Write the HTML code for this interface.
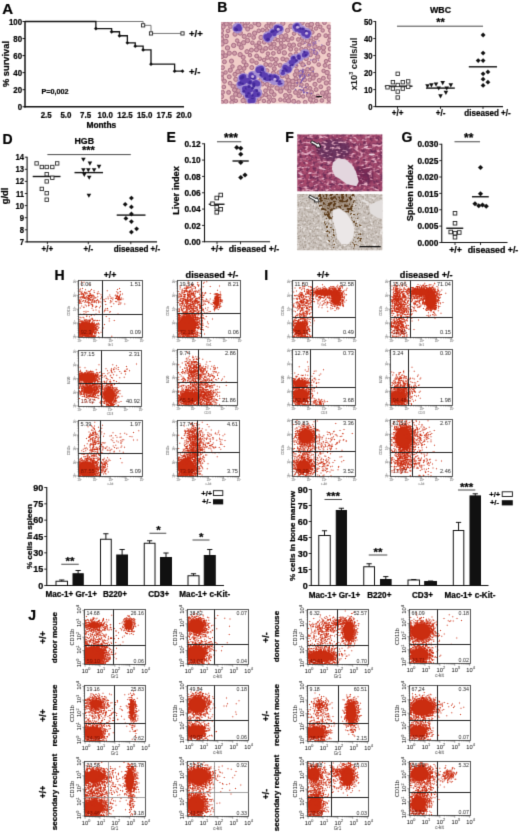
<!DOCTYPE html>
<html><head><meta charset="utf-8"><title>Figure</title>
<style>
html,body{margin:0;padding:0;background:#fff;}
body{width:520px;height:833px;overflow:hidden;}
svg{display:block;font-family:"Liberation Sans",sans-serif;}
</style></head><body>
<svg width="520" height="833" viewBox="0 0 520 833">
<g filter="url(#soft)"><rect width="520" height="833" fill="#fff"/>
<defs>
<clipPath id="cB"><rect x="221.2" y="22" width="109.4" height="81.6"/></clipPath>
<clipPath id="cF1"><rect x="297.3" y="134.6" width="85" height="56.6"/></clipPath>
<clipPath id="cF2"><rect x="297.3" y="194" width="85" height="56.2"/></clipPath>
<filter id="soft" filterUnits="userSpaceOnUse" x="0" y="0" width="520" height="833" color-interpolation-filters="sRGB"><feConvolveMatrix order="3" kernelMatrix="0 1 0 1 5 1 0 1 0" divisor="9" edgeMode="duplicate" preserveAlpha="true"/></filter>
<filter id="bl3" x="0" y="0" width="100%" height="100%" color-interpolation-filters="sRGB"><feConvolveMatrix order="3" kernelMatrix="1 2 1 2 4 2 1 2 1" divisor="16" edgeMode="duplicate" preserveAlpha="false"/></filter>
<filter id="bl6" x="-5%" y="-5%" width="110%" height="110%"><feGaussianBlur stdDeviation="0.7"/></filter>
<filter id="bl12" x="-20%" y="-20%" width="140%" height="140%"><feGaussianBlur stdDeviation="1.6"/></filter>
<filter color-interpolation-filters="sRGB" id="nDark" x="0" y="0" width="100%" height="100%">
 <feTurbulence type="fractalNoise" baseFrequency="0.3" numOctaves="2" seed="4"/>
 <feColorMatrix type="matrix" values="0 0 0 0 0.40  0 0 0 0 0.16  0 0 0 0 0.33  2.7 0 0 0 -1.15"/>
</filter>
<filter color-interpolation-filters="sRGB" id="nLight" x="0" y="0" width="100%" height="100%">
 <feTurbulence type="fractalNoise" baseFrequency="0.22 0.36" numOctaves="2" seed="11"/>
 <feColorMatrix type="matrix" values="0 0 0 0 0.90  0 0 0 0 0.68  0 0 0 0 0.76  0 4.2 0 0 -2.2"/>
</filter>
<filter color-interpolation-filters="sRGB" id="nGrey" x="0" y="0" width="100%" height="100%">
 <feTurbulence type="fractalNoise" baseFrequency="0.45" numOctaves="2" seed="7"/>
 <feColorMatrix type="matrix" values="0 0 0 0 0.60  0 0 0 0 0.55  0 0 0 0 0.50  2.2 0 0 0 -1.0"/>
</filter>
<filter color-interpolation-filters="sRGB" id="nWhite" x="0" y="0" width="100%" height="100%">
 <feTurbulence type="fractalNoise" baseFrequency="0.3" numOctaves="2" seed="21"/>
 <feColorMatrix type="matrix" values="0 0 0 0 0.93  0 0 0 0 0.91  0 0 0 0 0.9  0 3.6 0 0 -1.9"/>
</filter>
<filter color-interpolation-filters="sRGB" id="nBrown2" x="0" y="0" width="100%" height="100%">
 <feTurbulence type="fractalNoise" baseFrequency="0.45" numOctaves="2" seed="9"/>
 <feColorMatrix type="matrix" values="0 0 0 0 0.40  0 0 0 0 0.28  0 0 0 0 0.14  9 0 0 0 -5.1"/>
 <feComposite operator="in" in2="SourceGraphic"/>
</filter>
<filter color-interpolation-filters="sRGB" id="nSpk" x="0" y="0" width="100%" height="100%">
 <feTurbulence type="fractalNoise" baseFrequency="0.6" numOctaves="2" seed="31"/>
 <feColorMatrix type="matrix" values="0 0 0 0 0.50  0 0 0 0 0.45  0 0 0 0 0.40  0 0 4 0 -2.7"/>
</filter>
<filter color-interpolation-filters="sRGB" id="nBrown" x="0" y="0" width="100%" height="100%">
 <feTurbulence type="fractalNoise" baseFrequency="0.36" numOctaves="2" seed="5"/>
 <feColorMatrix type="matrix" values="0 0 0 0 0.36  0 0 0 0 0.23  0 0 0 0 0.10  9 0 0 0 -4.4"/>
 <feComposite operator="in" in2="SourceGraphic"/>
</filter>
</defs>
<text x="2.3" y="13.6" font-size="15" text-anchor="start" font-weight="bold" stroke="#000" stroke-width=".22" fill="#000">A</text>
<path d="M25 21L25 107.45" stroke="#111" stroke-width="1.5" fill="none"/>
<path d="M24.3 106.75L184 106.75" stroke="#111" stroke-width="1.5" fill="none"/>
<path d="M22.5 106.75L25 106.75" stroke="#111" stroke-width="1" fill="none"/>
<text font-size="9.2" text-anchor="end" font-weight="bold" stroke="#000" stroke-width=".22" transform="translate(22.1 109.95) scale(.86 1)" fill="#000">0</text>
<path d="M22.5 89.7L25 89.7" stroke="#111" stroke-width="1" fill="none"/>
<text font-size="9.2" text-anchor="end" font-weight="bold" stroke="#000" stroke-width=".22" transform="translate(22.1 92.9) scale(.86 1)" fill="#000">20</text>
<path d="M22.5 72.65L25 72.65" stroke="#111" stroke-width="1" fill="none"/>
<text font-size="9.2" text-anchor="end" font-weight="bold" stroke="#000" stroke-width=".22" transform="translate(22.1 75.85) scale(.86 1)" fill="#000">40</text>
<path d="M22.5 55.6L25 55.6" stroke="#111" stroke-width="1" fill="none"/>
<text font-size="9.2" text-anchor="end" font-weight="bold" stroke="#000" stroke-width=".22" transform="translate(22.1 58.8) scale(.86 1)" fill="#000">60</text>
<path d="M22.5 38.55L25 38.55" stroke="#111" stroke-width="1" fill="none"/>
<text font-size="9.2" text-anchor="end" font-weight="bold" stroke="#000" stroke-width=".22" transform="translate(22.1 41.75) scale(.86 1)" fill="#000">80</text>
<path d="M22.5 21.5L25 21.5" stroke="#111" stroke-width="1" fill="none"/>
<text font-size="9.2" text-anchor="end" font-weight="bold" stroke="#000" stroke-width=".22" transform="translate(22.1 24.7) scale(.86 1)" fill="#000">100</text>
<text font-size="8.8" text-anchor="middle" font-weight="bold" stroke="#000" stroke-width=".22" transform="translate(46.19 118) scale(.9 1)" fill="#000">2.5</text>
<text font-size="8.8" text-anchor="middle" font-weight="bold" stroke="#000" stroke-width=".22" transform="translate(65.88 118) scale(.9 1)" fill="#000">5.0</text>
<text font-size="8.8" text-anchor="middle" font-weight="bold" stroke="#000" stroke-width=".22" transform="translate(85.56 118) scale(.9 1)" fill="#000">7.5</text>
<text font-size="8.8" text-anchor="middle" font-weight="bold" stroke="#000" stroke-width=".22" transform="translate(105.25 118) scale(.9 1)" fill="#000">10.0</text>
<text font-size="8.8" text-anchor="middle" font-weight="bold" stroke="#000" stroke-width=".22" transform="translate(124.94 118) scale(.9 1)" fill="#000">12.5</text>
<text font-size="8.8" text-anchor="middle" font-weight="bold" stroke="#000" stroke-width=".22" transform="translate(144.62 118) scale(.9 1)" fill="#000">15.0</text>
<text font-size="8.8" text-anchor="middle" font-weight="bold" stroke="#000" stroke-width=".22" transform="translate(164.31 118) scale(.9 1)" fill="#000">17.5</text>
<text font-size="8.8" text-anchor="middle" font-weight="bold" stroke="#000" stroke-width=".22" transform="translate(184 118) scale(.9 1)" fill="#000">20.0</text>
<text x="9.3" y="64" font-size="9.3" text-anchor="middle" font-weight="bold" stroke="#000" stroke-width=".22" transform="rotate(-90 9.3 64)" fill="#000">% survival</text>
<text x="101.3" y="128.3" font-size="8.4" text-anchor="middle" font-weight="bold" stroke="#000" stroke-width=".22" fill="#000">Months</text>
<text x="41.5" y="94.3" font-size="7.2" text-anchor="start" font-weight="bold" stroke="#000" stroke-width=".22" fill="#000">P=0,002</text>
<path d="M25 21.5L143.12 21.5L143.12 25.34L151 25.34L151 33.44L182.5 33.44" stroke="#666" stroke-width=".9" fill="none"/>
<rect x="141.53" y="23.74" width="3.2" height="3.2" fill="#fff" stroke="#222" stroke-width=".9"/>
<rect x="149.4" y="31.84" width="3.2" height="3.2" fill="#fff" stroke="#222" stroke-width=".9"/>
<rect x="180.9" y="31.84" width="3.2" height="3.2" fill="#fff" stroke="#222" stroke-width=".9"/>
<path d="M25 21.5L95.88 21.5L95.88 28.58L111.62 28.58L111.62 31.73L119.5 31.73L119.5 35.74L127.38 35.74L127.38 42.81L135.25 42.81L135.25 46.22L143.12 46.22L143.12 49.89L151 49.89L151 64.12L174.62 64.12L174.62 71.2L182.5 71.2" stroke="#111" stroke-width="1.3" fill="none"/>
<path d="M95.88 26.68l1.9 1.9l-1.9 1.9l-1.9 -1.9z" fill="#111"/>
<path d="M111.62 29.83l1.9 1.9l-1.9 1.9l-1.9 -1.9z" fill="#111"/>
<path d="M119.5 33.84l1.9 1.9l-1.9 1.9l-1.9 -1.9z" fill="#111"/>
<path d="M127.38 40.91l1.9 1.9l-1.9 1.9l-1.9 -1.9z" fill="#111"/>
<path d="M135.25 44.32l1.9 1.9l-1.9 1.9l-1.9 -1.9z" fill="#111"/>
<path d="M143.12 47.99l1.9 1.9l-1.9 1.9l-1.9 -1.9z" fill="#111"/>
<path d="M151 62.23l1.9 1.9l-1.9 1.9l-1.9 -1.9z" fill="#111"/>
<path d="M174.62 69.3l1.9 1.9l-1.9 1.9l-1.9 -1.9z" fill="#111"/>
<path d="M182.5 69.3l1.9 1.9l-1.9 1.9l-1.9 -1.9z" fill="#111"/>
<text x="189" y="36.5" font-size="9.5" text-anchor="start" font-weight="bold" stroke="#000" stroke-width=".22" fill="#000">+/+</text>
<text x="189" y="74.5" font-size="9.5" text-anchor="start" font-weight="bold" stroke="#000" stroke-width=".22" fill="#000">+/-</text>
<text x="217.3" y="12.3" font-size="14" text-anchor="start" font-weight="bold" stroke="#000" stroke-width=".22" fill="#000">B</text>
<g clip-path="url(#cB)"><g>
<rect x="219.2" y="20" width="113.4" height="85.6" fill="#f0ccc8"/>
<circle cx="294.11" cy="33.64" r="1.79" fill="#cf9ca8" stroke="#a66c84" stroke-width="1"/>
<circle cx="222.39" cy="52.58" r="1.99" fill="#cf9ca8" stroke="#a66c84" stroke-width="1"/>
<circle cx="296.75" cy="71.08" r="2.2" fill="#cf9ca8" stroke="#a66c84" stroke-width="1"/>
<circle cx="282.27" cy="75.96" r="1.92" fill="#cf9ca8" stroke="#a66c84" stroke-width="1"/>
<circle cx="320.31" cy="26.8" r="1.75" fill="#cf9ca8" stroke="#a66c84" stroke-width="1"/>
<circle cx="310.78" cy="28.09" r="2.03" fill="#cf9ca8" stroke="#a66c84" stroke-width="1"/>
<circle cx="296.35" cy="49.5" r="1.76" fill="#cf9ca8" stroke="#a66c84" stroke-width="1"/>
<circle cx="265.46" cy="90.74" r="1.9" fill="#cf9ca8" stroke="#a66c84" stroke-width="1"/>
<circle cx="223.24" cy="26.96" r="2.01" fill="#cf9ca8" stroke="#a66c84" stroke-width="1"/>
<circle cx="329.19" cy="99.25" r="2.1" fill="#cf9ca8" stroke="#a66c84" stroke-width="1"/>
<circle cx="226.82" cy="35.97" r="1.84" fill="#cf9ca8" stroke="#a66c84" stroke-width="1"/>
<circle cx="310.44" cy="54.68" r="2" fill="#cf9ca8" stroke="#a66c84" stroke-width="1"/>
<circle cx="267.02" cy="70.63" r="1.98" fill="#cf9ca8" stroke="#a66c84" stroke-width="1"/>
<circle cx="273.36" cy="53.38" r="1.93" fill="#cf9ca8" stroke="#a66c84" stroke-width="1"/>
<circle cx="224.54" cy="81.27" r="1.99" fill="#cf9ca8" stroke="#a66c84" stroke-width="1"/>
<circle cx="246.91" cy="51.65" r="2.03" fill="#cf9ca8" stroke="#a66c84" stroke-width="1"/>
<circle cx="277.14" cy="88.1" r="2.25" fill="#cf9ca8" stroke="#a66c84" stroke-width="1"/>
<circle cx="277.98" cy="40.13" r="1.81" fill="#cf9ca8" stroke="#a66c84" stroke-width="1"/>
<circle cx="267.94" cy="53.68" r="1.83" fill="#cf9ca8" stroke="#a66c84" stroke-width="1"/>
<circle cx="281.37" cy="36.53" r="2.13" fill="#cf9ca8" stroke="#a66c84" stroke-width="1"/>
<circle cx="251.45" cy="50.08" r="2" fill="#cf9ca8" stroke="#a66c84" stroke-width="1"/>
<circle cx="290.88" cy="26.25" r="2.2" fill="#cf9ca8" stroke="#a66c84" stroke-width="1"/>
<circle cx="252.04" cy="60.86" r="2.22" fill="#cf9ca8" stroke="#a66c84" stroke-width="1"/>
<circle cx="326.09" cy="61.25" r="1.83" fill="#cf9ca8" stroke="#a66c84" stroke-width="1"/>
<circle cx="325.77" cy="35.67" r="1.9" fill="#cf9ca8" stroke="#a66c84" stroke-width="1"/>
<circle cx="261.04" cy="37.44" r="2.19" fill="#cf9ca8" stroke="#a66c84" stroke-width="1"/>
<circle cx="303.09" cy="96.42" r="1.8" fill="#cf9ca8" stroke="#a66c84" stroke-width="1"/>
<circle cx="221.93" cy="43.89" r="2.25" fill="#cf9ca8" stroke="#a66c84" stroke-width="1"/>
<circle cx="247.63" cy="22.7" r="1.95" fill="#cf9ca8" stroke="#a66c84" stroke-width="1"/>
<circle cx="225.58" cy="72.52" r="1.79" fill="#cf9ca8" stroke="#a66c84" stroke-width="1"/>
<circle cx="328.83" cy="103.48" r="1.97" fill="#cf9ca8" stroke="#a66c84" stroke-width="1"/>
<circle cx="312.22" cy="74.18" r="2.15" fill="#cf9ca8" stroke="#a66c84" stroke-width="1"/>
<circle cx="246.31" cy="65.02" r="1.94" fill="#cf9ca8" stroke="#a66c84" stroke-width="1"/>
<circle cx="273.43" cy="73.16" r="2.08" fill="#cf9ca8" stroke="#a66c84" stroke-width="1"/>
<circle cx="319.04" cy="35.23" r="1.79" fill="#cf9ca8" stroke="#a66c84" stroke-width="1"/>
<circle cx="298.29" cy="39.47" r="1.89" fill="#cf9ca8" stroke="#a66c84" stroke-width="1"/>
<circle cx="252.38" cy="42.8" r="1.84" fill="#cf9ca8" stroke="#a66c84" stroke-width="1"/>
<circle cx="295.95" cy="78.64" r="1.92" fill="#cf9ca8" stroke="#a66c84" stroke-width="1"/>
<circle cx="235.61" cy="94.33" r="2.1" fill="#cf9ca8" stroke="#a66c84" stroke-width="1"/>
<circle cx="268.82" cy="101.93" r="1.81" fill="#cf9ca8" stroke="#a66c84" stroke-width="1"/>
<circle cx="321.84" cy="100.5" r="1.84" fill="#cf9ca8" stroke="#a66c84" stroke-width="1"/>
<circle cx="285.57" cy="95.52" r="2.1" fill="#cf9ca8" stroke="#a66c84" stroke-width="1"/>
<circle cx="307.54" cy="69.34" r="1.87" fill="#cf9ca8" stroke="#a66c84" stroke-width="1"/>
<circle cx="282.83" cy="23.4" r="2.13" fill="#cf9ca8" stroke="#a66c84" stroke-width="1"/>
<circle cx="298.89" cy="95.75" r="1.9" fill="#cf9ca8" stroke="#a66c84" stroke-width="1"/>
<circle cx="308.47" cy="95.23" r="2.13" fill="#cf9ca8" stroke="#a66c84" stroke-width="1"/>
<circle cx="262.71" cy="30.02" r="1.83" fill="#cf9ca8" stroke="#a66c84" stroke-width="1"/>
<circle cx="259.84" cy="47.47" r="2.2" fill="#cf9ca8" stroke="#a66c84" stroke-width="1"/>
<circle cx="323.38" cy="78.23" r="1.96" fill="#cf9ca8" stroke="#a66c84" stroke-width="1"/>
<circle cx="264.32" cy="42.05" r="2.06" fill="#cf9ca8" stroke="#a66c84" stroke-width="1"/>
<circle cx="265.71" cy="48.41" r="2.02" fill="#cf9ca8" stroke="#a66c84" stroke-width="1"/>
<circle cx="304.3" cy="75.81" r="1.81" fill="#cf9ca8" stroke="#a66c84" stroke-width="1"/>
<circle cx="323.46" cy="51.83" r="1.93" fill="#cf9ca8" stroke="#a66c84" stroke-width="1"/>
<circle cx="224.45" cy="61.81" r="1.98" fill="#cf9ca8" stroke="#a66c84" stroke-width="1"/>
<circle cx="324.45" cy="22.63" r="1.93" fill="#cf9ca8" stroke="#a66c84" stroke-width="1"/>
<circle cx="243.23" cy="57.29" r="2.03" fill="#cf9ca8" stroke="#a66c84" stroke-width="1"/>
<circle cx="245.31" cy="96.98" r="2.22" fill="#cf9ca8" stroke="#a66c84" stroke-width="1"/>
<circle cx="313.41" cy="42.39" r="1.9" fill="#cf9ca8" stroke="#a66c84" stroke-width="1"/>
<circle cx="271.48" cy="91.75" r="2.17" fill="#cf9ca8" stroke="#a66c84" stroke-width="1"/>
<circle cx="293.76" cy="101.35" r="2.1" fill="#cf9ca8" stroke="#a66c84" stroke-width="1"/>
<circle cx="256.46" cy="62.79" r="1.81" fill="#cf9ca8" stroke="#a66c84" stroke-width="1"/>
<circle cx="309.11" cy="45.31" r="2.04" fill="#cf9ca8" stroke="#a66c84" stroke-width="1"/>
<circle cx="323.61" cy="70.86" r="1.77" fill="#cf9ca8" stroke="#a66c84" stroke-width="1"/>
<circle cx="319.36" cy="48.19" r="1.77" fill="#cf9ca8" stroke="#a66c84" stroke-width="1"/>
<circle cx="234.97" cy="74.3" r="2.04" fill="#cf9ca8" stroke="#a66c84" stroke-width="1"/>
<circle cx="249.99" cy="55.2" r="1.77" fill="#cf9ca8" stroke="#a66c84" stroke-width="1"/>
<circle cx="243.64" cy="42.78" r="2.19" fill="#cf9ca8" stroke="#a66c84" stroke-width="1"/>
<circle cx="254.62" cy="33.2" r="2.21" fill="#cf9ca8" stroke="#a66c84" stroke-width="1"/>
<circle cx="317.45" cy="24.01" r="1.81" fill="#cf9ca8" stroke="#a66c84" stroke-width="1"/>
<circle cx="254.94" cy="23.06" r="1.97" fill="#cf9ca8" stroke="#a66c84" stroke-width="1"/>
<circle cx="253.65" cy="37.51" r="1.9" fill="#cf9ca8" stroke="#a66c84" stroke-width="1"/>
<circle cx="241.34" cy="47.46" r="2.06" fill="#cf9ca8" stroke="#a66c84" stroke-width="1"/>
<circle cx="287.59" cy="30.35" r="2.19" fill="#cf9ca8" stroke="#a66c84" stroke-width="1"/>
<circle cx="296.14" cy="65.76" r="1.82" fill="#cf9ca8" stroke="#a66c84" stroke-width="1"/>
<circle cx="270.26" cy="65.05" r="2.09" fill="#cf9ca8" stroke="#a66c84" stroke-width="1"/>
<circle cx="292.47" cy="87.34" r="1.95" fill="#cf9ca8" stroke="#a66c84" stroke-width="1"/>
<circle cx="299.42" cy="44.73" r="1.86" fill="#cf9ca8" stroke="#a66c84" stroke-width="1"/>
<circle cx="228.03" cy="30.82" r="1.88" fill="#cf9ca8" stroke="#a66c84" stroke-width="1"/>
<circle cx="230.42" cy="26.6" r="1.91" fill="#cf9ca8" stroke="#a66c84" stroke-width="1"/>
<circle cx="288.57" cy="100.8" r="2.21" fill="#cf9ca8" stroke="#a66c84" stroke-width="1"/>
<circle cx="326.28" cy="82.93" r="2.13" fill="#cf9ca8" stroke="#a66c84" stroke-width="1"/>
<circle cx="280.61" cy="47.78" r="2.24" fill="#cf9ca8" stroke="#a66c84" stroke-width="1"/>
<circle cx="247.64" cy="29.11" r="2" fill="#cf9ca8" stroke="#a66c84" stroke-width="1"/>
<circle cx="286.85" cy="76.6" r="2.07" fill="#cf9ca8" stroke="#a66c84" stroke-width="1"/>
<circle cx="242.51" cy="72.95" r="2" fill="#cf9ca8" stroke="#a66c84" stroke-width="1"/>
<circle cx="280.38" cy="99.71" r="1.8" fill="#cf9ca8" stroke="#a66c84" stroke-width="1"/>
<circle cx="302.7" cy="42.57" r="1.9" fill="#cf9ca8" stroke="#a66c84" stroke-width="1"/>
<circle cx="266.98" cy="30.35" r="1.81" fill="#cf9ca8" stroke="#a66c84" stroke-width="1"/>
<circle cx="284.34" cy="52.88" r="2.21" fill="#cf9ca8" stroke="#a66c84" stroke-width="1"/>
<circle cx="330.33" cy="48.96" r="2.13" fill="#cf9ca8" stroke="#a66c84" stroke-width="1"/>
<circle cx="276.17" cy="59.53" r="2.09" fill="#cf9ca8" stroke="#a66c84" stroke-width="1"/>
<circle cx="240.13" cy="54.62" r="2.15" fill="#cf9ca8" stroke="#a66c84" stroke-width="1"/>
<circle cx="229.26" cy="76.8" r="1.98" fill="#cf9ca8" stroke="#a66c84" stroke-width="1"/>
<circle cx="329.46" cy="76.98" r="2.24" fill="#cf9ca8" stroke="#a66c84" stroke-width="1"/>
<circle cx="273.59" cy="100.26" r="2.19" fill="#cf9ca8" stroke="#a66c84" stroke-width="1"/>
<circle cx="264.06" cy="59.97" r="1.81" fill="#cf9ca8" stroke="#a66c84" stroke-width="1"/>
<circle cx="260.52" cy="80.35" r="1.91" fill="#cf9ca8" stroke="#a66c84" stroke-width="1"/>
<circle cx="288.61" cy="80.29" r="2.04" fill="#cf9ca8" stroke="#a66c84" stroke-width="1"/>
<circle cx="263.9" cy="100.92" r="1.83" fill="#cf9ca8" stroke="#a66c84" stroke-width="1"/>
<circle cx="266.47" cy="26.23" r="1.8" fill="#cf9ca8" stroke="#a66c84" stroke-width="1"/>
<circle cx="234.53" cy="89.88" r="2.04" fill="#cf9ca8" stroke="#a66c84" stroke-width="1"/>
<circle cx="237.18" cy="40.61" r="1.78" fill="#cf9ca8" stroke="#a66c84" stroke-width="1"/>
<circle cx="279.01" cy="51.95" r="1.8" fill="#cf9ca8" stroke="#a66c84" stroke-width="1"/>
<circle cx="280.71" cy="91.12" r="2.18" fill="#cf9ca8" stroke="#a66c84" stroke-width="1"/>
<circle cx="261.96" cy="95.47" r="1.89" fill="#cf9ca8" stroke="#a66c84" stroke-width="1"/>
<circle cx="223.86" cy="86.96" r="1.87" fill="#cf9ca8" stroke="#a66c84" stroke-width="1"/>
<circle cx="278.94" cy="72.79" r="2.07" fill="#cf9ca8" stroke="#a66c84" stroke-width="1"/>
<circle cx="329.55" cy="39.94" r="1.9" fill="#cf9ca8" stroke="#a66c84" stroke-width="1"/>
<circle cx="302.89" cy="64.78" r="2.13" fill="#cf9ca8" stroke="#a66c84" stroke-width="1"/>
<circle cx="316.29" cy="75.05" r="1.88" fill="#cf9ca8" stroke="#a66c84" stroke-width="1"/>
<circle cx="225.85" cy="101.61" r="2.03" fill="#cf9ca8" stroke="#a66c84" stroke-width="1"/>
<circle cx="235.87" cy="100.84" r="1.76" fill="#cf9ca8" stroke="#a66c84" stroke-width="1"/>
<circle cx="311.63" cy="92.19" r="1.91" fill="#cf9ca8" stroke="#a66c84" stroke-width="1"/>
<circle cx="293.49" cy="45.05" r="2.11" fill="#cf9ca8" stroke="#a66c84" stroke-width="1"/>
<circle cx="280.14" cy="65.23" r="2.01" fill="#cf9ca8" stroke="#a66c84" stroke-width="1"/>
<circle cx="227.5" cy="47.95" r="2.19" fill="#cf9ca8" stroke="#a66c84" stroke-width="1"/>
<circle cx="231.48" cy="61.09" r="2.06" fill="#cf9ca8" stroke="#a66c84" stroke-width="1"/>
<circle cx="272.39" cy="85.34" r="1.82" fill="#cf9ca8" stroke="#a66c84" stroke-width="1"/>
<circle cx="298.47" cy="102.36" r="1.78" fill="#cf9ca8" stroke="#a66c84" stroke-width="1"/>
<circle cx="285.79" cy="35.76" r="2.17" fill="#cf9ca8" stroke="#a66c84" stroke-width="1"/>
<circle cx="257.09" cy="102.61" r="1.82" fill="#cf9ca8" stroke="#a66c84" stroke-width="1"/>
<circle cx="243.12" cy="100.57" r="2.19" fill="#cf9ca8" stroke="#a66c84" stroke-width="1"/>
<circle cx="274.23" cy="94.6" r="1.92" fill="#cf9ca8" stroke="#a66c84" stroke-width="1"/>
<circle cx="239.03" cy="44.18" r="1.96" fill="#cf9ca8" stroke="#a66c84" stroke-width="1"/>
<circle cx="312.17" cy="32.28" r="1.98" fill="#cf9ca8" stroke="#a66c84" stroke-width="1"/>
<circle cx="269.22" cy="97.19" r="2.22" fill="#cf9ca8" stroke="#a66c84" stroke-width="1"/>
<circle cx="249.99" cy="80.85" r="1.88" fill="#cf9ca8" stroke="#a66c84" stroke-width="1"/>
<circle cx="328.94" cy="55.15" r="1.77" fill="#cf9ca8" stroke="#a66c84" stroke-width="1"/>
<circle cx="325.08" cy="96.58" r="1.86" fill="#cf9ca8" stroke="#a66c84" stroke-width="1"/>
<circle cx="330.45" cy="30.64" r="2.01" fill="#cf9ca8" stroke="#a66c84" stroke-width="1"/>
<circle cx="273.38" cy="22.33" r="1.99" fill="#cf9ca8" stroke="#a66c84" stroke-width="1"/>
<circle cx="230.51" cy="22.59" r="1.77" fill="#cf9ca8" stroke="#a66c84" stroke-width="1"/>
<circle cx="295.53" cy="92.43" r="2.02" fill="#cf9ca8" stroke="#a66c84" stroke-width="1"/>
<circle cx="240.23" cy="33.05" r="2.19" fill="#cf9ca8" stroke="#a66c84" stroke-width="1"/>
<circle cx="258.8" cy="30.81" r="1.86" fill="#cf9ca8" stroke="#a66c84" stroke-width="1"/>
<circle cx="328.74" cy="88.41" r="1.8" fill="#cf9ca8" stroke="#a66c84" stroke-width="1"/>
<circle cx="236.9" cy="86.61" r="2.19" fill="#cf9ca8" stroke="#a66c84" stroke-width="1"/>
<circle cx="230.06" cy="83.23" r="1.87" fill="#cf9ca8" stroke="#a66c84" stroke-width="1"/>
<circle cx="301.52" cy="84.65" r="1.79" fill="#cf9ca8" stroke="#a66c84" stroke-width="1"/>
<circle cx="328.93" cy="26.9" r="1.97" fill="#cf9ca8" stroke="#a66c84" stroke-width="1"/>
<circle cx="305.76" cy="48.92" r="1.85" fill="#cf9ca8" stroke="#a66c84" stroke-width="1"/>
<circle cx="239.85" cy="67.67" r="2.18" fill="#cf9ca8" stroke="#a66c84" stroke-width="1"/>
<circle cx="322.69" cy="30.44" r="1.77" fill="#cf9ca8" stroke="#a66c84" stroke-width="1"/>
<circle cx="282.79" cy="58.91" r="1.98" fill="#cf9ca8" stroke="#a66c84" stroke-width="1"/>
<circle cx="221.81" cy="74.16" r="2.18" fill="#cf9ca8" stroke="#a66c84" stroke-width="1"/>
<circle cx="251.82" cy="67.52" r="2.03" fill="#cf9ca8" stroke="#a66c84" stroke-width="1"/>
<circle cx="243.92" cy="61.87" r="2.13" fill="#cf9ca8" stroke="#a66c84" stroke-width="1"/>
<circle cx="314.97" cy="84.32" r="2.09" fill="#cf9ca8" stroke="#a66c84" stroke-width="1"/>
<circle cx="234.56" cy="53.28" r="2.05" fill="#cf9ca8" stroke="#a66c84" stroke-width="1"/>
<circle cx="289.32" cy="91.19" r="1.76" fill="#cf9ca8" stroke="#a66c84" stroke-width="1"/>
<circle cx="282.82" cy="87.31" r="1.97" fill="#cf9ca8" stroke="#a66c84" stroke-width="1"/>
<circle cx="270.95" cy="47.65" r="2.25" fill="#cf9ca8" stroke="#a66c84" stroke-width="1"/>
<circle cx="320.8" cy="86.76" r="1.92" fill="#cf9ca8" stroke="#a66c84" stroke-width="1"/>
<circle cx="267.06" cy="84.28" r="1.98" fill="#cf9ca8" stroke="#a66c84" stroke-width="1"/>
<circle cx="284.66" cy="100.27" r="1.78" fill="#cf9ca8" stroke="#a66c84" stroke-width="1"/>
<circle cx="295.14" cy="74.73" r="1.98" fill="#cf9ca8" stroke="#a66c84" stroke-width="1"/>
<circle cx="256.6" cy="55.98" r="1.94" fill="#cf9ca8" stroke="#a66c84" stroke-width="1"/>
<circle cx="319.23" cy="80.43" r="2.04" fill="#cf9ca8" stroke="#a66c84" stroke-width="1"/>
<circle cx="235.06" cy="34.1" r="2.17" fill="#cf9ca8" stroke="#a66c84" stroke-width="1"/>
<circle cx="311.21" cy="38.16" r="1.93" fill="#cf9ca8" stroke="#a66c84" stroke-width="1"/>
<circle cx="302.35" cy="38.11" r="1.97" fill="#cf9ca8" stroke="#a66c84" stroke-width="1"/>
<circle cx="286.72" cy="87.93" r="2.2" fill="#cf9ca8" stroke="#a66c84" stroke-width="1"/>
<circle cx="299.83" cy="55.8" r="2.03" fill="#cf9ca8" stroke="#a66c84" stroke-width="1"/>
<circle cx="327.13" cy="72.57" r="2.22" fill="#cf9ca8" stroke="#a66c84" stroke-width="1"/>
<circle cx="283.92" cy="39.89" r="1.78" fill="#cf9ca8" stroke="#a66c84" stroke-width="1"/>
<circle cx="317.76" cy="56.82" r="2.13" fill="#cf9ca8" stroke="#a66c84" stroke-width="1"/>
<circle cx="288.13" cy="39.95" r="1.96" fill="#cf9ca8" stroke="#a66c84" stroke-width="1"/>
<circle cx="247.55" cy="40.52" r="2.19" fill="#cf9ca8" stroke="#a66c84" stroke-width="1"/>
<circle cx="322.65" cy="93.07" r="2.23" fill="#cf9ca8" stroke="#a66c84" stroke-width="1"/>
<circle cx="258.59" cy="24.57" r="2.25" fill="#cf9ca8" stroke="#a66c84" stroke-width="1"/>
<circle cx="232.31" cy="97.89" r="2.19" fill="#cf9ca8" stroke="#a66c84" stroke-width="1"/>
<circle cx="296" cy="84.6" r="1.93" fill="#cf9ca8" stroke="#a66c84" stroke-width="1"/>
<circle cx="221.68" cy="56.72" r="2.02" fill="#cf9ca8" stroke="#a66c84" stroke-width="1"/>
<circle cx="329.3" cy="95.28" r="2.23" fill="#cf9ca8" stroke="#a66c84" stroke-width="1"/>
<circle cx="222.49" cy="67.63" r="2.01" fill="#cf9ca8" stroke="#a66c84" stroke-width="1"/>
<circle cx="286.77" cy="59.91" r="2.09" fill="#cf9ca8" stroke="#a66c84" stroke-width="1"/>
<circle cx="312.37" cy="103.38" r="1.84" fill="#cf9ca8" stroke="#a66c84" stroke-width="1"/>
<circle cx="259.1" cy="42.77" r="1.86" fill="#cf9ca8" stroke="#a66c84" stroke-width="1"/>
<circle cx="315.99" cy="28.49" r="1.81" fill="#cf9ca8" stroke="#a66c84" stroke-width="1"/>
<circle cx="314.49" cy="60.88" r="2.13" fill="#cf9ca8" stroke="#a66c84" stroke-width="1"/>
<circle cx="229.24" cy="53.17" r="2.15" fill="#cf9ca8" stroke="#a66c84" stroke-width="1"/>
<circle cx="307.4" cy="25.04" r="1.91" fill="#cf9ca8" stroke="#a66c84" stroke-width="1"/>
<circle cx="275.46" cy="63.94" r="1.94" fill="#cf9ca8" stroke="#a66c84" stroke-width="1"/>
<circle cx="328.04" cy="43.63" r="1.83" fill="#cf9ca8" stroke="#a66c84" stroke-width="1"/>
<circle cx="309.67" cy="79.71" r="1.78" fill="#cf9ca8" stroke="#a66c84" stroke-width="1"/>
<circle cx="301.54" cy="49.28" r="1.91" fill="#cf9ca8" stroke="#a66c84" stroke-width="1"/>
<circle cx="310.39" cy="50.55" r="1.83" fill="#cf9ca8" stroke="#a66c84" stroke-width="1"/>
<circle cx="269.91" cy="43.2" r="2.08" fill="#cf9ca8" stroke="#a66c84" stroke-width="1"/>
<circle cx="221.32" cy="34.94" r="2.24" fill="#cf9ca8" stroke="#a66c84" stroke-width="1"/>
<circle cx="330.17" cy="66.59" r="2.22" fill="#cf9ca8" stroke="#a66c84" stroke-width="1"/>
<circle cx="326.73" cy="92.33" r="1.91" fill="#cf9ca8" stroke="#a66c84" stroke-width="1"/>
<circle cx="271.68" cy="58.98" r="2.13" fill="#cf9ca8" stroke="#a66c84" stroke-width="1"/>
<circle cx="249.34" cy="35.14" r="1.93" fill="#cf9ca8" stroke="#a66c84" stroke-width="1"/>
<circle cx="226.34" cy="23.86" r="2.1" fill="#cf9ca8" stroke="#a66c84" stroke-width="1"/>
<circle cx="274.15" cy="34.02" r="2.15" fill="#cf9ca8" stroke="#a66c84" stroke-width="1"/>
<circle cx="249.37" cy="85.85" r="1.78" fill="#cf9ca8" stroke="#a66c84" stroke-width="1"/>
<circle cx="233.66" cy="45.44" r="2.17" fill="#cf9ca8" stroke="#a66c84" stroke-width="1"/>
<circle cx="290.05" cy="96.33" r="2.06" fill="#cf9ca8" stroke="#a66c84" stroke-width="1"/>
<circle cx="300.27" cy="33.42" r="2.17" fill="#cf9ca8" stroke="#a66c84" stroke-width="1"/>
<circle cx="244.08" cy="68.43" r="1.92" fill="#cf9ca8" stroke="#a66c84" stroke-width="1"/>
<circle cx="310.02" cy="88.37" r="1.89" fill="#cf9ca8" stroke="#a66c84" stroke-width="1"/>
<circle cx="305.23" cy="102.28" r="1.94" fill="#cf9ca8" stroke="#a66c84" stroke-width="1"/>
<circle cx="290.64" cy="49.1" r="2.03" fill="#cf9ca8" stroke="#a66c84" stroke-width="1"/>
<circle cx="228.61" cy="92.4" r="1.95" fill="#cf9ca8" stroke="#a66c84" stroke-width="1"/>
<circle cx="274.15" cy="43.98" r="1.99" fill="#cf9ca8" stroke="#a66c84" stroke-width="1"/>
<circle cx="316.11" cy="89.58" r="1.97" fill="#cf9ca8" stroke="#a66c84" stroke-width="1"/>
<circle cx="290.5" cy="55.01" r="1.91" fill="#cf9ca8" stroke="#a66c84" stroke-width="1"/>
<circle cx="308.74" cy="62.95" r="1.76" fill="#cf9ca8" stroke="#a66c84" stroke-width="1"/>
<circle cx="317.77" cy="95.93" r="1.79" fill="#cf9ca8" stroke="#a66c84" stroke-width="1"/>
<circle cx="235.78" cy="79.33" r="2.1" fill="#cf9ca8" stroke="#a66c84" stroke-width="1"/>
<circle cx="256.17" cy="45.59" r="1.75" fill="#cf9ca8" stroke="#a66c84" stroke-width="1"/>
<circle cx="316.12" cy="100.87" r="1.76" fill="#cf9ca8" stroke="#a66c84" stroke-width="1"/>
<circle cx="267.42" cy="57.64" r="1.82" fill="#cf9ca8" stroke="#a66c84" stroke-width="1"/>
<circle cx="245.19" cy="26.03" r="1.95" fill="#cf9ca8" stroke="#a66c84" stroke-width="1"/>
<circle cx="300.38" cy="61.65" r="1.98" fill="#cf9ca8" stroke="#a66c84" stroke-width="1"/>
<circle cx="221.62" cy="78.13" r="2.15" fill="#cf9ca8" stroke="#a66c84" stroke-width="1"/>
<circle cx="300.03" cy="74.8" r="2.05" fill="#cf9ca8" stroke="#a66c84" stroke-width="1"/>
<circle cx="239.41" cy="95.31" r="2.24" fill="#cf9ca8" stroke="#a66c84" stroke-width="1"/>
<circle cx="307.54" cy="40.61" r="2.25" fill="#cf9ca8" stroke="#a66c84" stroke-width="1"/>
<circle cx="299.42" cy="81.14" r="2.11" fill="#cf9ca8" stroke="#a66c84" stroke-width="1"/>
<circle cx="305.35" cy="89.31" r="2.06" fill="#cf9ca8" stroke="#a66c84" stroke-width="1"/>
<circle cx="316.1" cy="37.95" r="1.98" fill="#cf9ca8" stroke="#a66c84" stroke-width="1"/>
<circle cx="241.76" cy="85.57" r="1.82" fill="#cf9ca8" stroke="#a66c84" stroke-width="1"/>
<circle cx="330.43" cy="82.42" r="1.94" fill="#cf9ca8" stroke="#a66c84" stroke-width="1"/>
<circle cx="232.89" cy="86.18" r="1.94" fill="#cf9ca8" stroke="#a66c84" stroke-width="1"/>
<circle cx="314.95" cy="46.73" r="2.21" fill="#cf9ca8" stroke="#a66c84" stroke-width="1"/>
<circle cx="256.41" cy="49.83" r="2.06" fill="#cf9ca8" stroke="#a66c84" stroke-width="1"/>
<circle cx="311.93" cy="68.97" r="2.15" fill="#cf9ca8" stroke="#a66c84" stroke-width="1"/>
<circle cx="262.55" cy="84.08" r="1.91" fill="#cf9ca8" stroke="#a66c84" stroke-width="1"/>
<circle cx="292.11" cy="38.46" r="1.82" fill="#cf9ca8" stroke="#a66c84" stroke-width="1"/>
<circle cx="251.07" cy="26.75" r="2.08" fill="#cf9ca8" stroke="#a66c84" stroke-width="1"/>
<circle cx="274.33" cy="38.63" r="2.16" fill="#cf9ca8" stroke="#a66c84" stroke-width="1"/>
<circle cx="271.28" cy="26.55" r="1.99" fill="#cf9ca8" stroke="#a66c84" stroke-width="1"/>
<circle cx="325.08" cy="65.41" r="1.98" fill="#cf9ca8" stroke="#a66c84" stroke-width="1"/>
<circle cx="310.39" cy="99.52" r="2.04" fill="#cf9ca8" stroke="#a66c84" stroke-width="1"/>
<circle cx="299.92" cy="91.34" r="1.97" fill="#cf9ca8" stroke="#a66c84" stroke-width="1"/>
<circle cx="290.4" cy="62.24" r="1.8" fill="#cf9ca8" stroke="#a66c84" stroke-width="1"/>
<circle cx="221.34" cy="30.98" r="2.21" fill="#cf9ca8" stroke="#a66c84" stroke-width="1"/>
<circle cx="244.22" cy="36.4" r="2.12" fill="#cf9ca8" stroke="#a66c84" stroke-width="1"/>
<circle cx="271.01" cy="31.64" r="2.02" fill="#cf9ca8" stroke="#a66c84" stroke-width="1"/>
<circle cx="303.71" cy="71.65" r="2.13" fill="#cf9ca8" stroke="#a66c84" stroke-width="1"/>
<circle cx="315.06" cy="52.5" r="2.03" fill="#cf9ca8" stroke="#a66c84" stroke-width="1"/>
<circle cx="247.33" cy="102.69" r="2.04" fill="#cf9ca8" stroke="#a66c84" stroke-width="1"/>
<circle cx="268.86" cy="22.74" r="1.83" fill="#cf9ca8" stroke="#a66c84" stroke-width="1"/>
<circle cx="302.13" cy="22.66" r="2.09" fill="#cf9ca8" stroke="#a66c84" stroke-width="1"/>
<circle cx="281.03" cy="43.16" r="1.76" fill="#cf9ca8" stroke="#a66c84" stroke-width="1"/>
<circle cx="308.23" cy="74.4" r="2.13" fill="#cf9ca8" stroke="#a66c84" stroke-width="1"/>
<circle cx="306.2" cy="58.45" r="2.21" fill="#cf9ca8" stroke="#a66c84" stroke-width="1"/>
<circle cx="225.83" cy="41.49" r="2.24" fill="#cf9ca8" stroke="#a66c84" stroke-width="1"/>
<circle cx="292.79" cy="81.41" r="2.2" fill="#cf9ca8" stroke="#a66c84" stroke-width="1"/>
<circle cx="274.26" cy="68.72" r="2.03" fill="#cf9ca8" stroke="#a66c84" stroke-width="1"/>
<circle cx="318.72" cy="64.64" r="1.82" fill="#cf9ca8" stroke="#a66c84" stroke-width="1"/>
<circle cx="304.58" cy="79.86" r="1.98" fill="#cf9ca8" stroke="#a66c84" stroke-width="1"/>
<circle cx="221.44" cy="96.58" r="2.24" fill="#cf9ca8" stroke="#a66c84" stroke-width="1"/>
<circle cx="242.11" cy="23.55" r="1.91" fill="#cf9ca8" stroke="#a66c84" stroke-width="1"/>
<circle cx="222.6" cy="92.31" r="1.92" fill="#cf9ca8" stroke="#a66c84" stroke-width="1"/>
<circle cx="259.84" cy="58.72" r="1.8" fill="#cf9ca8" stroke="#a66c84" stroke-width="1"/>
<circle cx="323.43" cy="47.72" r="2.25" fill="#cf9ca8" stroke="#a66c84" stroke-width="1"/>
<circle cx="230.28" cy="70.23" r="2.1" fill="#cf9ca8" stroke="#a66c84" stroke-width="1"/>
<circle cx="262.21" cy="50.94" r="2.02" fill="#cf9ca8" stroke="#a66c84" stroke-width="1"/>
<circle cx="221.74" cy="22.66" r="2.12" fill="#cf9ca8" stroke="#a66c84" stroke-width="1"/>
<circle cx="296.11" cy="53.77" r="1.84" fill="#cf9ca8" stroke="#a66c84" stroke-width="1"/>
<circle cx="221.71" cy="102.16" r="1.94" fill="#cf9ca8" stroke="#a66c84" stroke-width="1"/>
<circle cx="269.13" cy="88.28" r="1.84" fill="#cf9ca8" stroke="#a66c84" stroke-width="1"/>
<circle cx="285.45" cy="83.24" r="2.16" fill="#cf9ca8" stroke="#a66c84" stroke-width="1"/>
<circle cx="221.69" cy="38.85" r="2.11" fill="#cf9ca8" stroke="#a66c84" stroke-width="1"/>
<circle cx="259.09" cy="98.5" r="2.09" fill="#cf9ca8" stroke="#a66c84" stroke-width="1"/>
<circle cx="265.86" cy="64.52" r="2.01" fill="#cf9ca8" stroke="#a66c84" stroke-width="1"/>
<circle cx="232.44" cy="66.44" r="1.8" fill="#cf9ca8" stroke="#a66c84" stroke-width="1"/>
<circle cx="330.26" cy="59.74" r="2" fill="#cf9ca8" stroke="#a66c84" stroke-width="1"/>
<circle cx="265.88" cy="94.7" r="1.96" fill="#cf9ca8" stroke="#a66c84" stroke-width="1"/>
<circle cx="237.91" cy="71.65" r="2.19" fill="#cf9ca8" stroke="#a66c84" stroke-width="1"/>
<circle cx="289.4" cy="44.87" r="1.9" fill="#cf9ca8" stroke="#a66c84" stroke-width="1"/>
<circle cx="313.53" cy="96.96" r="1.92" fill="#cf9ca8" stroke="#a66c84" stroke-width="1"/>
<circle cx="225.54" cy="55.68" r="2" fill="#cf9ca8" stroke="#a66c84" stroke-width="1"/>
<circle cx="311.46" cy="24.25" r="2.17" fill="#cf9ca8" stroke="#a66c84" stroke-width="1"/>
<circle cx="231.93" cy="102.41" r="2.08" fill="#cf9ca8" stroke="#a66c84" stroke-width="1"/>
<circle cx="306.79" cy="85.06" r="1.76" fill="#cf9ca8" stroke="#a66c84" stroke-width="1"/>
<circle cx="289.47" cy="84.17" r="1.9" fill="#cf9ca8" stroke="#a66c84" stroke-width="1"/>
<circle cx="276.16" cy="48.31" r="1.81" fill="#cf9ca8" stroke="#a66c84" stroke-width="1"/>
<circle cx="330.14" cy="36.04" r="2.25" fill="#cf9ca8" stroke="#a66c84" stroke-width="1"/>
<circle cx="238.54" cy="90.62" r="2.05" fill="#cf9ca8" stroke="#a66c84" stroke-width="1"/>
<circle cx="313.26" cy="78.09" r="2.05" fill="#cf9ca8" stroke="#a66c84" stroke-width="1"/>
<circle cx="284.4" cy="46.51" r="2" fill="#cf9ca8" stroke="#a66c84" stroke-width="1"/>
<circle cx="236.95" cy="22.56" r="1.85" fill="#cf9ca8" stroke="#a66c84" stroke-width="1"/>
<circle cx="304.38" cy="75.29" r=".8" fill="#7a58b0"/>
<circle cx="307.54" cy="92.73" r=".8" fill="#7a58b0"/>
<circle cx="302.46" cy="71.31" r=".8" fill="#7a58b0"/>
<circle cx="302.56" cy="90.44" r=".8" fill="#7a58b0"/>
<circle cx="299.41" cy="71.2" r=".8" fill="#7a58b0"/>
<circle cx="298.62" cy="62.29" r=".8" fill="#7a58b0"/>
<circle cx="302.98" cy="78.22" r=".8" fill="#7a58b0"/>
<circle cx="295.56" cy="89.47" r=".8" fill="#7a58b0"/>
<circle cx="308.7" cy="74.88" r=".8" fill="#7a58b0"/>
<circle cx="299.69" cy="86.2" r=".8" fill="#7a58b0"/>
<circle cx="309.84" cy="68.71" r=".8" fill="#7a58b0"/>
<circle cx="303.05" cy="71.06" r=".8" fill="#7a58b0"/>
<circle cx="302.72" cy="79.04" r=".8" fill="#7a58b0"/>
<circle cx="305.85" cy="87.28" r=".8" fill="#7a58b0"/>
<circle cx="303.66" cy="92.67" r=".8" fill="#7a58b0"/>
<circle cx="303.06" cy="71.79" r=".8" fill="#7a58b0"/>
<circle cx="300.51" cy="89.83" r=".8" fill="#7a58b0"/>
<circle cx="303.56" cy="92.1" r=".8" fill="#7a58b0"/>
<circle cx="298.67" cy="56.73" r=".8" fill="#7a58b0"/>
<circle cx="302.02" cy="87.28" r=".8" fill="#7a58b0"/>
<circle cx="302.95" cy="69.3" r=".8" fill="#7a58b0"/>
<circle cx="301.61" cy="81.09" r=".8" fill="#7a58b0"/>
<circle cx="299.85" cy="75.4" r=".8" fill="#7a58b0"/>
<circle cx="302.69" cy="72.64" r=".8" fill="#7a58b0"/>
<circle cx="305.32" cy="65.48" r=".8" fill="#7a58b0"/>
<circle cx="296.81" cy="65.57" r=".8" fill="#7a58b0"/>
<circle cx="306.59" cy="92.75" r=".8" fill="#7a58b0"/>
<circle cx="304.06" cy="92.4" r=".8" fill="#7a58b0"/>
<circle cx="299.78" cy="77.77" r=".8" fill="#7a58b0"/>
<circle cx="300.8" cy="82.44" r=".8" fill="#7a58b0"/>
<circle cx="302.13" cy="79.85" r=".8" fill="#7a58b0"/>
<circle cx="300.9" cy="70.4" r=".8" fill="#7a58b0"/>
<circle cx="303.34" cy="89.82" r=".8" fill="#7a58b0"/>
<circle cx="313.15" cy="71.49" r=".8" fill="#7a58b0"/>
<circle cx="301.75" cy="80.48" r=".8" fill="#7a58b0"/>
<circle cx="304.89" cy="76.55" r=".8" fill="#7a58b0"/>
<circle cx="311.28" cy="93.57" r=".8" fill="#7a58b0"/>
<circle cx="303.17" cy="78.77" r=".8" fill="#7a58b0"/>
<circle cx="302.27" cy="74.5" r=".8" fill="#7a58b0"/>
<circle cx="300.37" cy="76.58" r=".8" fill="#7a58b0"/>
<circle cx="294.8" cy="103.97" r=".8" fill="#7a58b0"/>
<circle cx="297.11" cy="82.9" r=".8" fill="#7a58b0"/>
<circle cx="310.84" cy="60.04" r=".8" fill="#7a58b0"/>
<circle cx="304.51" cy="77.83" r=".8" fill="#7a58b0"/>
<circle cx="300.92" cy="75.1" r=".8" fill="#7a58b0"/>
<circle cx="314.1" cy="49.25" r=".7" fill="#8a62b4"/>
<circle cx="313.15" cy="45.07" r=".7" fill="#8a62b4"/>
<circle cx="311.83" cy="49.46" r=".7" fill="#8a62b4"/>
<circle cx="306.34" cy="52.7" r=".7" fill="#8a62b4"/>
<circle cx="319.69" cy="50.85" r=".7" fill="#8a62b4"/>
<circle cx="309.09" cy="55.59" r=".7" fill="#8a62b4"/>
<circle cx="318.47" cy="60.14" r=".7" fill="#8a62b4"/>
<circle cx="313.34" cy="52.9" r=".7" fill="#8a62b4"/>
<circle cx="315.72" cy="41.7" r=".7" fill="#8a62b4"/>
<circle cx="313.2" cy="42.51" r=".7" fill="#8a62b4"/>
<circle cx="314.12" cy="43.19" r=".7" fill="#8a62b4"/>
<circle cx="316.44" cy="54.4" r=".7" fill="#8a62b4"/>
<circle cx="310.09" cy="45.01" r=".7" fill="#8a62b4"/>
<circle cx="314.75" cy="49.96" r=".7" fill="#8a62b4"/>
<circle cx="314.59" cy="52.92" r=".7" fill="#8a62b4"/>
<circle cx="305.04" cy="43.29" r=".7" fill="#8a62b4"/>
<circle cx="318.96" cy="40.86" r=".7" fill="#8a62b4"/>
<circle cx="317.83" cy="53.3" r=".7" fill="#8a62b4"/>
<circle cx="315.96" cy="43.2" r=".7" fill="#8a62b4"/>
<circle cx="313.2" cy="59.35" r=".7" fill="#8a62b4"/>
<circle cx="317.37" cy="52.13" r=".7" fill="#8a62b4"/>
<circle cx="321.86" cy="45.01" r=".7" fill="#8a62b4"/>
<circle cx="313.47" cy="50.51" r=".7" fill="#8a62b4"/>
<circle cx="313.85" cy="50.71" r=".7" fill="#8a62b4"/>
<circle cx="308.9" cy="45.01" r=".7" fill="#8a62b4"/>
<circle cx="237.6" cy="28" r="5.4" fill="#a58fd2"/>
<circle cx="278.2" cy="29.2" r="5.8" fill="#a58fd2"/>
<circle cx="268.2" cy="37" r="5.8" fill="#a58fd2"/>
<circle cx="297.2" cy="27.4" r="5.4" fill="#a58fd2"/>
<circle cx="306.1" cy="33.6" r="5.8" fill="#a58fd2"/>
<circle cx="305" cy="53.7" r="4.8" fill="#a58fd2"/>
<circle cx="295" cy="59.3" r="5.3" fill="#a58fd2"/>
<circle cx="287.1" cy="68.2" r="5.8" fill="#a58fd2"/>
<circle cx="260.4" cy="70.4" r="5.8" fill="#a58fd2"/>
<circle cx="243.7" cy="79.3" r="6.3" fill="#a58fd2"/>
<circle cx="252.6" cy="76" r="5.3" fill="#a58fd2"/>
<circle cx="266" cy="77.1" r="5.3" fill="#a58fd2"/>
<circle cx="274.9" cy="79.3" r="5.8" fill="#a58fd2"/>
<circle cx="255.9" cy="84.9" r="5.8" fill="#a58fd2"/>
<circle cx="245.9" cy="90.5" r="5.8" fill="#a58fd2"/>
<circle cx="257" cy="92.7" r="5.3" fill="#a58fd2"/>
<circle cx="251.5" cy="99.4" r="5.3" fill="#a58fd2"/>
<circle cx="280.5" cy="82.7" r="4" fill="#a58fd2"/>
<circle cx="273" cy="33" r="4.8" fill="#a58fd2"/>
<circle cx="301.5" cy="30" r="4.8" fill="#a58fd2"/>
<circle cx="300" cy="57" r="4.4" fill="#a58fd2"/>
<circle cx="291" cy="64" r="4.6" fill="#a58fd2"/>
<circle cx="248" cy="82" r="5.3" fill="#a58fd2"/>
<circle cx="262" cy="74" r="4.8" fill="#a58fd2"/>
<circle cx="270.5" cy="78" r="4.8" fill="#a58fd2"/>
<circle cx="250.5" cy="88" r="5.3" fill="#a58fd2"/>
<circle cx="248.5" cy="95" r="4.8" fill="#a58fd2"/>
<circle cx="254" cy="96" r="4.3" fill="#a58fd2"/>
<circle cx="283" cy="72" r="4" fill="#a58fd2"/>
<circle cx="241" cy="84.5" r="4.8" fill="#a58fd2"/>
<circle cx="235.92" cy="28.74" r="2.58" fill="#5b3db0"/>
<circle cx="238.68" cy="26.51" r="2.58" fill="#5b3db0"/>
<circle cx="239.32" cy="28.66" r="2.58" fill="#5b3db0"/>
<circle cx="235.88" cy="29.16" r="1.38" fill="#43299a"/>
<circle cx="236.75" cy="29.89" r="1.38" fill="#43299a"/>
<circle cx="276.83" cy="27.74" r="2.8" fill="#5b3db0"/>
<circle cx="276.45" cy="30.17" r="2.8" fill="#5b3db0"/>
<circle cx="280.06" cy="28.46" r="2.8" fill="#5b3db0"/>
<circle cx="278.36" cy="26.96" r="1.5" fill="#43299a"/>
<circle cx="276.16" cy="30.16" r="1.5" fill="#43299a"/>
<circle cx="267.41" cy="38.84" r="2.8" fill="#5b3db0"/>
<circle cx="269.19" cy="35.26" r="2.8" fill="#5b3db0"/>
<circle cx="266.2" cy="36.87" r="2.8" fill="#5b3db0"/>
<circle cx="267.79" cy="39.21" r="1.5" fill="#43299a"/>
<circle cx="267.91" cy="39.23" r="1.5" fill="#43299a"/>
<circle cx="295.47" cy="26.78" r="2.58" fill="#5b3db0"/>
<circle cx="296.95" cy="29.22" r="2.58" fill="#5b3db0"/>
<circle cx="296.98" cy="25.57" r="2.58" fill="#5b3db0"/>
<circle cx="296.61" cy="25.42" r="1.38" fill="#43299a"/>
<circle cx="298.5" cy="29.01" r="1.38" fill="#43299a"/>
<circle cx="308.04" cy="33.13" r="2.8" fill="#5b3db0"/>
<circle cx="307.19" cy="35.28" r="2.8" fill="#5b3db0"/>
<circle cx="304.1" cy="33.59" r="2.8" fill="#5b3db0"/>
<circle cx="306.02" cy="31.35" r="1.5" fill="#43299a"/>
<circle cx="304.85" cy="31.73" r="1.5" fill="#43299a"/>
<circle cx="306.58" cy="53.47" r="2.24" fill="#5b3db0"/>
<circle cx="304.07" cy="55" r="2.24" fill="#5b3db0"/>
<circle cx="304.31" cy="55.14" r="2.24" fill="#5b3db0"/>
<circle cx="304.35" cy="52.02" r="1.2" fill="#43299a"/>
<circle cx="305.91" cy="55.26" r="1.2" fill="#43299a"/>
<circle cx="293.36" cy="58.55" r="2.52" fill="#5b3db0"/>
<circle cx="294" cy="60.8" r="2.52" fill="#5b3db0"/>
<circle cx="294.1" cy="60.86" r="2.52" fill="#5b3db0"/>
<circle cx="296.55" cy="60.6" r="1.35" fill="#43299a"/>
<circle cx="293.84" cy="57.64" r="1.35" fill="#43299a"/>
<circle cx="288.11" cy="69.93" r="2.8" fill="#5b3db0"/>
<circle cx="285.23" cy="67.49" r="2.8" fill="#5b3db0"/>
<circle cx="288.85" cy="69.17" r="2.8" fill="#5b3db0"/>
<circle cx="284.9" cy="68.68" r="1.5" fill="#43299a"/>
<circle cx="286.19" cy="70.26" r="1.5" fill="#43299a"/>
<circle cx="261.12" cy="68.53" r="2.8" fill="#5b3db0"/>
<circle cx="258.4" cy="70.26" r="2.8" fill="#5b3db0"/>
<circle cx="258.68" cy="69.37" r="2.8" fill="#5b3db0"/>
<circle cx="262.57" cy="69.82" r="1.5" fill="#43299a"/>
<circle cx="262.29" cy="69.18" r="1.5" fill="#43299a"/>
<circle cx="243.34" cy="81.47" r="3.08" fill="#5b3db0"/>
<circle cx="243.35" cy="77.13" r="3.08" fill="#5b3db0"/>
<circle cx="242.02" cy="77.88" r="3.08" fill="#5b3db0"/>
<circle cx="242.8" cy="76.99" r="1.65" fill="#43299a"/>
<circle cx="241.61" cy="77.97" r="1.65" fill="#43299a"/>
<circle cx="251.32" cy="74.74" r="2.52" fill="#5b3db0"/>
<circle cx="253.74" cy="77.39" r="2.52" fill="#5b3db0"/>
<circle cx="250.84" cy="76.38" r="2.52" fill="#5b3db0"/>
<circle cx="251.84" cy="77.87" r="1.35" fill="#43299a"/>
<circle cx="253.47" cy="77.83" r="1.35" fill="#43299a"/>
<circle cx="267.43" cy="78.19" r="2.52" fill="#5b3db0"/>
<circle cx="267.03" cy="78.58" r="2.52" fill="#5b3db0"/>
<circle cx="265.69" cy="75.33" r="2.52" fill="#5b3db0"/>
<circle cx="264.82" cy="78.75" r="1.35" fill="#43299a"/>
<circle cx="264.68" cy="78.64" r="1.35" fill="#43299a"/>
<circle cx="276.59" cy="78.23" r="2.8" fill="#5b3db0"/>
<circle cx="274.5" cy="77.34" r="2.8" fill="#5b3db0"/>
<circle cx="274.31" cy="77.39" r="2.8" fill="#5b3db0"/>
<circle cx="276.79" cy="80.52" r="1.5" fill="#43299a"/>
<circle cx="274.98" cy="77.05" r="1.5" fill="#43299a"/>
<circle cx="254.52" cy="83.45" r="2.8" fill="#5b3db0"/>
<circle cx="257.48" cy="83.68" r="2.8" fill="#5b3db0"/>
<circle cx="256.15" cy="82.92" r="2.8" fill="#5b3db0"/>
<circle cx="253.89" cy="85.91" r="1.5" fill="#43299a"/>
<circle cx="253.94" cy="83.8" r="1.5" fill="#43299a"/>
<circle cx="245.72" cy="88.51" r="2.8" fill="#5b3db0"/>
<circle cx="247.26" cy="91.97" r="2.8" fill="#5b3db0"/>
<circle cx="244.79" cy="88.84" r="2.8" fill="#5b3db0"/>
<circle cx="243.81" cy="91.34" r="1.5" fill="#43299a"/>
<circle cx="246.55" cy="88.35" r="1.5" fill="#43299a"/>
<circle cx="257.51" cy="94.43" r="2.52" fill="#5b3db0"/>
<circle cx="258.16" cy="94.08" r="2.52" fill="#5b3db0"/>
<circle cx="255.58" cy="91.6" r="2.52" fill="#5b3db0"/>
<circle cx="256.79" cy="90.69" r="1.35" fill="#43299a"/>
<circle cx="257.96" cy="94.48" r="1.35" fill="#43299a"/>
<circle cx="253.07" cy="98.51" r="2.52" fill="#5b3db0"/>
<circle cx="250.21" cy="100.66" r="2.52" fill="#5b3db0"/>
<circle cx="253.01" cy="100.39" r="2.52" fill="#5b3db0"/>
<circle cx="251.7" cy="97.38" r="1.35" fill="#43299a"/>
<circle cx="252.78" cy="97.83" r="1.35" fill="#43299a"/>
<circle cx="279.24" cy="82.92" r="1.79" fill="#5b3db0"/>
<circle cx="279.53" cy="83.54" r="1.79" fill="#5b3db0"/>
<circle cx="279.67" cy="81.72" r="1.79" fill="#5b3db0"/>
<circle cx="279.52" cy="81.65" r=".96" fill="#43299a"/>
<circle cx="281.6" cy="83.62" r=".96" fill="#43299a"/>
<circle cx="274.19" cy="34.07" r="2.24" fill="#5b3db0"/>
<circle cx="274.58" cy="32.72" r="2.24" fill="#5b3db0"/>
<circle cx="272.62" cy="31.45" r="2.24" fill="#5b3db0"/>
<circle cx="273.33" cy="31.23" r="1.2" fill="#43299a"/>
<circle cx="271.5" cy="32.01" r="1.2" fill="#43299a"/>
<circle cx="300.07" cy="30.71" r="2.24" fill="#5b3db0"/>
<circle cx="303.1" cy="29.95" r="2.24" fill="#5b3db0"/>
<circle cx="302.39" cy="31.33" r="2.24" fill="#5b3db0"/>
<circle cx="300.5" cy="28.5" r="1.2" fill="#43299a"/>
<circle cx="302.75" cy="28.7" r="1.2" fill="#43299a"/>
<circle cx="299.02" cy="58.05" r="2.02" fill="#5b3db0"/>
<circle cx="298.72" cy="56.35" r="2.02" fill="#5b3db0"/>
<circle cx="298.56" cy="57.1" r="2.02" fill="#5b3db0"/>
<circle cx="298.72" cy="56" r="1.08" fill="#43299a"/>
<circle cx="298.92" cy="58.21" r="1.08" fill="#43299a"/>
<circle cx="292.48" cy="63.65" r="2.13" fill="#5b3db0"/>
<circle cx="290.76" cy="62.5" r="2.13" fill="#5b3db0"/>
<circle cx="291.07" cy="62.48" r="2.13" fill="#5b3db0"/>
<circle cx="290.46" cy="65.62" r="1.14" fill="#43299a"/>
<circle cx="292.3" cy="65.11" r="1.14" fill="#43299a"/>
<circle cx="249.79" cy="82.14" r="2.52" fill="#5b3db0"/>
<circle cx="248.29" cy="80.22" r="2.52" fill="#5b3db0"/>
<circle cx="246.92" cy="80.56" r="2.52" fill="#5b3db0"/>
<circle cx="249.95" cy="82.55" r="1.35" fill="#43299a"/>
<circle cx="250.02" cy="82.04" r="1.35" fill="#43299a"/>
<circle cx="263.38" cy="73.19" r="2.24" fill="#5b3db0"/>
<circle cx="262.59" cy="75.49" r="2.24" fill="#5b3db0"/>
<circle cx="263.13" cy="75.13" r="2.24" fill="#5b3db0"/>
<circle cx="260.81" cy="72.65" r="1.2" fill="#43299a"/>
<circle cx="260.55" cy="75.06" r="1.2" fill="#43299a"/>
<circle cx="271.12" cy="76.53" r="2.24" fill="#5b3db0"/>
<circle cx="269.92" cy="76.51" r="2.24" fill="#5b3db0"/>
<circle cx="272.09" cy="78.19" r="2.24" fill="#5b3db0"/>
<circle cx="269.96" cy="76.28" r="1.2" fill="#43299a"/>
<circle cx="269.93" cy="79.71" r="1.2" fill="#43299a"/>
<circle cx="249.67" cy="89.6" r="2.52" fill="#5b3db0"/>
<circle cx="248.71" cy="87.79" r="2.52" fill="#5b3db0"/>
<circle cx="250.6" cy="89.8" r="2.52" fill="#5b3db0"/>
<circle cx="248.97" cy="86.67" r="1.35" fill="#43299a"/>
<circle cx="252.52" cy="88.14" r="1.35" fill="#43299a"/>
<circle cx="248.79" cy="93.43" r="2.24" fill="#5b3db0"/>
<circle cx="247.15" cy="95.86" r="2.24" fill="#5b3db0"/>
<circle cx="249.35" cy="96.36" r="2.24" fill="#5b3db0"/>
<circle cx="248.59" cy="93.2" r="1.2" fill="#43299a"/>
<circle cx="246.88" cy="95.79" r="1.2" fill="#43299a"/>
<circle cx="254.13" cy="94.61" r="1.96" fill="#5b3db0"/>
<circle cx="255.18" cy="95.25" r="1.96" fill="#5b3db0"/>
<circle cx="252.61" cy="96.13" r="1.96" fill="#5b3db0"/>
<circle cx="252.45" cy="95.73" r="1.05" fill="#43299a"/>
<circle cx="252.59" cy="95.31" r="1.05" fill="#43299a"/>
<circle cx="283.12" cy="73.27" r="1.79" fill="#5b3db0"/>
<circle cx="283.91" cy="71.1" r="1.79" fill="#5b3db0"/>
<circle cx="282.41" cy="73.14" r="1.79" fill="#5b3db0"/>
<circle cx="282.71" cy="70.59" r=".96" fill="#43299a"/>
<circle cx="282.57" cy="70.62" r=".96" fill="#43299a"/>
<circle cx="241.79" cy="83.11" r="2.24" fill="#5b3db0"/>
<circle cx="241.66" cy="83.04" r="2.24" fill="#5b3db0"/>
<circle cx="239.55" cy="83.82" r="2.24" fill="#5b3db0"/>
<circle cx="240.37" cy="82.81" r="1.2" fill="#43299a"/>
<circle cx="242.6" cy="83.67" r="1.2" fill="#43299a"/>
<circle cx="278.2" cy="29.2" r="1.5" fill="#c9b2e0"/>
<circle cx="297.5" cy="27.2" r="1.5" fill="#c9b2e0"/>
<circle cx="306.5" cy="33.2" r="1.5" fill="#c9b2e0"/>
<circle cx="274.9" cy="79.3" r="1.5" fill="#c9b2e0"/>
<circle cx="252.6" cy="76.5" r="1.5" fill="#c9b2e0"/>
</g>
<path d="M316.2 96.6L321.8 96.6" stroke="#111" stroke-width="1.1" fill="none"/>
</g>
<text x="351.6" y="12" font-size="14.6" text-anchor="start" font-weight="bold" stroke="#000" stroke-width=".22" fill="#000">C</text>
<text x="440.5" y="13.2" font-size="8.8" text-anchor="middle" font-weight="bold" stroke="#000" stroke-width=".22" fill="#000">WBC</text>
<path d="M375.6 21.1L375.6 107" stroke="#111" stroke-width="1.1" fill="none"/>
<path d="M375.2 106.6L503 106.6" stroke="#111" stroke-width="1.1" fill="none"/>
<path d="M373.3 106.6L375.6 106.6" stroke="#111" stroke-width=".9" fill="none"/>
<text font-size="8.6" text-anchor="end" font-weight="bold" stroke="#000" stroke-width=".22" transform="translate(372.6 109.6) scale(.9 1)" fill="#000">0</text>
<path d="M373.3 89.58L375.6 89.58" stroke="#111" stroke-width=".9" fill="none"/>
<text font-size="8.6" text-anchor="end" font-weight="bold" stroke="#000" stroke-width=".22" transform="translate(372.6 92.58) scale(.9 1)" fill="#000">10</text>
<path d="M373.3 72.56L375.6 72.56" stroke="#111" stroke-width=".9" fill="none"/>
<text font-size="8.6" text-anchor="end" font-weight="bold" stroke="#000" stroke-width=".22" transform="translate(372.6 75.56) scale(.9 1)" fill="#000">20</text>
<path d="M373.3 55.54L375.6 55.54" stroke="#111" stroke-width=".9" fill="none"/>
<text font-size="8.6" text-anchor="end" font-weight="bold" stroke="#000" stroke-width=".22" transform="translate(372.6 58.54) scale(.9 1)" fill="#000">30</text>
<path d="M373.3 38.52L375.6 38.52" stroke="#111" stroke-width=".9" fill="none"/>
<text font-size="8.6" text-anchor="end" font-weight="bold" stroke="#000" stroke-width=".22" transform="translate(372.6 41.52) scale(.9 1)" fill="#000">40</text>
<path d="M373.3 21.5L375.6 21.5" stroke="#111" stroke-width=".9" fill="none"/>
<text font-size="8.6" text-anchor="end" font-weight="bold" stroke="#000" stroke-width=".22" transform="translate(372.6 24.5) scale(.9 1)" fill="#000">50</text>
<path d="M397.5 106.6L397.5 108.9" stroke="#111" stroke-width=".9" fill="none"/>
<path d="M440.5 106.6L440.5 108.9" stroke="#111" stroke-width=".9" fill="none"/>
<path d="M483 106.6L483 108.9" stroke="#111" stroke-width=".9" fill="none"/>
<text font-size="8.8" text-anchor="middle" font-weight="bold" stroke="#000" stroke-width=".22" transform="translate(397.5 116.2) scale(.92 1)" fill="#000">+/+</text>
<text font-size="8.8" text-anchor="middle" font-weight="bold" stroke="#000" stroke-width=".22" transform="translate(440.5 116.2) scale(.92 1)" fill="#000">+/-</text>
<text font-size="8.8" text-anchor="middle" font-weight="bold" stroke="#000" stroke-width=".22" transform="translate(487.5 116.2) scale(.92 1)" fill="#000">diseased +/-</text>
<text x="356.6" y="64" font-size="9.3" font-weight="bold" text-anchor="middle" transform="rotate(-90 356.6 64)" fill="#111">x10<tspan font-size="5.5" dy="-3.4">3</tspan><tspan dy="3.4"> cells/ul</tspan></text>
<path d="M397 26.2L483 26.2" stroke="#333" stroke-width=".9" fill="none"/>
<text x="440.5" y="26" font-size="11" text-anchor="middle" font-weight="bold" stroke="#000" stroke-width=".22" fill="#000">**</text>
<path d="M384.8 86.2L412.5 86.2" stroke="#111" stroke-width="1.4" fill="none"/>
<path d="M426 88.1L454.8 88.1" stroke="#111" stroke-width="1.4" fill="none"/>
<path d="M468.8 66.8L497 66.8" stroke="#111" stroke-width="1.4" fill="none"/>
<rect x="396" y="72.1" width="3.4" height="3.4" fill="#fff" stroke="#222" stroke-width=".85"/>
<rect x="391.2" y="80.5" width="3.4" height="3.4" fill="#fff" stroke="#222" stroke-width=".85"/>
<rect x="401.1" y="80.5" width="3.4" height="3.4" fill="#fff" stroke="#222" stroke-width=".85"/>
<rect x="406.5" y="79.7" width="3.4" height="3.4" fill="#fff" stroke="#222" stroke-width=".85"/>
<rect x="385.8" y="85.6" width="3.4" height="3.4" fill="#fff" stroke="#222" stroke-width=".85"/>
<rect x="391.2" y="86.9" width="3.4" height="3.4" fill="#fff" stroke="#222" stroke-width=".85"/>
<rect x="406.5" y="85" width="3.4" height="3.4" fill="#fff" stroke="#222" stroke-width=".85"/>
<rect x="401.1" y="86.9" width="3.4" height="3.4" fill="#fff" stroke="#222" stroke-width=".85"/>
<rect x="396" y="83.3" width="3.4" height="3.4" fill="#fff" stroke="#222" stroke-width=".85"/>
<rect x="396" y="89.9" width="3.4" height="3.4" fill="#fff" stroke="#222" stroke-width=".85"/>
<rect x="396" y="95.8" width="3.4" height="3.4" fill="#fff" stroke="#222" stroke-width=".85"/>
<path d="M429.1 83.36h4.6l-2.3 4.14z" fill="#111"/>
<path d="M440.4 81.06h4.6l-2.3 4.14z" fill="#111"/>
<path d="M448.5 83.36h4.6l-2.3 4.14z" fill="#111"/>
<path d="M436.4 86.46h4.6l-2.3 4.14z" fill="#111"/>
<path d="M444.4 86.46h4.6l-2.3 4.14z" fill="#111"/>
<path d="M438.2 94.36h4.6l-2.3 4.14z" fill="#111"/>
<path d="M443.6 90.86h4.6l-2.3 4.14z" fill="#111"/>
<path d="M433.7 82.46h4.6l-2.3 4.14z" fill="#111"/>
<path d="M425.2 84.16h4.6l-2.3 4.14z" fill="#111"/>
<path d="M483.1 32.6l2.4 2.4l-2.4 2.4l-2.4 -2.4z" fill="#111"/>
<path d="M483.1 50.7l2.4 2.4l-2.4 2.4l-2.4 -2.4z" fill="#111"/>
<path d="M478.2 58.2l2.4 2.4l-2.4 2.4l-2.4 -2.4z" fill="#111"/>
<path d="M483.1 58.2l2.4 2.4l-2.4 2.4l-2.4 -2.4z" fill="#111"/>
<path d="M487.9 69.5l2.4 2.4l-2.4 2.4l-2.4 -2.4z" fill="#111"/>
<path d="M483.1 71.4l2.4 2.4l-2.4 2.4l-2.4 -2.4z" fill="#111"/>
<path d="M487.9 79.8l2.4 2.4l-2.4 2.4l-2.4 -2.4z" fill="#111"/>
<path d="M483.1 76.8l2.4 2.4l-2.4 2.4l-2.4 -2.4z" fill="#111"/>
<path d="M483.1 83l2.4 2.4l-2.4 2.4l-2.4 -2.4z" fill="#111"/>
<text x="2.5" y="144" font-size="14" text-anchor="start" font-weight="bold" stroke="#000" stroke-width=".22" fill="#000">D</text>
<text x="84.3" y="143.8" font-size="8.8" text-anchor="middle" font-weight="bold" stroke="#000" stroke-width=".22" fill="#000">HGB</text>
<path d="M27.1 156.8L27.1 242.3" stroke="#111" stroke-width="1.1" fill="none"/>
<path d="M26.7 241.9L157 241.9" stroke="#111" stroke-width="1.1" fill="none"/>
<path d="M24.8 241.9L27.1 241.9" stroke="#111" stroke-width=".9" fill="none"/>
<text font-size="8.6" text-anchor="end" font-weight="bold" stroke="#000" stroke-width=".22" transform="translate(24.1 244.9) scale(.9 1)" fill="#000">7</text>
<path d="M24.8 229.8L27.1 229.8" stroke="#111" stroke-width=".9" fill="none"/>
<text font-size="8.6" text-anchor="end" font-weight="bold" stroke="#000" stroke-width=".22" transform="translate(24.1 232.8) scale(.9 1)" fill="#000">8</text>
<path d="M24.8 217.7L27.1 217.7" stroke="#111" stroke-width=".9" fill="none"/>
<text font-size="8.6" text-anchor="end" font-weight="bold" stroke="#000" stroke-width=".22" transform="translate(24.1 220.7) scale(.9 1)" fill="#000">9</text>
<path d="M24.8 205.6L27.1 205.6" stroke="#111" stroke-width=".9" fill="none"/>
<text font-size="8.6" text-anchor="end" font-weight="bold" stroke="#000" stroke-width=".22" transform="translate(24.1 208.6) scale(.9 1)" fill="#000">10</text>
<path d="M24.8 193.5L27.1 193.5" stroke="#111" stroke-width=".9" fill="none"/>
<text font-size="8.6" text-anchor="end" font-weight="bold" stroke="#000" stroke-width=".22" transform="translate(24.1 196.5) scale(.9 1)" fill="#000">11</text>
<path d="M24.8 181.4L27.1 181.4" stroke="#111" stroke-width=".9" fill="none"/>
<text font-size="8.6" text-anchor="end" font-weight="bold" stroke="#000" stroke-width=".22" transform="translate(24.1 184.4) scale(.9 1)" fill="#000">12</text>
<path d="M24.8 169.3L27.1 169.3" stroke="#111" stroke-width=".9" fill="none"/>
<text font-size="8.6" text-anchor="end" font-weight="bold" stroke="#000" stroke-width=".22" transform="translate(24.1 172.3) scale(.9 1)" fill="#000">13</text>
<path d="M24.8 157.2L27.1 157.2" stroke="#111" stroke-width=".9" fill="none"/>
<text font-size="8.6" text-anchor="end" font-weight="bold" stroke="#000" stroke-width=".22" transform="translate(24.1 160.2) scale(.9 1)" fill="#000">14</text>
<path d="M47.4 241.9L47.4 244.2" stroke="#111" stroke-width=".9" fill="none"/>
<path d="M88.3 241.9L88.3 244.2" stroke="#111" stroke-width=".9" fill="none"/>
<path d="M130.8 241.9L130.8 244.2" stroke="#111" stroke-width=".9" fill="none"/>
<text font-size="8.8" text-anchor="middle" font-weight="bold" stroke="#000" stroke-width=".22" transform="translate(47.4 252.2) scale(.92 1)" fill="#000">+/+</text>
<text font-size="8.8" text-anchor="middle" font-weight="bold" stroke="#000" stroke-width=".22" transform="translate(88.3 252.2) scale(.92 1)" fill="#000">+/-</text>
<text font-size="8.8" text-anchor="middle" font-weight="bold" stroke="#000" stroke-width=".22" transform="translate(137 252.2) scale(.92 1)" fill="#000">diseased +/-</text>
<text x="8.3" y="196" font-size="9.3" text-anchor="middle" font-weight="bold" stroke="#000" stroke-width=".22" transform="rotate(-90 8.3 196)" fill="#000">g/dl</text>
<path d="M47.4 154.6L130.8 154.6" stroke="#333" stroke-width=".9" fill="none"/>
<text x="88.3" y="154.4" font-size="11" text-anchor="middle" font-weight="bold" stroke="#000" stroke-width=".22" fill="#000">***</text>
<path d="M32.7 176.5L60.5 176.5" stroke="#111" stroke-width="1.4" fill="none"/>
<path d="M74.5 172.6L103 172.6" stroke="#111" stroke-width="1.4" fill="none"/>
<path d="M116.7 215.1L145.5 215.1" stroke="#111" stroke-width="1.4" fill="none"/>
<rect x="34.9" y="161.7" width="3.4" height="3.4" fill="#fff" stroke="#222" stroke-width=".85"/>
<rect x="55.5" y="161.7" width="3.4" height="3.4" fill="#fff" stroke="#222" stroke-width=".85"/>
<rect x="40.1" y="165.3" width="3.4" height="3.4" fill="#fff" stroke="#222" stroke-width=".85"/>
<rect x="45" y="165.3" width="3.4" height="3.4" fill="#fff" stroke="#222" stroke-width=".85"/>
<rect x="50.6" y="165.3" width="3.4" height="3.4" fill="#fff" stroke="#222" stroke-width=".85"/>
<rect x="45" y="172.5" width="3.4" height="3.4" fill="#fff" stroke="#222" stroke-width=".85"/>
<rect x="50.6" y="176.1" width="3.4" height="3.4" fill="#fff" stroke="#222" stroke-width=".85"/>
<rect x="45" y="179.7" width="3.4" height="3.4" fill="#fff" stroke="#222" stroke-width=".85"/>
<rect x="40.1" y="187.2" width="3.4" height="3.4" fill="#fff" stroke="#222" stroke-width=".85"/>
<rect x="45" y="191.5" width="3.4" height="3.4" fill="#fff" stroke="#222" stroke-width=".85"/>
<rect x="45" y="198" width="3.4" height="3.4" fill="#fff" stroke="#222" stroke-width=".85"/>
<path d="M81.1 157.66h4.6l-2.3 4.14z" fill="#111"/>
<path d="M87.6 161.56h4.6l-2.3 4.14z" fill="#111"/>
<path d="M96.7 164.86h4.6l-2.3 4.14z" fill="#111"/>
<path d="M81.1 168.16h4.6l-2.3 4.14z" fill="#111"/>
<path d="M86 168.16h4.6l-2.3 4.14z" fill="#111"/>
<path d="M91.8 168.16h4.6l-2.3 4.14z" fill="#111"/>
<path d="M82 172.76h4.6l-2.3 4.14z" fill="#111"/>
<path d="M86.9 175.66h4.6l-2.3 4.14z" fill="#111"/>
<path d="M86.6 193.66h4.6l-2.3 4.14z" fill="#111"/>
<path d="M131.4 195.7l2.4 2.4l-2.4 2.4l-2.4 -2.4z" fill="#111"/>
<path d="M125.2 201.9l2.4 2.4l-2.4 2.4l-2.4 -2.4z" fill="#111"/>
<path d="M131.4 204.5l2.4 2.4l-2.4 2.4l-2.4 -2.4z" fill="#111"/>
<path d="M131.4 211.6l2.4 2.4l-2.4 2.4l-2.4 -2.4z" fill="#111"/>
<path d="M125.9 216l2.4 2.4l-2.4 2.4l-2.4 -2.4z" fill="#111"/>
<path d="M131.4 219.2l2.4 2.4l-2.4 2.4l-2.4 -2.4z" fill="#111"/>
<path d="M136.6 226.4l2.4 2.4l-2.4 2.4l-2.4 -2.4z" fill="#111"/>
<path d="M131.4 229.7l2.4 2.4l-2.4 2.4l-2.4 -2.4z" fill="#111"/>
<text x="166.5" y="142" font-size="14" text-anchor="start" font-weight="bold" stroke="#000" stroke-width=".22" fill="#000">E</text>
<path d="M204.5 143.35L204.5 242.15" stroke="#111" stroke-width="1.1" fill="none"/>
<path d="M204.1 241.75L270 241.75" stroke="#111" stroke-width="1.1" fill="none"/>
<path d="M202 241.75L204.5 241.75" stroke="#111" stroke-width=".9" fill="none"/>
<text font-size="9" text-anchor="end" font-weight="bold" stroke="#000" stroke-width=".22" transform="translate(200.7 244.95) scale(.93 1)" fill="#000">0.00</text>
<path d="M202 225.42L204.5 225.42" stroke="#111" stroke-width=".9" fill="none"/>
<text font-size="9" text-anchor="end" font-weight="bold" stroke="#000" stroke-width=".22" transform="translate(200.7 228.62) scale(.93 1)" fill="#000">0.02</text>
<path d="M202 209.08L204.5 209.08" stroke="#111" stroke-width=".9" fill="none"/>
<text font-size="9" text-anchor="end" font-weight="bold" stroke="#000" stroke-width=".22" transform="translate(200.7 212.28) scale(.93 1)" fill="#000">0.04</text>
<path d="M202 192.75L204.5 192.75" stroke="#111" stroke-width=".9" fill="none"/>
<text font-size="9" text-anchor="end" font-weight="bold" stroke="#000" stroke-width=".22" transform="translate(200.7 195.95) scale(.93 1)" fill="#000">0.06</text>
<path d="M202 176.42L204.5 176.42" stroke="#111" stroke-width=".9" fill="none"/>
<text font-size="9" text-anchor="end" font-weight="bold" stroke="#000" stroke-width=".22" transform="translate(200.7 179.62) scale(.93 1)" fill="#000">0.08</text>
<path d="M202 160.08L204.5 160.08" stroke="#111" stroke-width=".9" fill="none"/>
<text font-size="9" text-anchor="end" font-weight="bold" stroke="#000" stroke-width=".22" transform="translate(200.7 163.28) scale(.93 1)" fill="#000">0.10</text>
<path d="M202 143.75L204.5 143.75" stroke="#111" stroke-width=".9" fill="none"/>
<text font-size="9" text-anchor="end" font-weight="bold" stroke="#000" stroke-width=".22" transform="translate(200.7 146.95) scale(.93 1)" fill="#000">0.12</text>
<path d="M217 241.75L217 244.25" stroke="#111" stroke-width=".9" fill="none"/>
<path d="M240.5 241.75L240.5 244.25" stroke="#111" stroke-width=".9" fill="none"/>
<text x="217" y="252.3" font-size="8.8" text-anchor="middle" font-weight="bold" stroke="#000" stroke-width=".22" fill="#000">+/+</text>
<text x="254" y="252.3" font-size="8.8" text-anchor="middle" font-weight="bold" stroke="#000" stroke-width=".22" fill="#000">diseased +/-</text>
<text x="178.6" y="190.5" font-size="9.2" text-anchor="middle" font-weight="bold" stroke="#000" stroke-width=".22" transform="rotate(-90 178.6 190.5)" fill="#000">Liver index</text>
<path d="M217 141.75L241.25 141.75" stroke="#333" stroke-width=".9" fill="none"/>
<text x="231" y="142.3" font-size="12" text-anchor="middle" font-weight="bold" stroke="#000" stroke-width=".22" fill="#000">***</text>
<path d="M208.75 204.25L224.5 204.25" stroke="#111" stroke-width="1.4" fill="none"/>
<path d="M232.5 161L248.75 161" stroke="#111" stroke-width="1.4" fill="none"/>
<rect x="218.95" y="193.2" width="3.6" height="3.6" fill="#fff" stroke="#222" stroke-width=".9"/>
<rect x="214.95" y="196.2" width="3.6" height="3.6" fill="#fff" stroke="#222" stroke-width=".9"/>
<rect x="210.7" y="201.95" width="3.6" height="3.6" fill="#fff" stroke="#222" stroke-width=".9"/>
<rect x="214.95" y="205.5" width="3.6" height="3.6" fill="#fff" stroke="#222" stroke-width=".9"/>
<rect x="218.95" y="207.45" width="3.6" height="3.6" fill="#fff" stroke="#222" stroke-width=".9"/>
<rect x="214.95" y="210.5" width="3.6" height="3.6" fill="#fff" stroke="#222" stroke-width=".9"/>
<path d="M236.75 144.9l2.6 2.6l-2.6 2.6l-2.6 -2.6z" fill="#111"/>
<path d="M240.75 145.7l2.6 2.6l-2.6 2.6l-2.6 -2.6z" fill="#111"/>
<path d="M240.75 151.65l2.6 2.6l-2.6 2.6l-2.6 -2.6z" fill="#111"/>
<path d="M240.75 159.9l2.6 2.6l-2.6 2.6l-2.6 -2.6z" fill="#111"/>
<path d="M245 172.4l2.6 2.6l-2.6 2.6l-2.6 -2.6z" fill="#111"/>
<path d="M240.75 174.9l2.6 2.6l-2.6 2.6l-2.6 -2.6z" fill="#111"/>
<text x="285.2" y="142" font-size="14" text-anchor="start" font-weight="bold" stroke="#000" stroke-width=".22" fill="#000">F</text>
<g clip-path="url(#cF1)"><g>
<rect x="295" y="132" width="90" height="62" fill="#a4496d"/>
<ellipse cx="334" cy="150" rx="17" ry="11" fill="#6a3560" filter="url(#bl12)"/>
<ellipse cx="362" cy="176" rx="12" ry="10" fill="#7c2c55" filter="url(#bl12)"/>
<ellipse cx="306" cy="172" rx="9" ry="12" fill="#a8466a" filter="url(#bl12)"/>
<rect x="297" y="134" width="86" height="58" filter="url(#nDark)"/>
<rect x="297" y="134" width="86" height="58" filter="url(#nLight)"/>
<path d="M333.8 163L338.2 159.4L345.3 160.3L350.6 164.7L355 171.8L357.7 181.5L355.9 185.1L347.1 183.3L340 178L335.6 175.3L332.9 169.2Z" fill="#e3d6de" stroke="#e3d6de" stroke-width="2" stroke-linejoin="round"/>
<ellipse cx="371.8" cy="154.6" rx="3.2" ry="1" fill="#ecd5e0"/>
<ellipse cx="366" cy="147" rx="2.5" ry=".8" fill="#e6c0d2" transform="rotate(-20 366 147)"/>
<ellipse cx="300" cy="173.6" rx="2.2" ry=".8" fill="#e6c0d2" transform="rotate(30 300 173.6)"/>
<ellipse cx="323" cy="169" rx="3" ry=".8" fill="#e0b0c6" transform="rotate(15 323 169)"/>
<ellipse cx="309" cy="153" rx="3" ry=".8" fill="#dda6c0" transform="rotate(-35 309 153)"/>
</g>
<path d="M310.64 142.6L316.58 145.94L315.86 147.21L320.8 147L318.41 142.67L317.7 143.94L311.76 140.6Z" fill="#fff" stroke="#0a0a0a" stroke-width=".9" stroke-linejoin="miter"/>
</g>
<g clip-path="url(#cF2)"><g>
<rect x="295" y="192" width="90" height="60" fill="#cbc3bd"/>
<rect x="297" y="193" width="86" height="58" filter="url(#nGrey)"/>
<rect x="297" y="193" width="86" height="58" filter="url(#nWhite)"/>
<rect x="297" y="193" width="86" height="58" filter="url(#nSpk)"/>
<g filter="url(#bl12)" opacity=".45"><path d="M319 194L351 194L353 204L347 212L339 207L333 210L330 216L324 212L321 204Z" fill="#6e5030"/></g>
<path d="M316 193L354 193L356 205L350 214L346 212L339 207.5L333 210.5L331 220L325 216L319 206Z" fill="#000" filter="url(#nBrown)"/>
<path d="M350 206L358 212L362 226L362 244L354 249L349 244L354 236L355 226L350 216Z" fill="#000" filter="url(#nBrown2)"/>
<path d="M322 212L333 214L334 230L338 246L330 250L326 232Z" fill="#000" filter="url(#nBrown2)"/>
<path d="M333.8 211.2L339.1 209.5L345.3 213.9L350.6 221L353.3 228L352.4 236.9L348 243.1L341.8 243.1L338.2 237.8L336.5 228.9L333.8 220.1Z" fill="#ebe7e7" stroke="#ebe7e7" stroke-width="2" stroke-linejoin="round"/>
<path d="M370 206L377 202.4L384 200L384 218.5L377 216.5L371.5 213Z" fill="#e2dedd" stroke="#e2dedd" stroke-width="2" stroke-linejoin="round"/>
<ellipse cx="365" cy="201.5" rx="4" ry="1.2" fill="#e4e0de" transform="rotate(25 365 201.5)"/>
</g>
<path d="M308.65 197.21L315.16 200.79L314.47 202.06L319.4 201.8L316.97 197.5L316.27 198.77L309.75 195.19Z" fill="#fff" stroke="#0a0a0a" stroke-width=".9" stroke-linejoin="miter"/>
<path d="M359.5 246.6L380.7 246.6" stroke="#111" stroke-width="1.3" fill="none"/>
</g>
<text x="401.5" y="142.2" font-size="14" text-anchor="start" font-weight="bold" stroke="#000" stroke-width=".22" fill="#000">G</text>
<path d="M441.75 143.85L441.75 242.9" stroke="#111" stroke-width="1.1" fill="none"/>
<path d="M441.35 242.5L507.5 242.5" stroke="#111" stroke-width="1.1" fill="none"/>
<path d="M439.25 242.5L441.75 242.5" stroke="#111" stroke-width=".9" fill="none"/>
<text font-size="9" text-anchor="end" font-weight="bold" stroke="#000" stroke-width=".22" transform="translate(438.35 245.7) scale(.93 1)" fill="#000">0.000</text>
<path d="M439.25 226.12L441.75 226.12" stroke="#111" stroke-width=".9" fill="none"/>
<text font-size="9" text-anchor="end" font-weight="bold" stroke="#000" stroke-width=".22" transform="translate(438.35 229.32) scale(.93 1)" fill="#000">0.005</text>
<path d="M439.25 209.75L441.75 209.75" stroke="#111" stroke-width=".9" fill="none"/>
<text font-size="9" text-anchor="end" font-weight="bold" stroke="#000" stroke-width=".22" transform="translate(438.35 212.95) scale(.93 1)" fill="#000">0.010</text>
<path d="M439.25 193.38L441.75 193.38" stroke="#111" stroke-width=".9" fill="none"/>
<text font-size="9" text-anchor="end" font-weight="bold" stroke="#000" stroke-width=".22" transform="translate(438.35 196.57) scale(.93 1)" fill="#000">0.015</text>
<path d="M439.25 177L441.75 177" stroke="#111" stroke-width=".9" fill="none"/>
<text font-size="9" text-anchor="end" font-weight="bold" stroke="#000" stroke-width=".22" transform="translate(438.35 180.2) scale(.93 1)" fill="#000">0.020</text>
<path d="M439.25 160.62L441.75 160.62" stroke="#111" stroke-width=".9" fill="none"/>
<text font-size="9" text-anchor="end" font-weight="bold" stroke="#000" stroke-width=".22" transform="translate(438.35 163.82) scale(.93 1)" fill="#000">0.025</text>
<path d="M439.25 144.25L441.75 144.25" stroke="#111" stroke-width=".9" fill="none"/>
<text font-size="9" text-anchor="end" font-weight="bold" stroke="#000" stroke-width=".22" transform="translate(438.35 147.45) scale(.93 1)" fill="#000">0.030</text>
<path d="M455 242.5L455 245" stroke="#111" stroke-width=".9" fill="none"/>
<path d="M480.5 242.5L480.5 245" stroke="#111" stroke-width=".9" fill="none"/>
<text x="455.5" y="252.8" font-size="8.8" text-anchor="middle" font-weight="bold" stroke="#000" stroke-width=".22" fill="#000">+/+</text>
<text x="493" y="252.8" font-size="8.8" text-anchor="middle" font-weight="bold" stroke="#000" stroke-width=".22" fill="#000">diseased +/-</text>
<text x="412.6" y="193" font-size="9.2" text-anchor="middle" font-weight="bold" stroke="#000" stroke-width=".22" transform="rotate(-90 412.6 193)" fill="#000">Spleen index</text>
<path d="M454.5 141.75L480 141.75" stroke="#333" stroke-width=".9" fill="none"/>
<text x="468.75" y="142.3" font-size="12" text-anchor="middle" font-weight="bold" stroke="#000" stroke-width=".22" fill="#000">**</text>
<path d="M446.25 228.25L463.25 228.25" stroke="#111" stroke-width="1.4" fill="none"/>
<path d="M472 196.75L488.75 196.75" stroke="#111" stroke-width="1.4" fill="none"/>
<rect x="453.2" y="211.45" width="3.6" height="3.6" fill="#fff" stroke="#222" stroke-width=".9"/>
<rect x="453.2" y="221.45" width="3.6" height="3.6" fill="#fff" stroke="#222" stroke-width=".9"/>
<rect x="448.95" y="230.2" width="3.6" height="3.6" fill="#fff" stroke="#222" stroke-width=".9"/>
<rect x="457.45" y="230.7" width="3.6" height="3.6" fill="#fff" stroke="#222" stroke-width=".9"/>
<rect x="453.2" y="231.4" width="3.6" height="3.6" fill="#fff" stroke="#222" stroke-width=".9"/>
<rect x="453.2" y="235.4" width="3.6" height="3.6" fill="#fff" stroke="#222" stroke-width=".9"/>
<path d="M480.5 164.9l2.6 2.6l-2.6 2.6l-2.6 -2.6z" fill="#111"/>
<path d="M480.5 191.15l2.6 2.6l-2.6 2.6l-2.6 -2.6z" fill="#111"/>
<path d="M475 201.15l2.6 2.6l-2.6 2.6l-2.6 -2.6z" fill="#111"/>
<path d="M478.75 203.15l2.6 2.6l-2.6 2.6l-2.6 -2.6z" fill="#111"/>
<path d="M482.5 202.4l2.6 2.6l-2.6 2.6l-2.6 -2.6z" fill="#111"/>
<path d="M486.25 203.65l2.6 2.6l-2.6 2.6l-2.6 -2.6z" fill="#111"/>
<path d="M46.75 487.1L46.75 585.9" stroke="#111" stroke-width="1.1" fill="none"/>
<path d="M46.35 585.5L224 585.5" stroke="#111" stroke-width="1.1" fill="none"/>
<path d="M44.25 585.5L46.75 585.5" stroke="#111" stroke-width=".9" fill="none"/>
<text x="43.15" y="588.7" font-size="9" text-anchor="end" font-weight="bold" stroke="#000" stroke-width=".22" fill="#000">0</text>
<path d="M44.25 569.17L46.75 569.17" stroke="#111" stroke-width=".9" fill="none"/>
<text x="43.15" y="572.37" font-size="9" text-anchor="end" font-weight="bold" stroke="#000" stroke-width=".22" fill="#000">15</text>
<path d="M44.25 552.83L46.75 552.83" stroke="#111" stroke-width=".9" fill="none"/>
<text x="43.15" y="556.03" font-size="9" text-anchor="end" font-weight="bold" stroke="#000" stroke-width=".22" fill="#000">30</text>
<path d="M44.25 536.5L46.75 536.5" stroke="#111" stroke-width=".9" fill="none"/>
<text x="43.15" y="539.7" font-size="9" text-anchor="end" font-weight="bold" stroke="#000" stroke-width=".22" fill="#000">45</text>
<path d="M44.25 520.17L46.75 520.17" stroke="#111" stroke-width=".9" fill="none"/>
<text x="43.15" y="523.37" font-size="9" text-anchor="end" font-weight="bold" stroke="#000" stroke-width=".22" fill="#000">60</text>
<path d="M44.25 503.83L46.75 503.83" stroke="#111" stroke-width=".9" fill="none"/>
<text x="43.15" y="507.03" font-size="9" text-anchor="end" font-weight="bold" stroke="#000" stroke-width=".22" fill="#000">75</text>
<path d="M44.25 487.5L46.75 487.5" stroke="#111" stroke-width=".9" fill="none"/>
<text x="43.15" y="490.7" font-size="9" text-anchor="end" font-weight="bold" stroke="#000" stroke-width=".22" fill="#000">90</text>
<text x="31.6" y="536.5" font-size="8.1" text-anchor="middle" font-weight="bold" stroke="#000" stroke-width=".22" transform="rotate(-90 31.6 536.5)" fill="#000">% cells in spleen</text>
<rect x="56" y="581.25" width="11.5" height="4.25" fill="#fff" stroke="#111" stroke-width="1"/>
<path d="M61.75 581.25L61.75 580" stroke="#111" stroke-width="1" fill="none"/>
<path d="M59.15 580L64.35 580" stroke="#111" stroke-width="1" fill="none"/>
<rect x="73" y="573.75" width="10.25" height="11.75" fill="#111" stroke="#111" stroke-width="1"/>
<path d="M78.12 573.75L78.12 570.5" stroke="#111" stroke-width="1" fill="none"/>
<path d="M75.53 570.5L80.72 570.5" stroke="#111" stroke-width="1" fill="none"/>
<rect x="100.5" y="539.25" width="10.75" height="46.25" fill="#fff" stroke="#111" stroke-width="1"/>
<path d="M105.88 539.25L105.88 533.75" stroke="#111" stroke-width="1" fill="none"/>
<path d="M103.28 533.75L108.47 533.75" stroke="#111" stroke-width="1" fill="none"/>
<rect x="116.75" y="555" width="10.75" height="30.5" fill="#111" stroke="#111" stroke-width="1"/>
<path d="M122.12 555L122.12 549.5" stroke="#111" stroke-width="1" fill="none"/>
<path d="M119.53 549.5L124.72 549.5" stroke="#111" stroke-width="1" fill="none"/>
<rect x="144.25" y="543.25" width="10.75" height="42.25" fill="#fff" stroke="#111" stroke-width="1"/>
<path d="M149.62 543.25L149.62 540.75" stroke="#111" stroke-width="1" fill="none"/>
<path d="M147.03 540.75L152.22 540.75" stroke="#111" stroke-width="1" fill="none"/>
<rect x="160.5" y="557.5" width="11" height="28" fill="#111" stroke="#111" stroke-width="1"/>
<path d="M166 557.5L166 553" stroke="#111" stroke-width="1" fill="none"/>
<path d="M163.4 553L168.6 553" stroke="#111" stroke-width="1" fill="none"/>
<rect x="188" y="575.75" width="11" height="9.75" fill="#fff" stroke="#111" stroke-width="1"/>
<path d="M193.5 575.75L193.5 573.75" stroke="#111" stroke-width="1" fill="none"/>
<path d="M190.9 573.75L196.1 573.75" stroke="#111" stroke-width="1" fill="none"/>
<rect x="204.25" y="555.5" width="11" height="30" fill="#111" stroke="#111" stroke-width="1"/>
<path d="M209.75 555.5L209.75 549.5" stroke="#111" stroke-width="1" fill="none"/>
<path d="M207.15 549.5L212.35 549.5" stroke="#111" stroke-width="1" fill="none"/>
<path d="M61.25 564.25L78.75 564.25" stroke="#333" stroke-width=".9" fill="none"/>
<text x="70" y="564.9" font-size="11.5" text-anchor="middle" font-weight="bold" stroke="#000" stroke-width=".22" fill="#000">**</text>
<path d="M149.5 533.25L166.25 533.25" stroke="#333" stroke-width=".9" fill="none"/>
<text x="158.5" y="534.2" font-size="11.5" text-anchor="middle" font-weight="bold" stroke="#000" stroke-width=".22" fill="#000">*</text>
<path d="M192.5 540L209.5 540" stroke="#333" stroke-width=".9" fill="none"/>
<text x="201.2" y="540.9" font-size="11.5" text-anchor="middle" font-weight="bold" stroke="#000" stroke-width=".22" fill="#000">*</text>
<text x="71.25" y="597" font-size="8.15" text-anchor="middle" font-weight="bold" stroke="#000" stroke-width=".22" fill="#000">Mac-1+ Gr-1+</text>
<text x="115" y="597" font-size="8.15" text-anchor="middle" font-weight="bold" stroke="#000" stroke-width=".22" fill="#000">B220+</text>
<text x="158.75" y="597" font-size="8.15" text-anchor="middle" font-weight="bold" stroke="#000" stroke-width=".22" fill="#000">CD3+</text>
<text x="204.75" y="597" font-size="8.15" text-anchor="middle" font-weight="bold" stroke="#000" stroke-width=".22" fill="#000">Mac-1+ c-Kit-</text>
<text x="212.3" y="495.6" font-size="7.6" text-anchor="end" font-weight="bold" stroke="#000" stroke-width=".22" fill="#000">+/+</text>
<text x="211" y="504.3" font-size="7.6" text-anchor="end" font-weight="bold" stroke="#000" stroke-width=".22" fill="#000">+/-</text>
<rect x="213.4" y="490.7" width="9.4" height="4.8" fill="#fff" stroke="#111" stroke-width=".9"/>
<rect x="213" y="499.2" width="10.2" height="5.2" fill="#111"/>
<path d="M311.25 489.1L311.25 585.9" stroke="#111" stroke-width="1.1" fill="none"/>
<path d="M310.85 585.5L488.5 585.5" stroke="#111" stroke-width="1.1" fill="none"/>
<path d="M308.75 585.5L311.25 585.5" stroke="#111" stroke-width=".9" fill="none"/>
<text x="307.85" y="588.7" font-size="9" text-anchor="end" font-weight="bold" stroke="#000" stroke-width=".22" fill="#000">0</text>
<path d="M308.75 569.5L311.25 569.5" stroke="#111" stroke-width=".9" fill="none"/>
<text x="307.85" y="572.7" font-size="9" text-anchor="end" font-weight="bold" stroke="#000" stroke-width=".22" fill="#000">15</text>
<path d="M308.75 553.5L311.25 553.5" stroke="#111" stroke-width=".9" fill="none"/>
<text x="307.85" y="556.7" font-size="9" text-anchor="end" font-weight="bold" stroke="#000" stroke-width=".22" fill="#000">30</text>
<path d="M308.75 537.5L311.25 537.5" stroke="#111" stroke-width=".9" fill="none"/>
<text x="307.85" y="540.7" font-size="9" text-anchor="end" font-weight="bold" stroke="#000" stroke-width=".22" fill="#000">45</text>
<path d="M308.75 521.5L311.25 521.5" stroke="#111" stroke-width=".9" fill="none"/>
<text x="307.85" y="524.7" font-size="9" text-anchor="end" font-weight="bold" stroke="#000" stroke-width=".22" fill="#000">60</text>
<path d="M308.75 505.5L311.25 505.5" stroke="#111" stroke-width=".9" fill="none"/>
<text x="307.85" y="508.7" font-size="9" text-anchor="end" font-weight="bold" stroke="#000" stroke-width=".22" fill="#000">75</text>
<path d="M308.75 489.5L311.25 489.5" stroke="#111" stroke-width=".9" fill="none"/>
<text x="307.85" y="492.7" font-size="9" text-anchor="end" font-weight="bold" stroke="#000" stroke-width=".22" fill="#000">90</text>
<text x="294.8" y="536" font-size="8.1" text-anchor="middle" font-weight="bold" stroke="#000" stroke-width=".22" transform="rotate(-90 294.8 536)" fill="#000">% cells in bone marrow</text>
<rect x="318.75" y="535.5" width="11.5" height="50" fill="#fff" stroke="#111" stroke-width="1"/>
<path d="M324.5 535.5L324.5 530.75" stroke="#111" stroke-width="1" fill="none"/>
<path d="M321.9 530.75L327.1 530.75" stroke="#111" stroke-width="1" fill="none"/>
<rect x="336.25" y="510.5" width="10.25" height="75" fill="#111" stroke="#111" stroke-width="1"/>
<path d="M341.38 510.5L341.38 508.25" stroke="#111" stroke-width="1" fill="none"/>
<path d="M338.77 508.25L343.98 508.25" stroke="#111" stroke-width="1" fill="none"/>
<rect x="363.75" y="566.75" width="10.75" height="18.75" fill="#fff" stroke="#111" stroke-width="1"/>
<path d="M369.12 566.75L369.12 563.75" stroke="#111" stroke-width="1" fill="none"/>
<path d="M366.52 563.75L371.73 563.75" stroke="#111" stroke-width="1" fill="none"/>
<rect x="380.5" y="579.5" width="10.6" height="6" fill="#111" stroke="#111" stroke-width="1"/>
<path d="M385.8 579.5L385.8 576.6" stroke="#111" stroke-width="1" fill="none"/>
<path d="M383.2 576.6L388.4 576.6" stroke="#111" stroke-width="1" fill="none"/>
<rect x="408" y="580" width="11.5" height="5.5" fill="#fff" stroke="#111" stroke-width="1"/>
<path d="M413.75 580L413.75 579.5" stroke="#111" stroke-width="1" fill="none"/>
<path d="M411.15 579.5L416.35 579.5" stroke="#111" stroke-width="1" fill="none"/>
<rect x="424.7" y="581.5" width="11.8" height="4" fill="#111" stroke="#111" stroke-width="1"/>
<path d="M430.6 581.5L430.6 581" stroke="#111" stroke-width="1" fill="none"/>
<path d="M428 581L433.2 581" stroke="#111" stroke-width="1" fill="none"/>
<rect x="453.3" y="530.5" width="10.5" height="55" fill="#fff" stroke="#111" stroke-width="1"/>
<path d="M458.55 530.5L458.55 522.4" stroke="#111" stroke-width="1" fill="none"/>
<path d="M455.95 522.4L461.15 522.4" stroke="#111" stroke-width="1" fill="none"/>
<rect x="470" y="495.9" width="10.5" height="89.6" fill="#111" stroke="#111" stroke-width="1"/>
<path d="M475.25 495.9L475.25 493.8" stroke="#111" stroke-width="1" fill="none"/>
<path d="M472.65 493.8L477.85 493.8" stroke="#111" stroke-width="1" fill="none"/>
<path d="M324.5 499.5L342 499.5" stroke="#333" stroke-width=".9" fill="none"/>
<text x="333.25" y="500" font-size="11.5" text-anchor="middle" font-weight="bold" stroke="#000" stroke-width=".22" fill="#000">***</text>
<path d="M368.75 555L387.3 555" stroke="#333" stroke-width=".9" fill="none"/>
<text x="378" y="555.6" font-size="11.5" text-anchor="middle" font-weight="bold" stroke="#000" stroke-width=".22" fill="#000">**</text>
<path d="M458 490L475.3 490" stroke="#333" stroke-width=".9" fill="none"/>
<text x="466.6" y="490.6" font-size="11.5" text-anchor="middle" font-weight="bold" stroke="#000" stroke-width=".22" fill="#000">***</text>
<text x="334.4" y="597.7" font-size="8.15" text-anchor="middle" font-weight="bold" stroke="#000" stroke-width=".22" fill="#000">Mac-1+ Gr-1+</text>
<text x="379.3" y="597.7" font-size="8.15" text-anchor="middle" font-weight="bold" stroke="#000" stroke-width=".22" fill="#000">B220+</text>
<text x="422.5" y="597.7" font-size="8.15" text-anchor="middle" font-weight="bold" stroke="#000" stroke-width=".22" fill="#000">CD3+</text>
<text x="470" y="597.7" font-size="8.15" text-anchor="middle" font-weight="bold" stroke="#000" stroke-width=".22" fill="#000">Mac-1+ c-Kit-</text>
<text x="500.3" y="496.6" font-size="7.6" text-anchor="end" font-weight="bold" stroke="#000" stroke-width=".22" fill="#000">+/+</text>
<text x="499" y="505.2" font-size="7.6" text-anchor="end" font-weight="bold" stroke="#000" stroke-width=".22" fill="#000">+/-</text>
<rect x="502.2" y="491.8" width="10.2" height="4.7" fill="#fff" stroke="#111" stroke-width=".9"/>
<rect x="501.8" y="500.2" width="11" height="5.2" fill="#111"/>
<text x="54.5" y="280.2" font-size="14" text-anchor="start" font-weight="bold" stroke="#000" stroke-width=".22" fill="#000">H</text>
<text x="264.2" y="279.6" font-size="14" text-anchor="start" font-weight="bold" stroke="#000" stroke-width=".22" fill="#000">I</text>
<text x="110" y="277.6" font-size="8.8" text-anchor="middle" font-weight="bold" stroke="#000" stroke-width=".22" fill="#000">+/+</text>
<text x="212" y="277.8" font-size="9.2" text-anchor="middle" font-weight="bold" stroke="#000" stroke-width=".22" fill="#000">diseased +/-</text>
<text x="323" y="277.6" font-size="8.8" text-anchor="middle" font-weight="bold" stroke="#000" stroke-width=".22" fill="#000">+/+</text>
<text x="426.2" y="277.8" font-size="9.2" text-anchor="middle" font-weight="bold" stroke="#000" stroke-width=".22" fill="#000">diseased +/-</text>
<clipPath id="k1"><rect x="78.5" y="280.5" width="64" height="57"/></clipPath>
<g clip-path="url(#k1)"><g>
<ellipse cx="86.6" cy="329.2" rx="8.35" ry="7.19" fill="#cb2d10"/>
<path transform="translate(78.5 280.5) scale(.25)" d="M59 220h4M12 170h4M2 204h4M39 223h4M71 199h4M16 219h4M21 155h4M4 210h4M61 172h4M3 193h4M16 147h4M67 191h4M2 186h4M40 163h4M58 176h4M71 207h4M56 171h4M43 164h4M31 223h4M66 197h4M28 222h4M68 190h4M63 184h4M74 197h4M69 202h4M52 222h4M14 223h4M57 160h4M9 225h4M54 225h4M73 184h4M69 210h4M41 163h4M26 225h4M64 219h4M34 224h4M68 218h4M5 225h4M78 171h4M16 223h4M2 195h4M42 145h4M15 223h4M65 176h4M50 218h4M80 212h4M3 186h4M20 169h4M70 173h4M2 192h4M37 159h4M21 220h4M22 168h4M4 176h4M19 170h4M49 219h4M88 207h4M27 223h4M55 218h4M80 174h4M5 216h4M76 171h4M2 174h4M18 167h4M52 151h4M54 171h4M66 188h4M4 213h4M60 173h4M3 203h4M30 143h4M3 214h4M28 158h4M4 164h4M52 170h4M22 160h4M3 193h4M62 186h4M44 225h4M66 210h4M2 193h4M14 172h4M42 161h4M63 189h4M35 164h4M60 224h4M60 180h4M53 216h4M11 217h4M34 223h4M2 174h4M63 201h4M53 153h4M37 224h4M5 174h4M67 204h4M57 175h4M58 226h4M56 163h4M11 173h4M17 164h4M4 161h4M16 171h4M31 167h4M67 178h4M64 212h4M21 160h4M63 212h4M8 214h4M43 164h4M14 221h4M25 162h4M63 175h4M72 174h4M69 189h4M73 177h4M68 193h4M23 167h4M4 224h4M2 180h4M5 210h4M51 226h4M51 172h4M23 224h4M61 167h4M42 168h4M61 138h4M32 165h4M4 215h4M58 176h4M53 156h4M66 194h4M4 218h4M11 162h4M67 179h4M30 168h4M3 207h4M64 190h4M6 211h4M4 222h4M43 162h4M62 218h4M81 160h4M40 224h4M93 198h4M7 162h4M35 161h4M55 176h4M18 219h4M10 170h4M2 188h4M3 180h4M8 149h4M32 225h4M61 208h4M4 219h4M11 224h4M4 185h4M57 225h4M54 166h4M11 225h4M14 168h4M76 183h4M3 181h4M3 214h4M77 191h4M12 169h4M51 220h4M4 147h4M13 162h4M19 149h4M75 200h4M4 217h4M47 219h4M37 167h4M67 180h4M63 223h4M28 156h4M69 196h4M76 191h4M35 225h4M80 177h4M45 155h4M27 168h4M52 170h4M9 175h4M64 209h4M64 205h4M7 175h4M52 154h4M59 180h4M43 223h4M65 159h4M72 177h4M74 160h4M59 225h4M69 193h4M3 218h4M2 177h4M56 172h4M68 195h4M2 195h4M42 225h4M5 193h4M7 171h4M55 225h4M3 198h4M71 161h4M14 223h4M10 217h4M32 158h4M11 164h4M64 189h4M41 226h4M67 197h4M65 211h4M21 165h4M69 185h4M4 201h4M2 205h4M3 204h4M60 183h4M10 219h4M66 196h4M2 178h4M54 214h4M47 224h4M66 193h4M3 183h4M4 195h4M32 142h4M64 224h4M28 161h4M43 225h4M11 172h4M44 160h4M56 221h4M68 185h4M2 172h4M34 223h4M45 160h4M63 182h4M4 180h4M51 225h4M5 184h4M3 223h4M55 171h4M33 225h4M78 208h4M3 222h4M3 209h4M15 163h4M4 180h4M18 221h4M3 172h4M11 166h4M2 211h4M3 180h4M5 205h4M34 223h4M33 224h4M4 183h4M64 179h4M2 184h4M27 163h4M61 210h4M5 207h4M97 190h4M51 224h4M3 166h4M3 207h4M62 179h4M47 222h4M2 184h4M58 176h4M65 224h4M38 225h4M2 205h4M3 204h4M55 156h4M41 158h4M41 161h4M7 211h4M5 219h4M4 176h4M8 213h4M5 189h4M12 174h4M80 188h4M41 169h4M26 83h4M39 98h4M63 87h4M23 69h4M27 82h4M55 61h4M63 83h4M33 59h4M38 72h4M34 67h4M43 61h4M50 36h4M38 63h4M26 79h4M20 7h4M4 69h4M52 89h4M11 102h4M15 84h4M19 69h4M54 79h4M74 77h4M3 81h4M81 86h4M37 71h4M3 89h4M61 48h4M6 34h4M42 45h4M63 80h4M24 49h4M15 63h4M47 60h4M18 56h4M39 77h4M51 86h4M30 74h4M78 89h4M63 70h4M2 79h4M5 66h4M16 52h4M7 70h4M33 51h4M68 85h4M53 58h4M46 79h4M46 67h4M30 66h4M38 91h4M10 55h4M12 65h4M70 80h4M30 102h4M17 80h4M59 73h4M65 69h4M16 70h4M55 103h4M3 81h4M49 96h4M12 43h4M23 54h4M22 47h4M3 77h4M50 78h4M90 66h4M45 59h4M60 41h4M15 69h4M107 119h4M87 73h4M5 85h4M23 70h4M68 69h4M40 44h4M63 83h4M56 74h4M75 65h4M24 69h4M22 47h4M10 49h4M61 63h4M12 56h4M3 56h4M39 80h4M42 77h4M15 67h4M39 61h4M67 108h4M56 84h4M24 48h4M35 85h4M19 66h4M49 60h4M41 71h4M20 62h4M9 77h4M42 61h4M37 68h4M4 43h4M3 91h4M5 110h4M41 58h4M59 66h4M51 59h4M40 89h4M10 18h4M24 72h4M14 32h4M36 72h4M19 107h4M10 6h4M73 51h4M27 54h4M79 81h4M71 104h4M3 38h4M28 52h4M24 72h4M38 101h4M47 91h4M14 51h4M58 59h4M10 66h4M37 43h4M50 69h4M51 86h4M8 53h4M42 89h4M19 64h4M42 64h4M39 61h4M26 37h4M88 57h4M74 78h4M74 54h4M3 83h4M45 53h4M42 72h4M24 68h4M43 17h4M37 78h4M45 53h4M70 89h4M45 68h4M18 61h4M46 75h4M57 78h4M25 98h4M4 45h4M53 99h4M50 62h4M9 49h4M6 135h4M47 57h4M35 75h4M39 61h4M37 86h4M35 87h4M53 96h4M80 52h4M20 60h4M51 65h4M54 77h4M46 41h4M29 87h4M16 54h4M44 51h4M45 77h4M40 99h4M29 47h4M100 76h4M150 72h4M160 77h4M160 86h4M162 62h4M155 77h4M159 68h4M162 32h4M161 69h4M153 71h4M158 95h4M160 76h4M166 58h4M154 50h4M176 74h4M163 70h4M146 72h4M159 67h4M159 70h4M168 90h4M165 76h4M158 70h4M157 78h4M145 61h4M150 65h4M157 76h4M151 70h4M162 63h4M160 69h4M156 76h4M147 84h4M157 50h4M165 44h4M167 76h4M163 78h4M154 75h4M162 70h4M154 36h4M159 66h4M154 64h4M150 66h4M159 73h4M156 69h4M165 45h4M170 70h4M159 65h4M152 60h4M164 90h4M147 58h4M174 54h4M151 45h4M164 73h4M20 133h4M17 177h4M3 90h4M107 113h4M125 124h4M28 163h4M121 162h4M8 86h4M109 144h4M57 119h4M77 45h4M19 80h4M114 112h4M55 99h4M9 92h4M82 109h4M102 176h4M55 66h4M28 129h4M102 119h4M68 134h4M121 153h4M54 103h4M68 103h4M28 165h4M78 85h4M87 86h4M29 65h4M20 107h4M80 122h4M81 127h4M50 170h4M23 87h4M156 134h4M79 225h4M24 186h4M68 118h4M28 123h4M101 125h4M49 140h4M123 127h4M52 111h4M86 103h4M129 104h4M115 119h4M101 82h4M60 88h4M36 124h4M20 200h4M141 160h4M70 104h4M3 156h4M20 124h4M131 223h4M61 160h4M113 41h4M108 73h4M107 96h4M154 59h4M127 82h4M116 66h4M136 70h4M168 77h4M126 81h4M131 70h4M139 93h4M131 85h4M93 70h4M128 72h4M151 85h4M125 65h4M117 73h4M165 55h4M148 71h4M164 95h4M106 84h4M93 91h4M123 58h4M125 89h4M183 94h4M135 77h4" stroke="#cb2d10" stroke-width="4" fill="none"/>
</g></g>
<rect x="78.5" y="280.5" width="64" height="57" fill="none" stroke="#3a3a3a" stroke-width=".85"/>
<path d="M102.5 280.5L102.5 337.5" stroke="#222" stroke-width="1" fill="none"/>
<path d="M78.5 314.5L142.5 314.5" stroke="#222" stroke-width="1" fill="none"/>
<text x="80.5" y="286.1" font-size="5.6" text-anchor="start" fill="#262626">6.06</text>
<text x="140.9" y="286.1" font-size="5.6" text-anchor="end" fill="#262626">1.51</text>
<text x="80.7" y="334.4" font-size="5.6" text-anchor="start" fill="#7a1205">92.3</text>
<text x="140.9" y="334.4" font-size="5.6" text-anchor="end" fill="#262626">0.09</text>
<path d="M79.1 337.5v2.2M78.5 336.9h-2.2M83.8 337.5v1M78.5 332.72h-1M86.56 337.5v1M78.5 330.28h-1M88.51 337.5v1M78.5 328.55h-1M90.02 337.5v1M78.5 327.2h-1M91.26 337.5v1M78.5 326.1h-1M92.3 337.5v1M78.5 325.17h-1M93.21 337.5v1M78.5 324.37h-1M94.01 337.5v1M78.5 323.66h-1M94.72 337.5v2.2M78.5 323.02h-2.2M99.43 337.5v1M78.5 318.85h-1M102.18 337.5v1M78.5 316.4h-1M104.13 337.5v1M78.5 314.67h-1M105.65 337.5v1M78.5 313.33h-1M106.88 337.5v1M78.5 312.23h-1M107.93 337.5v1M78.5 311.3h-1M108.84 337.5v1M78.5 310.49h-1M109.64 337.5v1M78.5 309.78h-1M110.35 337.5v2.2M78.5 309.15h-2.2M115.05 337.5v1M78.5 304.97h-1M117.81 337.5v1M78.5 302.53h-1M119.76 337.5v1M78.5 300.8h-1M121.27 337.5v1M78.5 299.45h-1M122.51 337.5v1M78.5 298.35h-1M123.55 337.5v1M78.5 297.42h-1M124.46 337.5v1M78.5 296.62h-1M125.26 337.5v1M78.5 295.91h-1M125.97 337.5v2.2M78.5 295.27h-2.2M130.68 337.5v1M78.5 291.1h-1M133.43 337.5v1M78.5 288.65h-1M135.38 337.5v1M78.5 286.92h-1M136.9 337.5v1M78.5 285.58h-1M138.13 337.5v1M78.5 284.48h-1M139.18 337.5v1M78.5 283.55h-1M140.09 337.5v1M78.5 282.74h-1M140.89 337.5v1M78.5 282.03h-1M141.6 337.5v2.2M78.5 281.4h-2.2" stroke="#333" stroke-width=".45" fill="none"/>
<text x="79.5" y="342.3" font-size="3" text-anchor="middle" fill="#555">10<tspan font-size="2" dy="-1">0</tspan></text>
<text x="76.1" y="336.5" font-size="3" text-anchor="middle" fill="#555" transform="rotate(-90 76.1 336.5)">10<tspan font-size="2" dy="-1">0</tspan></text>
<text x="95.12" y="342.3" font-size="3" text-anchor="middle" fill="#555">10<tspan font-size="2" dy="-1">1</tspan></text>
<text x="76.1" y="322.62" font-size="3" text-anchor="middle" fill="#555" transform="rotate(-90 76.1 322.62)">10<tspan font-size="2" dy="-1">1</tspan></text>
<text x="110.75" y="342.3" font-size="3" text-anchor="middle" fill="#555">10<tspan font-size="2" dy="-1">2</tspan></text>
<text x="76.1" y="308.75" font-size="3" text-anchor="middle" fill="#555" transform="rotate(-90 76.1 308.75)">10<tspan font-size="2" dy="-1">2</tspan></text>
<text x="126.38" y="342.3" font-size="3" text-anchor="middle" fill="#555">10<tspan font-size="2" dy="-1">3</tspan></text>
<text x="76.1" y="294.88" font-size="3" text-anchor="middle" fill="#555" transform="rotate(-90 76.1 294.88)">10<tspan font-size="2" dy="-1">3</tspan></text>
<text x="142" y="342.3" font-size="3" text-anchor="middle" fill="#555">10<tspan font-size="2" dy="-1">4</tspan></text>
<text x="76.1" y="281" font-size="3" text-anchor="middle" fill="#555" transform="rotate(-90 76.1 281)">10<tspan font-size="2" dy="-1">4</tspan></text>
<text x="110.5" y="346.1" font-size="3.2" text-anchor="middle" fill="#555">Gr1</text>
<text x="70.1" y="311" font-size="3.2" text-anchor="middle" transform="rotate(-90 70.1 311)" fill="#444">CD11b</text>
<clipPath id="k2"><rect x="78.5" y="350.5" width="63" height="56"/></clipPath>
<g clip-path="url(#k2)"><g>
<ellipse cx="87.5" cy="377.5" rx="7.93" ry="4.48" fill="#cb2d10"/>
<ellipse cx="88.8" cy="390" rx="5.17" ry="4.05" fill="#cb2d10"/>
<ellipse cx="109.5" cy="395.5" rx="5.51" ry="7.58" fill="#cb2d10"/>
<path transform="translate(78.5 350.5) scale(.25)" d="M87 100h4M54 91h4M13 98h4M24 69h4M3 126h4M66 94h4M31 81h4M39 86h4M5 135h4M55 125h4M71 90h4M67 99h4M21 125h4M60 131h4M31 135h4M16 137h4M5 106h4M64 101h4M72 118h4M29 82h4M49 127h4M65 114h4M2 105h4M47 133h4M5 117h4M51 124h4M83 123h4M71 111h4M49 125h4M9 95h4M40 88h4M66 96h4M58 93h4M61 118h4M100 92h4M8 93h4M25 124h4M47 134h4M70 103h4M69 110h4M53 93h4M2 129h4M3 113h4M73 120h4M4 84h4M67 111h4M42 89h4M2 114h4M74 102h4M74 98h4M7 116h4M87 86h4M20 92h4M71 102h4M74 107h4M2 94h4M8 119h4M67 101h4M19 126h4M16 91h4M6 79h4M3 112h4M59 96h4M69 101h4M4 91h4M68 121h4M50 129h4M55 121h4M52 139h4M4 110h4M36 87h4M9 118h4M46 84h4M72 119h4M26 125h4M45 91h4M3 123h4M62 118h4M59 90h4M24 133h4M4 86h4M12 125h4M40 130h4M72 89h4M3 108h4M70 102h4M36 83h4M69 100h4M13 95h4M61 135h4M5 129h4M63 94h4M39 131h4M16 134h4M38 125h4M62 127h4M2 117h4M39 91h4M101 105h4M66 101h4M23 129h4M56 123h4M85 126h4M71 97h4M3 105h4M5 91h4M64 97h4M49 92h4M48 87h4M28 128h4M26 90h4M17 94h4M34 89h4M42 85h4M60 119h4M94 99h4M51 91h4M28 134h4M6 118h4M5 113h4M60 121h4M29 135h4M47 128h4M23 88h4M2 93h4M41 125h4M11 87h4M47 131h4M35 128h4M2 119h4M53 122h4M4 94h4M5 109h4M84 102h4M46 126h4M66 115h4M56 121h4M2 103h4M67 102h4M68 114h4M3 105h4M26 89h4M7 104h4M5 85h4M64 117h4M24 125h4M62 100h4M66 121h4M4 131h4M52 83h4M4 67h4M7 104h4M76 103h4M37 130h4M2 124h4M3 132h4M46 91h4M70 111h4M67 106h4M43 128h4M75 101h4M23 130h4M6 100h4M37 127h4M8 126h4M5 112h4M35 90h4M11 98h4M8 94h4M55 122h4M10 118h4M46 82h4M21 92h4M8 96h4M54 129h4M82 88h4M58 96h4M23 130h4M4 100h4M38 132h4M38 130h4M47 126h4M73 97h4M7 94h4M69 119h4M3 122h4M80 110h4M51 84h4M81 112h4M40 125h4M10 91h4M10 89h4M63 131h4M66 121h4M89 103h4M70 103h4M14 93h4M59 92h4M59 123h4M68 106h4M64 115h4M56 84h4M11 127h4M3 98h4M78 123h4M2 99h4M13 89h4M11 132h4M58 136h4M3 118h4M2 101h4M53 91h4M50 124h4M11 95h4M3 100h4M71 132h4M73 98h4M7 117h4M75 108h4M56 90h4M77 97h4M6 111h4M50 90h4M81 103h4M2 107h4M72 118h4M33 90h4M43 129h4M12 148h4M30 86h4M76 91h4M3 98h4M71 152h4M61 163h4M64 155h4M21 127h4M17 175h4M63 178h4M32 182h4M59 185h4M5 174h4M69 153h4M62 160h4M72 154h4M43 139h4M85 144h4M19 143h4M51 184h4M63 134h4M70 161h4M83 142h4M66 174h4M26 136h4M77 134h4M36 137h4M48 183h4M69 152h4M25 126h4M61 170h4M53 138h4M50 115h4M10 162h4M25 148h4M71 153h4M64 158h4M11 153h4M44 182h4M57 172h4M22 146h4M19 175h4M60 175h4M22 161h4M89 158h4M31 187h4M75 147h4M52 189h4M63 172h4M16 145h4M76 149h4M82 138h4M35 138h4M47 128h4M5 118h4M11 163h4M6 141h4M81 152h4M44 124h4M4 173h4M82 115h4M37 181h4M56 146h4M56 144h4M10 160h4M24 186h4M19 163h4M36 133h4M30 124h4M49 142h4M14 131h4M71 167h4M19 155h4M41 123h4M77 156h4M71 136h4M58 180h4M66 137h4M36 184h4M23 170h4M37 133h4M62 176h4M63 125h4M40 187h4M52 176h4M16 167h4M63 122h4M47 177h4M16 155h4M93 147h4M63 162h4M10 154h4M2 152h4M61 169h4M55 179h4M58 175h4M22 184h4M18 143h4M26 146h4M70 155h4M41 181h4M74 151h4M78 168h4M48 180h4M45 139h4M14 142h4M22 148h4M30 177h4M49 144h4M35 133h4M4 164h4M62 135h4M38 120h4M22 168h4M8 136h4M34 186h4M57 148h4M59 151h4M66 174h4M26 196h4M14 159h4M17 150h4M18 147h4M22 165h4M12 176h4M21 168h4M76 142h4M66 160h4M11 153h4M80 163h4M72 153h4M45 141h4M42 183h4M37 192h4M57 185h4M8 146h4M26 124h4M59 168h4M32 206h4M73 152h4M21 166h4M63 166h4M58 174h4M50 142h4M30 128h4M61 149h4M45 194h4M24 127h4M62 156h4M68 146h4M64 199h4M20 184h4M15 158h4M22 182h4M33 177h4M11 161h4M44 143h4M64 151h4M64 161h4M62 142h4M20 138h4M47 132h4M30 139h4M75 123h4M21 149h4M3 150h4M25 132h4M31 179h4M44 180h4M68 160h4M34 121h4M2 161h4M69 160h4M29 172h4M12 141h4M15 146h4M30 137h4M3 165h4M79 162h4M30 142h4M69 173h4M48 174h4M11 171h4M54 136h4M22 152h4M34 143h4M42 138h4M2 149h4M68 162h4M22 168h4M67 158h4M60 154h4M57 175h4M29 137h4M63 162h4M20 159h4M44 130h4M62 168h4M29 130h4M10 118h4M40 141h4M56 138h4M17 145h4M42 131h4M4 166h4M10 171h4M64 147h4M69 188h4M63 163h4M9 176h4M51 173h4M50 184h4M37 130h4M22 155h4M75 165h4M42 179h4M32 141h4M20 154h4M33 138h4M81 164h4M43 174h4M12 161h4M19 174h4M57 116h4M25 141h4M55 174h4M19 165h4M30 180h4M27 195h4M50 142h4M59 150h4M27 147h4M67 166h4M17 159h4M64 189h4M9 144h4M43 185h4M29 130h4M62 196h4M65 167h4M10 150h4M28 146h4M43 138h4M59 176h4M25 175h4M38 183h4M63 161h4M5 178h4M60 172h4M49 142h4M47 134h4M54 141h4M54 181h4M67 149h4M39 179h4M66 133h4M16 138h4M65 159h4M53 139h4M35 114h4M44 130h4M24 142h4M45 128h4M29 187h4M57 175h4M61 146h4M3 138h4M17 150h4M23 172h4M31 125h4M23 179h4M62 164h4M21 145h4M6 167h4M9 166h4M3 144h4M7 168h4M30 187h4M14 152h4M67 158h4M36 141h4M61 186h4M18 170h4M69 167h4M74 157h4M13 153h4M27 125h4M68 154h4M64 143h4M65 145h4M37 134h4M76 150h4M63 155h4M15 164h4M32 140h4M63 154h4M68 159h4M61 148h4M70 151h4M90 123h4M58 176h4M65 188h4M73 130h4M44 141h4M143 162h4M143 156h4M116 146h4M129 214h4M105 165h4M139 149h4M135 219h4M132 139h4M111 155h4M133 213h4M132 206h4M113 147h4M104 172h4M120 136h4M90 188h4M107 198h4M109 205h4M93 205h4M126 148h4M103 210h4M164 173h4M141 201h4M129 138h4M157 165h4M136 217h4M124 147h4M133 150h4M86 211h4M152 172h4M110 150h4M94 137h4M104 210h4M109 201h4M145 186h4M114 155h4M104 198h4M121 209h4M146 191h4M150 179h4M135 214h4M131 216h4M160 160h4M102 205h4M160 207h4M150 124h4M96 174h4M99 172h4M137 217h4M96 154h4M151 178h4M89 219h4M120 151h4M116 219h4M113 152h4M120 220h4M143 167h4M111 142h4M148 176h4M102 212h4M144 198h4M139 209h4M102 173h4M144 173h4M96 190h4M148 159h4M108 151h4M125 219h4M119 221h4M108 149h4M90 173h4M126 212h4M96 170h4M113 205h4M101 161h4M138 219h4M137 221h4M144 148h4M103 169h4M125 151h4M111 211h4M102 190h4M113 213h4M99 205h4M92 189h4M126 146h4M156 219h4M118 145h4M152 189h4M172 183h4M105 166h4M126 221h4M145 191h4M135 156h4M97 167h4M132 148h4M145 162h4M114 154h4M128 215h4M148 213h4M142 216h4M149 200h4M136 214h4M127 212h4M150 154h4M142 136h4M134 214h4M101 185h4M144 209h4M92 156h4M135 138h4M124 147h4M100 170h4M144 195h4M144 204h4M101 148h4M131 213h4M155 185h4M96 170h4M114 146h4M156 171h4M99 195h4M125 219h4M146 180h4M108 201h4M101 178h4M134 148h4M101 198h4M146 205h4M110 207h4M94 184h4M95 165h4M148 183h4M145 196h4M144 169h4M92 188h4M123 146h4M145 177h4M128 137h4M133 154h4M144 151h4M131 136h4M98 210h4M91 203h4M158 221h4M117 144h4M116 217h4M152 206h4M149 162h4M104 155h4M102 203h4M103 153h4M140 158h4M119 145h4M149 180h4M121 151h4M147 156h4M85 178h4M118 208h4M133 214h4M96 183h4M97 178h4M98 171h4M104 167h4M119 221h4M116 219h4M93 185h4M106 202h4M149 202h4M108 127h4M99 176h4M104 155h4M104 173h4M95 221h4M117 216h4M101 179h4M144 164h4M153 167h4M130 208h4M145 184h4M144 161h4M142 206h4M145 202h4M121 220h4M104 166h4M100 180h4M122 221h4M137 209h4M111 217h4M124 124h4M125 129h4M127 209h4M144 172h4M97 177h4M102 133h4M116 141h4M105 165h4M123 219h4M156 163h4M86 203h4M131 150h4M101 173h4M100 163h4M118 153h4M126 218h4M120 145h4M97 172h4M94 178h4M139 120h4M118 147h4M146 190h4M128 142h4M118 217h4M109 153h4M123 212h4M130 213h4M148 173h4M153 166h4M136 151h4M132 220h4M119 137h4M130 141h4M122 212h4M144 200h4M94 184h4M123 209h4M99 187h4M164 161h4M100 192h4M130 220h4M130 135h4M142 202h4M141 199h4M112 121h4M100 157h4M109 204h4M106 162h4M100 183h4M127 218h4M151 192h4M104 168h4M134 216h4M153 188h4M158 165h4M101 190h4M144 200h4M117 215h4M102 167h4M138 153h4M137 209h4M137 218h4M109 216h4M125 219h4M110 221h4M103 180h4M118 220h4M154 157h4M129 135h4M121 150h4M152 156h4M117 221h4M85 153h4M122 149h4M109 147h4M92 181h4M120 148h4M126 217h4M102 191h4M134 145h4M123 125h4M158 183h4M124 138h4M160 186h4M148 198h4M168 204h4M138 203h4M101 173h4M145 191h4M150 168h4M108 157h4M125 221h4M144 162h4M152 149h4M120 211h4M115 149h4M114 216h4M90 163h4M134 218h4M127 99h4M202 81h4M143 69h4M190 64h4M129 78h4M129 79h4M130 108h4M193 74h4M135 57h4M101 123h4M115 93h4M125 102h4M150 61h4M187 84h4M133 89h4M230 54h4M109 106h4M191 75h4M130 83h4M169 91h4M140 76h4M93 93h4M163 109h4M181 107h4M74 123h4M112 112h4M109 112h4M138 77h4M184 80h4M151 99h4M125 118h4M160 130h4M127 140h4M138 97h4M149 73h4M182 84h4M138 74h4M80 57h4M140 121h4M163 84h4M143 85h4M114 81h4M130 73h4M131 87h4M157 68h4M108 73h4M76 116h4M129 82h4M186 94h4M157 76h4M127 125h4M111 140h4M103 163h4M55 152h4M51 126h4M40 166h4M120 185h4M59 167h4M102 129h4M124 147h4M72 89h4M71 142h4M44 141h4M5 136h4M64 107h4M105 151h4M54 154h4M80 147h4M120 89h4M71 155h4M62 154h4M107 141h4M91 185h4M38 147h4M91 210h4M116 116h4M105 100h4M79 191h4M58 159h4M66 123h4M74 179h4M43 168h4M78 110h4M69 172h4M84 208h4M94 148h4M51 171h4M105 172h4M63 137h4M63 184h4M88 146h4M64 103h4M69 77h4M74 165h4M105 145h4M60 123h4M69 148h4M85 154h4M81 143h4M64 159h4M46 124h4M89 113h4M76 135h4M4 170h4M26 168h4M50 144h4M83 146h4M44 119h4M79 143h4M56 137h4M69 144h4M42 155h4M71 169h4M71 119h4M50 167h4M47 128h4M46 100h4M89 148h4M37 154h4M90 163h4M87 171h4M68 158h4M60 112h4M76 164h4M54 184h4M107 175h4M95 144h4M79 181h4M84 137h4M102 159h4M62 157h4M77 142h4M62 134h4M95 165h4M53 163h4M53 130h4M67 164h4M29 124h4M86 135h4M62 131h4M68 143h4M77 126h4M73 101h4M111 183h4M94 145h4M42 111h4M114 159h4M62 175h4M87 171h4M92 138h4M61 157h4M61 162h4M56 169h4M35 144h4M70 147h4M101 124h4M64 130h4M94 153h4M100 141h4M50 152h4M109 154h4M119 171h4M61 145h4M76 158h4M86 167h4M53 166h4M138 168h4M2 192h4M48 108h4M37 174h4M70 187h4M100 190h4M95 141h4M72 187h4M56 178h4M21 182h4M33 117h4M37 145h4M93 107h4M74 125h4M43 121h4M78 161h4M58 138h4M73 146h4M71 143h4M91 152h4M66 160h4M28 123h4M60 140h4M134 110h4M13 184h4M72 149h4M90 153h4M92 148h4M110 126h4M111 136h4M76 191h4M99 154h4M46 184h4M60 156h4M87 161h4M46 167h4M149 151h4M56 139h4M2 98h4M94 158h4M19 125h4M61 147h4M50 97h4M65 136h4M40 133h4M59 134h4M45 142h4M73 137h4M58 98h4M55 159h4M73 171h4M49 130h4M88 174h4M76 167h4M45 177h4M54 156h4M92 153h4M41 130h4M77 170h4M68 140h4M48 132h4M66 180h4M96 170h4M62 161h4M20 175h4M92 126h4M89 115h4M54 152h4M67 173h4M103 170h4M32 151h4M135 160h4M55 125h4M60 186h4M91 203h4M86 176h4M53 211h4M77 181h4M128 175h4M114 135h4" stroke="#cb2d10" stroke-width="4" fill="none"/>
</g></g>
<rect x="78.5" y="350.5" width="63" height="56" fill="none" stroke="#3a3a3a" stroke-width=".85"/>
<path d="M101.5 350.5L101.5 406.5" stroke="#222" stroke-width="1" fill="none"/>
<path d="M78.5 383.5L141.5 383.5" stroke="#222" stroke-width="1" fill="none"/>
<text x="80.5" y="356.1" font-size="5.6" text-anchor="start" fill="#262626">37.15</text>
<text x="139.9" y="356.1" font-size="5.6" text-anchor="end" fill="#262626">2.31</text>
<text x="80.7" y="403.4" font-size="5.6" text-anchor="start" fill="#7a1205">19.62</text>
<text x="139.9" y="403.4" font-size="5.6" text-anchor="end" fill="#262626">40.92</text>
<path d="M79.1 406.5v2.2M78.5 405.9h-2.2M83.73 406.5v1M78.5 401.8h-1M86.44 406.5v1M78.5 399.4h-1M88.36 406.5v1M78.5 397.7h-1M89.85 406.5v1M78.5 396.38h-1M91.06 406.5v1M78.5 395.3h-1M92.09 406.5v1M78.5 394.39h-1M92.99 406.5v1M78.5 393.6h-1M93.77 406.5v1M78.5 392.9h-1M94.47 406.5v2.2M78.5 392.27h-2.2M99.1 406.5v1M78.5 388.17h-1M101.81 406.5v1M78.5 385.77h-1M103.73 406.5v1M78.5 384.07h-1M105.22 406.5v1M78.5 382.75h-1M106.44 406.5v1M78.5 381.67h-1M107.47 406.5v1M78.5 380.76h-1M108.36 406.5v1M78.5 379.97h-1M109.15 406.5v1M78.5 379.27h-1M109.85 406.5v2.2M78.5 378.65h-2.2M114.48 406.5v1M78.5 374.55h-1M117.19 406.5v1M78.5 372.15h-1M119.11 406.5v1M78.5 370.45h-1M120.6 406.5v1M78.5 369.13h-1M121.81 406.5v1M78.5 368.05h-1M122.84 406.5v1M78.5 367.14h-1M123.74 406.5v1M78.5 366.35h-1M124.52 406.5v1M78.5 365.65h-1M125.22 406.5v2.2M78.5 365.02h-2.2M129.85 406.5v1M78.5 360.92h-1M132.56 406.5v1M78.5 358.52h-1M134.48 406.5v1M78.5 356.82h-1M135.97 406.5v1M78.5 355.5h-1M137.19 406.5v1M78.5 354.42h-1M138.22 406.5v1M78.5 353.51h-1M139.11 406.5v1M78.5 352.72h-1M139.9 406.5v1M78.5 352.02h-1M140.6 406.5v2.2M78.5 351.4h-2.2" stroke="#333" stroke-width=".45" fill="none"/>
<text x="79.5" y="411.3" font-size="3" text-anchor="middle" fill="#555">10<tspan font-size="2" dy="-1">0</tspan></text>
<text x="76.1" y="405.5" font-size="3" text-anchor="middle" fill="#555" transform="rotate(-90 76.1 405.5)">10<tspan font-size="2" dy="-1">0</tspan></text>
<text x="94.88" y="411.3" font-size="3" text-anchor="middle" fill="#555">10<tspan font-size="2" dy="-1">1</tspan></text>
<text x="76.1" y="391.88" font-size="3" text-anchor="middle" fill="#555" transform="rotate(-90 76.1 391.88)">10<tspan font-size="2" dy="-1">1</tspan></text>
<text x="110.25" y="411.3" font-size="3" text-anchor="middle" fill="#555">10<tspan font-size="2" dy="-1">2</tspan></text>
<text x="76.1" y="378.25" font-size="3" text-anchor="middle" fill="#555" transform="rotate(-90 76.1 378.25)">10<tspan font-size="2" dy="-1">2</tspan></text>
<text x="125.62" y="411.3" font-size="3" text-anchor="middle" fill="#555">10<tspan font-size="2" dy="-1">3</tspan></text>
<text x="76.1" y="364.62" font-size="3" text-anchor="middle" fill="#555" transform="rotate(-90 76.1 364.62)">10<tspan font-size="2" dy="-1">3</tspan></text>
<text x="141" y="411.3" font-size="3" text-anchor="middle" fill="#555">10<tspan font-size="2" dy="-1">4</tspan></text>
<text x="76.1" y="351" font-size="3" text-anchor="middle" fill="#555" transform="rotate(-90 76.1 351)">10<tspan font-size="2" dy="-1">4</tspan></text>
<text x="110" y="415.1" font-size="3.2" text-anchor="middle" fill="#555">CD3</text>
<text x="70.1" y="380.5" font-size="3.2" text-anchor="middle" transform="rotate(-90 70.1 380.5)" fill="#444">B220</text>
<clipPath id="k3"><rect x="78.5" y="420.5" width="64" height="56"/></clipPath>
<g clip-path="url(#k3)"><g>
<ellipse cx="87" cy="468.8" rx="9.13" ry="7.54" fill="#cb2d10"/>
<path transform="translate(78.5 420.5) scale(.25)" d="M75 196h4M5 166h4M4 189h4M68 205h4M77 200h4M4 198h4M23 154h4M3 213h4M4 174h4M73 178h4M56 219h4M74 150h4M67 210h4M24 219h4M67 201h4M12 218h4M76 203h4M3 205h4M25 165h4M9 152h4M2 181h4M48 161h4M86 194h4M81 157h4M33 159h4M75 176h4M70 196h4M4 215h4M47 154h4M48 162h4M2 198h4M76 188h4M5 210h4M4 220h4M62 216h4M10 161h4M75 198h4M64 217h4M15 163h4M34 151h4M2 180h4M7 173h4M3 209h4M5 163h4M33 153h4M54 164h4M26 158h4M5 210h4M75 184h4M22 159h4M3 207h4M70 168h4M76 218h4M8 215h4M35 147h4M13 216h4M70 221h4M17 218h4M65 205h4M3 185h4M63 213h4M32 160h4M34 222h4M49 158h4M4 157h4M21 220h4M6 176h4M71 194h4M15 219h4M63 220h4M4 169h4M52 154h4M54 219h4M44 221h4M90 201h4M10 150h4M50 155h4M23 221h4M13 156h4M50 219h4M30 159h4M39 220h4M4 199h4M66 168h4M2 220h4M4 208h4M70 209h4M11 170h4M66 215h4M2 175h4M66 181h4M79 156h4M3 166h4M78 168h4M3 196h4M83 193h4M21 221h4M63 209h4M32 164h4M94 186h4M36 222h4M72 189h4M35 220h4M12 158h4M58 216h4M72 170h4M70 179h4M3 202h4M4 212h4M28 221h4M51 221h4M4 216h4M84 180h4M4 188h4M7 169h4M69 203h4M54 160h4M87 207h4M52 218h4M3 219h4M14 218h4M4 170h4M91 209h4M2 213h4M78 196h4M52 140h4M85 188h4M61 167h4M3 193h4M79 156h4M4 209h4M74 206h4M3 182h4M57 172h4M31 160h4M59 159h4M66 219h4M49 220h4M36 138h4M66 173h4M2 175h4M11 217h4M70 174h4M57 155h4M69 220h4M58 166h4M70 204h4M41 218h4M49 219h4M15 218h4M3 187h4M3 184h4M65 210h4M69 170h4M53 168h4M19 167h4M73 176h4M14 221h4M72 190h4M29 155h4M17 220h4M3 219h4M43 220h4M74 183h4M33 153h4M69 190h4M2 196h4M15 168h4M74 217h4M68 194h4M66 165h4M82 218h4M88 206h4M22 221h4M13 169h4M68 200h4M12 171h4M63 212h4M13 171h4M64 173h4M20 145h4M58 217h4M3 169h4M63 162h4M43 220h4M87 198h4M73 212h4M22 219h4M35 160h4M80 186h4M78 207h4M77 199h4M56 164h4M77 158h4M63 212h4M4 202h4M74 212h4M42 221h4M24 165h4M7 172h4M57 215h4M47 159h4M58 220h4M15 219h4M79 212h4M2 195h4M36 221h4M60 168h4M80 208h4M61 158h4M50 221h4M60 172h4M18 161h4M13 161h4M31 152h4M4 192h4M65 166h4M55 219h4M71 191h4M19 219h4M79 188h4M46 221h4M42 221h4M12 169h4M70 180h4M3 198h4M57 169h4M18 220h4M85 216h4M3 183h4M13 218h4M52 220h4M21 221h4M7 220h4M63 213h4M65 169h4M76 220h4M31 155h4M41 219h4M48 157h4M51 163h4M82 209h4M27 221h4M59 167h4M9 160h4M45 162h4M2 163h4M32 156h4M84 216h4M39 219h4M3 194h4M25 221h4M4 221h4M89 195h4M4 157h4M20 145h4M76 195h4M18 219h4M55 218h4M66 217h4M53 221h4M65 172h4M69 215h4M54 159h4M81 221h4M72 195h4M77 193h4M55 171h4M49 220h4M81 220h4M14 221h4M3 211h4M25 221h4M70 187h4M36 220h4M75 198h4M69 185h4M23 220h4M77 170h4M34 220h4M85 188h4M68 166h4M61 166h4M8 222h4M47 221h4M4 204h4M32 221h4M70 211h4M5 178h4M18 221h4M76 193h4M22 221h4M16 219h4M45 219h4M85 174h4M60 216h4M70 193h4M63 175h4M74 182h4M74 191h4M25 164h4M2 170h4M12 166h4M81 194h4M4 210h4M101 206h4M97 188h4M96 199h4M95 198h4M107 171h4M103 176h4M113 165h4M100 186h4M111 197h4M109 171h4M92 185h4M108 197h4M106 186h4M91 171h4M97 177h4M102 206h4M114 175h4M92 198h4M104 175h4M101 174h4M101 186h4M99 166h4M104 187h4M99 194h4M101 178h4M93 178h4M93 206h4M93 192h4M98 175h4M108 214h4M101 171h4M91 186h4M100 191h4M87 179h4M117 206h4M83 217h4M102 176h4M105 211h4M114 183h4M94 178h4M104 164h4M104 177h4M109 159h4M100 185h4M105 202h4M87 198h4M94 171h4M106 198h4M97 159h4M106 180h4M82 186h4M103 189h4M106 204h4M96 203h4M107 166h4M112 191h4M104 168h4M110 169h4M90 170h4M98 184h4M98 214h4M97 198h4M109 173h4M103 173h4M56 68h4M64 81h4M44 61h4M79 83h4M72 82h4M77 72h4M82 112h4M44 102h4M49 75h4M67 52h4M41 65h4M83 67h4M76 76h4M88 54h4M56 77h4M58 107h4M74 113h4M59 104h4M58 52h4M41 64h4M59 97h4M36 25h4M59 82h4M42 67h4M30 72h4M66 95h4M52 71h4M46 75h4M44 97h4M98 63h4M64 90h4M67 65h4M66 73h4M77 61h4M55 72h4M94 19h4M49 20h4M50 60h4M66 86h4M69 86h4M65 70h4M83 40h4M66 48h4M44 77h4M64 48h4M43 66h4M68 50h4M76 68h4M68 58h4M56 59h4M59 101h4M74 84h4M49 56h4M62 22h4M57 107h4M62 36h4M46 51h4M60 32h4M58 102h4M57 42h4M71 56h4M44 58h4M54 59h4M58 58h4M46 63h4M52 24h4M71 66h4M75 54h4M57 68h4M68 55h4M59 88h4M62 87h4M57 96h4M46 99h4M91 46h4M46 93h4M59 30h4M54 77h4M62 34h4M49 96h4M84 85h4M91 31h4M78 92h4M63 55h4M54 58h4M62 74h4M56 113h4M40 46h4M69 66h4M78 27h4M54 51h4M68 91h4M54 81h4M52 38h4M61 83h4M39 68h4M51 39h4M80 44h4M39 82h4M55 49h4M68 88h4M56 29h4M55 96h4M78 82h4M38 81h4M64 62h4M70 65h4M101 53h4M63 87h4M80 109h4M63 7h4M66 47h4M63 46h4M54 90h4M57 48h4M44 57h4M66 42h4M45 82h4M41 148h4M147 99h4M172 83h4M147 60h4M22 101h4M129 77h4M141 123h4M140 126h4M168 91h4M104 89h4M182 107h4M177 127h4M23 111h4M57 124h4M121 110h4M151 82h4M233 78h4M49 126h4M183 51h4M124 121h4M62 95h4M131 115h4M100 110h4M130 61h4M168 107h4M97 106h4M43 157h4M43 149h4M172 169h4M75 93h4M167 81h4M173 77h4M142 108h4M113 118h4M117 133h4M171 102h4M191 55h4M140 88h4M91 98h4M168 66h4M86 73h4M137 102h4M136 49h4M108 109h4M212 65h4M92 90h4M61 86h4M204 64h4M218 48h4M152 67h4M95 105h4M124 62h4M106 112h4M150 111h4M164 67h4M135 81h4M125 118h4M114 149h4M94 130h4M85 92h4M165 53h4M136 70h4M80 137h4M239 41h4M59 117h4M218 78h4M71 107h4M156 110h4M100 91h4M124 130h4M112 105h4M168 89h4M96 88h4M157 86h4M163 122h4M166 152h4M116 119h4M179 77h4M17 133h4M44 107h4M109 159h4M58 159h4M73 171h4M46 118h4M58 142h4M27 113h4M71 152h4M58 93h4M104 202h4M50 94h4M31 205h4M27 152h4M103 132h4M64 151h4M61 152h4M80 115h4M36 142h4M33 139h4M54 109h4M89 97h4M85 103h4M70 164h4M70 116h4M43 129h4M68 115h4M30 178h4M60 140h4M35 152h4M76 156h4M64 80h4M95 114h4M78 150h4M53 140h4M62 116h4M65 96h4M56 164h4M43 144h4M83 140h4M60 160h4M67 93h4M54 141h4M60 116h4M90 166h4M73 126h4M11 121h4M36 135h4M61 144h4M92 105h4M72 175h4M72 182h4M32 169h4M48 135h4M27 121h4M64 140h4M53 183h4M83 134h4M82 103h4M54 168h4M73 111h4M20 136h4M74 163h4M28 133h4M51 117h4M32 143h4M91 168h4M87 129h4M39 152h4M36 146h4M50 206h4M47 153h4M57 136h4M40 167h4M66 116h4M117 162h4M83 140h4M47 155h4M53 165h4M89 186h4M20 134h4M52 179h4M73 127h4M77 132h4M47 72h4M5 153h4M38 157h4M87 120h4M71 143h4M37 132h4M99 156h4M34 192h4M48 151h4M19 163h4M83 117h4M58 173h4M56 165h4M63 138h4M95 118h4M59 177h4M101 151h4M29 109h4M35 151h4M66 115h4M68 145h4M75 127h4M86 152h4M75 160h4M61 118h4M10 169h4M90 96h4M120 155h4M46 132h4M70 137h4M64 137h4M82 153h4M34 114h4M63 126h4M55 113h4M90 127h4M53 124h4M75 126h4M64 167h4M62 114h4M26 145h4M58 152h4M27 163h4M51 120h4M33 93h4M54 121h4M124 160h4M53 116h4M56 101h4M43 119h4M47 114h4M42 155h4M54 82h4M56 149h4M57 186h4M56 141h4M72 113h4M94 157h4M12 135h4M80 93h4M75 119h4M68 107h4M48 122h4M51 130h4M67 124h4M17 115h4M80 89h4M50 143h4M78 136h4M74 116h4M31 151h4M19 124h4" stroke="#cb2d10" stroke-width="4" fill="none"/>
</g></g>
<rect x="78.5" y="420.5" width="64" height="56" fill="none" stroke="#3a3a3a" stroke-width=".85"/>
<path d="M100.5 420.5L100.5 476.5" stroke="#222" stroke-width="1" fill="none"/>
<path d="M78.5 453.5L142.5 453.5" stroke="#222" stroke-width="1" fill="none"/>
<text x="80.5" y="426.1" font-size="5.6" text-anchor="start" fill="#262626">5.39</text>
<text x="140.9" y="426.1" font-size="5.6" text-anchor="end" fill="#262626">1.97</text>
<text x="80.7" y="473.4" font-size="5.6" text-anchor="start" fill="#7a1205">87.55</text>
<text x="140.9" y="473.4" font-size="5.6" text-anchor="end" fill="#262626">5.09</text>
<path d="M79.1 476.5v2.2M78.5 475.9h-2.2M83.8 476.5v1M78.5 471.8h-1M86.56 476.5v1M78.5 469.4h-1M88.51 476.5v1M78.5 467.7h-1M90.02 476.5v1M78.5 466.38h-1M91.26 476.5v1M78.5 465.3h-1M92.3 476.5v1M78.5 464.39h-1M93.21 476.5v1M78.5 463.6h-1M94.01 476.5v1M78.5 462.9h-1M94.72 476.5v2.2M78.5 462.27h-2.2M99.43 476.5v1M78.5 458.17h-1M102.18 476.5v1M78.5 455.77h-1M104.13 476.5v1M78.5 454.07h-1M105.65 476.5v1M78.5 452.75h-1M106.88 476.5v1M78.5 451.67h-1M107.93 476.5v1M78.5 450.76h-1M108.84 476.5v1M78.5 449.97h-1M109.64 476.5v1M78.5 449.27h-1M110.35 476.5v2.2M78.5 448.65h-2.2M115.05 476.5v1M78.5 444.55h-1M117.81 476.5v1M78.5 442.15h-1M119.76 476.5v1M78.5 440.45h-1M121.27 476.5v1M78.5 439.13h-1M122.51 476.5v1M78.5 438.05h-1M123.55 476.5v1M78.5 437.14h-1M124.46 476.5v1M78.5 436.35h-1M125.26 476.5v1M78.5 435.65h-1M125.97 476.5v2.2M78.5 435.02h-2.2M130.68 476.5v1M78.5 430.92h-1M133.43 476.5v1M78.5 428.52h-1M135.38 476.5v1M78.5 426.82h-1M136.9 476.5v1M78.5 425.5h-1M138.13 476.5v1M78.5 424.42h-1M139.18 476.5v1M78.5 423.51h-1M140.09 476.5v1M78.5 422.72h-1M140.89 476.5v1M78.5 422.02h-1M141.6 476.5v2.2M78.5 421.4h-2.2" stroke="#333" stroke-width=".45" fill="none"/>
<text x="79.5" y="481.3" font-size="3" text-anchor="middle" fill="#555">10<tspan font-size="2" dy="-1">0</tspan></text>
<text x="76.1" y="475.5" font-size="3" text-anchor="middle" fill="#555" transform="rotate(-90 76.1 475.5)">10<tspan font-size="2" dy="-1">0</tspan></text>
<text x="95.12" y="481.3" font-size="3" text-anchor="middle" fill="#555">10<tspan font-size="2" dy="-1">1</tspan></text>
<text x="76.1" y="461.88" font-size="3" text-anchor="middle" fill="#555" transform="rotate(-90 76.1 461.88)">10<tspan font-size="2" dy="-1">1</tspan></text>
<text x="110.75" y="481.3" font-size="3" text-anchor="middle" fill="#555">10<tspan font-size="2" dy="-1">2</tspan></text>
<text x="76.1" y="448.25" font-size="3" text-anchor="middle" fill="#555" transform="rotate(-90 76.1 448.25)">10<tspan font-size="2" dy="-1">2</tspan></text>
<text x="126.38" y="481.3" font-size="3" text-anchor="middle" fill="#555">10<tspan font-size="2" dy="-1">3</tspan></text>
<text x="76.1" y="434.62" font-size="3" text-anchor="middle" fill="#555" transform="rotate(-90 76.1 434.62)">10<tspan font-size="2" dy="-1">3</tspan></text>
<text x="142" y="481.3" font-size="3" text-anchor="middle" fill="#555">10<tspan font-size="2" dy="-1">4</tspan></text>
<text x="76.1" y="421" font-size="3" text-anchor="middle" fill="#555" transform="rotate(-90 76.1 421)">10<tspan font-size="2" dy="-1">4</tspan></text>
<text x="110.5" y="485.1" font-size="3.2" text-anchor="middle" fill="#555">c-kit</text>
<text x="70.1" y="450.5" font-size="3.2" text-anchor="middle" transform="rotate(-90 70.1 450.5)" fill="#444">CD11b</text>
<clipPath id="k4"><rect x="177.5" y="280.5" width="63" height="57"/></clipPath>
<g clip-path="url(#k4)"><g>
<ellipse cx="187.2" cy="325.5" rx="9.22" ry="9.96" fill="#cb2d10" transform="rotate(25 187.2 325.5)"/>
<ellipse cx="217" cy="300.8" rx="2.64" ry="5.62" fill="#cb2d10"/>
<path transform="translate(177.5 280.5) scale(.25)" d="M82 175h4M26 223h4M70 147h4M27 142h4M83 155h4M68 223h4M84 164h4M3 200h4M66 204h4M97 165h4M61 119h4M79 188h4M24 137h4M17 223h4M78 218h4M3 124h4M73 172h4M65 147h4M28 223h4M34 136h4M30 135h4M11 160h4M99 175h4M77 223h4M73 188h4M62 127h4M70 149h4M79 168h4M78 202h4M4 180h4M70 218h4M76 172h4M77 116h4M28 145h4M78 162h4M48 222h4M6 196h4M47 224h4M38 224h4M38 217h4M83 184h4M70 146h4M5 135h4M71 121h4M39 138h4M23 137h4M3 223h4M15 134h4M14 101h4M3 190h4M79 222h4M89 178h4M63 150h4M2 139h4M88 225h4M75 169h4M51 145h4M87 186h4M43 140h4M45 224h4M3 190h4M78 208h4M89 212h4M78 156h4M3 170h4M36 222h4M49 124h4M79 155h4M20 129h4M16 225h4M4 207h4M87 166h4M35 142h4M60 212h4M71 135h4M81 193h4M4 204h4M77 190h4M43 136h4M93 163h4M15 216h4M74 180h4M17 153h4M97 188h4M42 110h4M74 218h4M45 143h4M58 135h4M50 120h4M70 154h4M72 205h4M5 143h4M21 145h4M94 189h4M2 201h4M70 211h4M81 182h4M2 167h4M45 116h4M4 152h4M91 147h4M93 174h4M56 217h4M75 225h4M2 199h4M41 140h4M6 195h4M2 214h4M61 217h4M106 214h4M3 180h4M7 200h4M3 181h4M4 174h4M37 127h4M63 223h4M81 193h4M52 129h4M45 137h4M2 171h4M19 215h4M16 153h4M78 191h4M81 128h4M78 178h4M59 140h4M78 171h4M89 211h4M71 210h4M74 148h4M4 179h4M26 224h4M34 225h4M49 125h4M62 222h4M7 203h4M68 217h4M28 131h4M72 158h4M69 155h4M5 182h4M7 142h4M4 223h4M44 223h4M100 180h4M12 219h4M9 226h4M98 196h4M42 222h4M30 220h4M4 215h4M60 139h4M52 213h4M62 130h4M4 172h4M2 180h4M66 202h4M73 216h4M34 225h4M63 144h4M59 145h4M2 200h4M38 133h4M66 203h4M15 214h4M90 196h4M4 188h4M2 141h4M78 146h4M53 142h4M61 223h4M8 225h4M42 224h4M31 131h4M36 142h4M7 156h4M5 114h4M4 191h4M65 147h4M50 214h4M2 188h4M27 136h4M35 127h4M45 123h4M77 148h4M51 141h4M63 211h4M10 140h4M40 218h4M73 186h4M71 193h4M69 142h4M4 198h4M3 145h4M7 147h4M9 161h4M8 221h4M5 199h4M76 166h4M49 144h4M42 224h4M10 213h4M10 147h4M96 154h4M18 148h4M9 210h4M97 132h4M2 170h4M70 143h4M78 189h4M31 220h4M81 151h4M56 225h4M19 218h4M51 144h4M55 136h4M27 138h4M36 137h4M52 224h4M2 204h4M22 144h4M36 226h4M76 179h4M26 224h4M4 182h4M70 139h4M49 215h4M67 120h4M5 200h4M3 166h4M57 129h4M90 129h4M41 136h4M7 164h4M97 181h4M74 172h4M36 135h4M74 188h4M2 182h4M39 132h4M10 107h4M71 141h4M2 136h4M23 223h4M40 117h4M81 166h4M24 222h4M62 147h4M37 224h4M78 180h4M31 128h4M62 150h4M59 145h4M67 137h4M2 168h4M53 223h4M4 172h4M95 155h4M32 124h4M4 181h4M14 143h4M85 169h4M89 150h4M64 138h4M37 224h4M75 157h4M4 137h4M16 153h4M4 222h4M58 112h4M66 213h4M6 152h4M37 222h4M59 149h4M54 213h4M20 217h4M72 152h4M35 224h4M69 142h4M3 151h4M66 135h4M78 174h4M61 218h4M83 209h4M71 199h4M17 152h4M82 185h4M55 214h4M4 182h4M32 111h4M66 120h4M102 198h4M61 212h4M4 194h4M84 177h4M2 223h4M46 137h4M72 155h4M12 218h4M62 217h4M69 155h4M3 191h4M6 143h4M36 219h4M17 143h4M32 132h4M4 216h4M66 212h4M50 142h4M6 166h4M68 158h4M4 213h4M55 223h4M79 156h4M44 220h4M10 205h4M81 136h4M13 152h4M94 185h4M68 224h4M93 205h4M78 177h4M4 207h4M26 144h4M88 153h4M87 161h4M57 215h4M4 170h4M8 153h4M2 188h4M2 188h4M3 156h4M59 224h4M4 213h4M4 154h4M3 194h4M5 173h4M118 166h4M75 163h4M61 125h4M85 159h4M65 134h4M65 211h4M21 223h4M19 217h4M7 140h4M73 173h4M4 153h4M4 157h4M82 189h4M48 139h4M99 171h4M46 139h4M9 151h4M78 211h4M50 141h4M21 126h4M20 149h4M47 116h4M17 134h4M74 225h4M3 197h4M87 189h4M42 143h4M5 139h4M37 131h4M49 135h4M43 218h4M15 149h4M30 137h4M2 158h4M64 151h4M34 132h4M36 138h4M16 216h4M76 168h4M83 148h4M2 190h4M38 220h4M32 139h4M87 188h4M23 130h4M18 146h4M60 140h4M23 214h4M18 223h4M36 223h4M3 187h4M2 166h4M20 224h4M95 171h4M36 130h4M75 155h4M81 192h4M73 135h4M3 157h4M62 212h4M79 215h4M91 146h4M26 225h4M21 224h4M3 191h4M6 157h4M34 138h4M59 210h4M12 148h4M113 184h4M59 214h4M22 143h4M48 225h4M67 206h4M89 193h4M46 132h4M72 149h4M6 169h4M66 137h4M87 173h4M52 221h4M23 220h4M2 158h4M32 225h4M4 173h4M81 168h4M3 218h4M21 131h4M61 216h4M3 169h4M4 169h4M46 134h4M67 200h4M69 200h4M4 160h4M66 224h4M74 147h4M67 209h4M4 171h4M35 224h4M6 147h4M61 142h4M10 158h4M75 215h4M2 175h4M81 182h4M37 218h4M55 215h4M14 214h4M3 184h4M47 218h4M3 197h4M6 210h4M69 223h4M73 210h4M4 183h4M73 206h4M90 175h4M70 149h4M75 161h4M3 170h4M66 223h4M27 133h4M2 172h4M6 144h4M70 223h4M11 225h4M2 200h4M84 220h4M75 171h4M3 181h4M33 138h4M82 124h4M4 161h4M27 127h4M70 50h4M68 82h4M39 27h4M72 84h4M56 54h4M83 39h4M41 3h4M30 76h4M56 42h4M88 94h4M95 115h4M66 67h4M24 140h4M4 59h4M58 110h4M41 113h4M38 93h4M23 89h4M18 81h4M48 63h4M36 45h4M50 83h4M54 125h4M70 33h4M80 47h4M4 64h4M99 76h4M18 95h4M28 29h4M25 68h4M75 83h4M14 84h4M14 92h4M52 46h4M47 97h4M10 80h4M51 63h4M43 25h4M105 7h4M101 150h4M25 77h4M30 86h4M45 48h4M51 75h4M82 19h4M40 68h4M39 82h4M48 54h4M33 121h4M30 81h4M79 8h4M16 93h4M66 86h4M79 90h4M77 45h4M43 65h4M34 44h4M15 103h4M56 131h4M63 111h4M24 47h4M36 77h4M20 72h4M47 75h4M18 94h4M17 122h4M6 53h4M29 45h4M44 44h4M50 97h4M39 56h4M75 107h4M25 74h4M82 23h4M65 95h4M54 15h4M64 87h4M38 70h4M61 55h4M33 90h4M27 111h4M54 34h4M53 153h4M49 110h4M68 42h4M6 94h4M50 59h4M50 99h4M64 65h4M13 109h4M40 62h4M89 98h4M51 82h4M50 81h4M45 56h4M77 47h4M56 47h4M51 65h4M38 67h4M88 64h4M3 44h4M20 40h4M39 87h4M27 56h4M58 86h4M62 117h4M62 47h4M67 88h4M84 74h4M34 143h4M20 143h4M35 87h4M20 101h4M40 76h4M58 88h4M23 134h4M25 32h4M33 75h4M14 64h4M52 58h4M49 27h4M26 101h4M42 14h4M93 44h4M26 64h4M43 103h4M44 46h4M80 83h4M47 50h4M47 45h4M61 103h4M44 50h4M29 125h4M23 56h4M68 44h4M97 110h4M44 46h4M42 100h4M87 50h4M66 125h4M56 52h4M38 88h4M39 54h4M62 52h4M22 74h4M15 114h4M107 51h4M75 133h4M38 60h4M46 100h4M84 70h4M52 97h4M68 106h4M8 83h4M36 101h4M49 38h4M13 60h4M63 97h4M10 73h4M22 80h4M42 80h4M20 62h4M81 42h4M54 55h4M47 66h4M39 71h4M46 78h4M36 106h4M69 77h4M47 46h4M57 76h4M66 59h4M44 93h4M22 106h4M59 72h4M34 42h4M45 29h4M8 83h4M46 58h4M62 15h4M36 44h4M35 40h4M54 96h4M48 77h4M68 81h4M17 83h4M66 101h4M63 58h4M51 103h4M74 72h4M89 34h4M17 117h4M88 68h4M49 109h4M38 78h4M93 37h4M71 91h4M75 122h4M60 103h4M36 24h4M92 60h4M4 114h4M59 87h4M23 126h4M71 113h4M79 138h4M100 68h4M16 89h4M27 64h4M36 83h4M16 71h4M53 82h4M81 20h4M58 34h4M39 94h4M78 87h4M25 55h4M54 19h4M41 57h4M19 121h4M16 53h4M16 39h4M84 18h4M59 96h4M38 50h4M61 155h4M36 88h4M71 74h4M77 72h4M13 49h4M26 48h4M74 79h4M4 80h4M43 84h4M111 50h4M56 73h4M35 83h4M41 82h4M52 75h4M4 54h4M83 68h4M20 50h4M87 42h4M41 30h4M25 76h4M33 103h4M76 70h4M67 24h4M34 34h4M38 82h4M58 84h4M37 88h4M92 90h4M26 62h4M61 116h4M39 30h4M84 119h4M56 51h4M60 22h4M45 113h4M31 33h4M47 105h4M27 41h4M54 112h4M28 101h4M38 30h4M32 21h4M5 115h4M68 79h4M12 55h4M68 54h4M36 84h4M43 58h4M31 91h4M43 93h4M69 63h4M34 135h4M57 54h4M62 106h4M30 39h4M46 41h4M34 99h4M52 105h4M16 76h4M64 31h4M55 118h4M34 27h4M10 57h4M75 90h4M67 91h4M45 56h4M50 42h4M49 44h4M76 115h4M102 11h4M40 73h4M79 73h4M52 25h4M27 42h4M70 43h4M5 133h4M46 43h4M74 42h4M26 58h4M17 35h4M33 106h4M99 49h4M59 84h4M25 43h4M57 53h4M21 82h4M18 88h4M13 118h4M34 32h4M28 83h4M33 38h4M39 74h4M52 110h4M11 65h4M67 63h4M48 68h4M93 51h4M61 60h4M64 45h4M19 49h4M12 63h4M16 44h4M70 28h4M35 90h4M37 69h4M31 79h4M74 80h4M78 119h4M23 72h4M40 54h4M78 15h4M36 80h4M44 84h4M94 13h4M23 93h4M41 108h4M43 61h4M16 72h4M58 20h4M19 85h4M7 66h4M44 64h4M49 74h4M30 134h4M107 91h4M69 82h4M17 157h4M51 53h4M38 103h4M78 129h4M37 79h4M8 76h4M48 98h4M29 79h4M42 102h4M39 42h4M67 134h4M31 91h4M64 54h4M3 69h4M52 74h4M22 113h4M5 120h4M8 22h4M79 86h4M57 59h4M102 115h4M63 58h4M61 69h4M71 71h4M92 37h4M9 27h4M76 109h4M50 67h4M20 93h4M81 84h4M8 34h4M27 42h4M169 84h4M161 116h4M169 98h4M147 112h4M168 105h4M147 110h4M166 108h4M164 100h4M146 121h4M162 56h4M158 39h4M156 55h4M163 101h4M149 88h4M172 58h4M155 111h4M169 75h4M166 97h4M169 73h4M170 78h4M166 109h4M148 98h4M153 55h4M165 56h4M170 91h4M149 52h4M170 54h4M142 90h4M142 89h4M159 107h4M155 104h4M168 91h4M166 68h4M161 59h4M144 104h4M171 77h4M169 67h4M173 85h4M140 88h4M171 75h4M150 108h4M147 89h4M147 73h4M153 105h4M168 104h4M171 67h4M147 83h4M155 102h4M172 84h4M144 88h4M143 86h4M168 56h4M157 103h4M166 62h4M149 105h4M170 62h4M169 77h4M145 92h4M141 79h4M156 59h4M159 108h4M145 55h4M157 110h4M175 81h4M137 96h4M157 60h4M147 116h4M149 102h4M161 59h4M175 78h4M156 108h4M146 87h4M177 79h4M151 56h4M148 63h4M151 113h4M146 111h4M155 103h4M172 103h4M169 82h4M177 86h4M148 93h4M149 109h4M159 52h4M142 90h4M166 22h4M145 110h4M154 105h4M169 46h4M146 93h4M170 81h4M156 55h4M153 105h4M143 92h4M156 57h4M151 63h4M149 98h4M33 121h4M73 84h4M41 64h4M20 140h4M43 60h4M67 140h4M29 70h4M67 132h4M77 109h4M60 95h4M84 87h4M78 148h4M53 110h4M2 88h4M98 115h4M57 96h4M52 70h4M48 143h4M116 129h4M63 124h4M69 142h4M39 107h4M57 145h4M132 93h4M97 150h4M30 56h4M55 81h4M70 83h4M124 89h4M53 95h4M55 79h4M22 65h4M47 82h4M87 83h4M68 111h4M48 139h4M59 128h4M48 143h4M71 134h4M76 175h4M94 72h4M60 152h4M121 173h4M37 135h4M61 117h4M28 126h4M102 97h4M53 89h4M52 27h4M56 117h4M64 119h4M52 109h4M117 118h4M48 125h4M90 131h4M86 110h4M9 94h4M86 98h4M88 112h4M54 104h4M61 83h4M38 113h4M29 62h4M62 111h4M64 99h4M59 129h4M82 88h4M48 144h4M73 173h4M35 96h4M81 168h4M97 147h4M80 95h4M77 169h4M59 52h4M66 147h4M91 108h4M58 188h4M79 152h4M57 39h4M98 54h4M43 169h4M90 104h4M62 92h4M62 159h4M25 102h4M84 134h4M87 103h4M62 134h4M86 72h4M101 82h4M86 98h4M62 102h4M93 160h4M31 104h4M87 56h4M34 108h4M14 117h4M85 125h4M100 140h4M80 88h4M40 129h4M71 91h4M72 88h4M15 112h4M94 124h4M100 90h4M91 112h4M9 94h4M87 105h4M75 130h4M78 115h4M40 140h4M58 94h4M96 60h4M30 83h4M65 161h4M49 92h4M71 104h4M99 100h4M83 138h4M48 112h4M113 144h4M97 160h4M6 125h4M147 94h4M65 83h4M84 96h4M138 154h4M87 172h4M111 82h4M85 95h4M34 116h4M56 101h4M28 77h4M99 120h4M55 162h4M102 150h4M50 122h4M26 48h4M78 91h4M37 118h4M91 121h4M91 77h4M68 111h4M17 121h4M107 154h4M96 99h4M55 138h4M51 86h4M8 100h4M91 138h4M32 106h4M45 126h4M68 181h4M37 54h4M72 77h4M101 25h4M72 112h4M64 79h4M53 158h4M46 162h4M34 78h4M23 113h4M50 120h4M129 74h4M36 125h4M62 50h4M129 52h4M26 97h4M75 108h4M71 124h4M129 124h4M36 126h4M57 137h4M35 89h4M57 73h4M57 128h4M120 187h4M86 152h4M144 116h4M57 140h4M97 66h4M96 69h4M54 51h4M49 105h4M58 90h4M93 91h4M81 127h4M59 114h4M37 119h4M57 121h4M68 65h4M4 124h4M67 103h4M43 150h4M36 141h4M74 178h4M77 102h4M51 121h4M60 22h4M39 93h4M71 82h4M120 109h4M48 144h4M78 79h4M102 117h4M78 117h4M88 109h4M28 170h4M87 86h4M80 99h4M107 129h4M24 131h4M50 132h4M2 148h4M71 82h4M35 111h4M109 96h4M109 83h4M124 125h4M96 49h4M155 52h4M146 97h4M118 83h4M124 82h4M113 74h4M70 76h4M103 123h4M91 59h4M115 83h4M129 24h4M94 107h4M105 82h4M146 70h4M102 60h4M97 67h4M105 58h4M69 94h4M123 89h4M115 5h4M91 100h4M142 103h4M157 80h4M100 82h4M110 111h4M110 49h4M98 135h4M72 106h4M122 87h4M115 76h4" stroke="#cb2d10" stroke-width="4" fill="none"/>
</g></g>
<rect x="177.5" y="280.5" width="63" height="57" fill="none" stroke="#3a3a3a" stroke-width=".85"/>
<path d="M201.5 280.5L201.5 337.5" stroke="#222" stroke-width="1" fill="none"/>
<path d="M177.5 313.5L240.5 313.5" stroke="#222" stroke-width="1" fill="none"/>
<text x="179.5" y="286.1" font-size="5.6" text-anchor="start" fill="#262626">19.54</text>
<text x="238.9" y="286.1" font-size="5.6" text-anchor="end" fill="#262626">8.21</text>
<text x="179.7" y="334.4" font-size="5.6" text-anchor="start" fill="#7a1205">72.19</text>
<text x="238.9" y="334.4" font-size="5.6" text-anchor="end" fill="#262626">0.06</text>
<path d="M178.1 337.5v2.2M177.5 336.9h-2.2M182.73 337.5v1M177.5 332.72h-1M185.44 337.5v1M177.5 330.28h-1M187.36 337.5v1M177.5 328.55h-1M188.85 337.5v1M177.5 327.2h-1M190.06 337.5v1M177.5 326.1h-1M191.09 337.5v1M177.5 325.17h-1M191.99 337.5v1M177.5 324.37h-1M192.77 337.5v1M177.5 323.66h-1M193.47 337.5v2.2M177.5 323.02h-2.2M198.1 337.5v1M177.5 318.85h-1M200.81 337.5v1M177.5 316.4h-1M202.73 337.5v1M177.5 314.67h-1M204.22 337.5v1M177.5 313.33h-1M205.44 337.5v1M177.5 312.23h-1M206.47 337.5v1M177.5 311.3h-1M207.36 337.5v1M177.5 310.49h-1M208.15 337.5v1M177.5 309.78h-1M208.85 337.5v2.2M177.5 309.15h-2.2M213.48 337.5v1M177.5 304.97h-1M216.19 337.5v1M177.5 302.53h-1M218.11 337.5v1M177.5 300.8h-1M219.6 337.5v1M177.5 299.45h-1M220.81 337.5v1M177.5 298.35h-1M221.84 337.5v1M177.5 297.42h-1M222.74 337.5v1M177.5 296.62h-1M223.52 337.5v1M177.5 295.91h-1M224.22 337.5v2.2M177.5 295.27h-2.2M228.85 337.5v1M177.5 291.1h-1M231.56 337.5v1M177.5 288.65h-1M233.48 337.5v1M177.5 286.92h-1M234.97 337.5v1M177.5 285.58h-1M236.19 337.5v1M177.5 284.48h-1M237.22 337.5v1M177.5 283.55h-1M238.11 337.5v1M177.5 282.74h-1M238.9 337.5v1M177.5 282.03h-1M239.6 337.5v2.2M177.5 281.4h-2.2" stroke="#333" stroke-width=".45" fill="none"/>
<text x="178.5" y="342.3" font-size="3" text-anchor="middle" fill="#555">10<tspan font-size="2" dy="-1">0</tspan></text>
<text x="175.1" y="336.5" font-size="3" text-anchor="middle" fill="#555" transform="rotate(-90 175.1 336.5)">10<tspan font-size="2" dy="-1">0</tspan></text>
<text x="193.88" y="342.3" font-size="3" text-anchor="middle" fill="#555">10<tspan font-size="2" dy="-1">1</tspan></text>
<text x="175.1" y="322.62" font-size="3" text-anchor="middle" fill="#555" transform="rotate(-90 175.1 322.62)">10<tspan font-size="2" dy="-1">1</tspan></text>
<text x="209.25" y="342.3" font-size="3" text-anchor="middle" fill="#555">10<tspan font-size="2" dy="-1">2</tspan></text>
<text x="175.1" y="308.75" font-size="3" text-anchor="middle" fill="#555" transform="rotate(-90 175.1 308.75)">10<tspan font-size="2" dy="-1">2</tspan></text>
<text x="224.62" y="342.3" font-size="3" text-anchor="middle" fill="#555">10<tspan font-size="2" dy="-1">3</tspan></text>
<text x="175.1" y="294.88" font-size="3" text-anchor="middle" fill="#555" transform="rotate(-90 175.1 294.88)">10<tspan font-size="2" dy="-1">3</tspan></text>
<text x="240" y="342.3" font-size="3" text-anchor="middle" fill="#555">10<tspan font-size="2" dy="-1">4</tspan></text>
<text x="175.1" y="281" font-size="3" text-anchor="middle" fill="#555" transform="rotate(-90 175.1 281)">10<tspan font-size="2" dy="-1">4</tspan></text>
<text x="209" y="346.1" font-size="3.2" text-anchor="middle" fill="#555">Gr1</text>
<text x="169.1" y="311" font-size="3.2" text-anchor="middle" transform="rotate(-90 169.1 311)" fill="#444">CD11b</text>
<clipPath id="k5"><rect x="177.5" y="349.5" width="60" height="56"/></clipPath>
<g clip-path="url(#k5)"><g>
<ellipse cx="189.5" cy="397.5" rx="9.25" ry="5.95" fill="#cb2d10"/>
<path transform="translate(177.5 349.5) scale(.25)" d="M40 56h4M80 30h4M62 31h4M89 87h4M95 71h4M74 76h4M49 85h4M38 74h4M80 83h4M56 132h4M66 69h4M69 70h4M57 74h4M109 83h4M69 97h4M109 77h4M52 138h4M34 74h4M80 134h4M45 27h4M80 70h4M57 92h4M70 89h4M56 111h4M98 83h4M55 99h4M76 58h4M55 106h4M63 75h4M70 81h4M65 38h4M103 87h4M46 104h4M72 82h4M88 133h4M77 118h4M112 59h4M54 100h4M28 76h4M93 106h4M78 39h4M116 94h4M82 93h4M28 49h4M39 125h4M47 77h4M60 95h4M76 88h4M38 11h4M69 88h4M92 80h4M52 91h4M31 58h4M43 89h4M111 99h4M90 87h4M71 72h4M59 27h4M39 53h4M83 97h4M90 117h4M59 106h4M108 82h4M89 78h4M30 85h4M47 84h4M55 89h4M19 129h4M95 74h4M45 82h4M80 92h4M74 37h4M41 112h4M70 48h4M46 49h4M43 109h4M60 108h4M69 48h4M51 135h4M48 58h4M92 84h4M65 116h4M26 92h4M42 50h4M47 109h4M62 40h4M41 117h4M88 57h4M119 74h4M39 79h4M86 119h4M88 72h4M53 48h4M64 68h4M71 53h4M54 62h4M38 55h4M43 55h4M78 84h4M36 94h4M72 116h4M61 77h4M50 85h4M76 86h4M60 95h4M67 88h4M44 87h4M43 62h4M69 131h4M87 82h4M61 105h4M96 110h4M61 86h4M58 75h4M46 76h4M17 54h4M75 61h4M77 52h4M57 91h4M42 65h4M120 66h4M50 69h4M66 81h4M87 100h4M56 74h4M34 47h4M49 99h4M68 101h4M86 78h4M112 70h4M51 72h4M90 79h4M49 92h4M90 79h4M60 107h4M87 104h4M48 89h4M73 40h4M92 84h4M58 134h4M68 65h4M64 95h4M83 81h4M46 66h4M47 58h4M65 71h4M66 63h4M46 78h4M57 109h4M45 87h4M64 52h4M81 86h4M19 96h4M86 64h4M103 86h4M40 95h4M57 51h4M18 88h4M49 97h4M74 70h4M53 123h4M103 99h4M57 59h4M57 120h4M75 75h4M38 86h4M46 82h4M82 107h4M68 74h4M70 124h4M74 50h4M100 88h4M142 71h4M63 75h4M74 69h4M33 38h4M62 70h4M52 131h4M83 107h4M54 89h4M61 77h4M82 96h4M72 85h4M33 65h4M74 74h4M48 90h4M45 67h4M85 74h4M97 94h4M83 108h4M18 80h4M37 71h4M63 111h4M64 120h4M54 81h4M67 104h4M64 68h4M58 50h4M93 99h4M75 88h4M52 73h4M83 64h4M48 118h4M99 89h4M77 86h4M97 72h4M67 93h4M97 76h4M70 71h4M51 67h4M67 102h4M50 68h4M56 90h4M81 53h4M73 59h4M81 60h4M42 66h4M64 59h4M70 85h4M67 88h4M84 65h4M65 81h4M20 91h4M48 66h4M55 84h4M72 93h4M50 98h4M74 73h4M65 100h4M75 98h4M68 108h4M114 92h4M30 121h4M53 51h4M14 92h4M89 105h4M57 115h4M64 69h4M67 87h4M66 91h4M18 118h4M53 97h4M48 86h4M61 46h4M74 96h4M41 34h4M51 63h4M68 82h4M100 97h4M60 86h4M3 61h4M45 80h4M72 87h4M86 66h4M72 79h4M65 89h4M59 87h4M64 105h4M63 89h4M122 96h4M76 106h4M43 98h4M81 92h4M86 100h4M91 67h4M75 70h4M92 85h4M37 84h4M43 104h4M58 33h4M57 105h4M72 68h4M79 95h4M97 102h4M73 64h4M71 89h4M65 92h4M40 95h4M65 90h4M63 75h4M71 100h4M58 89h4M49 91h4M66 53h4M90 62h4M67 52h4M28 97h4M35 35h4M61 47h4M61 123h4M57 90h4M77 88h4M63 116h4M63 90h4M68 53h4M72 83h4M79 98h4M99 39h4M53 71h4M47 91h4M64 85h4M30 61h4M64 72h4M52 79h4M59 58h4M101 67h4M79 95h4M86 69h4M44 92h4M71 29h4M9 70h4M57 76h4M74 60h4M122 102h4M93 88h4M21 87h4M53 92h4M63 97h4M46 74h4M65 65h4M55 96h4M107 77h4M83 57h4M55 89h4M78 59h4M78 85h4M93 103h4M77 73h4M71 63h4M47 41h4M37 54h4M63 84h4M36 80h4M74 103h4M63 87h4M57 103h4M32 87h4M15 120h4M85 35h4M54 50h4M27 73h4M46 105h4M54 57h4M63 91h4M83 93h4M33 63h4M61 63h4M81 74h4M63 73h4M66 48h4M110 69h4M49 42h4M63 51h4M72 108h4M78 72h4M92 77h4M64 83h4M55 91h4M39 42h4M90 65h4M57 89h4M55 55h4M61 61h4M77 72h4M59 99h4M32 48h4M80 110h4M74 161h4M41 215h4M15 183h4M16 178h4M32 166h4M82 155h4M27 220h4M31 161h4M50 164h4M67 164h4M34 154h4M84 186h4M9 199h4M110 182h4M88 205h4M22 214h4M33 164h4M21 220h4M18 216h4M93 193h4M36 219h4M12 210h4M15 201h4M79 178h4M93 196h4M2 210h4M75 158h4M50 156h4M75 216h4M92 171h4M80 154h4M53 219h4M77 208h4M13 195h4M7 184h4M12 191h4M11 200h4M7 187h4M108 176h4M79 221h4M7 201h4M2 182h4M91 221h4M41 221h4M66 171h4M20 207h4M41 169h4M85 202h4M11 198h4M81 175h4M82 202h4M43 221h4M20 175h4M8 193h4M15 199h4M3 184h4M59 160h4M22 174h4M78 206h4M68 173h4M115 206h4M20 208h4M92 182h4M106 175h4M20 208h4M3 205h4M4 197h4M60 217h4M13 200h4M16 179h4M5 194h4M23 168h4M71 172h4M4 207h4M39 169h4M60 164h4M99 187h4M52 220h4M19 208h4M87 194h4M10 178h4M33 218h4M23 208h4M45 221h4M61 164h4M12 169h4M16 174h4M70 173h4M102 196h4M35 218h4M102 182h4M5 200h4M30 160h4M30 166h4M89 164h4M27 171h4M79 174h4M29 166h4M78 205h4M81 200h4M80 181h4M35 221h4M30 172h4M83 207h4M76 169h4M33 216h4M81 204h4M80 180h4M28 221h4M91 212h4M29 215h4M2 202h4M44 220h4M11 199h4M3 205h4M24 209h4M7 201h4M50 155h4M28 215h4M4 190h4M10 170h4M32 214h4M90 215h4M16 214h4M107 178h4M8 213h4M47 165h4M47 216h4M14 201h4M96 199h4M13 192h4M4 191h4M115 219h4M92 177h4M78 165h4M42 165h4M22 207h4M71 168h4M13 167h4M30 173h4M40 219h4M64 221h4M13 177h4M74 175h4M14 184h4M17 178h4M97 215h4M2 214h4M24 213h4M27 168h4M57 150h4M9 191h4M28 215h4M23 209h4M18 175h4M85 180h4M38 166h4M52 215h4M40 164h4M33 151h4M88 207h4M61 159h4M17 175h4M94 184h4M5 209h4M29 171h4M76 172h4M9 193h4M70 221h4M33 221h4M30 219h4M6 203h4M3 183h4M90 190h4M44 161h4M5 200h4M94 220h4M32 220h4M85 192h4M9 188h4M75 178h4M37 218h4M101 202h4M84 182h4M66 173h4M93 170h4M2 194h4M91 219h4M3 196h4M93 177h4M87 181h4M16 161h4M82 185h4M49 153h4M101 199h4M45 164h4M110 180h4M40 221h4M93 166h4M55 216h4M36 214h4M64 154h4M23 176h4M58 166h4M87 196h4M22 159h4M15 180h4M35 220h4M16 173h4M13 219h4M17 181h4M84 189h4M95 152h4M50 170h4M95 222h4M5 187h4M14 185h4M77 212h4M66 166h4M78 213h4M56 217h4M83 192h4M57 170h4M3 169h4M26 173h4M23 212h4M22 215h4M4 184h4M65 221h4M30 214h4M3 152h4M72 220h4M93 172h4M41 155h4M3 165h4M56 170h4M88 214h4M76 178h4M73 171h4M52 165h4M7 220h4M62 218h4M2 208h4M15 217h4M88 188h4M87 160h4M79 174h4M24 208h4M99 166h4M33 168h4M14 185h4M34 215h4M136 192h4M75 214h4M67 171h4M79 173h4M3 216h4M4 204h4M57 214h4M80 181h4M19 164h4M77 178h4M68 171h4M17 205h4M49 221h4M75 214h4M60 145h4M59 218h4M2 171h4M9 202h4M108 190h4M24 143h4M56 166h4M13 201h4M88 184h4M80 208h4M53 221h4M56 165h4M94 185h4M74 211h4M96 166h4M81 202h4M4 182h4M68 220h4M13 148h4M33 171h4M21 211h4M15 213h4M10 213h4M110 152h4M86 170h4M106 170h4M32 166h4M35 165h4M3 221h4M2 205h4M25 215h4M12 199h4M89 184h4M48 164h4M78 217h4M47 161h4M91 219h4M77 220h4M70 174h4M65 138h4M53 169h4M85 197h4M85 191h4M23 175h4M4 195h4M57 165h4M66 221h4M68 162h4M65 214h4M23 167h4M87 185h4M11 182h4M73 174h4M112 184h4M76 218h4M102 168h4M119 198h4M101 204h4M36 160h4M16 157h4M12 195h4M88 188h4M3 190h4M62 216h4M19 205h4M42 217h4M11 204h4M26 212h4M53 161h4M75 166h4M51 215h4M63 162h4M144 197h4M81 196h4M132 163h4M108 174h4M110 163h4M123 220h4M101 189h4M126 171h4M113 152h4M87 189h4M100 195h4M129 147h4M120 193h4M106 194h4M97 199h4M117 220h4M127 186h4M94 212h4M118 170h4M123 211h4M65 169h4M91 159h4M126 173h4M75 191h4M111 171h4M127 221h4M113 208h4M103 164h4M140 181h4M72 196h4M133 213h4M133 191h4M121 200h4M148 198h4M82 212h4M117 188h4M109 207h4M114 197h4M114 211h4M90 200h4M125 191h4M145 221h4M98 188h4M153 162h4M106 188h4M92 215h4M99 185h4M109 196h4M83 214h4M97 207h4M131 221h4M97 202h4M117 175h4M141 206h4M114 185h4M90 220h4M106 198h4M108 219h4M141 176h4M136 188h4M132 200h4M110 197h4M155 214h4M124 185h4M166 221h4M124 207h4M117 206h4M137 196h4M116 184h4M104 193h4M125 148h4M133 174h4M136 218h4M147 207h4M101 221h4M113 168h4M116 216h4M104 197h4M90 185h4M109 174h4M104 183h4M100 190h4M118 179h4M113 200h4M107 217h4M116 202h4M129 181h4M119 212h4M133 163h4M136 177h4M102 213h4M144 203h4M139 153h4M129 166h4M121 176h4M103 187h4M138 182h4M104 182h4M131 168h4M84 162h4M108 207h4M102 186h4M107 170h4M118 202h4M129 215h4M147 173h4M130 170h4M121 174h4M84 221h4M96 173h4M140 201h4M128 150h4M76 214h4M159 203h4M99 158h4M89 201h4M122 179h4M129 219h4M118 218h4M97 191h4M124 178h4M119 171h4M121 200h4M134 196h4M127 194h4M130 186h4M112 178h4M117 192h4M152 220h4M115 198h4M103 178h4M124 212h4M110 174h4M102 187h4M109 190h4M157 170h4M94 181h4M87 213h4M86 177h4M95 199h4M113 179h4M106 205h4M126 221h4M114 185h4M136 181h4M114 182h4M85 169h4M113 201h4M88 216h4M115 184h4M94 221h4M151 214h4M124 172h4M103 159h4M122 180h4M109 145h4M121 168h4M69 218h4M123 169h4M148 166h4M104 192h4M106 185h4M101 215h4M85 192h4M136 146h4M106 209h4M117 135h4M78 190h4M123 176h4M79 159h4M125 193h4M133 173h4M83 210h4M104 196h4M94 220h4M100 173h4M185 197h4M130 200h4M127 145h4M107 173h4M114 161h4M83 175h4M90 184h4M113 221h4M139 208h4M155 204h4M123 214h4M113 216h4M105 183h4M61 177h4M123 204h4M118 201h4M167 196h4M121 191h4M128 168h4M126 221h4M95 168h4M110 178h4M132 216h4M107 219h4M114 187h4M106 135h4M93 208h4M94 221h4M135 206h4M89 201h4M95 188h4M115 186h4M149 173h4M114 215h4M151 201h4M142 187h4M138 189h4M142 163h4M135 182h4M109 192h4M123 189h4M90 178h4M124 209h4M114 195h4M98 204h4M108 160h4M155 178h4M114 221h4M102 158h4M127 206h4M101 180h4M133 181h4M113 184h4M159 159h4M133 188h4M144 141h4M121 197h4M83 139h4M154 200h4M102 172h4M130 211h4M101 192h4M142 172h4M129 217h4M75 164h4M158 187h4M135 199h4M135 220h4M149 211h4M93 172h4M154 178h4M112 163h4M91 185h4M128 194h4M107 172h4M77 204h4M89 214h4M128 155h4M118 220h4M88 198h4M126 199h4M116 219h4M94 211h4M91 201h4M113 211h4M156 181h4M122 199h4M130 175h4M97 170h4M79 164h4M138 221h4M130 200h4M78 189h4M67 165h4M122 211h4M90 180h4M107 169h4M144 213h4M117 184h4M116 190h4M103 165h4M112 201h4M113 221h4M78 184h4M128 217h4M113 198h4M119 201h4M118 197h4M134 189h4M116 170h4M99 191h4M128 187h4M150 183h4M121 185h4M145 189h4M91 179h4M66 209h4M166 186h4M131 212h4M111 179h4M142 170h4M127 204h4M97 153h4M131 192h4M129 168h4M105 204h4M119 195h4M105 196h4M120 210h4M124 203h4M89 205h4M64 179h4M137 150h4M138 167h4M128 179h4M100 180h4M129 185h4M130 192h4M97 221h4M102 186h4M157 147h4M120 139h4M130 78h4M90 108h4M151 91h4M94 81h4M102 79h4M123 130h4M115 50h4M62 102h4M154 90h4M135 103h4M148 72h4M70 90h4M113 111h4M178 118h4M74 129h4M47 127h4M107 79h4M95 91h4M128 100h4M145 88h4M167 171h4M126 146h4M109 121h4M128 48h4M148 79h4M98 93h4M139 106h4M105 101h4M94 137h4M76 111h4M105 110h4M91 85h4M134 124h4M84 65h4M96 113h4M79 79h4M23 114h4M83 132h4M127 109h4M117 123h4M117 118h4M148 88h4M68 108h4M96 162h4M107 76h4M111 106h4M162 116h4M145 112h4M78 103h4M87 170h4M163 93h4M31 90h4M103 86h4M122 118h4M136 123h4M92 94h4M136 119h4M44 121h4M158 73h4M106 159h4M102 143h4M87 102h4M85 100h4M117 86h4M114 88h4M145 108h4M145 79h4M109 140h4M86 142h4M105 123h4M119 106h4M129 125h4M89 137h4M91 107h4M135 67h4M118 122h4M140 128h4M76 72h4M115 163h4M140 87h4M125 118h4M108 96h4M73 74h4M128 108h4M112 136h4M145 65h4M106 109h4M89 101h4M91 170h4M102 134h4M74 48h4M151 120h4M101 93h4M134 121h4M83 143h4M158 98h4M8 147h4M143 94h4M71 112h4M147 131h4M101 75h4M48 75h4M74 76h4M150 75h4M30 125h4M123 102h4M130 106h4M144 78h4M81 125h4M69 160h4M87 154h4M108 184h4M5 135h4M52 151h4M89 139h4M2 142h4M68 180h4M136 173h4M73 116h4M78 133h4M101 122h4M22 175h4M63 148h4M71 140h4M50 140h4M41 159h4M57 114h4M58 160h4M76 137h4M21 127h4M68 142h4M121 163h4M86 113h4M132 143h4M75 157h4M67 150h4M32 134h4M93 176h4M17 153h4M91 105h4M67 136h4M24 130h4M86 167h4M44 144h4M101 156h4M18 167h4M147 142h4M158 104h4M22 144h4M133 153h4M92 127h4M61 139h4M111 136h4M48 150h4M138 104h4M35 161h4M61 182h4M21 115h4M118 149h4M82 145h4M48 130h4M98 159h4M100 142h4M2 153h4M125 150h4M67 141h4M108 112h4M51 136h4M98 138h4M122 146h4M114 130h4M3 111h4M44 154h4M193 130h4M126 180h4M76 130h4M75 154h4M82 138h4M109 110h4M92 145h4M80 137h4M130 175h4M113 176h4M117 144h4M3 169h4M3 94h4M59 122h4M151 160h4M75 133h4M63 129h4M53 151h4M111 159h4M61 110h4M123 104h4M73 128h4M84 108h4M79 149h4M94 138h4M137 105h4M34 160h4M88 150h4M105 119h4M73 161h4M131 165h4M72 154h4M89 128h4M98 173h4M43 167h4M28 154h4M69 174h4M99 142h4M37 159h4M41 153h4M13 106h4M98 167h4M76 146h4M61 125h4M13 145h4M73 155h4M2 92h4M17 143h4M40 112h4M40 117h4M67 129h4M112 124h4M21 146h4M58 160h4M96 138h4M42 171h4M57 146h4M65 186h4M102 167h4M86 152h4M114 143h4M60 148h4M98 170h4M155 122h4M38 163h4M87 190h4M95 161h4M96 182h4M101 127h4M33 192h4M126 169h4M40 193h4M71 194h4M93 130h4M89 178h4M118 160h4M54 179h4M120 168h4M69 177h4M70 132h4M47 179h4M44 100h4M111 150h4M28 186h4M40 146h4M96 168h4M70 150h4M20 110h4M40 160h4M142 106h4M135 136h4M89 166h4M38 182h4M90 104h4M89 160h4M108 145h4M41 132h4M73 144h4M103 98h4M62 125h4M65 131h4M82 104h4M22 124h4M51 108h4M126 123h4M124 126h4M96 154h4M88 141h4M115 118h4M124 184h4M68 130h4M42 176h4M39 124h4M94 130h4M135 98h4M98 126h4M75 174h4M29 167h4M101 156h4M90 153h4M56 173h4M83 124h4M108 128h4M107 140h4M64 159h4M87 115h4M116 137h4M76 132h4M87 142h4M116 212h4M160 172h4M88 146h4M15 166h4M120 140h4M107 132h4M74 137h4M60 133h4M69 127h4M115 150h4M79 174h4M114 147h4M81 168h4M26 121h4M34 149h4M62 177h4M72 129h4M115 172h4M67 185h4M58 142h4M26 192h4M102 116h4M193 144h4M91 99h4M3 146h4M174 123h4M114 92h4M50 114h4M120 171h4M143 172h4M100 101h4M72 127h4M39 130h4M110 124h4M23 166h4M84 113h4M36 171h4M58 141h4M71 159h4M56 145h4M78 115h4M112 174h4M76 140h4M70 119h4M142 115h4M24 118h4M98 182h4M55 109h4M48 151h4M57 156h4M44 116h4M26 117h4M62 177h4M90 114h4M88 163h4M62 165h4M59 125h4M98 201h4M3 121h4M85 152h4M81 143h4M119 160h4M65 150h4M47 172h4M93 166h4M75 174h4M112 126h4M76 103h4M91 147h4M92 121h4M9 170h4M73 173h4M92 111h4M101 154h4M108 121h4M10 177h4M2 138h4M46 131h4M129 147h4M41 144h4M58 168h4M8 100h4M61 90h4M71 151h4M115 183h4M125 170h4M140 144h4M49 147h4M87 133h4M117 147h4M185 109h4M63 145h4M34 151h4M53 127h4M12 172h4M82 129h4M63 144h4M68 146h4M49 129h4M115 134h4M106 180h4M37 165h4M68 122h4M62 145h4M69 155h4M31 146h4M83 168h4M166 150h4M96 131h4M135 144h4M42 145h4M53 104h4M84 121h4M92 134h4M102 82h4M96 150h4M49 114h4M79 150h4" stroke="#cb2d10" stroke-width="4" fill="none"/>
</g></g>
<rect x="177.5" y="349.5" width="60" height="56" fill="none" stroke="#3a3a3a" stroke-width=".85"/>
<path d="M198.5 349.5L198.5 405.5" stroke="#222" stroke-width="1" fill="none"/>
<path d="M177.5 382.5L237.5 382.5" stroke="#222" stroke-width="1" fill="none"/>
<text x="179.5" y="355.1" font-size="5.6" text-anchor="start" fill="#262626">9.74</text>
<text x="235.9" y="355.1" font-size="5.6" text-anchor="end" fill="#262626">2.86</text>
<text x="179.7" y="402.4" font-size="5.6" text-anchor="start" fill="#7a1205">65.54</text>
<text x="235.9" y="402.4" font-size="5.6" text-anchor="end" fill="#262626">21.86</text>
<path d="M178.1 405.5v2.2M177.5 404.9h-2.2M182.5 405.5v1M177.5 400.8h-1M185.08 405.5v1M177.5 398.4h-1M186.91 405.5v1M177.5 396.7h-1M188.32 405.5v1M177.5 395.38h-1M189.48 405.5v1M177.5 394.3h-1M190.46 405.5v1M177.5 393.39h-1M191.31 405.5v1M177.5 392.6h-1M192.06 405.5v1M177.5 391.9h-1M192.72 405.5v2.2M177.5 391.27h-2.2M197.13 405.5v1M177.5 387.17h-1M199.7 405.5v1M177.5 384.77h-1M201.53 405.5v1M177.5 383.07h-1M202.95 405.5v1M177.5 381.75h-1M204.11 405.5v1M177.5 380.67h-1M205.08 405.5v1M177.5 379.76h-1M205.93 405.5v1M177.5 378.97h-1M206.68 405.5v1M177.5 378.27h-1M207.35 405.5v2.2M177.5 377.65h-2.2M211.75 405.5v1M177.5 373.55h-1M214.33 405.5v1M177.5 371.15h-1M216.16 405.5v1M177.5 369.45h-1M217.57 405.5v1M177.5 368.13h-1M218.73 405.5v1M177.5 367.05h-1M219.71 405.5v1M177.5 366.14h-1M220.56 405.5v1M177.5 365.35h-1M221.31 405.5v1M177.5 364.65h-1M221.97 405.5v2.2M177.5 364.02h-2.2M226.38 405.5v1M177.5 359.92h-1M228.95 405.5v1M177.5 357.52h-1M230.78 405.5v1M177.5 355.82h-1M232.2 405.5v1M177.5 354.5h-1M233.36 405.5v1M177.5 353.42h-1M234.33 405.5v1M177.5 352.51h-1M235.18 405.5v1M177.5 351.72h-1M235.93 405.5v1M177.5 351.02h-1M236.6 405.5v2.2M177.5 350.4h-2.2" stroke="#333" stroke-width=".45" fill="none"/>
<text x="178.5" y="410.3" font-size="3" text-anchor="middle" fill="#555">10<tspan font-size="2" dy="-1">0</tspan></text>
<text x="175.1" y="404.5" font-size="3" text-anchor="middle" fill="#555" transform="rotate(-90 175.1 404.5)">10<tspan font-size="2" dy="-1">0</tspan></text>
<text x="193.12" y="410.3" font-size="3" text-anchor="middle" fill="#555">10<tspan font-size="2" dy="-1">1</tspan></text>
<text x="175.1" y="390.88" font-size="3" text-anchor="middle" fill="#555" transform="rotate(-90 175.1 390.88)">10<tspan font-size="2" dy="-1">1</tspan></text>
<text x="207.75" y="410.3" font-size="3" text-anchor="middle" fill="#555">10<tspan font-size="2" dy="-1">2</tspan></text>
<text x="175.1" y="377.25" font-size="3" text-anchor="middle" fill="#555" transform="rotate(-90 175.1 377.25)">10<tspan font-size="2" dy="-1">2</tspan></text>
<text x="222.38" y="410.3" font-size="3" text-anchor="middle" fill="#555">10<tspan font-size="2" dy="-1">3</tspan></text>
<text x="175.1" y="363.62" font-size="3" text-anchor="middle" fill="#555" transform="rotate(-90 175.1 363.62)">10<tspan font-size="2" dy="-1">3</tspan></text>
<text x="237" y="410.3" font-size="3" text-anchor="middle" fill="#555">10<tspan font-size="2" dy="-1">4</tspan></text>
<text x="175.1" y="350" font-size="3" text-anchor="middle" fill="#555" transform="rotate(-90 175.1 350)">10<tspan font-size="2" dy="-1">4</tspan></text>
<text x="207.5" y="414.1" font-size="3.2" text-anchor="middle" fill="#555">CD3</text>
<text x="169.1" y="379.5" font-size="3.2" text-anchor="middle" transform="rotate(-90 169.1 379.5)" fill="#444">B220</text>
<clipPath id="k6"><rect x="177.5" y="420.5" width="62" height="56"/></clipPath>
<g clip-path="url(#k6)"><g>
<ellipse cx="186.5" cy="467" rx="8.85" ry="8.48" fill="#cb2d10" transform="rotate(30 186.5 467)"/>
<path transform="translate(177.5 420.5) scale(.25)" d="M65 158h4M65 203h4M3 173h4M63 163h4M9 155h4M13 218h4M40 144h4M66 160h4M3 221h4M85 192h4M43 147h4M58 220h4M47 217h4M25 219h4M68 208h4M3 184h4M80 205h4M36 140h4M4 177h4M55 218h4M5 211h4M9 203h4M84 203h4M5 168h4M66 211h4M49 219h4M63 156h4M27 153h4M47 221h4M20 140h4M83 184h4M2 178h4M85 195h4M3 180h4M14 212h4M61 218h4M57 220h4M67 143h4M56 217h4M6 147h4M13 154h4M34 151h4M30 147h4M4 194h4M8 158h4M2 174h4M70 219h4M37 151h4M72 173h4M62 161h4M67 203h4M39 148h4M75 219h4M46 221h4M3 177h4M76 195h4M42 147h4M4 171h4M78 174h4M66 146h4M49 219h4M3 152h4M21 153h4M48 218h4M67 199h4M39 221h4M70 174h4M60 133h4M23 139h4M3 158h4M96 218h4M45 148h4M76 206h4M3 153h4M51 158h4M48 155h4M58 220h4M6 197h4M24 128h4M2 221h4M9 204h4M69 173h4M4 169h4M2 159h4M81 171h4M51 221h4M29 219h4M28 139h4M11 220h4M3 197h4M17 158h4M75 212h4M88 156h4M75 200h4M14 217h4M35 220h4M69 210h4M70 187h4M80 186h4M37 153h4M58 156h4M79 174h4M89 181h4M4 182h4M8 206h4M21 157h4M77 200h4M71 173h4M32 143h4M10 214h4M50 221h4M24 154h4M38 151h4M28 144h4M70 180h4M45 150h4M34 154h4M13 147h4M4 161h4M69 174h4M63 221h4M9 219h4M29 153h4M4 206h4M5 196h4M85 164h4M95 184h4M75 187h4M79 131h4M93 202h4M87 215h4M71 207h4M6 205h4M30 220h4M39 146h4M14 214h4M74 203h4M46 221h4M91 171h4M21 214h4M74 212h4M51 158h4M2 172h4M74 196h4M76 176h4M4 201h4M39 152h4M44 149h4M53 142h4M11 219h4M18 146h4M60 147h4M5 188h4M3 146h4M4 196h4M7 213h4M73 212h4M42 154h4M24 222h4M67 173h4M77 205h4M69 200h4M33 221h4M11 156h4M50 139h4M76 203h4M8 217h4M49 219h4M62 221h4M30 153h4M36 154h4M69 193h4M76 194h4M56 153h4M64 214h4M23 216h4M97 188h4M2 154h4M67 149h4M10 222h4M71 212h4M36 221h4M80 194h4M8 149h4M9 221h4M73 193h4M33 154h4M45 145h4M12 219h4M4 221h4M99 193h4M28 218h4M53 215h4M4 196h4M67 167h4M37 220h4M5 215h4M8 205h4M65 214h4M30 149h4M28 129h4M38 144h4M73 189h4M71 215h4M4 200h4M68 212h4M18 221h4M70 195h4M20 221h4M17 159h4M20 216h4M7 166h4M82 160h4M48 151h4M12 210h4M16 159h4M61 212h4M13 221h4M69 165h4M62 162h4M86 187h4M25 139h4M31 221h4M84 167h4M40 137h4M63 221h4M71 170h4M76 149h4M3 134h4M62 164h4M4 162h4M72 182h4M41 154h4M75 209h4M68 197h4M28 130h4M89 214h4M13 219h4M7 204h4M74 167h4M18 214h4M70 158h4M3 171h4M79 195h4M21 155h4M69 188h4M3 169h4M73 195h4M50 221h4M54 215h4M21 155h4M84 160h4M4 167h4M15 155h4M10 134h4M6 200h4M72 178h4M53 220h4M54 221h4M3 219h4M69 220h4M86 155h4M38 149h4M40 133h4M19 147h4M6 210h4M21 221h4M70 164h4M73 201h4M3 187h4M3 176h4M47 221h4M84 156h4M36 149h4M79 186h4M27 217h4M3 188h4M13 140h4M7 200h4M78 218h4M3 199h4M63 161h4M5 198h4M76 186h4M70 148h4M16 221h4M4 198h4M15 219h4M52 154h4M67 202h4M59 147h4M44 154h4M70 195h4M21 221h4M16 214h4M12 210h4M2 186h4M28 218h4M71 145h4M5 194h4M73 179h4M76 160h4M49 150h4M11 156h4M52 218h4M80 201h4M33 219h4M13 212h4M4 175h4M54 126h4M17 159h4M22 144h4M4 210h4M69 184h4M73 190h4M88 203h4M2 181h4M76 170h4M3 181h4M24 139h4M23 220h4M28 142h4M88 212h4M81 214h4M49 147h4M30 220h4M4 182h4M72 171h4M80 191h4M5 158h4M25 151h4M74 194h4M21 143h4M29 143h4M61 211h4M30 221h4M58 214h4M41 153h4M2 149h4M69 215h4M48 129h4M51 220h4M63 146h4M42 150h4M45 219h4M74 196h4M2 213h4M6 213h4M76 190h4M41 219h4M4 216h4M3 221h4M57 211h4M4 219h4M99 171h4M84 153h4M71 170h4M31 148h4M77 201h4M65 217h4M6 207h4M4 201h4M56 219h4M72 215h4M46 151h4M3 194h4M43 154h4M84 210h4M38 218h4M3 179h4M68 160h4M33 134h4M3 158h4M65 170h4M88 192h4M19 218h4M77 186h4M72 177h4M51 215h4M2 169h4M76 176h4M2 188h4M53 219h4M68 35h4M48 34h4M51 115h4M53 99h4M66 42h4M60 64h4M68 42h4M68 57h4M25 22h4M78 58h4M63 66h4M75 69h4M56 50h4M43 35h4M59 93h4M75 69h4M105 109h4M57 32h4M74 63h4M48 72h4M85 93h4M83 108h4M39 99h4M70 76h4M54 44h4M57 86h4M60 94h4M76 70h4M90 60h4M50 92h4M50 14h4M99 47h4M79 50h4M47 50h4M71 36h4M42 85h4M75 80h4M73 73h4M74 88h4M28 125h4M74 66h4M60 89h4M60 33h4M33 67h4M35 75h4M27 58h4M72 63h4M75 65h4M44 70h4M66 38h4M82 34h4M71 74h4M40 91h4M63 29h4M36 105h4M60 21h4M56 64h4M66 64h4M46 96h4M63 69h4M91 86h4M76 16h4M49 78h4M80 117h4M94 41h4M59 61h4M59 40h4M64 62h4M51 42h4M62 92h4M69 71h4M66 67h4M76 57h4M88 46h4M60 99h4M79 94h4M51 86h4M65 55h4M56 92h4M75 93h4M51 68h4M28 87h4M64 44h4M43 62h4M65 65h4M61 50h4M46 43h4M59 82h4M61 44h4M77 108h4M54 37h4M84 99h4M75 37h4M56 121h4M37 85h4M50 145h4M69 66h4M61 86h4M34 91h4M56 96h4M78 6h4M51 43h4M43 41h4M45 56h4M62 68h4M45 72h4M87 45h4M70 35h4M47 75h4M74 21h4M70 41h4M75 77h4M74 98h4M15 70h4M49 80h4M20 72h4M67 30h4M69 60h4M75 31h4M84 17h4M66 87h4M91 41h4M61 95h4M75 55h4M39 67h4M59 88h4M70 64h4M28 52h4M97 33h4M47 67h4M56 11h4M68 67h4M51 14h4M49 99h4M80 67h4M90 70h4M36 103h4M69 61h4M36 85h4M57 74h4M73 58h4M60 46h4M81 56h4M56 118h4M44 113h4M69 72h4M38 128h4M79 43h4M59 75h4M68 97h4M79 34h4M65 53h4M61 34h4M68 60h4M99 90h4M42 72h4M69 72h4M50 38h4M55 95h4M71 71h4M112 38h4M83 65h4M62 60h4M14 70h4M82 59h4M29 112h4M73 54h4M60 52h4M56 98h4M64 84h4M47 46h4M95 64h4M70 130h4M75 95h4M90 56h4M79 72h4M27 39h4M86 43h4M54 103h4M58 58h4M60 49h4M38 69h4M37 33h4M60 32h4M69 63h4M53 87h4M41 85h4M70 65h4M57 128h4M69 82h4M53 90h4M39 67h4M73 41h4M58 147h4M85 45h4M58 71h4M49 117h4M58 132h4M71 82h4M72 52h4M37 121h4M60 125h4M74 48h4M85 75h4M77 35h4M64 59h4M34 104h4M66 56h4M47 73h4M44 49h4M68 90h4M58 66h4M73 54h4M37 60h4M57 120h4M51 64h4M58 83h4M71 109h4M41 70h4M48 41h4M7 91h4M35 44h4M56 31h4M45 76h4M61 100h4M37 42h4M71 100h4M75 68h4M60 46h4M46 55h4M78 39h4M44 49h4M52 42h4M71 28h4M72 87h4M74 121h4M59 76h4M70 125h4M83 78h4M47 61h4M77 64h4M65 116h4M57 19h4M25 60h4M84 73h4M61 118h4M81 93h4M80 76h4M32 53h4M73 100h4M68 71h4M56 44h4M46 64h4M63 21h4M42 38h4M89 73h4M55 67h4M56 11h4M40 116h4M57 45h4M68 93h4M58 49h4M76 84h4M41 53h4M58 72h4M62 91h4M50 74h4M60 67h4M61 78h4M74 46h4M73 51h4M47 68h4M58 74h4M86 31h4M35 81h4M42 43h4M74 142h4M55 27h4M80 75h4M52 73h4M51 101h4M51 80h4M80 93h4M81 51h4M29 104h4M52 48h4M66 74h4M67 79h4M54 122h4M79 90h4M30 48h4M38 52h4M58 58h4M65 79h4M59 95h4M59 41h4M64 22h4M80 63h4M45 101h4M52 82h4M56 91h4M47 120h4M53 68h4M60 70h4M63 50h4M54 66h4M59 76h4M69 63h4M92 76h4M61 62h4M88 59h4M85 30h4M65 49h4M51 57h4M52 76h4M31 41h4M50 42h4M74 11h4M103 78h4M51 110h4M76 88h4M41 59h4M42 120h4M50 90h4M49 58h4M58 63h4M64 36h4M33 108h4M70 29h4M76 51h4M43 74h4M49 82h4M73 91h4M97 7h4M67 12h4M60 24h4M63 91h4M64 39h4M28 44h4M52 61h4M32 120h4M66 92h4M59 76h4M61 61h4M90 59h4M41 127h4M26 100h4M40 50h4M67 37h4M114 75h4M79 50h4M100 59h4M86 87h4M80 161h4M71 130h4M85 104h4M60 83h4M91 86h4M88 52h4M109 102h4M73 191h4M71 125h4M71 98h4M129 102h4M105 149h4M138 69h4M91 81h4M105 82h4M78 42h4M97 72h4M143 106h4M119 93h4M101 97h4M88 106h4M113 106h4M108 72h4M46 151h4M17 129h4M45 82h4M19 125h4M66 206h4M73 136h4M95 90h4M75 128h4M145 110h4M139 129h4M130 83h4M88 78h4M65 164h4M156 55h4M120 62h4M57 11h4M83 78h4M54 57h4M35 136h4M120 173h4M117 16h4M99 54h4M114 76h4M112 90h4M117 193h4M102 95h4M74 120h4M61 137h4M73 73h4M41 157h4M41 123h4M56 87h4M99 117h4M105 57h4M132 114h4M66 93h4M70 152h4M65 100h4M104 116h4M130 99h4M76 90h4M62 119h4M90 121h4M29 43h4M151 107h4M93 46h4M124 25h4M101 95h4M142 70h4M38 41h4M99 145h4M95 120h4M3 59h4M89 85h4M88 83h4M134 101h4M88 88h4M133 38h4M62 108h4M60 147h4M100 63h4M54 106h4M97 119h4M157 145h4M87 74h4M132 55h4M125 74h4M185 104h4M91 91h4M123 111h4M73 113h4M116 72h4M85 110h4M36 125h4M93 110h4M149 53h4M59 135h4M66 77h4M104 159h4M126 100h4M88 107h4M88 115h4M62 111h4M108 95h4M110 100h4M128 110h4M68 42h4M85 161h4M54 47h4M135 122h4M97 64h4M89 110h4M175 128h4M115 106h4M61 99h4M69 66h4M48 135h4M121 92h4M63 118h4M78 85h4M148 130h4M127 64h4M108 109h4M63 100h4M25 94h4M116 69h4M84 89h4M62 89h4M55 82h4M96 75h4M68 99h4M76 59h4M69 84h4M117 90h4M34 110h4M80 126h4M133 59h4M51 104h4M79 120h4M73 109h4M84 117h4M25 145h4M83 161h4M130 74h4M72 92h4M138 96h4M115 138h4M117 105h4M89 69h4M71 64h4M82 134h4M59 120h4M79 154h4M62 129h4M83 100h4M48 118h4M58 99h4M76 112h4M26 117h4M61 89h4M62 164h4M73 99h4M39 169h4M48 139h4M59 177h4M66 135h4M65 135h4M48 129h4M44 162h4M103 147h4M71 183h4M56 122h4M46 148h4M73 141h4M77 95h4M52 119h4M94 161h4M95 116h4M59 101h4M68 126h4M88 171h4M96 116h4M28 81h4M30 163h4M77 129h4M54 147h4M35 175h4M53 171h4M45 139h4M38 120h4M94 82h4M79 103h4M99 122h4M72 94h4M62 97h4M59 120h4M69 105h4M83 138h4M38 112h4M90 129h4M65 146h4M37 159h4M39 144h4M67 131h4M108 96h4M83 126h4M89 100h4M66 144h4M55 169h4M88 164h4M81 98h4M82 100h4M70 136h4M57 148h4M61 141h4M78 104h4M41 126h4M69 148h4M48 153h4M57 128h4M57 171h4M31 96h4M57 123h4M68 86h4M74 137h4M107 123h4M102 90h4M80 126h4M40 137h4M60 122h4M74 101h4M80 103h4M70 95h4M57 139h4M49 132h4M79 167h4M71 185h4M67 145h4M53 114h4M79 118h4M51 152h4M70 139h4M60 133h4M90 71h4M57 122h4M69 120h4M75 116h4M74 126h4M70 125h4M54 117h4M79 150h4M68 130h4M73 102h4M71 153h4M97 170h4M67 134h4M74 140h4M49 122h4M79 176h4M86 93h4M67 148h4M60 106h4M57 116h4M65 110h4M93 109h4M92 181h4M59 134h4M65 127h4M61 123h4M102 142h4M60 157h4M77 135h4M63 132h4M30 177h4M66 99h4M70 136h4M67 125h4M65 107h4M85 97h4M78 139h4M63 106h4M78 143h4M74 96h4M80 141h4M89 155h4M53 136h4M44 125h4M27 166h4M88 100h4M70 105h4M96 106h4M71 138h4M48 100h4M74 143h4M42 130h4M92 177h4M63 109h4M21 175h4M68 91h4M90 165h4M62 85h4M71 152h4M70 151h4M55 129h4M56 117h4M61 127h4M58 151h4M27 127h4M68 120h4M73 131h4M60 116h4M43 161h4M100 102h4M62 112h4M68 129h4M89 120h4M56 113h4M38 137h4M66 140h4M73 126h4M93 117h4M55 150h4M49 132h4M75 136h4M89 169h4M66 130h4M71 124h4M85 102h4M100 156h4M71 165h4M48 129h4M68 106h4M38 105h4M50 150h4M63 156h4M66 138h4M47 139h4M52 128h4M65 170h4M65 131h4M58 133h4M78 115h4M90 150h4M49 106h4M71 77h4M67 161h4M73 92h4M65 136h4M58 115h4M47 125h4M40 151h4M89 110h4M71 113h4M78 122h4M68 144h4M22 121h4M60 132h4M93 153h4M75 111h4M66 154h4M33 112h4M38 165h4M21 115h4M60 120h4M79 115h4M51 123h4M68 126h4M79 97h4M82 117h4M58 111h4M69 135h4M44 129h4M60 115h4M87 123h4M97 131h4M89 137h4M89 150h4M39 114h4M46 111h4M75 157h4M69 140h4M53 150h4M53 106h4M71 117h4M65 169h4M83 129h4M81 153h4M65 119h4M49 154h4M73 151h4M55 165h4M77 149h4M79 98h4M123 88h4M68 129h4M82 139h4M98 111h4M35 130h4M55 107h4M79 125h4M75 130h4M55 128h4M61 124h4M33 105h4M58 111h4M73 134h4M63 145h4M49 140h4M48 134h4M32 169h4M64 96h4M46 109h4M34 112h4M90 98h4M84 165h4M69 159h4M69 155h4M105 164h4M90 133h4M47 142h4M76 103h4M55 133h4M58 129h4M27 134h4M74 118h4M88 142h4M55 140h4M86 114h4M49 143h4M62 127h4M76 137h4M29 145h4M80 125h4M90 116h4M48 99h4M110 138h4M81 111h4M76 118h4M70 150h4M66 143h4M53 128h4M75 154h4M3 112h4M66 101h4M65 136h4M104 126h4M57 144h4M70 128h4M32 118h4M41 152h4M47 135h4M84 101h4M61 105h4M56 108h4M93 136h4M75 103h4M55 146h4M66 157h4M87 151h4M43 154h4M26 141h4M92 119h4M65 111h4M67 161h4M103 106h4M69 136h4M87 156h4M52 104h4M71 127h4M80 114h4M62 142h4M65 144h4M72 161h4M67 100h4M41 138h4M59 141h4M98 151h4M80 83h4M52 114h4M83 122h4M58 132h4M65 126h4M142 109h4M163 42h4M122 61h4M166 57h4M168 76h4M188 80h4M44 56h4M172 90h4M155 79h4M170 95h4M161 49h4M187 55h4M180 61h4M164 129h4M171 115h4M118 57h4M120 49h4M71 96h4M140 75h4M125 54h4M176 77h4M129 83h4M150 107h4M104 69h4M138 105h4M169 83h4M165 108h4M96 86h4M124 92h4M141 90h4M56 54h4M166 71h4M150 50h4M136 96h4M176 96h4" stroke="#cb2d10" stroke-width="4" fill="none"/>
</g></g>
<rect x="177.5" y="420.5" width="62" height="56" fill="none" stroke="#3a3a3a" stroke-width=".85"/>
<path d="M197.5 420.5L197.5 476.5" stroke="#222" stroke-width="1" fill="none"/>
<path d="M177.5 452.5L239.5 452.5" stroke="#222" stroke-width="1" fill="none"/>
<text x="179.5" y="426.1" font-size="5.6" text-anchor="start" fill="#262626">17.74</text>
<text x="237.9" y="426.1" font-size="5.6" text-anchor="end" fill="#262626">4.61</text>
<text x="179.7" y="473.4" font-size="5.6" text-anchor="start" fill="#7a1205">73.90</text>
<text x="237.9" y="473.4" font-size="5.6" text-anchor="end" fill="#262626">3.75</text>
<path d="M178.1 476.5v2.2M177.5 475.9h-2.2M182.65 476.5v1M177.5 471.8h-1M185.32 476.5v1M177.5 469.4h-1M187.21 476.5v1M177.5 467.7h-1M188.67 476.5v1M177.5 466.38h-1M189.87 476.5v1M177.5 465.3h-1M190.88 476.5v1M177.5 464.39h-1M191.76 476.5v1M177.5 463.6h-1M192.53 476.5v1M177.5 462.9h-1M193.22 476.5v2.2M177.5 462.27h-2.2M197.78 476.5v1M177.5 458.17h-1M200.44 476.5v1M177.5 455.77h-1M202.33 476.5v1M177.5 454.07h-1M203.8 476.5v1M177.5 452.75h-1M204.99 476.5v1M177.5 451.67h-1M206.01 476.5v1M177.5 450.76h-1M206.88 476.5v1M177.5 449.97h-1M207.66 476.5v1M177.5 449.27h-1M208.35 476.5v2.2M177.5 448.65h-2.2M212.9 476.5v1M177.5 444.55h-1M215.57 476.5v1M177.5 442.15h-1M217.46 476.5v1M177.5 440.45h-1M218.92 476.5v1M177.5 439.13h-1M220.12 476.5v1M177.5 438.05h-1M221.13 476.5v1M177.5 437.14h-1M222.01 476.5v1M177.5 436.35h-1M222.78 476.5v1M177.5 435.65h-1M223.47 476.5v2.2M177.5 435.02h-2.2M228.03 476.5v1M177.5 430.92h-1M230.69 476.5v1M177.5 428.52h-1M232.58 476.5v1M177.5 426.82h-1M234.05 476.5v1M177.5 425.5h-1M235.24 476.5v1M177.5 424.42h-1M236.26 476.5v1M177.5 423.51h-1M237.13 476.5v1M177.5 422.72h-1M237.91 476.5v1M177.5 422.02h-1M238.6 476.5v2.2M177.5 421.4h-2.2" stroke="#333" stroke-width=".45" fill="none"/>
<text x="178.5" y="481.3" font-size="3" text-anchor="middle" fill="#555">10<tspan font-size="2" dy="-1">0</tspan></text>
<text x="175.1" y="475.5" font-size="3" text-anchor="middle" fill="#555" transform="rotate(-90 175.1 475.5)">10<tspan font-size="2" dy="-1">0</tspan></text>
<text x="193.62" y="481.3" font-size="3" text-anchor="middle" fill="#555">10<tspan font-size="2" dy="-1">1</tspan></text>
<text x="175.1" y="461.88" font-size="3" text-anchor="middle" fill="#555" transform="rotate(-90 175.1 461.88)">10<tspan font-size="2" dy="-1">1</tspan></text>
<text x="208.75" y="481.3" font-size="3" text-anchor="middle" fill="#555">10<tspan font-size="2" dy="-1">2</tspan></text>
<text x="175.1" y="448.25" font-size="3" text-anchor="middle" fill="#555" transform="rotate(-90 175.1 448.25)">10<tspan font-size="2" dy="-1">2</tspan></text>
<text x="223.88" y="481.3" font-size="3" text-anchor="middle" fill="#555">10<tspan font-size="2" dy="-1">3</tspan></text>
<text x="175.1" y="434.62" font-size="3" text-anchor="middle" fill="#555" transform="rotate(-90 175.1 434.62)">10<tspan font-size="2" dy="-1">3</tspan></text>
<text x="239" y="481.3" font-size="3" text-anchor="middle" fill="#555">10<tspan font-size="2" dy="-1">4</tspan></text>
<text x="175.1" y="421" font-size="3" text-anchor="middle" fill="#555" transform="rotate(-90 175.1 421)">10<tspan font-size="2" dy="-1">4</tspan></text>
<text x="208.5" y="485.1" font-size="3.2" text-anchor="middle" fill="#555">c-kit</text>
<text x="169.1" y="450.5" font-size="3.2" text-anchor="middle" transform="rotate(-90 169.1 450.5)" fill="#444">CD11b</text>
<clipPath id="k7"><rect x="292.5" y="280.5" width="63" height="57"/></clipPath>
<g clip-path="url(#k7)"><g>
<ellipse cx="325" cy="292.5" rx="10.74" ry="3.14" fill="#cb2d10"/>
<ellipse cx="336.5" cy="297.5" rx="4.93" ry="7.2" fill="#cb2d10"/>
<ellipse cx="300.5" cy="328.5" rx="6.13" ry="6.77" fill="#cb2d10"/>
<path transform="translate(292.5 280.5) scale(.25)" d="M79 56h4M78 32h4M110 63h4M147 59h4M114 59h4M143 35h4M131 60h4M68 45h4M85 55h4M174 51h4M134 36h4M116 37h4M170 30h4M85 50h4M174 53h4M72 25h4M96 57h4M179 54h4M82 59h4M69 42h4M156 32h4M90 62h4M175 44h4M88 47h4M173 39h4M169 37h4M165 56h4M192 51h4M186 25h4M205 51h4M46 44h4M161 38h4M156 61h4M78 45h4M163 24h4M163 35h4M151 35h4M127 62h4M214 38h4M83 34h4M99 35h4M169 55h4M175 40h4M154 62h4M103 62h4M69 61h4M176 39h4M165 61h4M175 46h4M174 46h4M60 45h4M73 55h4M132 60h4M176 62h4M72 38h4M70 58h4M185 48h4M79 43h4M82 42h4M83 47h4M58 51h4M110 31h4M62 40h4M171 54h4M144 29h4M158 60h4M190 32h4M144 70h4M188 47h4M212 58h4M150 25h4M182 52h4M70 57h4M171 64h4M87 42h4M195 57h4M93 36h4M182 57h4M186 55h4M64 41h4M72 49h4M97 24h4M98 62h4M118 36h4M176 54h4M181 57h4M161 38h4M123 71h4M133 71h4M130 35h4M117 30h4M123 35h4M186 53h4M164 40h4M124 32h4M72 48h4M149 32h4M74 38h4M111 35h4M176 58h4M90 43h4M97 38h4M145 34h4M125 24h4M84 50h4M135 36h4M108 36h4M201 45h4M164 27h4M148 69h4M140 59h4M166 39h4M138 67h4M106 64h4M181 48h4M173 42h4M171 48h4M177 58h4M114 68h4M76 64h4M172 37h4M84 33h4M131 35h4M115 62h4M147 67h4M216 31h4M72 40h4M87 48h4M187 43h4M177 51h4M76 61h4M158 32h4M84 46h4M176 43h4M99 36h4M182 52h4M138 68h4M99 38h4M90 46h4M173 45h4M176 45h4M84 48h4M95 30h4M145 34h4M139 63h4M109 69h4M92 29h4M149 72h4M181 37h4M118 17h4M158 67h4M95 61h4M82 62h4M83 57h4M129 29h4M171 45h4M126 62h4M181 48h4M168 42h4M203 42h4M146 34h4M153 34h4M147 62h4M91 70h4M198 30h4M97 39h4M129 31h4M166 63h4M54 65h4M146 36h4M74 51h4M167 31h4M170 46h4M127 64h4M95 41h4M129 60h4M154 60h4M103 69h4M198 25h4M196 49h4M80 56h4M77 58h4M87 33h4M166 55h4M61 45h4M157 26h4M208 39h4M165 41h4M81 58h4M120 29h4M94 54h4M90 54h4M172 50h4M135 32h4M124 33h4M194 25h4M124 32h4M160 72h4M53 49h4M147 28h4M61 48h4M168 66h4M102 31h4M156 62h4M74 39h4M206 65h4M170 47h4M97 60h4M73 28h4M91 41h4M65 46h4M137 60h4M178 64h4M166 55h4M191 45h4M194 57h4M176 107h4M196 79h4M201 79h4M180 40h4M200 69h4M166 94h4M168 35h4M175 25h4M178 107h4M163 48h4M159 25h4M153 75h4M168 34h4M158 79h4M200 87h4M198 94h4M169 40h4M161 93h4M187 34h4M199 83h4M201 46h4M189 41h4M161 43h4M172 96h4M157 80h4M165 91h4M179 19h4M154 70h4M163 96h4M174 111h4M195 83h4M169 38h4M158 94h4M156 62h4M189 97h4M165 43h4M169 35h4M196 63h4M201 95h4M198 65h4M159 87h4M159 85h4M158 55h4M172 32h4M179 40h4M187 46h4M180 40h4M163 31h4M143 71h4M187 95h4M157 61h4M151 91h4M181 94h4M160 87h4M201 104h4M159 81h4M179 97h4M180 100h4M191 91h4M181 114h4M185 38h4M196 68h4M198 53h4M198 80h4M194 50h4M191 94h4M206 71h4M178 99h4M194 50h4M189 101h4M159 48h4M163 35h4M182 35h4M182 94h4M156 62h4M152 82h4M152 59h4M200 69h4M164 38h4M164 30h4M159 112h4M163 98h4M155 63h4M143 66h4M164 42h4M162 44h4M195 75h4M164 41h4M180 29h4M186 40h4M158 35h4M152 45h4M195 69h4M199 100h4M197 87h4M196 78h4M171 34h4M163 48h4M148 78h4M175 114h4M169 95h4M188 99h4M159 78h4M189 93h4M160 89h4M196 57h4M207 86h4M169 36h4M199 63h4M153 84h4M163 87h4M155 45h4M186 34h4M198 77h4M185 35h4M189 42h4M165 32h4M155 57h4M182 96h4M162 51h4M175 98h4M195 85h4M153 50h4M184 93h4M213 79h4M196 58h4M189 26h4M153 55h4M147 79h4M199 99h4M157 33h4M213 56h4M198 46h4M180 41h4M154 26h4M177 26h4M159 52h4M203 77h4M181 109h4M193 40h4M199 92h4M191 97h4M165 103h4M202 101h4M200 81h4M151 109h4M204 68h4M185 96h4M161 50h4M189 38h4M185 99h4M190 88h4M186 35h4M168 94h4M161 88h4M199 82h4M176 101h4M189 47h4M156 49h4M189 30h4M153 94h4M144 88h4M185 31h4M185 36h4M204 57h4M197 62h4M185 33h4M149 57h4M182 95h4M168 120h4M170 98h4M157 79h4M195 61h4M165 90h4M158 45h4M175 38h4M180 41h4M145 69h4M181 32h4M182 34h4M189 39h4M152 86h4M195 53h4M133 53h4M158 103h4M153 51h4M154 62h4M199 63h4M191 51h4M192 19h4M152 114h4M158 85h4M169 94h4M135 56h4M153 63h4M159 47h4M198 91h4M200 81h4M149 45h4M198 53h4M166 103h4M151 41h4M146 69h4M167 102h4M154 71h4M192 91h4M187 91h4M154 80h4M164 91h4M154 100h4M184 111h4M27 73h4M31 78h4M38 55h4M64 54h4M31 88h4M31 63h4M49 64h4M16 71h4M37 118h4M19 99h4M26 65h4M35 81h4M60 119h4M29 109h4M63 95h4M26 97h4M40 83h4M36 91h4M65 103h4M38 100h4M72 50h4M73 39h4M53 89h4M73 81h4M32 53h4M16 94h4M37 55h4M53 54h4M33 62h4M76 112h4M39 33h4M48 76h4M49 89h4M35 98h4M59 79h4M34 62h4M56 45h4M39 55h4M13 90h4M41 75h4M60 35h4M41 81h4M59 46h4M57 80h4M70 104h4M53 130h4M42 63h4M35 50h4M41 25h4M40 85h4M63 65h4M71 57h4M39 25h4M26 53h4M72 87h4M20 88h4M52 68h4M42 66h4M31 29h4M40 107h4M71 67h4M27 69h4M60 83h4M30 83h4M38 87h4M34 37h4M43 93h4M20 71h4M60 65h4M29 125h4M59 100h4M23 115h4M8 61h4M57 108h4M23 57h4M46 25h4M55 88h4M33 88h4M58 82h4M53 112h4M32 78h4M31 100h4M34 86h4M45 76h4M77 72h4M71 95h4M69 70h4M61 93h4M30 81h4M39 73h4M68 56h4M8 30h4M33 58h4M42 88h4M77 82h4M51 56h4M54 108h4M69 25h4M60 114h4M59 37h4M36 89h4M50 54h4M24 98h4M15 110h4M42 82h4M15 59h4M56 37h4M83 39h4M18 75h4M52 92h4M35 69h4M37 60h4M2 98h4M64 81h4M54 113h4M82 75h4M64 38h4M27 84h4M29 47h4M25 85h4M13 88h4M63 24h4M51 93h4M17 86h4M34 88h4M58 86h4M77 46h4M94 63h4M14 42h4M71 88h4M29 60h4M3 46h4M31 57h4M18 119h4M55 77h4M32 49h4M68 93h4M23 99h4M20 90h4M23 64h4M52 85h4M62 53h4M73 108h4M42 86h4M26 70h4M16 76h4M46 107h4M61 94h4M35 68h4M35 80h4M4 93h4M11 61h4M42 61h4M75 72h4M73 103h4M32 84h4M68 66h4M44 60h4M43 65h4M44 99h4M70 77h4M46 95h4M36 48h4M64 51h4M61 50h4M78 48h4M59 111h4M23 111h4M26 30h4M56 91h4M38 11h4M41 66h4M34 67h4M6 60h4M78 113h4M35 56h4M50 100h4M56 45h4M45 77h4M71 104h4M52 104h4M34 112h4M34 84h4M60 51h4M28 30h4M45 73h4M35 86h4M4 73h4M55 78h4M55 38h4M24 92h4M64 116h4M9 107h4M36 67h4M35 90h4M64 53h4M54 78h4M27 96h4M24 62h4M41 76h4M26 63h4M65 78h4M48 73h4M61 105h4M40 95h4M26 74h4M19 61h4M104 52h4M68 81h4M48 22h4M46 38h4M29 56h4M35 119h4M76 30h4M35 54h4M45 32h4M13 72h4M27 101h4M36 79h4M32 94h4M66 72h4M32 88h4M44 98h4M44 76h4M58 53h4M17 85h4M38 89h4M22 222h4M3 177h4M53 180h4M13 219h4M2 209h4M2 196h4M3 168h4M27 141h4M45 154h4M50 172h4M18 221h4M56 200h4M53 180h4M10 171h4M9 186h4M7 182h4M25 159h4M39 138h4M6 196h4M29 147h4M15 225h4M70 169h4M41 224h4M56 162h4M29 225h4M22 168h4M9 200h4M39 153h4M47 222h4M69 226h4M45 218h4M57 177h4M69 155h4M39 163h4M3 193h4M54 170h4M13 206h4M22 165h4M13 140h4M52 170h4M2 164h4M58 217h4M40 150h4M58 201h4M20 218h4M31 153h4M8 190h4M12 168h4M12 214h4M12 173h4M21 217h4M58 224h4M48 225h4M7 199h4M50 155h4M7 217h4M4 197h4M48 216h4M44 220h4M34 225h4M9 162h4M39 165h4M10 208h4M14 209h4M60 186h4M14 213h4M57 173h4M56 196h4M3 199h4M44 166h4M58 200h4M3 181h4M58 209h4M20 164h4M47 155h4M31 224h4M54 166h4M52 180h4M27 225h4M24 157h4M9 203h4M66 204h4M54 204h4M49 224h4M20 166h4M41 144h4M9 207h4M30 223h4M35 218h4M22 215h4M54 225h4M47 139h4M13 211h4M85 161h4M4 196h4M59 168h4M38 225h4M3 162h4M57 182h4M53 203h4M38 166h4M13 213h4M52 158h4M63 215h4M38 167h4M22 225h4M6 172h4M33 219h4M12 171h4M33 224h4M64 191h4M39 149h4M32 164h4M40 218h4M50 163h4M56 209h4M58 186h4M52 151h4M57 174h4M48 161h4M46 161h4M63 185h4M32 225h4M55 176h4M39 158h4M14 149h4M54 207h4M4 171h4M57 215h4M11 205h4M46 169h4M28 223h4M7 202h4M51 175h4M45 225h4M52 224h4M3 179h4M3 224h4M53 174h4M54 205h4M15 214h4M5 188h4M2 223h4M23 169h4M4 203h4M54 172h4M68 180h4M47 213h4M9 213h4M58 188h4M41 164h4M4 223h4M2 175h4M77 182h4M43 224h4M45 168h4M49 219h4M9 197h4M18 163h4M26 219h4M30 225h4M43 169h4M6 225h4M3 182h4M23 219h4M57 186h4M21 160h4M4 221h4M46 224h4M6 188h4M48 168h4M50 163h4M18 163h4M4 192h4M31 155h4M10 159h4M51 215h4M25 166h4M5 170h4M10 144h4M57 193h4M2 180h4M36 220h4M49 161h4M55 203h4M28 166h4M72 144h4M47 144h4M20 164h4M30 217h4M17 141h4M31 144h4M57 177h4M51 168h4M3 147h4M8 225h4M50 220h4M59 173h4M2 197h4M50 208h4M56 175h4M79 173h4M5 204h4M8 216h4M66 194h4M68 203h4M21 217h4M34 224h4M51 208h4M9 199h4M14 169h4M19 164h4M34 221h4M57 224h4M7 214h4M43 167h4M73 222h4M12 152h4M6 158h4M62 196h4M70 224h4M41 151h4M46 172h4M14 174h4M62 194h4M65 198h4M51 212h4M70 224h4M28 154h4M4 158h4M53 212h4M12 174h4M57 176h4M43 150h4M47 165h4M59 198h4M8 154h4M35 154h4M62 191h4M37 223h4M17 222h4M38 151h4M58 215h4M22 218h4M7 186h4M3 181h4M56 176h4M30 223h4M7 203h4M21 161h4M17 171h4M19 170h4M9 208h4M5 203h4M66 218h4M13 223h4M65 199h4M37 223h4M19 170h4M19 171h4M67 196h4M64 224h4M10 215h4M15 213h4M2 199h4M14 160h4M5 200h4M53 182h4M31 167h4M64 155h4M39 220h4M43 133h4M27 107h4M66 134h4M40 101h4M44 158h4M18 109h4M65 164h4M75 117h4M55 112h4M53 121h4M46 162h4M49 124h4M43 136h4M31 135h4M55 167h4M3 102h4M41 127h4M57 125h4M17 134h4M65 121h4M72 128h4M50 174h4M67 219h4M27 135h4M60 125h4M26 142h4M40 126h4M33 140h4M42 130h4M29 119h4M16 139h4M39 118h4M43 142h4M54 127h4M59 152h4M3 106h4M57 136h4M56 157h4M21 137h4M66 108h4M76 84h4M36 186h4M36 134h4M51 124h4M59 132h4M29 190h4M57 112h4M4 122h4M27 107h4M54 142h4M27 104h4M56 82h4M56 126h4M82 153h4M30 124h4M36 113h4M44 152h4M10 125h4M73 147h4M25 111h4M24 93h4M66 132h4M27 97h4M34 118h4M78 119h4M44 155h4M56 126h4M4 163h4M46 168h4M22 157h4M43 118h4M45 146h4M41 136h4M56 148h4M34 135h4M3 102h4M22 159h4M30 136h4M38 131h4M36 118h4M5 174h4M46 85h4M23 104h4M27 71h4M54 168h4M37 147h4M55 101h4M67 91h4M30 122h4M68 133h4M39 111h4M44 131h4M57 162h4M57 130h4M39 167h4M46 130h4M79 166h4M54 127h4M29 155h4M33 152h4M26 132h4M50 133h4M47 139h4M19 104h4M39 172h4M39 109h4M28 131h4M67 117h4M54 134h4M35 108h4M39 113h4M53 89h4M65 147h4M54 165h4M55 91h4M43 140h4M28 104h4M51 142h4M108 74h4M106 68h4M117 98h4M81 72h4M155 84h4M122 93h4M95 56h4M80 51h4M124 94h4M108 65h4M127 89h4M124 43h4M105 31h4M124 62h4M103 106h4M148 87h4M124 81h4M105 77h4M162 62h4M103 81h4M139 93h4M96 76h4M112 55h4M120 69h4M139 86h4M100 79h4M110 66h4M107 98h4M109 47h4M100 93h4M167 59h4M110 72h4M86 85h4M117 83h4M169 73h4M136 93h4M103 67h4M154 91h4M121 58h4M138 88h4M168 105h4M136 83h4M119 68h4M125 82h4M133 98h4M125 68h4M137 107h4M99 86h4M131 88h4M130 76h4M116 109h4M158 52h4M60 86h4M103 69h4M81 84h4M117 68h4M139 123h4M152 100h4M109 90h4M117 99h4M131 77h4M131 65h4" stroke="#cb2d10" stroke-width="4" fill="none"/>
</g></g>
<rect x="292.5" y="280.5" width="63" height="57" fill="none" stroke="#3a3a3a" stroke-width=".85"/>
<path d="M312.5 280.5L312.5 337.5" stroke="#222" stroke-width="1" fill="none"/>
<path d="M292.5 317.5L355.5 317.5" stroke="#222" stroke-width="1" fill="none"/>
<text x="294.5" y="286.1" font-size="5.6" text-anchor="start" fill="#262626">11.80</text>
<text x="353.9" y="286.1" font-size="5.6" text-anchor="end" fill="#262626">52.58</text>
<text x="294.7" y="334.4" font-size="5.6" text-anchor="start" fill="#7a1205">35.13</text>
<text x="353.9" y="334.4" font-size="5.6" text-anchor="end" fill="#262626">0.49</text>
<path d="M293.1 337.5v2.2M292.5 336.9h-2.2M297.73 337.5v1M292.5 332.72h-1M300.44 337.5v1M292.5 330.28h-1M302.36 337.5v1M292.5 328.55h-1M303.85 337.5v1M292.5 327.2h-1M305.06 337.5v1M292.5 326.1h-1M306.09 337.5v1M292.5 325.17h-1M306.99 337.5v1M292.5 324.37h-1M307.77 337.5v1M292.5 323.66h-1M308.48 337.5v2.2M292.5 323.02h-2.2M313.1 337.5v1M292.5 318.85h-1M315.81 337.5v1M292.5 316.4h-1M317.73 337.5v1M292.5 314.67h-1M319.22 337.5v1M292.5 313.33h-1M320.44 337.5v1M292.5 312.23h-1M321.47 337.5v1M292.5 311.3h-1M322.36 337.5v1M292.5 310.49h-1M323.15 337.5v1M292.5 309.78h-1M323.85 337.5v2.2M292.5 309.15h-2.2M328.48 337.5v1M292.5 304.97h-1M331.19 337.5v1M292.5 302.53h-1M333.11 337.5v1M292.5 300.8h-1M334.6 337.5v1M292.5 299.45h-1M335.81 337.5v1M292.5 298.35h-1M336.84 337.5v1M292.5 297.42h-1M337.74 337.5v1M292.5 296.62h-1M338.52 337.5v1M292.5 295.91h-1M339.23 337.5v2.2M292.5 295.27h-2.2M343.85 337.5v1M292.5 291.1h-1M346.56 337.5v1M292.5 288.65h-1M348.48 337.5v1M292.5 286.92h-1M349.97 337.5v1M292.5 285.58h-1M351.19 337.5v1M292.5 284.48h-1M352.22 337.5v1M292.5 283.55h-1M353.11 337.5v1M292.5 282.74h-1M353.9 337.5v1M292.5 282.03h-1M354.6 337.5v2.2M292.5 281.4h-2.2" stroke="#333" stroke-width=".45" fill="none"/>
<text x="293.5" y="342.3" font-size="3" text-anchor="middle" fill="#555">10<tspan font-size="2" dy="-1">0</tspan></text>
<text x="290.1" y="336.5" font-size="3" text-anchor="middle" fill="#555" transform="rotate(-90 290.1 336.5)">10<tspan font-size="2" dy="-1">0</tspan></text>
<text x="308.88" y="342.3" font-size="3" text-anchor="middle" fill="#555">10<tspan font-size="2" dy="-1">1</tspan></text>
<text x="290.1" y="322.62" font-size="3" text-anchor="middle" fill="#555" transform="rotate(-90 290.1 322.62)">10<tspan font-size="2" dy="-1">1</tspan></text>
<text x="324.25" y="342.3" font-size="3" text-anchor="middle" fill="#555">10<tspan font-size="2" dy="-1">2</tspan></text>
<text x="290.1" y="308.75" font-size="3" text-anchor="middle" fill="#555" transform="rotate(-90 290.1 308.75)">10<tspan font-size="2" dy="-1">2</tspan></text>
<text x="339.62" y="342.3" font-size="3" text-anchor="middle" fill="#555">10<tspan font-size="2" dy="-1">3</tspan></text>
<text x="290.1" y="294.88" font-size="3" text-anchor="middle" fill="#555" transform="rotate(-90 290.1 294.88)">10<tspan font-size="2" dy="-1">3</tspan></text>
<text x="355" y="342.3" font-size="3" text-anchor="middle" fill="#555">10<tspan font-size="2" dy="-1">4</tspan></text>
<text x="290.1" y="281" font-size="3" text-anchor="middle" fill="#555" transform="rotate(-90 290.1 281)">10<tspan font-size="2" dy="-1">4</tspan></text>
<text x="324" y="346.1" font-size="3.2" text-anchor="middle" fill="#555">Gr1</text>
<text x="284.1" y="311" font-size="3.2" text-anchor="middle" transform="rotate(-90 284.1 311)" fill="#444">CD11b</text>
<clipPath id="k8"><rect x="292.5" y="349.5" width="63" height="56"/></clipPath>
<g clip-path="url(#k8)"><g>
<ellipse cx="300" cy="383.6" rx="6.55" ry="3.96" fill="#cb2d10"/>
<ellipse cx="301.2" cy="395.6" rx="7.5" ry="6.79" fill="#cb2d10"/>
<path transform="translate(292.5 349.5) scale(.25)" d="M37 164h4M50 148h4M42 156h4M3 149h4M7 118h4M70 147h4M25 114h4M20 121h4M63 130h4M49 117h4M43 150h4M60 138h4M17 107h4M4 128h4M2 159h4M64 137h4M39 158h4M75 142h4M33 103h4M51 144h4M26 119h4M52 147h4M24 122h4M59 133h4M2 136h4M4 134h4M55 137h4M55 127h4M76 123h4M4 155h4M5 135h4M60 131h4M20 157h4M64 131h4M4 123h4M13 113h4M25 116h4M2 133h4M56 144h4M55 150h4M24 159h4M61 132h4M36 117h4M10 147h4M41 103h4M58 127h4M46 148h4M4 141h4M2 123h4M69 142h4M47 124h4M8 152h4M41 120h4M52 148h4M2 144h4M43 153h4M3 130h4M13 156h4M5 127h4M45 152h4M65 145h4M9 129h4M3 149h4M62 122h4M12 107h4M20 152h4M34 116h4M3 155h4M22 122h4M47 149h4M2 116h4M9 127h4M55 131h4M48 150h4M11 121h4M36 119h4M4 128h4M50 152h4M57 147h4M11 164h4M27 119h4M7 129h4M63 138h4M13 155h4M2 149h4M58 135h4M69 134h4M47 150h4M55 132h4M2 138h4M6 134h4M20 121h4M42 155h4M10 118h4M50 126h4M60 125h4M54 134h4M36 155h4M38 152h4M5 125h4M5 147h4M47 124h4M66 117h4M39 154h4M53 131h4M37 122h4M73 131h4M33 114h4M4 132h4M60 153h4M2 135h4M55 127h4M40 114h4M19 123h4M24 160h4M3 131h4M5 132h4M58 149h4M3 134h4M4 126h4M4 139h4M5 130h4M70 116h4M9 151h4M57 116h4M69 133h4M7 131h4M21 100h4M13 125h4M52 152h4M6 154h4M38 121h4M66 133h4M25 151h4M71 133h4M4 116h4M55 135h4M26 157h4M5 134h4M54 154h4M21 120h4M26 154h4M20 119h4M49 126h4M3 131h4M59 132h4M13 108h4M54 133h4M46 123h4M47 147h4M10 158h4M24 117h4M3 126h4M11 148h4M62 131h4M39 121h4M2 136h4M5 121h4M44 152h4M55 142h4M2 128h4M45 125h4M4 126h4M24 154h4M59 157h4M48 126h4M47 116h4M4 146h4M70 108h4M6 152h4M21 217h4M7 199h4M3 169h4M25 212h4M58 204h4M72 221h4M9 171h4M8 156h4M52 220h4M4 167h4M55 204h4M24 212h4M9 165h4M32 211h4M16 144h4M20 208h4M68 217h4M19 147h4M80 194h4M51 208h4M10 209h4M2 181h4M54 206h4M41 145h4M18 126h4M16 221h4M51 205h4M22 146h4M3 209h4M72 176h4M61 162h4M3 179h4M67 220h4M2 178h4M16 207h4M68 197h4M13 143h4M64 179h4M3 208h4M21 159h4M3 170h4M22 215h4M54 161h4M5 215h4M12 168h4M55 161h4M33 214h4M24 152h4M22 214h4M56 203h4M59 221h4M57 207h4M15 212h4M66 191h4M29 210h4M10 219h4M24 152h4M17 162h4M51 209h4M62 209h4M64 192h4M13 167h4M19 220h4M6 168h4M34 210h4M54 207h4M3 178h4M11 136h4M5 181h4M23 211h4M52 150h4M23 211h4M26 212h4M46 150h4M2 192h4M47 151h4M62 176h4M41 217h4M44 156h4M49 211h4M33 151h4M37 222h4M66 191h4M45 220h4M59 145h4M35 138h4M44 158h4M6 174h4M65 169h4M10 220h4M52 161h4M70 202h4M2 203h4M39 214h4M3 207h4M98 174h4M22 153h4M37 210h4M22 221h4M64 190h4M64 178h4M2 173h4M85 166h4M36 150h4M70 214h4M4 190h4M14 142h4M64 193h4M76 145h4M63 195h4M78 166h4M26 220h4M27 151h4M24 161h4M9 206h4M5 211h4M6 173h4M54 205h4M2 204h4M25 221h4M74 161h4M22 217h4M3 167h4M4 175h4M64 168h4M12 162h4M6 186h4M4 187h4M2 178h4M31 210h4M34 217h4M59 209h4M27 215h4M3 157h4M66 168h4M66 160h4M4 180h4M59 215h4M85 156h4M78 183h4M29 159h4M44 147h4M5 185h4M42 220h4M17 215h4M62 175h4M75 178h4M59 197h4M65 207h4M48 216h4M82 213h4M37 145h4M2 188h4M3 188h4M34 214h4M38 219h4M29 213h4M3 198h4M49 212h4M3 196h4M62 172h4M29 151h4M19 210h4M29 139h4M27 147h4M39 154h4M62 169h4M36 152h4M80 183h4M2 180h4M51 160h4M59 208h4M28 211h4M65 198h4M26 217h4M70 193h4M71 186h4M61 175h4M53 221h4M10 170h4M13 221h4M12 214h4M59 165h4M6 207h4M9 172h4M16 143h4M45 210h4M52 220h4M61 219h4M11 204h4M59 212h4M15 159h4M55 167h4M63 161h4M3 178h4M59 214h4M50 208h4M65 166h4M38 153h4M11 214h4M66 174h4M47 218h4M5 172h4M47 221h4M13 204h4M69 205h4M3 194h4M22 158h4M24 155h4M65 181h4M48 133h4M67 200h4M72 170h4M16 212h4M68 187h4M4 209h4M49 130h4M71 157h4M14 162h4M61 208h4M4 189h4M30 142h4M69 190h4M68 170h4M16 148h4M73 158h4M65 160h4M41 151h4M17 154h4M2 181h4M35 217h4M62 176h4M70 176h4M55 154h4M3 186h4M7 163h4M23 211h4M68 159h4M38 143h4M26 211h4M19 213h4M54 149h4M4 198h4M2 180h4M87 197h4M63 182h4M17 156h4M16 211h4M4 195h4M3 171h4M59 171h4M26 217h4M54 162h4M8 206h4M31 219h4M63 193h4M62 177h4M68 178h4M58 212h4M3 206h4M60 169h4M4 207h4M76 176h4M74 194h4M8 162h4M80 218h4M4 190h4M47 221h4M3 168h4M80 158h4M70 184h4M28 145h4M78 189h4M63 156h4M78 187h4M2 192h4M17 216h4M28 215h4M63 167h4M83 152h4M36 213h4M40 142h4M93 220h4M104 201h4M113 220h4M87 214h4M128 209h4M137 208h4M110 206h4M99 221h4M101 210h4M95 218h4M103 221h4M92 221h4M125 203h4M107 215h4M85 204h4M97 208h4M108 211h4M96 215h4M107 211h4M90 203h4M84 209h4M90 207h4M76 209h4M117 208h4M113 203h4M122 221h4M92 212h4M86 214h4M104 202h4M124 210h4M94 202h4M121 216h4M115 200h4M106 212h4M117 209h4M103 198h4M110 214h4M106 218h4M84 208h4M90 218h4M112 212h4M108 208h4M92 204h4M108 219h4M111 216h4M109 213h4M113 217h4M108 217h4M109 211h4M108 207h4M112 221h4M89 210h4M88 115h4M85 117h4M59 103h4M91 121h4M104 120h4M78 122h4M94 136h4M85 115h4M94 147h4M103 133h4M105 103h4M93 135h4M83 131h4M95 133h4M53 121h4M16 168h4M25 69h4M92 86h4M122 81h4M61 69h4M7 94h4M56 88h4M24 116h4M61 86h4M58 50h4M47 113h4M5 121h4M49 82h4M84 127h4M76 107h4M111 98h4M44 136h4M38 104h4M83 96h4M85 87h4M50 102h4M62 78h4" stroke="#cb2d10" stroke-width="4" fill="none"/>
</g></g>
<rect x="292.5" y="349.5" width="63" height="56" fill="none" stroke="#3a3a3a" stroke-width=".85"/>
<path d="M310.5 349.5L310.5 405.5" stroke="#222" stroke-width="1" fill="none"/>
<path d="M292.5 387.5L355.5 387.5" stroke="#222" stroke-width="1" fill="none"/>
<text x="294.5" y="355.1" font-size="5.6" text-anchor="start" fill="#262626">12.78</text>
<text x="353.9" y="355.1" font-size="5.6" text-anchor="end" fill="#262626">0.73</text>
<text x="294.7" y="402.4" font-size="5.6" text-anchor="start" fill="#7a1205">82.81</text>
<text x="353.9" y="402.4" font-size="5.6" text-anchor="end" fill="#262626">3.68</text>
<path d="M293.1 405.5v2.2M292.5 404.9h-2.2M297.73 405.5v1M292.5 400.8h-1M300.44 405.5v1M292.5 398.4h-1M302.36 405.5v1M292.5 396.7h-1M303.85 405.5v1M292.5 395.38h-1M305.06 405.5v1M292.5 394.3h-1M306.09 405.5v1M292.5 393.39h-1M306.99 405.5v1M292.5 392.6h-1M307.77 405.5v1M292.5 391.9h-1M308.48 405.5v2.2M292.5 391.27h-2.2M313.1 405.5v1M292.5 387.17h-1M315.81 405.5v1M292.5 384.77h-1M317.73 405.5v1M292.5 383.07h-1M319.22 405.5v1M292.5 381.75h-1M320.44 405.5v1M292.5 380.67h-1M321.47 405.5v1M292.5 379.76h-1M322.36 405.5v1M292.5 378.97h-1M323.15 405.5v1M292.5 378.27h-1M323.85 405.5v2.2M292.5 377.65h-2.2M328.48 405.5v1M292.5 373.55h-1M331.19 405.5v1M292.5 371.15h-1M333.11 405.5v1M292.5 369.45h-1M334.6 405.5v1M292.5 368.13h-1M335.81 405.5v1M292.5 367.05h-1M336.84 405.5v1M292.5 366.14h-1M337.74 405.5v1M292.5 365.35h-1M338.52 405.5v1M292.5 364.65h-1M339.23 405.5v2.2M292.5 364.02h-2.2M343.85 405.5v1M292.5 359.92h-1M346.56 405.5v1M292.5 357.52h-1M348.48 405.5v1M292.5 355.82h-1M349.97 405.5v1M292.5 354.5h-1M351.19 405.5v1M292.5 353.42h-1M352.22 405.5v1M292.5 352.51h-1M353.11 405.5v1M292.5 351.72h-1M353.9 405.5v1M292.5 351.02h-1M354.6 405.5v2.2M292.5 350.4h-2.2" stroke="#333" stroke-width=".45" fill="none"/>
<text x="293.5" y="410.3" font-size="3" text-anchor="middle" fill="#555">10<tspan font-size="2" dy="-1">0</tspan></text>
<text x="290.1" y="404.5" font-size="3" text-anchor="middle" fill="#555" transform="rotate(-90 290.1 404.5)">10<tspan font-size="2" dy="-1">0</tspan></text>
<text x="308.88" y="410.3" font-size="3" text-anchor="middle" fill="#555">10<tspan font-size="2" dy="-1">1</tspan></text>
<text x="290.1" y="390.88" font-size="3" text-anchor="middle" fill="#555" transform="rotate(-90 290.1 390.88)">10<tspan font-size="2" dy="-1">1</tspan></text>
<text x="324.25" y="410.3" font-size="3" text-anchor="middle" fill="#555">10<tspan font-size="2" dy="-1">2</tspan></text>
<text x="290.1" y="377.25" font-size="3" text-anchor="middle" fill="#555" transform="rotate(-90 290.1 377.25)">10<tspan font-size="2" dy="-1">2</tspan></text>
<text x="339.62" y="410.3" font-size="3" text-anchor="middle" fill="#555">10<tspan font-size="2" dy="-1">3</tspan></text>
<text x="290.1" y="363.62" font-size="3" text-anchor="middle" fill="#555" transform="rotate(-90 290.1 363.62)">10<tspan font-size="2" dy="-1">3</tspan></text>
<text x="355" y="410.3" font-size="3" text-anchor="middle" fill="#555">10<tspan font-size="2" dy="-1">4</tspan></text>
<text x="290.1" y="350" font-size="3" text-anchor="middle" fill="#555" transform="rotate(-90 290.1 350)">10<tspan font-size="2" dy="-1">4</tspan></text>
<text x="324" y="414.1" font-size="3.2" text-anchor="middle" fill="#555">CD3</text>
<text x="284.1" y="379.5" font-size="3.2" text-anchor="middle" transform="rotate(-90 284.1 379.5)" fill="#444">B220</text>
<clipPath id="k9"><rect x="292.5" y="419.5" width="63" height="57"/></clipPath>
<g clip-path="url(#k9)"><g>
<ellipse cx="306.2" cy="436.2" rx="7.24" ry="7.24" fill="#cb2d10"/>
<ellipse cx="303.8" cy="466.4" rx="6.94" ry="6.28" fill="#cb2d10"/>
<path transform="translate(292.5 419.5) scale(.25)" d="M80 97h4M29 58h4M10 65h4M26 48h4M30 89h4M40 38h4M48 102h4M68 106h4M18 47h4M10 68h4M16 35h4M47 131h4M41 20h4M57 94h4M32 99h4M7 100h4M78 82h4M82 88h4M89 72h4M61 118h4M106 84h4M77 109h4M82 64h4M15 33h4M25 76h4M47 34h4M7 72h4M9 56h4M116 78h4M45 97h4M27 69h4M80 76h4M26 96h4M59 103h4M51 39h4M32 51h4M89 72h4M37 97h4M104 69h4M9 38h4M92 64h4M59 101h4M105 46h4M32 90h4M36 87h4M11 85h4M54 106h4M44 101h4M89 61h4M92 40h4M87 36h4M33 98h4M67 96h4M29 76h4M58 26h4M16 74h4M38 100h4M99 70h4M84 9h4M75 90h4M66 92h4M85 69h4M75 45h4M83 49h4M26 76h4M68 99h4M14 55h4M97 6h4M84 55h4M27 73h4M99 42h4M81 45h4M10 58h4M26 59h4M91 80h4M21 48h4M66 23h4M71 102h4M54 94h4M40 103h4M67 92h4M87 73h4M92 71h4M26 56h4M82 81h4M43 21h4M16 65h4M36 89h4M13 63h4M107 78h4M46 101h4M23 60h4M87 92h4M68 40h4M34 38h4M18 97h4M104 59h4M47 119h4M71 105h4M26 62h4M75 93h4M26 72h4M22 72h4M40 36h4M60 35h4M72 90h4M85 60h4M95 69h4M21 63h4M31 91h4M84 114h4M14 73h4M41 94h4M97 40h4M54 102h4M27 44h4M20 78h4M64 103h4M85 83h4M85 77h4M57 30h4M60 97h4M87 61h4M29 84h4M87 64h4M20 56h4M92 38h4M87 80h4M78 48h4M48 37h4M27 98h4M29 55h4M63 27h4M82 28h4M73 42h4M85 77h4M68 100h4M4 89h4M65 108h4M33 94h4M84 75h4M75 40h4M40 23h4M27 81h4M52 37h4M26 82h4M41 91h4M53 104h4M14 92h4M31 38h4M97 86h4M29 98h4M38 39h4M68 96h4M52 39h4M85 57h4M28 108h4M25 70h4M99 45h4M93 65h4M55 29h4M77 83h4M14 45h4M19 43h4M93 70h4M57 38h4M63 33h4M76 38h4M47 106h4M39 44h4M28 48h4M23 77h4M52 26h4M82 70h4M83 48h4M78 89h4M40 44h4M66 102h4M8 68h4M89 32h4M124 111h4M69 100h4M104 73h4M84 87h4M64 107h4M55 33h4M62 17h4M43 92h4M85 107h4M46 38h4M82 54h4M3 76h4M33 41h4M23 55h4M36 41h4M47 39h4M79 46h4M108 69h4M29 54h4M43 28h4M95 75h4M79 21h4M87 48h4M46 94h4M107 93h4M91 90h4M26 96h4M18 115h4M28 63h4M94 45h4M19 81h4M24 80h4M39 30h4M90 60h4M4 83h4M90 84h4M23 45h4M32 82h4M32 51h4M33 25h4M88 87h4M27 66h4M80 55h4M75 85h4M46 92h4M61 112h4M27 76h4M37 27h4M31 41h4M16 4h4M24 29h4M43 33h4M3 20h4M40 92h4M26 41h4M30 81h4M85 38h4M72 32h4M63 38h4M43 28h4M44 97h4M59 98h4M71 27h4M105 63h4M46 40h4M17 86h4M28 88h4M89 80h4M77 49h4M78 101h4M13 72h4M69 42h4M117 105h4M36 89h4M25 85h4M84 85h4M89 57h4M24 88h4M50 98h4M101 42h4M90 62h4M58 32h4M22 62h4M20 98h4M57 36h4M86 79h4M27 79h4M24 58h4M68 91h4M38 97h4M78 48h4M47 23h4M50 101h4M19 52h4M60 38h4M71 32h4M82 106h4M66 129h4M29 107h4M58 94h4M76 84h4M39 38h4M81 37h4M80 83h4M47 26h4M82 72h4M61 35h4M18 47h4M39 91h4M84 55h4M69 39h4M10 66h4M13 61h4M26 63h4M47 101h4M82 54h4M87 52h4M39 92h4M46 118h4M63 26h4M40 38h4M78 83h4M31 32h4M90 55h4M50 38h4M39 92h4M64 34h4M85 46h4M52 38h4M10 48h4M73 104h4M62 35h4M26 49h4M82 44h4M41 103h4M28 47h4M72 93h4M66 108h4M37 90h4M56 98h4M60 108h4M83 61h4M33 88h4M42 14h4M79 91h4M26 55h4M22 56h4M18 63h4M29 101h4M28 52h4M24 66h4M25 76h4M49 36h4M24 66h4M81 93h4M92 74h4M16 15h4M9 193h4M41 216h4M63 205h4M28 222h4M7 168h4M34 215h4M70 216h4M8 174h4M28 209h4M9 163h4M79 177h4M73 176h4M11 198h4M71 186h4M66 205h4M73 168h4M56 212h4M78 199h4M28 207h4M49 159h4M28 210h4M75 200h4M35 153h4M4 193h4M4 173h4M73 182h4M11 191h4M77 183h4M64 206h4M51 151h4M25 168h4M70 174h4M57 156h4M79 215h4M22 203h4M25 169h4M8 182h4M50 162h4M73 181h4M44 163h4M16 173h4M29 218h4M44 160h4M16 204h4M82 183h4M79 188h4M63 215h4M38 211h4M23 160h4M65 225h4M61 212h4M16 179h4M75 205h4M71 195h4M7 185h4M52 212h4M73 164h4M88 173h4M37 152h4M100 179h4M2 169h4M57 159h4M4 169h4M75 164h4M64 217h4M31 218h4M45 212h4M74 195h4M47 163h4M42 160h4M88 197h4M76 200h4M23 175h4M61 208h4M83 213h4M77 161h4M14 185h4M67 169h4M20 207h4M44 221h4M59 155h4M72 154h4M37 220h4M15 179h4M59 140h4M35 147h4M66 162h4M55 210h4M10 173h4M4 187h4M68 167h4M73 170h4M25 219h4M8 220h4M35 161h4M71 219h4M2 132h4M35 156h4M18 191h4M74 211h4M75 179h4M93 179h4M19 200h4M88 178h4M75 185h4M19 195h4M42 143h4M69 209h4M21 175h4M17 193h4M70 196h4M14 179h4M14 198h4M64 170h4M15 202h4M78 197h4M16 177h4M17 195h4M72 198h4M21 225h4M51 159h4M26 222h4M68 206h4M72 183h4M42 221h4M53 218h4M85 170h4M72 216h4M79 176h4M14 164h4M90 181h4M23 164h4M46 161h4M18 197h4M25 172h4M70 166h4M88 196h4M4 197h4M68 163h4M60 208h4M22 216h4M3 185h4M17 183h4M71 190h4M30 215h4M71 191h4M76 189h4M18 181h4M69 163h4M2 180h4M19 200h4M28 212h4M20 169h4M3 164h4M16 167h4M45 153h4M70 168h4M85 186h4M31 167h4M70 200h4M55 156h4M6 197h4M81 182h4M37 219h4M65 206h4M97 172h4M31 213h4M31 220h4M21 210h4M86 188h4M31 146h4M56 223h4M93 203h4M27 205h4M88 170h4M84 150h4M21 203h4M23 171h4M45 150h4M9 197h4M62 206h4M44 163h4M69 207h4M25 209h4M57 210h4M22 208h4M47 164h4M15 209h4M85 174h4M61 212h4M17 171h4M50 224h4M17 198h4M60 165h4M26 168h4M39 156h4M37 147h4M46 160h4M73 189h4M36 216h4M2 197h4M66 165h4M5 162h4M35 213h4M38 151h4M4 171h4M80 189h4M72 199h4M86 191h4M8 198h4M57 217h4M42 216h4M68 170h4M14 178h4M59 213h4M23 128h4M64 206h4M63 164h4M18 168h4M82 213h4M15 171h4M10 215h4M57 166h4M8 190h4M15 203h4M44 155h4M19 163h4M66 172h4M30 164h4M64 217h4M56 211h4M60 147h4M29 169h4M61 162h4M65 168h4M79 197h4M81 187h4M28 157h4M40 163h4M41 215h4M7 219h4M56 219h4M40 219h4M18 170h4M48 162h4M35 210h4M59 159h4M60 160h4M80 199h4M14 162h4M67 208h4M96 199h4M39 150h4M4 208h4M64 209h4M11 173h4M53 223h4M86 205h4M31 211h4M4 225h4M55 222h4M48 222h4M107 188h4M41 217h4M72 209h4M61 222h4M7 177h4M26 168h4M79 205h4M7 168h4M77 180h4M27 141h4M24 201h4M56 216h4M43 212h4M58 150h4M38 212h4M17 213h4M44 160h4M15 189h4M67 171h4M22 206h4M78 174h4M44 161h4M67 163h4M35 145h4M72 225h4M20 204h4M19 186h4M71 192h4M36 160h4M60 213h4M74 166h4M59 141h4M23 221h4M66 168h4M12 180h4M79 220h4M51 161h4M29 168h4M51 211h4M83 168h4M158 107h4M143 104h4M156 129h4M147 155h4M82 166h4M196 123h4M151 105h4M154 109h4M150 61h4M120 117h4M201 83h4M147 106h4M78 117h4M150 121h4M133 91h4M114 95h4M112 135h4M71 161h4M141 97h4M185 91h4M154 117h4M87 129h4M139 109h4M79 106h4M120 127h4M116 99h4M114 107h4M144 52h4M213 86h4M143 104h4M127 146h4M213 86h4M108 138h4M109 132h4M102 110h4M147 115h4M153 110h4M133 75h4M137 50h4M73 185h4M171 100h4M131 108h4M137 183h4M79 57h4M111 138h4M166 80h4M177 93h4M156 72h4M107 150h4M95 113h4M120 134h4M156 99h4M121 93h4M237 56h4M188 83h4M131 92h4M188 44h4M104 87h4M130 103h4M71 110h4M95 89h4M103 117h4M138 119h4M123 65h4M169 61h4M185 87h4M137 91h4M177 93h4M173 117h4M165 47h4M53 114h4M203 80h4M162 69h4M150 118h4M106 78h4M123 109h4M195 67h4M121 88h4M157 57h4M100 98h4M82 141h4M150 137h4M104 111h4M143 76h4M132 83h4M102 143h4M145 52h4M149 57h4M155 106h4M154 81h4M112 71h4M162 49h4M153 83h4M204 40h4M112 106h4M128 99h4M189 68h4M138 132h4M199 56h4M200 57h4M108 99h4M177 66h4M174 62h4M175 95h4M151 77h4M146 101h4M89 160h4M96 132h4M175 97h4M171 16h4M118 71h4M108 120h4M149 89h4M113 111h4M123 121h4M139 60h4M159 78h4M66 86h4M22 126h4M37 87h4M25 143h4M34 148h4M30 114h4M30 127h4M66 153h4M41 107h4M45 98h4M56 94h4M23 158h4M88 119h4M58 120h4M21 148h4M32 121h4M39 140h4M47 151h4M62 95h4M4 138h4M40 128h4M27 92h4M40 150h4M33 157h4M8 137h4M81 128h4M39 172h4M74 161h4M42 130h4M52 133h4M99 157h4M52 132h4M52 128h4M53 92h4M67 125h4M60 108h4M50 126h4M56 84h4M69 146h4M26 127h4M88 132h4M70 125h4M63 150h4M24 92h4M50 139h4M65 131h4M21 127h4M76 139h4M85 111h4M41 123h4M15 170h4M65 134h4M68 107h4M23 98h4M44 139h4M7 149h4M45 138h4M100 95h4M23 131h4M79 101h4M58 186h4M79 115h4M64 115h4M70 121h4M64 132h4M73 119h4M54 134h4M26 145h4M48 146h4M30 131h4M36 148h4M61 158h4M26 121h4M18 110h4M25 124h4M68 166h4M45 154h4M63 116h4M42 153h4M35 121h4M56 169h4M18 115h4M44 121h4M57 143h4M41 141h4M60 139h4M45 160h4M31 131h4M66 153h4M86 118h4M48 142h4M17 150h4M5 90h4M46 155h4M7 155h4M45 135h4M62 112h4M34 152h4M49 113h4M60 131h4M58 134h4M21 114h4M61 150h4M27 152h4M64 170h4M38 135h4M38 109h4M70 107h4M38 142h4M76 123h4M32 128h4M56 138h4M36 114h4M57 148h4M25 130h4M33 107h4M71 133h4M59 123h4M32 152h4M21 145h4M60 159h4M58 125h4M47 137h4M17 158h4M75 143h4M71 80h4M36 94h4M63 142h4M31 109h4M3 146h4M42 184h4M7 185h4M11 147h4M69 93h4M40 112h4M13 90h4M57 127h4M30 109h4M21 119h4M46 102h4M53 138h4M64 142h4M62 157h4M29 117h4M25 116h4M12 138h4M42 134h4M40 122h4M15 153h4M71 120h4M59 126h4M31 134h4M2 118h4M33 104h4M41 116h4M48 109h4M6 116h4M4 130h4M34 100h4M46 126h4M15 126h4M124 201h4M100 182h4M96 207h4M121 169h4M119 173h4M132 186h4M134 173h4M153 202h4M124 189h4M69 161h4M63 179h4M108 175h4M131 164h4M131 147h4M107 134h4M138 197h4M97 152h4M133 197h4M88 154h4M140 184h4M123 205h4M122 161h4M96 195h4M180 201h4M100 164h4M116 171h4M148 210h4M129 177h4M195 169h4M167 164h4M122 176h4M72 118h4M134 210h4M97 208h4M109 171h4M115 173h4M124 222h4M132 162h4M88 207h4M83 158h4M126 177h4M120 225h4M113 159h4M135 158h4M139 185h4M72 161h4M111 175h4M183 188h4M135 167h4M152 225h4M142 152h4M144 171h4M86 211h4M99 222h4M99 200h4M138 169h4M120 180h4M203 164h4M115 155h4M157 187h4M112 214h4M103 176h4M115 169h4M126 179h4M122 185h4M135 199h4M106 225h4M116 190h4M86 184h4M145 175h4M93 160h4M107 175h4M111 162h4M114 171h4M160 172h4M118 188h4M125 186h4M100 194h4M117 203h4M140 182h4M160 203h4M142 162h4M182 191h4M131 194h4M188 150h4M104 196h4M120 197h4M150 189h4M195 149h4M119 205h4M139 208h4M130 204h4M122 160h4" stroke="#cb2d10" stroke-width="4" fill="none"/>
</g></g>
<rect x="292.5" y="419.5" width="63" height="57" fill="none" stroke="#3a3a3a" stroke-width=".85"/>
<path d="M315.5 419.5L315.5 476.5" stroke="#222" stroke-width="1" fill="none"/>
<path d="M292.5 451.5L355.5 451.5" stroke="#222" stroke-width="1" fill="none"/>
<text x="294.5" y="425.1" font-size="5.6" text-anchor="start" fill="#262626">59.83</text>
<text x="353.9" y="425.1" font-size="5.6" text-anchor="end" fill="#262626">3.36</text>
<text x="294.7" y="473.4" font-size="5.6" text-anchor="start" fill="#7a1205">33.29</text>
<text x="353.9" y="473.4" font-size="5.6" text-anchor="end" fill="#262626">3.52</text>
<path d="M293.1 476.5v2.2M292.5 475.9h-2.2M297.73 476.5v1M292.5 471.72h-1M300.44 476.5v1M292.5 469.28h-1M302.36 476.5v1M292.5 467.55h-1M303.85 476.5v1M292.5 466.2h-1M305.06 476.5v1M292.5 465.1h-1M306.09 476.5v1M292.5 464.17h-1M306.99 476.5v1M292.5 463.37h-1M307.77 476.5v1M292.5 462.66h-1M308.48 476.5v2.2M292.5 462.02h-2.2M313.1 476.5v1M292.5 457.85h-1M315.81 476.5v1M292.5 455.4h-1M317.73 476.5v1M292.5 453.67h-1M319.22 476.5v1M292.5 452.33h-1M320.44 476.5v1M292.5 451.23h-1M321.47 476.5v1M292.5 450.3h-1M322.36 476.5v1M292.5 449.49h-1M323.15 476.5v1M292.5 448.78h-1M323.85 476.5v2.2M292.5 448.15h-2.2M328.48 476.5v1M292.5 443.97h-1M331.19 476.5v1M292.5 441.53h-1M333.11 476.5v1M292.5 439.8h-1M334.6 476.5v1M292.5 438.45h-1M335.81 476.5v1M292.5 437.35h-1M336.84 476.5v1M292.5 436.42h-1M337.74 476.5v1M292.5 435.62h-1M338.52 476.5v1M292.5 434.91h-1M339.23 476.5v2.2M292.5 434.27h-2.2M343.85 476.5v1M292.5 430.1h-1M346.56 476.5v1M292.5 427.65h-1M348.48 476.5v1M292.5 425.92h-1M349.97 476.5v1M292.5 424.58h-1M351.19 476.5v1M292.5 423.48h-1M352.22 476.5v1M292.5 422.55h-1M353.11 476.5v1M292.5 421.74h-1M353.9 476.5v1M292.5 421.03h-1M354.6 476.5v2.2M292.5 420.4h-2.2" stroke="#333" stroke-width=".45" fill="none"/>
<text x="293.5" y="481.3" font-size="3" text-anchor="middle" fill="#555">10<tspan font-size="2" dy="-1">0</tspan></text>
<text x="290.1" y="475.5" font-size="3" text-anchor="middle" fill="#555" transform="rotate(-90 290.1 475.5)">10<tspan font-size="2" dy="-1">0</tspan></text>
<text x="308.88" y="481.3" font-size="3" text-anchor="middle" fill="#555">10<tspan font-size="2" dy="-1">1</tspan></text>
<text x="290.1" y="461.62" font-size="3" text-anchor="middle" fill="#555" transform="rotate(-90 290.1 461.62)">10<tspan font-size="2" dy="-1">1</tspan></text>
<text x="324.25" y="481.3" font-size="3" text-anchor="middle" fill="#555">10<tspan font-size="2" dy="-1">2</tspan></text>
<text x="290.1" y="447.75" font-size="3" text-anchor="middle" fill="#555" transform="rotate(-90 290.1 447.75)">10<tspan font-size="2" dy="-1">2</tspan></text>
<text x="339.62" y="481.3" font-size="3" text-anchor="middle" fill="#555">10<tspan font-size="2" dy="-1">3</tspan></text>
<text x="290.1" y="433.88" font-size="3" text-anchor="middle" fill="#555" transform="rotate(-90 290.1 433.88)">10<tspan font-size="2" dy="-1">3</tspan></text>
<text x="355" y="481.3" font-size="3" text-anchor="middle" fill="#555">10<tspan font-size="2" dy="-1">4</tspan></text>
<text x="290.1" y="420" font-size="3" text-anchor="middle" fill="#555" transform="rotate(-90 290.1 420)">10<tspan font-size="2" dy="-1">4</tspan></text>
<text x="324" y="485.1" font-size="3.2" text-anchor="middle" fill="#555">c-kit</text>
<text x="284.1" y="450" font-size="3.2" text-anchor="middle" transform="rotate(-90 284.1 450)" fill="#444">CD11b</text>
<clipPath id="k10"><rect x="390.5" y="280.5" width="62" height="57"/></clipPath>
<g clip-path="url(#k10)"><g>
<ellipse cx="421" cy="292" rx="9.91" ry="3.63" fill="#cb2d10"/>
<ellipse cx="431" cy="299.5" rx="5.83" ry="9.32" fill="#cb2d10"/>
<path transform="translate(390.5 280.5) scale(.25)" d="M142 28h4M122 72h4M147 35h4M106 32h4M154 59h4M196 43h4M82 63h4M75 36h4M70 46h4M148 62h4M116 60h4M91 31h4M167 47h4M151 35h4M52 56h4M113 24h4M85 28h4M90 35h4M98 35h4M148 21h4M71 54h4M110 25h4M182 53h4M130 20h4M69 33h4M181 46h4M76 50h4M85 53h4M96 57h4M77 33h4M150 35h4M124 31h4M113 62h4M97 60h4M105 31h4M142 20h4M167 45h4M172 54h4M120 32h4M139 22h4M131 63h4M178 43h4M143 35h4M71 43h4M128 20h4M71 38h4M91 54h4M77 33h4M157 62h4M112 32h4M108 16h4M146 63h4M160 66h4M137 60h4M53 34h4M140 59h4M132 25h4M149 65h4M63 44h4M157 56h4M87 28h4M87 65h4M94 36h4M145 59h4M168 55h4M176 48h4M89 66h4M63 24h4M109 65h4M94 37h4M132 17h4M101 34h4M161 49h4M78 47h4M154 57h4M140 28h4M86 39h4M77 45h4M96 35h4M105 65h4M140 59h4M160 48h4M64 53h4M144 30h4M100 59h4M81 44h4M57 36h4M81 50h4M86 58h4M136 24h4M187 45h4M84 52h4M154 26h4M122 28h4M87 55h4M147 70h4M80 60h4M87 37h4M203 38h4M76 42h4M145 35h4M150 57h4M69 52h4M103 58h4M132 25h4M165 51h4M66 51h4M162 59h4M66 51h4M67 36h4M181 59h4M123 26h4M219 51h4M92 34h4M122 23h4M84 42h4M148 61h4M167 74h4M105 63h4M164 48h4M84 54h4M162 50h4M48 43h4M74 49h4M130 30h4M156 52h4M148 75h4M83 37h4M166 50h4M174 39h4M64 47h4M62 39h4M44 48h4M120 31h4M166 45h4M123 61h4M106 27h4M78 48h4M124 27h4M135 32h4M119 29h4M72 43h4M139 61h4M72 32h4M133 31h4M169 34h4M96 64h4M150 37h4M114 62h4M153 37h4M152 30h4M102 24h4M158 53h4M107 28h4M155 37h4M76 42h4M116 80h4M170 46h4M157 37h4M164 38h4M94 73h4M159 53h4M140 27h4M94 32h4M123 64h4M106 34h4M118 61h4M151 37h4M145 30h4M169 57h4M84 41h4M153 38h4M184 47h4M58 45h4M86 33h4M90 29h4M44 50h4M158 31h4M144 60h4M77 45h4M128 59h4M73 36h4M116 63h4M76 47h4M95 37h4M135 63h4M84 44h4M100 70h4M78 46h4M107 67h4M161 41h4M83 45h4M144 32h4M143 33h4M81 29h4M117 19h4M112 63h4M70 36h4M84 43h4M66 40h4M92 56h4M72 41h4M73 61h4M148 32h4M158 38h4M103 71h4M90 57h4M162 68h4M147 68h4M145 33h4M160 51h4M160 52h4M133 32h4M164 54h4M151 57h4M123 24h4M80 39h4M161 58h4M97 33h4M155 28h4M160 48h4M160 39h4M71 30h4M122 60h4M91 63h4M153 30h4M165 48h4M97 34h4M158 56h4M92 37h4M129 30h4M103 33h4M127 31h4M97 33h4M104 26h4M49 56h4M158 43h4M122 25h4M83 29h4M106 24h4M153 55h4M105 66h4M90 63h4M159 52h4M148 68h4M173 51h4M163 52h4M114 28h4M99 29h4M89 55h4M176 48h4M165 28h4M159 45h4M132 31h4M135 27h4M165 40h4M195 104h4M176 104h4M158 139h4M169 126h4M138 58h4M173 39h4M169 114h4M160 117h4M167 137h4M188 75h4M184 24h4M160 38h4M139 71h4M179 44h4M189 76h4M139 44h4M150 110h4M144 140h4M183 83h4M177 109h4M194 50h4M135 46h4M161 33h4M179 102h4M190 66h4M148 114h4M142 120h4M180 111h4M190 93h4M166 26h4M137 21h4M140 86h4M158 119h4M152 116h4M152 117h4M119 102h4M164 41h4M156 40h4M186 65h4M134 53h4M192 70h4M173 37h4M137 67h4M175 109h4M192 72h4M187 52h4M176 31h4M169 43h4M193 80h4M182 100h4M144 103h4M138 80h4M174 11h4M137 90h4M127 89h4M148 44h4M181 114h4M135 94h4M143 114h4M189 102h4M174 131h4M127 86h4M144 46h4M164 38h4M156 112h4M139 74h4M131 73h4M172 44h4M157 34h4M146 107h4M208 88h4M190 105h4M192 57h4M142 40h4M153 39h4M171 110h4M190 40h4M158 111h4M138 82h4M140 37h4M149 106h4M142 99h4M160 30h4M174 39h4M146 39h4M188 81h4M202 56h4M183 102h4M143 111h4M160 125h4M190 110h4M139 88h4M137 40h4M130 71h4M138 64h4M131 56h4M137 63h4M140 71h4M200 131h4M151 46h4M187 58h4M155 38h4M142 111h4M186 38h4M142 97h4M128 79h4M185 82h4M130 65h4M147 104h4M168 116h4M131 86h4M180 98h4M172 126h4M159 117h4M192 57h4M185 55h4M159 112h4M189 79h4M139 90h4M169 111h4M185 78h4M155 147h4M153 17h4M139 90h4M170 37h4M161 111h4M150 129h4M182 108h4M189 79h4M173 141h4M133 76h4M188 37h4M144 31h4M176 106h4M184 46h4M161 41h4M177 36h4M147 119h4M184 65h4M140 86h4M170 35h4M195 70h4M132 67h4M168 27h4M160 39h4M174 117h4M183 62h4M149 115h4M149 109h4M175 43h4M185 86h4M127 92h4M130 75h4M148 48h4M140 59h4M184 81h4M178 116h4M164 34h4M141 97h4M143 111h4M147 41h4M144 56h4M165 114h4M181 93h4M160 113h4M138 66h4M149 111h4M137 73h4M167 112h4M174 114h4M176 151h4M138 83h4M183 57h4M175 13h4M141 44h4M142 92h4M182 108h4M188 45h4M153 109h4M138 95h4M197 89h4M167 27h4M141 37h4M172 31h4M169 34h4M197 67h4M152 45h4M136 62h4M172 112h4M141 64h4M198 93h4M176 46h4M147 106h4M182 60h4M130 73h4M188 87h4M162 33h4M161 114h4M189 75h4M151 145h4M173 107h4M175 41h4M142 41h4M134 95h4M149 37h4M188 30h4M178 100h4M177 105h4M180 139h4M179 113h4M153 30h4M177 135h4M157 33h4M179 48h4M175 111h4M138 61h4M183 58h4M127 19h4M168 40h4M134 72h4M160 38h4M165 35h4M144 52h4M133 87h4M174 113h4M166 41h4M175 113h4M181 51h4M188 52h4M189 121h4M178 112h4M160 28h4M134 91h4M159 114h4M139 65h4M177 117h4M176 41h4M166 42h4M185 84h4M168 136h4M142 44h4M154 43h4M146 40h4M154 111h4M156 18h4M186 67h4M137 36h4M160 17h4M170 128h4M171 112h4M141 95h4M174 46h4M147 45h4M150 32h4M195 60h4M128 91h4M182 91h4M177 106h4M141 114h4M151 139h4M157 119h4M190 68h4M190 69h4M153 108h4M170 110h4M158 41h4M178 47h4M162 120h4M156 118h4M132 61h4M197 56h4M159 31h4M157 33h4M141 42h4M130 83h4M153 31h4M169 19h4M191 86h4M178 113h4M164 26h4M135 102h4M183 60h4M179 106h4M145 112h4M127 66h4M127 61h4M165 115h4M142 51h4M66 42h4M43 108h4M43 36h4M14 95h4M22 118h4M56 60h4M34 74h4M21 75h4M11 59h4M96 50h4M16 74h4M82 58h4M25 80h4M44 127h4M66 101h4M37 58h4M57 88h4M39 74h4M54 61h4M21 41h4M40 73h4M60 94h4M19 87h4M39 97h4M53 69h4M43 90h4M22 90h4M33 45h4M36 52h4M34 158h4M70 127h4M49 58h4M33 65h4M3 85h4M15 99h4M33 81h4M22 62h4M30 99h4M38 52h4M5 98h4M37 67h4M44 103h4M26 74h4M47 20h4M23 27h4M60 70h4M26 83h4M35 92h4M57 78h4M16 164h4M56 96h4M39 38h4M34 62h4M52 45h4M28 80h4M33 124h4M61 137h4M24 86h4M43 46h4M39 130h4M27 31h4M36 37h4M45 96h4M93 70h4M11 132h4M45 81h4M57 64h4M15 77h4M35 47h4M12 75h4M79 29h4M49 60h4M21 23h4M31 62h4M29 86h4M46 95h4M82 135h4M29 72h4M9 121h4M40 94h4M45 69h4M27 49h4M44 150h4M48 59h4M20 100h4M48 14h4M56 70h4M67 71h4M14 84h4M22 45h4M30 98h4M68 92h4M30 127h4M23 45h4M43 74h4M54 67h4M44 75h4M27 103h4M29 41h4M37 106h4M39 82h4M42 101h4M48 59h4M8 113h4M81 84h4M24 34h4M44 69h4M10 29h4M26 98h4M56 64h4M12 44h4M44 109h4M36 26h4M41 97h4M19 35h4M5 84h4M8 88h4M39 100h4M32 70h4M25 62h4M37 111h4M61 94h4M16 72h4M9 77h4M31 121h4M36 108h4M4 22h4M37 90h4M33 47h4M26 64h4M26 32h4M52 52h4M44 76h4M19 55h4M51 67h4M31 110h4M69 67h4M17 111h4M25 37h4M52 96h4M83 59h4M48 97h4M49 119h4M23 41h4M38 101h4M59 75h4M2 113h4M33 96h4M34 66h4M57 77h4M3 76h4M23 72h4M60 65h4M38 74h4M29 66h4M61 78h4M16 91h4M54 82h4M45 125h4M12 107h4M47 64h4M71 110h4M12 38h4M48 45h4M25 77h4M49 55h4M33 64h4M52 63h4M35 74h4M40 76h4M31 172h4M35 49h4M22 91h4M21 66h4M32 59h4M23 98h4M41 35h4M48 70h4M27 56h4M84 52h4M40 45h4M37 115h4M31 83h4M47 102h4M19 71h4M70 81h4M10 82h4M68 84h4M30 72h4M45 23h4M45 53h4M33 41h4M41 93h4M49 125h4M3 102h4M5 102h4M69 79h4M63 48h4M72 134h4M56 78h4M48 65h4M41 78h4M35 106h4M43 75h4M21 70h4M17 94h4M35 95h4M14 76h4M61 118h4M52 103h4M44 86h4M48 95h4M7 91h4M25 35h4M68 33h4M74 97h4M36 89h4M36 58h4M24 52h4M38 105h4M40 66h4M50 85h4M50 91h4M50 65h4M38 119h4M61 114h4M52 31h4M63 112h4M49 69h4M38 14h4M52 43h4M53 60h4M59 112h4M5 80h4M19 51h4M36 34h4M22 108h4M28 98h4M49 55h4M35 92h4M56 59h4M36 64h4M48 83h4M60 119h4M57 87h4M83 85h4M50 38h4M82 66h4M17 80h4M11 60h4M31 72h4M18 64h4M36 82h4M29 97h4M13 102h4M39 95h4M65 107h4M69 100h4M35 117h4M18 96h4M25 115h4M42 119h4M47 112h4M47 44h4M40 125h4M13 106h4M60 18h4M59 35h4M45 81h4M43 104h4M40 77h4M42 73h4M60 143h4M35 41h4M83 72h4M28 52h4M35 88h4M30 86h4M61 70h4M41 104h4M30 82h4M64 104h4M45 101h4M25 83h4M24 116h4M72 71h4M32 34h4M43 76h4M51 53h4M8 91h4M88 73h4M23 66h4M56 6h4M35 109h4M53 29h4M30 47h4M5 90h4M27 100h4M37 62h4M55 65h4M34 66h4M92 92h4M37 108h4M57 68h4M49 96h4M21 78h4M70 123h4M39 140h4M54 88h4M44 113h4M34 61h4M20 124h4M61 45h4M20 8h4M34 93h4M31 117h4M43 48h4M19 102h4M13 67h4M16 76h4M25 62h4M14 116h4M47 56h4M44 111h4M28 97h4M55 99h4M23 94h4M34 56h4M20 115h4M53 95h4M59 90h4M3 65h4M38 111h4M32 106h4M16 147h4M38 85h4M31 80h4M37 62h4M65 56h4M18 50h4M31 65h4M27 92h4M30 70h4M15 61h4M32 77h4M22 75h4M14 93h4M4 82h4M28 53h4M25 71h4M31 47h4M19 68h4M29 111h4M25 48h4M13 26h4M28 78h4M21 81h4M23 99h4M18 37h4M24 51h4M32 77h4M24 23h4M40 76h4M32 107h4M14 90h4M17 80h4M22 37h4M10 33h4M26 103h4M18 75h4M20 81h4M26 59h4M26 78h4M17 44h4M29 88h4M20 89h4M28 78h4M20 32h4M25 113h4M9 65h4M18 52h4M19 52h4M22 55h4M41 91h4M22 77h4M30 54h4M17 68h4M26 54h4M18 81h4M26 43h4M24 110h4M26 59h4M10 73h4M23 81h4M27 32h4M32 42h4M24 66h4M15 72h4M14 106h4M8 65h4M9 55h4M22 90h4M22 90h4M20 47h4M23 55h4M6 122h4M21 78h4M16 55h4M15 61h4M5 84h4M11 75h4M12 78h4M22 84h4M9 49h4M14 74h4M10 77h4M28 72h4M16 65h4M24 23h4M19 29h4M23 76h4M27 72h4M17 61h4M19 21h4M16 102h4M33 103h4M15 52h4M26 51h4M20 22h4M29 106h4M23 42h4M23 63h4M15 112h4M31 88h4M33 65h4M17 76h4M30 66h4M18 62h4M17 39h4M6 78h4M31 94h4M17 16h4M30 76h4M15 91h4M4 81h4M7 69h4M18 40h4M24 47h4M18 70h4M22 98h4M16 73h4M13 58h4M7 82h4M26 77h4M21 43h4M19 64h4M21 60h4M25 115h4M4 37h4M14 52h4M11 37h4M42 46h4M24 61h4M25 43h4M24 63h4M28 66h4M33 20h4M9 68h4M17 31h4M22 111h4M38 72h4M24 64h4M28 76h4M27 85h4M21 32h4M13 63h4M23 35h4M10 49h4M13 62h4M27 85h4M14 108h4M15 84h4M13 199h4M44 178h4M48 208h4M24 200h4M11 183h4M42 178h4M38 170h4M63 178h4M62 181h4M31 194h4M18 179h4M34 174h4M61 222h4M26 203h4M59 182h4M28 189h4M41 185h4M37 183h4M25 165h4M41 209h4M24 175h4M43 173h4M38 186h4M23 148h4M50 226h4M44 203h4M2 175h4M13 159h4M44 192h4M3 166h4M33 201h4M10 213h4M38 188h4M48 185h4M52 112h4M30 214h4M2 185h4M30 194h4M4 185h4M40 204h4M23 189h4M46 196h4M8 182h4M45 185h4M64 181h4M16 213h4M78 184h4M2 177h4M30 169h4M13 187h4M46 175h4M22 183h4M64 223h4M3 166h4M45 198h4M47 167h4M51 189h4M45 205h4M25 187h4M28 209h4M57 166h4M39 166h4M37 134h4M43 190h4M30 164h4M48 184h4M36 170h4M38 195h4M12 182h4M50 179h4M39 199h4M54 223h4M39 217h4M33 164h4M53 195h4M2 183h4M44 129h4M16 167h4M20 199h4M38 186h4M13 223h4M2 195h4M35 198h4M8 201h4M38 215h4M52 195h4M46 212h4M44 169h4M51 206h4M32 163h4M23 214h4M26 142h4M33 194h4M53 163h4M32 222h4M25 188h4M22 199h4M16 168h4M54 214h4M41 174h4M44 173h4M50 215h4M47 190h4M18 194h4M4 171h4M39 197h4M30 186h4M51 187h4M6 207h4M39 203h4M45 199h4M24 203h4M38 161h4M62 209h4M44 214h4M61 192h4M3 185h4M34 196h4M23 223h4M26 201h4M15 164h4M64 217h4M26 199h4M22 184h4M40 164h4M3 172h4M27 167h4M17 188h4M26 179h4M37 172h4M23 213h4M32 173h4M9 181h4M3 182h4M46 183h4M46 225h4M33 151h4M39 151h4M9 202h4M32 185h4M15 185h4M30 180h4M55 210h4M54 198h4M2 180h4M23 193h4M30 196h4M34 180h4M21 171h4M28 179h4M41 162h4M31 171h4M32 207h4M28 193h4M34 214h4M5 140h4M22 188h4M40 204h4M43 177h4M19 207h4M2 178h4M20 188h4M12 158h4M25 181h4M22 189h4M31 187h4M31 208h4M51 213h4M92 196h4M40 174h4M18 183h4M23 192h4M37 221h4M49 204h4M44 156h4M39 177h4M34 161h4M40 209h4M17 191h4M5 182h4M16 184h4M26 165h4M30 180h4M32 197h4M31 155h4M52 187h4M61 188h4M36 167h4M58 171h4M30 197h4M7 181h4M25 197h4M25 186h4M27 193h4M40 164h4M38 167h4M8 183h4M26 169h4M47 183h4M43 206h4M28 223h4M10 184h4M24 174h4M30 165h4M19 223h4M2 207h4M9 169h4M22 226h4M3 181h4M38 184h4M4 185h4M24 189h4M34 160h4M30 174h4M43 185h4M4 210h4M20 187h4M14 194h4M15 170h4M42 190h4M53 165h4M28 191h4M13 174h4M20 190h4M43 166h4M11 169h4M71 195h4M13 188h4M14 170h4M65 191h4M5 219h4M15 163h4M51 181h4M23 174h4M26 184h4M76 194h4M59 160h4M53 218h4M41 199h4M54 195h4M5 188h4M32 177h4M22 208h4M16 189h4M3 169h4M28 194h4M48 175h4M27 156h4M47 131h4M9 223h4M20 174h4M11 174h4M34 180h4M23 168h4M29 211h4M33 180h4M50 186h4M37 150h4M14 171h4M22 209h4M22 151h4M21 172h4M26 167h4M55 188h4M23 166h4M24 195h4M14 167h4M30 179h4M83 151h4M32 166h4M43 185h4M43 179h4M67 119h4M51 105h4M50 113h4M49 152h4M32 113h4M30 115h4M33 158h4M48 167h4M52 96h4M14 121h4M98 120h4M21 154h4M17 120h4M39 130h4M39 152h4M46 119h4M51 126h4M28 136h4M49 157h4M54 119h4M32 97h4M52 116h4M60 116h4M16 118h4M50 123h4M26 124h4M17 146h4M42 116h4M41 151h4M25 134h4M68 123h4M24 125h4M34 93h4M82 117h4M63 156h4M62 116h4M12 101h4M61 125h4M13 123h4M67 133h4M8 162h4M23 160h4M25 114h4M47 155h4M53 162h4M32 111h4M45 132h4M84 162h4M23 126h4M2 112h4M52 146h4M12 157h4M62 128h4M42 127h4M54 103h4M39 160h4M41 151h4M52 128h4M83 124h4M39 143h4M49 133h4M27 118h4M64 144h4M57 137h4M24 113h4M21 114h4M53 111h4M28 82h4M95 106h4M26 51h4M73 115h4M68 126h4M67 144h4M54 124h4M23 126h4M24 127h4M49 115h4M56 122h4M92 119h4M26 126h4M4 123h4M71 109h4M37 96h4M40 129h4M62 123h4M33 153h4M81 138h4M49 108h4M40 102h4M35 117h4M11 112h4M6 106h4M6 119h4M60 97h4M39 144h4M3 121h4M54 156h4M45 121h4M66 83h4M27 110h4M55 106h4M30 95h4M30 117h4M37 111h4M25 140h4M70 146h4M75 142h4M16 164h4M42 143h4M59 110h4M49 82h4M66 136h4M37 171h4M5 124h4M29 141h4M49 133h4M48 165h4M44 183h4M66 151h4M13 153h4M9 133h4M11 172h4M64 160h4M32 156h4M59 185h4M22 153h4M17 174h4M54 136h4M25 159h4M70 180h4M39 101h4M18 124h4M48 176h4M45 164h4M65 162h4M44 138h4M33 137h4M33 153h4M54 128h4M77 143h4M35 128h4M57 121h4M16 144h4M41 140h4M29 124h4M50 147h4M6 225h4M3 131h4M6 124h4M85 133h4M4 129h4M40 148h4M52 97h4M25 138h4M18 95h4M57 135h4M47 180h4M54 84h4M91 122h4M42 167h4M22 113h4M36 149h4M30 150h4M42 86h4M52 115h4M81 122h4M42 146h4M17 163h4M56 119h4M3 155h4M43 145h4M27 182h4M72 136h4M25 129h4M45 135h4M34 121h4M110 158h4M132 60h4M113 87h4M91 89h4M114 84h4M111 105h4M108 58h4M126 39h4M96 83h4M101 72h4M129 78h4M135 11h4M114 103h4M91 109h4M99 82h4M140 62h4M134 67h4M140 87h4M120 72h4M106 107h4M93 67h4M115 66h4M81 68h4M92 72h4M124 73h4M130 112h4M111 79h4M66 88h4M138 117h4M148 117h4M89 53h4M139 44h4M93 113h4M98 92h4M128 96h4M91 94h4M157 90h4M122 72h4M126 47h4M116 79h4M127 88h4M142 95h4M125 81h4M176 90h4M78 66h4M124 68h4M101 123h4M120 79h4M94 97h4M110 86h4M132 91h4M101 66h4M117 43h4M160 101h4M128 79h4M68 114h4M148 45h4M94 68h4M141 88h4M103 98h4M116 80h4M116 62h4M114 69h4M119 63h4M106 83h4M79 56h4M101 85h4M84 104h4M94 91h4M120 98h4M101 86h4M116 93h4M161 35h4M160 65h4M133 66h4M115 74h4M82 55h4M116 105h4M100 50h4M107 97h4M134 87h4M102 84h4M99 65h4M151 106h4M117 50h4M124 55h4M92 48h4M123 35h4M129 82h4M145 107h4M75 72h4M107 72h4M109 70h4M105 85h4M101 61h4M83 78h4M120 71h4M122 64h4M162 75h4M127 91h4M77 78h4M161 74h4M86 78h4M104 101h4M111 64h4M149 93h4M69 61h4M124 75h4M78 75h4M145 65h4M95 91h4M143 77h4M114 52h4M112 108h4M124 44h4M95 50h4M97 87h4M138 94h4M85 78h4M120 76h4M89 108h4M126 75h4M114 91h4M167 85h4M128 89h4M147 54h4M143 88h4M104 69h4M105 78h4M97 71h4M99 96h4" stroke="#cb2d10" stroke-width="4" fill="none"/>
</g></g>
<rect x="390.5" y="280.5" width="62" height="57" fill="none" stroke="#3a3a3a" stroke-width=".85"/>
<path d="M410.5 280.5L410.5 337.5" stroke="#222" stroke-width="1" fill="none"/>
<path d="M390.5 317.5L452.5 317.5" stroke="#222" stroke-width="1" fill="none"/>
<text x="392.5" y="286.1" font-size="5.6" text-anchor="start" fill="#262626">15.96</text>
<text x="450.9" y="286.1" font-size="5.6" text-anchor="end" fill="#262626">71.04</text>
<text x="392.7" y="334.4" font-size="5.6" text-anchor="start" fill="#7a1205">12.85</text>
<text x="450.9" y="334.4" font-size="5.6" text-anchor="end" fill="#262626">0.15</text>
<path d="M391.1 337.5v2.2M390.5 336.9h-2.2M395.65 337.5v1M390.5 332.72h-1M398.32 337.5v1M390.5 330.28h-1M400.21 337.5v1M390.5 328.55h-1M401.67 337.5v1M390.5 327.2h-1M402.87 337.5v1M390.5 326.1h-1M403.88 337.5v1M390.5 325.17h-1M404.76 337.5v1M390.5 324.37h-1M405.53 337.5v1M390.5 323.66h-1M406.23 337.5v2.2M390.5 323.02h-2.2M410.78 337.5v1M390.5 318.85h-1M413.44 337.5v1M390.5 316.4h-1M415.33 337.5v1M390.5 314.67h-1M416.8 337.5v1M390.5 313.33h-1M417.99 337.5v1M390.5 312.23h-1M419.01 337.5v1M390.5 311.3h-1M419.88 337.5v1M390.5 310.49h-1M420.66 337.5v1M390.5 309.78h-1M421.35 337.5v2.2M390.5 309.15h-2.2M425.9 337.5v1M390.5 304.97h-1M428.57 337.5v1M390.5 302.53h-1M430.46 337.5v1M390.5 300.8h-1M431.92 337.5v1M390.5 299.45h-1M433.12 337.5v1M390.5 298.35h-1M434.13 337.5v1M390.5 297.42h-1M435.01 337.5v1M390.5 296.62h-1M435.78 337.5v1M390.5 295.91h-1M436.48 337.5v2.2M390.5 295.27h-2.2M441.03 337.5v1M390.5 291.1h-1M443.69 337.5v1M390.5 288.65h-1M445.58 337.5v1M390.5 286.92h-1M447.05 337.5v1M390.5 285.58h-1M448.24 337.5v1M390.5 284.48h-1M449.26 337.5v1M390.5 283.55h-1M450.13 337.5v1M390.5 282.74h-1M450.91 337.5v1M390.5 282.03h-1M451.6 337.5v2.2M390.5 281.4h-2.2" stroke="#333" stroke-width=".45" fill="none"/>
<text x="391.5" y="342.3" font-size="3" text-anchor="middle" fill="#555">10<tspan font-size="2" dy="-1">0</tspan></text>
<text x="388.1" y="336.5" font-size="3" text-anchor="middle" fill="#555" transform="rotate(-90 388.1 336.5)">10<tspan font-size="2" dy="-1">0</tspan></text>
<text x="406.62" y="342.3" font-size="3" text-anchor="middle" fill="#555">10<tspan font-size="2" dy="-1">1</tspan></text>
<text x="388.1" y="322.62" font-size="3" text-anchor="middle" fill="#555" transform="rotate(-90 388.1 322.62)">10<tspan font-size="2" dy="-1">1</tspan></text>
<text x="421.75" y="342.3" font-size="3" text-anchor="middle" fill="#555">10<tspan font-size="2" dy="-1">2</tspan></text>
<text x="388.1" y="308.75" font-size="3" text-anchor="middle" fill="#555" transform="rotate(-90 388.1 308.75)">10<tspan font-size="2" dy="-1">2</tspan></text>
<text x="436.88" y="342.3" font-size="3" text-anchor="middle" fill="#555">10<tspan font-size="2" dy="-1">3</tspan></text>
<text x="388.1" y="294.88" font-size="3" text-anchor="middle" fill="#555" transform="rotate(-90 388.1 294.88)">10<tspan font-size="2" dy="-1">3</tspan></text>
<text x="452" y="342.3" font-size="3" text-anchor="middle" fill="#555">10<tspan font-size="2" dy="-1">4</tspan></text>
<text x="388.1" y="281" font-size="3" text-anchor="middle" fill="#555" transform="rotate(-90 388.1 281)">10<tspan font-size="2" dy="-1">4</tspan></text>
<text x="421.5" y="346.1" font-size="3.2" text-anchor="middle" fill="#555">Gr1</text>
<text x="382.1" y="311" font-size="3.2" text-anchor="middle" transform="rotate(-90 382.1 311)" fill="#444">CD11b</text>
<clipPath id="k11"><rect x="390.5" y="349.5" width="62" height="56"/></clipPath>
<g clip-path="url(#k11)"><g>
<ellipse cx="398.6" cy="397.4" rx="8.15" ry="6.44" fill="#cb2d10"/>
<path transform="translate(390.5 349.5) scale(.25)" d="M8 171h4M64 207h4M85 187h4M3 203h4M71 191h4M64 203h4M3 210h4M70 183h4M66 186h4M44 216h4M68 186h4M18 221h4M4 211h4M82 220h4M2 177h4M58 221h4M45 216h4M72 181h4M24 221h4M5 217h4M77 196h4M17 152h4M3 194h4M4 184h4M30 167h4M45 157h4M14 211h4M66 173h4M4 206h4M4 153h4M2 203h4M36 216h4M54 219h4M3 204h4M5 204h4M53 165h4M20 153h4M17 220h4M19 218h4M50 154h4M7 174h4M4 209h4M62 181h4M3 167h4M4 178h4M26 162h4M12 172h4M42 218h4M66 175h4M69 197h4M66 203h4M26 161h4M14 156h4M3 187h4M57 163h4M43 219h4M85 199h4M2 193h4M77 182h4M50 160h4M58 208h4M30 162h4M14 221h4M75 191h4M64 209h4M2 205h4M7 206h4M14 159h4M3 191h4M43 221h4M79 189h4M64 194h4M3 199h4M61 174h4M21 161h4M69 188h4M30 219h4M39 163h4M4 211h4M21 166h4M38 219h4M13 172h4M37 147h4M8 169h4M78 206h4M59 176h4M90 207h4M62 182h4M3 205h4M83 191h4M65 214h4M68 175h4M58 204h4M31 161h4M3 152h4M5 184h4M66 210h4M28 167h4M12 212h4M74 173h4M72 178h4M48 216h4M2 183h4M61 204h4M4 219h4M27 167h4M55 168h4M54 163h4M4 188h4M53 213h4M11 169h4M3 183h4M30 219h4M67 182h4M42 167h4M30 220h4M2 153h4M49 164h4M28 217h4M3 175h4M53 217h4M3 197h4M70 185h4M10 209h4M69 190h4M43 216h4M9 220h4M18 169h4M36 162h4M7 206h4M68 188h4M4 190h4M37 157h4M19 146h4M4 189h4M48 220h4M28 218h4M60 212h4M22 221h4M2 178h4M80 189h4M17 168h4M10 174h4M34 165h4M53 165h4M3 178h4M63 200h4M59 176h4M5 176h4M73 206h4M72 205h4M71 176h4M45 220h4M52 221h4M58 208h4M16 219h4M16 156h4M14 167h4M81 216h4M32 221h4M49 218h4M13 168h4M50 171h4M49 216h4M38 164h4M2 184h4M64 207h4M49 212h4M50 167h4M5 193h4M35 221h4M98 203h4M35 166h4M15 212h4M2 211h4M6 211h4M63 191h4M4 214h4M60 220h4M36 166h4M69 208h4M17 216h4M26 216h4M5 180h4M72 183h4M5 179h4M3 183h4M8 219h4M52 163h4M2 215h4M5 180h4M26 167h4M12 153h4M25 218h4M3 200h4M54 219h4M15 215h4M53 166h4M50 166h4M5 172h4M53 210h4M5 214h4M63 199h4M25 217h4M44 162h4M7 173h4M44 220h4M3 206h4M24 219h4M49 169h4M45 222h4M4 187h4M45 163h4M39 145h4M72 215h4M6 206h4M32 222h4M12 167h4M44 221h4M6 205h4M11 157h4M2 220h4M63 171h4M49 171h4M2 171h4M27 143h4M2 210h4M36 220h4M68 180h4M54 173h4M32 221h4M34 220h4M54 170h4M4 181h4M9 218h4M4 168h4M54 209h4M68 217h4M21 167h4M51 172h4M7 209h4M61 217h4M12 217h4M8 220h4M95 184h4M2 210h4M14 171h4M6 208h4M45 167h4M63 162h4M42 103h4M29 121h4M29 117h4M56 136h4M30 160h4M38 145h4M50 127h4M16 131h4M4 133h4M66 149h4M65 172h4M20 118h4M11 93h4M56 117h4M48 123h4M50 88h4M36 109h4M34 121h4M50 134h4M63 115h4M41 116h4M32 127h4M37 133h4M52 112h4M12 124h4M71 86h4M19 111h4M53 109h4M29 157h4M37 144h4M20 133h4M26 141h4M33 124h4M41 115h4M16 117h4M28 131h4M52 135h4M30 146h4M42 159h4M36 122h4M2 155h4M3 90h4M24 109h4M30 151h4M25 111h4M16 122h4M38 115h4M49 132h4M34 162h4M6 142h4M26 133h4M35 113h4M72 118h4M31 139h4M51 86h4M34 116h4M38 115h4M22 102h4M61 108h4M79 129h4M38 92h4M67 123h4M14 139h4M78 117h4M66 140h4M10 136h4M24 139h4M30 126h4M26 155h4M46 127h4M51 93h4M30 119h4M49 135h4M60 114h4M49 115h4M19 136h4M43 112h4M52 104h4M57 127h4M19 146h4M57 110h4M31 101h4M40 111h4M37 108h4M28 114h4M32 133h4M24 147h4M20 119h4M7 102h4M23 145h4M25 153h4M39 140h4M35 93h4M38 130h4M46 102h4M34 98h4M21 102h4M77 114h4M18 129h4M42 160h4M50 134h4M41 117h4M31 94h4M23 116h4M117 195h4M93 87h4M117 167h4M92 157h4M65 130h4M113 171h4M55 108h4M116 118h4M60 190h4M87 115h4M109 102h4M89 159h4M113 142h4M90 162h4M90 153h4M75 140h4M87 160h4M52 135h4M110 185h4M106 107h4M60 125h4M63 129h4M119 114h4M90 147h4M107 128h4M93 118h4M73 146h4M84 71h4M66 137h4M82 155h4M99 134h4M82 150h4M96 171h4M74 169h4M102 187h4M33 185h4M82 166h4M55 159h4M32 132h4M56 141h4M76 166h4M62 174h4M33 171h4M62 179h4M26 166h4M74 166h4M3 145h4M63 167h4M31 177h4M110 144h4M101 148h4M85 132h4M77 160h4M20 146h4M25 145h4M59 156h4M2 154h4M86 176h4M55 157h4M94 163h4M39 142h4M15 147h4M50 158h4M88 168h4M94 154h4M32 165h4M48 160h4M52 147h4M25 149h4M32 176h4M33 161h4M61 152h4M61 167h4M9 161h4M41 167h4M40 149h4M32 156h4M61 152h4M52 170h4M32 178h4M31 136h4M41 157h4M51 147h4M55 172h4M73 157h4M18 182h4M73 157h4M77 177h4M54 145h4M56 145h4M43 176h4M49 142h4M52 156h4M27 158h4M98 170h4M60 166h4M93 133h4M70 153h4M62 155h4M37 125h4M54 165h4M29 132h4M42 124h4M28 162h4M64 166h4M58 156h4M59 170h4M69 162h4M55 165h4M21 155h4M14 148h4M2 152h4M52 164h4M35 180h4M75 150h4M61 169h4M32 153h4M67 121h4M19 163h4M65 145h4M71 190h4M55 158h4M52 144h4M63 161h4M68 178h4M51 161h4M58 183h4M16 158h4M35 160h4M70 159h4M68 161h4M33 149h4M17 161h4M41 170h4M73 146h4M24 167h4M29 161h4M65 153h4M93 147h4M60 152h4M47 166h4M47 148h4M38 154h4M68 154h4M80 170h4M33 173h4M3 159h4M49 159h4M31 158h4M20 149h4M40 159h4M23 158h4M11 129h4M45 173h4M86 171h4M54 184h4M55 148h4M73 148h4M23 166h4M76 153h4M31 159h4M65 144h4M41 166h4M60 184h4M72 121h4M81 147h4M61 137h4M66 134h4M69 181h4M44 168h4M54 157h4M28 157h4M58 139h4M96 141h4M45 154h4M44 152h4M97 155h4M44 166h4M36 136h4M83 156h4M77 174h4M94 168h4M55 133h4M71 145h4M82 151h4M27 159h4M47 160h4M72 179h4M55 178h4M56 136h4M30 157h4M48 167h4M28 141h4M70 153h4M97 144h4M35 192h4M6 133h4M53 145h4M45 175h4M44 158h4M69 145h4M12 162h4M50 167h4M35 153h4M46 163h4M71 162h4M4 152h4M29 165h4M52 174h4M62 156h4M17 167h4M52 140h4M15 132h4M65 152h4M35 156h4M51 153h4M68 173h4M45 180h4M47 146h4M54 138h4M43 143h4M40 161h4M4 164h4M59 160h4" stroke="#cb2d10" stroke-width="4" fill="none"/>
</g></g>
<rect x="390.5" y="349.5" width="62" height="56" fill="none" stroke="#3a3a3a" stroke-width=".85"/>
<path d="M408.5 349.5L408.5 405.5" stroke="#222" stroke-width="1" fill="none"/>
<path d="M390.5 387.5L452.5 387.5" stroke="#222" stroke-width="1" fill="none"/>
<text x="392.5" y="355.1" font-size="5.6" text-anchor="start" fill="#262626">3.24</text>
<text x="450.9" y="355.1" font-size="5.6" text-anchor="end" fill="#262626">0.30</text>
<text x="392.7" y="402.4" font-size="5.6" text-anchor="start" fill="#7a1205">94.48</text>
<text x="450.9" y="402.4" font-size="5.6" text-anchor="end" fill="#262626">1.98</text>
<path d="M391.1 405.5v2.2M390.5 404.9h-2.2M395.65 405.5v1M390.5 400.8h-1M398.32 405.5v1M390.5 398.4h-1M400.21 405.5v1M390.5 396.7h-1M401.67 405.5v1M390.5 395.38h-1M402.87 405.5v1M390.5 394.3h-1M403.88 405.5v1M390.5 393.39h-1M404.76 405.5v1M390.5 392.6h-1M405.53 405.5v1M390.5 391.9h-1M406.23 405.5v2.2M390.5 391.27h-2.2M410.78 405.5v1M390.5 387.17h-1M413.44 405.5v1M390.5 384.77h-1M415.33 405.5v1M390.5 383.07h-1M416.8 405.5v1M390.5 381.75h-1M417.99 405.5v1M390.5 380.67h-1M419.01 405.5v1M390.5 379.76h-1M419.88 405.5v1M390.5 378.97h-1M420.66 405.5v1M390.5 378.27h-1M421.35 405.5v2.2M390.5 377.65h-2.2M425.9 405.5v1M390.5 373.55h-1M428.57 405.5v1M390.5 371.15h-1M430.46 405.5v1M390.5 369.45h-1M431.92 405.5v1M390.5 368.13h-1M433.12 405.5v1M390.5 367.05h-1M434.13 405.5v1M390.5 366.14h-1M435.01 405.5v1M390.5 365.35h-1M435.78 405.5v1M390.5 364.65h-1M436.48 405.5v2.2M390.5 364.02h-2.2M441.03 405.5v1M390.5 359.92h-1M443.69 405.5v1M390.5 357.52h-1M445.58 405.5v1M390.5 355.82h-1M447.05 405.5v1M390.5 354.5h-1M448.24 405.5v1M390.5 353.42h-1M449.26 405.5v1M390.5 352.51h-1M450.13 405.5v1M390.5 351.72h-1M450.91 405.5v1M390.5 351.02h-1M451.6 405.5v2.2M390.5 350.4h-2.2" stroke="#333" stroke-width=".45" fill="none"/>
<text x="391.5" y="410.3" font-size="3" text-anchor="middle" fill="#555">10<tspan font-size="2" dy="-1">0</tspan></text>
<text x="388.1" y="404.5" font-size="3" text-anchor="middle" fill="#555" transform="rotate(-90 388.1 404.5)">10<tspan font-size="2" dy="-1">0</tspan></text>
<text x="406.62" y="410.3" font-size="3" text-anchor="middle" fill="#555">10<tspan font-size="2" dy="-1">1</tspan></text>
<text x="388.1" y="390.88" font-size="3" text-anchor="middle" fill="#555" transform="rotate(-90 388.1 390.88)">10<tspan font-size="2" dy="-1">1</tspan></text>
<text x="421.75" y="410.3" font-size="3" text-anchor="middle" fill="#555">10<tspan font-size="2" dy="-1">2</tspan></text>
<text x="388.1" y="377.25" font-size="3" text-anchor="middle" fill="#555" transform="rotate(-90 388.1 377.25)">10<tspan font-size="2" dy="-1">2</tspan></text>
<text x="436.88" y="410.3" font-size="3" text-anchor="middle" fill="#555">10<tspan font-size="2" dy="-1">3</tspan></text>
<text x="388.1" y="363.62" font-size="3" text-anchor="middle" fill="#555" transform="rotate(-90 388.1 363.62)">10<tspan font-size="2" dy="-1">3</tspan></text>
<text x="452" y="410.3" font-size="3" text-anchor="middle" fill="#555">10<tspan font-size="2" dy="-1">4</tspan></text>
<text x="388.1" y="350" font-size="3" text-anchor="middle" fill="#555" transform="rotate(-90 388.1 350)">10<tspan font-size="2" dy="-1">4</tspan></text>
<text x="421.5" y="414.1" font-size="3.2" text-anchor="middle" fill="#555">CD3</text>
<text x="382.1" y="379.5" font-size="3.2" text-anchor="middle" transform="rotate(-90 382.1 379.5)" fill="#444">B220</text>
<clipPath id="k12"><rect x="390.5" y="419.5" width="62" height="57"/></clipPath>
<g clip-path="url(#k12)"><g>
<ellipse cx="403.6" cy="437.6" rx="8.16" ry="10.87" fill="#cb2d10"/>
<path transform="translate(390.5 419.5) scale(.25)" d="M47 120h4M75 121h4M87 90h4M93 94h4M100 67h4M70 115h4M45 4h4M89 81h4M26 102h4M66 109h4M3 82h4M3 80h4M75 125h4M52 14h4M124 63h4M37 114h4M49 136h4M42 124h4M44 135h4M22 69h4M40 35h4M80 113h4M2 102h4M97 40h4M16 42h4M83 77h4M82 46h4M87 38h4M18 62h4M41 110h4M61 131h4M22 72h4M22 41h4M75 33h4M22 107h4M88 89h4M78 37h4M32 106h4M77 35h4M62 125h4M69 108h4M71 40h4M27 45h4M14 27h4M84 62h4M59 132h4M14 32h4M86 69h4M39 130h4M20 77h4M68 33h4M91 12h4M84 60h4M78 98h4M52 121h4M45 122h4M45 29h4M79 43h4M12 116h4M79 107h4M15 36h4M80 28h4M81 48h4M19 57h4M72 29h4M92 100h4M76 25h4M9 16h4M62 31h4M18 65h4M35 25h4M69 117h4M87 16h4M24 55h4M53 23h4M4 58h4M40 124h4M34 129h4M89 119h4M19 93h4M100 94h4M89 35h4M19 82h4M95 59h4M56 115h4M11 78h4M85 131h4M9 74h4M46 136h4M92 94h4M85 75h4M86 48h4M64 16h4M25 48h4M94 54h4M48 113h4M81 28h4M28 98h4M35 39h4M87 103h4M40 32h4M43 113h4M91 88h4M40 111h4M10 17h4M81 54h4M89 67h4M97 120h4M40 34h4M74 109h4M65 140h4M81 94h4M83 86h4M56 31h4M88 95h4M107 91h4M27 4h4M91 93h4M86 62h4M14 78h4M12 40h4M14 52h4M34 18h4M86 58h4M51 114h4M36 38h4M41 21h4M54 132h4M19 85h4M73 37h4M22 91h4M25 106h4M87 116h4M25 40h4M97 109h4M93 59h4M79 98h4M25 37h4M20 54h4M82 47h4M23 94h4M43 112h4M61 30h4M80 108h4M16 101h4M36 26h4M19 39h4M80 39h4M63 114h4M19 85h4M30 104h4M23 44h4M68 28h4M24 91h4M37 125h4M32 35h4M78 47h4M14 53h4M7 103h4M74 117h4M88 49h4M62 8h4M77 103h4M89 109h4M77 38h4M83 43h4M39 31h4M112 84h4M106 38h4M87 38h4M81 41h4M91 129h4M28 26h4M74 123h4M73 30h4M84 72h4M68 34h4M84 99h4M13 74h4M70 32h4M108 69h4M39 112h4M79 47h4M57 119h4M21 102h4M87 87h4M96 112h4M21 57h4M67 127h4M82 86h4M18 75h4M89 109h4M13 63h4M4 26h4M64 34h4M30 113h4M16 68h4M24 39h4M24 94h4M72 37h4M61 24h4M56 122h4M91 61h4M79 45h4M34 40h4M51 115h4M27 102h4M65 111h4M70 128h4M86 70h4M21 88h4M31 111h4M10 53h4M38 112h4M47 30h4M80 89h4M47 122h4M20 66h4M90 83h4M78 49h4M23 111h4M51 119h4M83 47h4M67 31h4M43 32h4M84 133h4M106 34h4M62 112h4M24 88h4M66 28h4M36 36h4M47 20h4M62 29h4M62 120h4M78 32h4M18 103h4M98 46h4M53 21h4M29 103h4M47 16h4M27 111h4M83 58h4M21 62h4M93 50h4M20 64h4M34 39h4M28 37h4M16 93h4M81 100h4M29 105h4M59 18h4M53 17h4M21 38h4M23 109h4M33 118h4M80 102h4M4 72h4M66 113h4M14 71h4M85 100h4M18 63h4M31 119h4M37 114h4M92 100h4M43 13h4M82 48h4M43 26h4M70 112h4M18 38h4M38 24h4M99 40h4M105 35h4M87 21h4M12 8h4M76 42h4M15 108h4M56 114h4M23 59h4M69 106h4M83 52h4M89 93h4M80 101h4M74 121h4M19 79h4M107 145h4M14 71h4M74 125h4M26 102h4M27 48h4M61 114h4M88 71h4M57 23h4M89 47h4M35 112h4M84 81h4M54 121h4M25 100h4M12 71h4M12 71h4M44 31h4M73 25h4M78 26h4M23 41h4M23 32h4M48 31h4M75 29h4M63 113h4M11 52h4M33 132h4M29 31h4M28 48h4M10 92h4M26 48h4M97 120h4M40 35h4M64 124h4M64 115h4M61 24h4M52 131h4M16 81h4M66 115h4M85 72h4M83 83h4M80 101h4M22 53h4M22 86h4M35 15h4M36 120h4M76 118h4M11 75h4M63 31h4M99 52h4M70 22h4M37 116h4M16 89h4M30 38h4M94 45h4M31 120h4M72 112h4M82 55h4M35 5h4M81 35h4M47 133h4M32 124h4M36 115h4M53 116h4M38 27h4M56 32h4M67 136h4M39 23h4M74 39h4M96 66h4M60 115h4M90 46h4M83 80h4M87 40h4M11 59h4M30 8h4M18 63h4M72 13h4M44 6h4M45 22h4M88 72h4M19 47h4M62 33h4M25 140h4M56 113h4M98 42h4M83 68h4M91 49h4M64 33h4M57 31h4M74 41h4M20 29h4M52 116h4M51 116h4M68 115h4M29 39h4M49 24h4M76 101h4M31 42h4M75 11h4M83 6h4M101 102h4M85 55h4M56 29h4M53 125h4M4 87h4M57 151h4M34 22h4M34 10h4M2 103h4M61 21h4M40 29h4M38 29h4M69 29h4M15 52h4M91 72h4M85 71h4M67 110h4M95 44h4M21 32h4M65 133h4M85 88h4M4 98h4M57 6h4M64 121h4M80 38h4M21 70h4M59 119h4M58 15h4M45 21h4M48 31h4M18 91h4M96 49h4M84 102h4M24 40h4M79 93h4M15 123h4M19 75h4M87 92h4M34 115h4M64 121h4M64 23h4M77 114h4M50 25h4M91 55h4M94 91h4M17 93h4M22 78h4M95 54h4M33 111h4M82 58h4M53 28h4M90 81h4M36 6h4M50 113h4M32 122h4M63 123h4M98 94h4M43 128h4M51 24h4M63 11h4M22 98h4M86 125h4M85 114h4M23 28h4M22 81h4M58 26h4M67 29h4M46 115h4M85 68h4M68 122h4M55 32h4M44 140h4M88 80h4M20 27h4M12 94h4M86 53h4M26 132h4M33 39h4M83 77h4M63 3h4M107 50h4M25 35h4M14 74h4M7 72h4M64 28h4M35 113h4M87 37h4M23 137h4M23 45h4M34 37h4M65 114h4M74 110h4M67 120h4M68 33h4M51 180h4M37 183h4M43 203h4M63 159h4M63 211h4M69 146h4M64 172h4M46 153h4M62 174h4M2 165h4M56 208h4M48 167h4M41 196h4M65 158h4M26 176h4M55 136h4M40 216h4M41 182h4M53 171h4M25 151h4M59 175h4M38 181h4M30 136h4M19 176h4M57 179h4M3 173h4M49 180h4M39 174h4M82 163h4M43 210h4M31 181h4M76 159h4M108 157h4M75 195h4M52 201h4M58 185h4M37 175h4M50 145h4M55 164h4M48 182h4M60 185h4M94 179h4M2 175h4M58 211h4M50 192h4M28 156h4M14 187h4M26 169h4M95 183h4M51 199h4M37 143h4M38 148h4M53 194h4M59 160h4M49 150h4M18 164h4M38 154h4M57 174h4M40 178h4M47 156h4M37 151h4M44 150h4M41 149h4M16 188h4M23 164h4M4 204h4M50 177h4M38 185h4M38 147h4M36 189h4M68 190h4M40 157h4M52 173h4M19 145h4M75 167h4M47 196h4M46 179h4M40 214h4M60 201h4M51 197h4M33 129h4M16 178h4M69 177h4M13 188h4M65 152h4M4 161h4M3 188h4M13 171h4M81 187h4M31 146h4M56 164h4M66 189h4M52 191h4M41 165h4M70 192h4M48 195h4M50 166h4M44 162h4M62 153h4M23 165h4M66 152h4M47 204h4M58 152h4M49 161h4M71 175h4M16 195h4M56 141h4M98 175h4M33 173h4M43 174h4M71 146h4M74 182h4M16 170h4M12 205h4M55 165h4M27 163h4M26 205h4M25 173h4M33 187h4M55 192h4M77 167h4M71 178h4M52 166h4M51 166h4M42 168h4M63 159h4M69 160h4M112 155h4M90 141h4M7 152h4M53 156h4M41 173h4M25 170h4M3 153h4M43 155h4M63 141h4M38 203h4M82 163h4M37 193h4M43 174h4M31 172h4M43 175h4M63 170h4M52 172h4M13 193h4M67 211h4M47 157h4M47 179h4M60 159h4M45 185h4M67 193h4M27 162h4M33 184h4M75 178h4M39 193h4M44 179h4M35 198h4M29 167h4M21 148h4M48 168h4M58 161h4M20 174h4M51 146h4M53 128h4M69 176h4M98 175h4M44 174h4M37 181h4M44 183h4M92 133h4M62 174h4M36 198h4M57 157h4M27 156h4M16 176h4M55 173h4M46 180h4M38 146h4M44 186h4M56 155h4M45 165h4M88 170h4M15 199h4M58 179h4M30 144h4M44 181h4M50 177h4M56 149h4M62 201h4M62 159h4M42 176h4M55 171h4M18 137h4M79 207h4M41 211h4M54 144h4M56 154h4M98 150h4M31 156h4M22 189h4M46 167h4M56 191h4M69 160h4M40 189h4M73 180h4M62 125h4M77 150h4M67 182h4M36 201h4M72 166h4M21 145h4M20 172h4M39 173h4M39 178h4M81 182h4M30 137h4M30 159h4M71 191h4M73 161h4M57 145h4M25 165h4M52 193h4M2 171h4M96 162h4M53 180h4M93 177h4M37 207h4M27 159h4M38 154h4M64 181h4M28 179h4M25 180h4M81 182h4M66 188h4M94 157h4M77 224h4M61 198h4M57 185h4M39 133h4M37 168h4M28 186h4M75 166h4M53 156h4M56 159h4M51 165h4M4 210h4M4 162h4M44 187h4M67 164h4M67 160h4M49 188h4M52 175h4M28 200h4M38 192h4M39 177h4M26 201h4M54 153h4M68 182h4M30 177h4M78 174h4M53 154h4M83 173h4M54 196h4M77 203h4M83 153h4M29 170h4M57 201h4M60 198h4M88 160h4M26 182h4M36 165h4M80 182h4M60 168h4M36 162h4M46 196h4M28 186h4M53 178h4M7 158h4M51 194h4M66 181h4M25 166h4M11 167h4M53 163h4M92 154h4M56 144h4M94 189h4M63 193h4M75 205h4M39 154h4M108 177h4M56 181h4M91 194h4M55 163h4M44 170h4M85 167h4M60 164h4M80 181h4M148 5h4M133 82h4M75 79h4M31 57h4M76 104h4M100 5h4M114 37h4M69 75h4M124 45h4M121 96h4M127 101h4M101 25h4M99 58h4M66 70h4M101 83h4M135 88h4M122 65h4M142 111h4M104 63h4M80 85h4M102 7h4M118 60h4M88 128h4M156 49h4M134 100h4M142 71h4M120 77h4M140 75h4M115 88h4M134 64h4M61 73h4M121 97h4M112 76h4M111 94h4M105 63h4M147 52h4M89 54h4M88 54h4M127 92h4M122 105h4M102 59h4M147 53h4M127 38h4M130 53h4M89 90h4M69 77h4M133 41h4M137 39h4M133 71h4M112 19h4M103 38h4M99 42h4M172 130h4M118 80h4M113 66h4M106 54h4M119 126h4M133 33h4M118 73h4M134 149h4M92 76h4M120 30h4M108 75h4M91 84h4M131 88h4M141 36h4M94 22h4M152 61h4M93 76h4M102 82h4M85 42h4M75 64h4M108 40h4M90 83h4M163 56h4M112 69h4M95 140h4M101 97h4M124 113h4M137 60h4M146 74h4M142 56h4M105 132h4M110 112h4M129 42h4M153 31h4M106 68h4M138 66h4M90 113h4M117 124h4M63 30h4M121 84h4M124 20h4M106 42h4M53 61h4M116 72h4M114 10h4M65 59h4M173 44h4M88 82h4M151 76h4M117 48h4M119 78h4M147 89h4M116 72h4M116 77h4M143 58h4M91 65h4M96 64h4M95 89h4M160 69h4M80 80h4M106 128h4M97 65h4M111 100h4M104 59h4M108 50h4M101 98h4M144 64h4M92 111h4M148 69h4M65 44h4M102 31h4M143 80h4M160 82h4M117 72h4M124 100h4M86 84h4M150 61h4M144 72h4M97 107h4M124 104h4M96 79h4M87 101h4M160 89h4M117 92h4M113 59h4M174 103h4M135 83h4M106 81h4M131 30h4M116 82h4M118 64h4M158 60h4M83 109h4M124 25h4M119 58h4M143 61h4M140 66h4M76 118h4M38 107h4M39 129h4M63 151h4M68 154h4M56 108h4M71 108h4M45 135h4M59 145h4M36 164h4M57 130h4M63 116h4M38 128h4M38 126h4M101 136h4M39 122h4M38 138h4M88 106h4M32 141h4M32 157h4M62 136h4M67 160h4M36 116h4M2 157h4M62 110h4M62 170h4M39 131h4M45 113h4M92 161h4M6 128h4M48 120h4M15 122h4M53 140h4M58 105h4M9 129h4M57 132h4M74 129h4M121 132h4M67 126h4M51 125h4M58 118h4M76 145h4M59 170h4M45 142h4M3 124h4M57 133h4M34 152h4M107 102h4M70 111h4M92 127h4M61 147h4M65 113h4M35 158h4M55 148h4M61 150h4M30 162h4M13 159h4M35 135h4M45 126h4M90 74h4M44 149h4M123 137h4M59 161h4M82 131h4M93 123h4M46 120h4M34 155h4M85 118h4M68 142h4M35 140h4M39 125h4M53 117h4M28 71h4M77 139h4M75 128h4M41 171h4M68 114h4M22 126h4M48 138h4M35 107h4M29 130h4M44 146h4M36 152h4M53 127h4M66 123h4M85 136h4M27 148h4M41 151h4M79 127h4M43 124h4M72 129h4M85 120h4M43 127h4M65 93h4M75 104h4M58 120h4M63 167h4M84 137h4M57 127h4M56 115h4M54 107h4M56 99h4M76 146h4M83 93h4M49 120h4M48 125h4M35 117h4M64 111h4M90 119h4M71 130h4M72 112h4M35 148h4M69 135h4M63 142h4M71 94h4M41 121h4M72 107h4M32 156h4M34 121h4M79 117h4M87 157h4M96 169h4M55 133h4M15 142h4M32 150h4M50 103h4M19 119h4M105 131h4M91 83h4M77 158h4M68 169h4M83 142h4M59 133h4M43 128h4M39 106h4M112 122h4M67 98h4M16 130h4M56 121h4M61 134h4M73 135h4M49 147h4M67 143h4M36 151h4M54 97h4M32 142h4M64 137h4M54 142h4M69 111h4M72 147h4M64 160h4M56 130h4M57 139h4M66 142h4M83 118h4M48 125h4M47 109h4M75 127h4M79 122h4M14 127h4M68 138h4M83 126h4M77 149h4M68 148h4M58 107h4M52 113h4M47 104h4M42 93h4M32 157h4M39 135h4M67 100h4M34 116h4M61 113h4M52 135h4M3 122h4M81 129h4M92 166h4M65 135h4M81 95h4M34 177h4M40 143h4M50 119h4M42 129h4M114 128h4M131 224h4M149 173h4M109 195h4M99 176h4M123 194h4M160 225h4M80 168h4M113 223h4M149 221h4M99 149h4M133 198h4M91 189h4M168 194h4M149 208h4M84 159h4M78 150h4M202 166h4M111 174h4M62 195h4M130 165h4M81 180h4M119 163h4M157 159h4M141 157h4M133 162h4M132 138h4M139 211h4M78 192h4M158 171h4M103 177h4M113 163h4M138 212h4M95 179h4M67 191h4M150 173h4M71 172h4M145 159h4M85 205h4M103 147h4M100 177h4M114 186h4M83 181h4M108 173h4M130 172h4M117 204h4M88 175h4M150 196h4M153 177h4M172 130h4M120 158h4M86 216h4M100 169h4M110 154h4M113 165h4M132 183h4M120 187h4M104 191h4M101 181h4M112 179h4M104 196h4M85 202h4M98 176h4M147 178h4M87 158h4M100 164h4M116 183h4M124 200h4M125 122h4M145 178h4M142 199h4M83 190h4M67 177h4M143 143h4M85 184h4M133 167h4M182 197h4M115 173h4M145 164h4M97 177h4M129 223h4M135 143h4M91 177h4M84 170h4M118 226h4M137 207h4M152 184h4M123 183h4M180 163h4M122 154h4M79 162h4M160 212h4M120 191h4M120 134h4M117 161h4M154 161h4M94 166h4M124 186h4M143 169h4M118 165h4M133 165h4M112 164h4M145 137h4M166 131h4M112 225h4M114 175h4M107 193h4M166 178h4M97 176h4" stroke="#cb2d10" stroke-width="4" fill="none"/>
</g></g>
<rect x="390.5" y="419.5" width="62" height="57" fill="none" stroke="#3a3a3a" stroke-width=".85"/>
<path d="M412.5 419.5L412.5 476.5" stroke="#222" stroke-width="1" fill="none"/>
<path d="M390.5 452.5L452.5 452.5" stroke="#222" stroke-width="1" fill="none"/>
<text x="392.5" y="425.1" font-size="5.6" text-anchor="start" fill="#262626">81.51</text>
<text x="450.9" y="425.1" font-size="5.6" text-anchor="end" fill="#262626">2.67</text>
<text x="392.7" y="473.4" font-size="5.6" text-anchor="start" fill="#7a1205">13.37</text>
<text x="450.9" y="473.4" font-size="5.6" text-anchor="end" fill="#262626">2.46</text>
<path d="M391.1 476.5v2.2M390.5 475.9h-2.2M395.65 476.5v1M390.5 471.72h-1M398.32 476.5v1M390.5 469.28h-1M400.21 476.5v1M390.5 467.55h-1M401.67 476.5v1M390.5 466.2h-1M402.87 476.5v1M390.5 465.1h-1M403.88 476.5v1M390.5 464.17h-1M404.76 476.5v1M390.5 463.37h-1M405.53 476.5v1M390.5 462.66h-1M406.23 476.5v2.2M390.5 462.02h-2.2M410.78 476.5v1M390.5 457.85h-1M413.44 476.5v1M390.5 455.4h-1M415.33 476.5v1M390.5 453.67h-1M416.8 476.5v1M390.5 452.33h-1M417.99 476.5v1M390.5 451.23h-1M419.01 476.5v1M390.5 450.3h-1M419.88 476.5v1M390.5 449.49h-1M420.66 476.5v1M390.5 448.78h-1M421.35 476.5v2.2M390.5 448.15h-2.2M425.9 476.5v1M390.5 443.97h-1M428.57 476.5v1M390.5 441.53h-1M430.46 476.5v1M390.5 439.8h-1M431.92 476.5v1M390.5 438.45h-1M433.12 476.5v1M390.5 437.35h-1M434.13 476.5v1M390.5 436.42h-1M435.01 476.5v1M390.5 435.62h-1M435.78 476.5v1M390.5 434.91h-1M436.48 476.5v2.2M390.5 434.27h-2.2M441.03 476.5v1M390.5 430.1h-1M443.69 476.5v1M390.5 427.65h-1M445.58 476.5v1M390.5 425.92h-1M447.05 476.5v1M390.5 424.58h-1M448.24 476.5v1M390.5 423.48h-1M449.26 476.5v1M390.5 422.55h-1M450.13 476.5v1M390.5 421.74h-1M450.91 476.5v1M390.5 421.03h-1M451.6 476.5v2.2M390.5 420.4h-2.2" stroke="#333" stroke-width=".45" fill="none"/>
<text x="391.5" y="481.3" font-size="3" text-anchor="middle" fill="#555">10<tspan font-size="2" dy="-1">0</tspan></text>
<text x="388.1" y="475.5" font-size="3" text-anchor="middle" fill="#555" transform="rotate(-90 388.1 475.5)">10<tspan font-size="2" dy="-1">0</tspan></text>
<text x="406.62" y="481.3" font-size="3" text-anchor="middle" fill="#555">10<tspan font-size="2" dy="-1">1</tspan></text>
<text x="388.1" y="461.62" font-size="3" text-anchor="middle" fill="#555" transform="rotate(-90 388.1 461.62)">10<tspan font-size="2" dy="-1">1</tspan></text>
<text x="421.75" y="481.3" font-size="3" text-anchor="middle" fill="#555">10<tspan font-size="2" dy="-1">2</tspan></text>
<text x="388.1" y="447.75" font-size="3" text-anchor="middle" fill="#555" transform="rotate(-90 388.1 447.75)">10<tspan font-size="2" dy="-1">2</tspan></text>
<text x="436.88" y="481.3" font-size="3" text-anchor="middle" fill="#555">10<tspan font-size="2" dy="-1">3</tspan></text>
<text x="388.1" y="433.88" font-size="3" text-anchor="middle" fill="#555" transform="rotate(-90 388.1 433.88)">10<tspan font-size="2" dy="-1">3</tspan></text>
<text x="452" y="481.3" font-size="3" text-anchor="middle" fill="#555">10<tspan font-size="2" dy="-1">4</tspan></text>
<text x="388.1" y="420" font-size="3" text-anchor="middle" fill="#555" transform="rotate(-90 388.1 420)">10<tspan font-size="2" dy="-1">4</tspan></text>
<text x="421.5" y="485.1" font-size="3.2" text-anchor="middle" fill="#555">c-kit</text>
<text x="382.1" y="450" font-size="3.2" text-anchor="middle" transform="rotate(-90 382.1 450)" fill="#444">CD11b</text>
<text x="28.3" y="619.8" font-size="14" text-anchor="start" font-weight="bold" stroke="#000" stroke-width=".22" fill="#000">J</text>
<text x="46.2" y="637.5" font-size="8.6" text-anchor="middle" font-weight="bold" stroke="#000" stroke-width=".22" transform="rotate(-90 46.2 637.5)" fill="#000">+/+</text>
<text x="57" y="637.5" font-size="8.1" text-anchor="middle" font-weight="bold" stroke="#000" stroke-width=".22" transform="rotate(-90 57 637.5)" fill="#000">donor mouse</text>
<text x="46.2" y="715.5" font-size="8.6" text-anchor="middle" font-weight="bold" stroke="#000" stroke-width=".22" transform="rotate(-90 46.2 715.5)" fill="#000">+/+</text>
<text x="57" y="715.5" font-size="8.1" text-anchor="middle" font-weight="bold" stroke="#000" stroke-width=".22" transform="rotate(-90 57 715.5)" fill="#000">recipient  mouse</text>
<text x="46.2" y="792" font-size="8.6" text-anchor="middle" font-weight="bold" stroke="#000" stroke-width=".22" transform="rotate(-90 46.2 792)" fill="#000">+/+</text>
<text x="57" y="792" font-size="8.1" text-anchor="middle" font-weight="bold" stroke="#000" stroke-width=".22" transform="rotate(-90 57 792)" fill="#000">secondary recipient</text>
<text x="268.6" y="637.5" font-size="8.6" text-anchor="middle" font-weight="bold" stroke="#000" stroke-width=".22" transform="rotate(-90 268.6 637.5)" fill="#000">+/-</text>
<text x="279.4" y="636.5" font-size="8.1" text-anchor="middle" font-weight="bold" stroke="#000" stroke-width=".22" transform="rotate(-90 279.4 636.5)" fill="#000">donor mouse</text>
<text x="268.6" y="716" font-size="8.6" text-anchor="middle" font-weight="bold" stroke="#000" stroke-width=".22" transform="rotate(-90 268.6 716)" fill="#000">+/-</text>
<text x="279.4" y="715" font-size="8.1" text-anchor="middle" font-weight="bold" stroke="#000" stroke-width=".22" transform="rotate(-90 279.4 715)" fill="#000">recipient mouse</text>
<text x="268.6" y="794" font-size="8.6" text-anchor="middle" font-weight="bold" stroke="#000" stroke-width=".22" transform="rotate(-90 268.6 794)" fill="#000">+/-</text>
<text x="279.4" y="793" font-size="8.1" text-anchor="middle" font-weight="bold" stroke="#000" stroke-width=".22" transform="rotate(-90 279.4 793)" fill="#000">secondary recipient</text>
<clipPath id="k13"><rect x="84.5" y="609.5" width="61" height="55"/></clipPath>
<g clip-path="url(#k13)"><g>
<ellipse cx="93.5" cy="655.2" rx="10.87" ry="9.32" fill="#cb2d10"/>
<ellipse cx="94.6" cy="625.2" rx="5.39" ry="3.15" fill="#cb2d10"/>
<ellipse cx="128.9" cy="624.6" rx="3.96" ry="5" fill="#cb2d10"/>
<path transform="translate(84.5 609.5) scale(.25)" d="M15 142h4M68 215h4M53 143h4M34 127h4M72 211h4M59 120h4M3 137h4M24 131h4M53 142h4M4 206h4M15 142h4M82 184h4M70 217h4M74 210h4M37 217h4M9 217h4M46 215h4M66 142h4M78 190h4M69 205h4M106 116h4M4 153h4M25 217h4M66 147h4M17 216h4M46 216h4M88 189h4M67 217h4M3 195h4M73 164h4M83 212h4M80 165h4M64 210h4M4 180h4M3 211h4M9 139h4M4 204h4M25 149h4M51 140h4M2 178h4M28 217h4M79 137h4M35 217h4M2 200h4M91 183h4M50 143h4M69 218h4M7 212h4M4 143h4M3 160h4M82 188h4M4 208h4M3 169h4M4 174h4M34 135h4M11 213h4M60 216h4M50 148h4M76 191h4M4 195h4M2 209h4M80 198h4M85 165h4M47 148h4M25 216h4M67 207h4M6 157h4M46 148h4M2 194h4M13 146h4M32 216h4M2 195h4M71 216h4M86 203h4M3 190h4M22 127h4M13 214h4M5 215h4M70 147h4M100 186h4M14 215h4M61 214h4M36 216h4M75 156h4M79 185h4M79 211h4M86 153h4M56 141h4M69 205h4M72 214h4M25 215h4M9 217h4M80 201h4M40 125h4M21 216h4M6 212h4M4 202h4M79 174h4M10 215h4M39 217h4M84 153h4M23 216h4M2 194h4M5 213h4M4 186h4M98 197h4M7 159h4M11 138h4M18 131h4M87 180h4M3 165h4M82 125h4M3 165h4M4 149h4M12 143h4M33 215h4M5 177h4M2 190h4M2 148h4M74 217h4M7 208h4M100 199h4M112 181h4M82 157h4M7 134h4M10 112h4M115 165h4M97 166h4M88 197h4M95 182h4M6 216h4M8 137h4M2 187h4M28 217h4M105 171h4M54 124h4M5 207h4M20 217h4M60 147h4M105 179h4M78 177h4M55 147h4M66 215h4M82 151h4M40 141h4M104 131h4M4 181h4M4 147h4M59 215h4M10 156h4M75 203h4M70 160h4M35 137h4M5 201h4M84 176h4M59 212h4M53 151h4M46 215h4M83 199h4M45 131h4M6 209h4M47 149h4M81 179h4M9 153h4M3 216h4M84 198h4M90 202h4M3 167h4M6 142h4M80 166h4M18 127h4M75 194h4M56 215h4M54 217h4M31 145h4M5 168h4M7 153h4M2 134h4M73 134h4M85 164h4M3 161h4M67 215h4M14 126h4M44 141h4M46 217h4M23 217h4M62 217h4M66 144h4M81 193h4M72 217h4M45 143h4M84 171h4M2 200h4M61 215h4M3 204h4M3 209h4M69 153h4M56 150h4M74 215h4M74 159h4M54 217h4M21 216h4M58 212h4M33 215h4M77 176h4M5 137h4M92 191h4M75 163h4M8 154h4M76 166h4M86 208h4M75 209h4M9 155h4M23 216h4M54 150h4M62 215h4M43 128h4M3 198h4M4 211h4M79 204h4M99 179h4M68 157h4M35 141h4M94 145h4M77 193h4M90 180h4M3 214h4M36 146h4M38 215h4M76 147h4M3 145h4M91 207h4M46 217h4M25 146h4M4 198h4M81 153h4M71 150h4M16 217h4M54 148h4M2 148h4M14 215h4M5 194h4M88 153h4M55 215h4M80 183h4M42 215h4M88 206h4M58 216h4M2 157h4M23 217h4M91 191h4M55 216h4M64 146h4M56 213h4M4 152h4M2 207h4M51 216h4M77 190h4M59 216h4M79 147h4M95 183h4M68 147h4M2 158h4M92 174h4M19 143h4M58 150h4M73 214h4M36 217h4M70 162h4M77 157h4M4 135h4M71 215h4M99 197h4M13 214h4M78 199h4M99 155h4M76 197h4M42 145h4M75 165h4M3 163h4M2 139h4M15 116h4M80 161h4M2 133h4M50 132h4M76 196h4M23 121h4M12 140h4M3 130h4M16 216h4M87 200h4M94 170h4M35 142h4M52 127h4M3 198h4M95 200h4M44 144h4M3 207h4M77 199h4M58 128h4M79 210h4M18 218h4M74 164h4M10 216h4M57 150h4M100 193h4M3 161h4M46 134h4M88 147h4M2 155h4M116 191h4M71 210h4M77 148h4M8 215h4M2 216h4M32 215h4M65 146h4M74 197h4M26 139h4M54 216h4M61 212h4M85 191h4M37 147h4M2 193h4M38 136h4M20 217h4M4 211h4M91 152h4M11 140h4M30 215h4M65 136h4M4 198h4M76 158h4M93 202h4M78 172h4M80 160h4M5 120h4M76 215h4M3 217h4M73 207h4M16 147h4M27 144h4M93 195h4M3 217h4M2 179h4M5 206h4M3 148h4M2 158h4M52 216h4M2 133h4M16 215h4M85 169h4M65 209h4M19 217h4M66 213h4M3 160h4M56 216h4M81 215h4M78 133h4M40 215h4M97 178h4M73 208h4M75 173h4M66 215h4M35 214h4M3 173h4M8 139h4M8 130h4M90 180h4M65 159h4M72 166h4M87 171h4M79 162h4M99 191h4M50 148h4M70 150h4M23 216h4M75 217h4M77 201h4M41 215h4M3 190h4M77 175h4M55 134h4M70 145h4M74 167h4M3 193h4M4 147h4M41 216h4M16 138h4M5 197h4M4 177h4M92 206h4M86 172h4M20 216h4M3 153h4M27 216h4M88 185h4M81 208h4M62 214h4M44 215h4M82 217h4M65 217h4M72 205h4M44 215h4M96 202h4M45 217h4M69 140h4M76 168h4M125 197h4M3 215h4M5 200h4M86 148h4M35 215h4M70 216h4M4 197h4M123 175h4M63 146h4M41 136h4M30 217h4M108 171h4M2 157h4M120 179h4M111 180h4M65 136h4M5 209h4M4 193h4M84 196h4M7 216h4M2 164h4M10 216h4M70 207h4M57 215h4M11 211h4M83 150h4M102 160h4M95 194h4M79 172h4M91 208h4M91 179h4M57 51h4M65 62h4M58 93h4M20 75h4M30 52h4M44 78h4M59 87h4M60 66h4M102 71h4M16 83h4M16 76h4M42 82h4M78 78h4M41 79h4M10 67h4M45 76h4M63 60h4M25 74h4M12 65h4M74 36h4M13 75h4M74 58h4M39 51h4M59 58h4M7 64h4M69 61h4M15 53h4M15 77h4M24 54h4M58 71h4M59 73h4M88 65h4M23 39h4M6 28h4M61 59h4M72 62h4M9 40h4M35 77h4M3 44h4M86 67h4M2 56h4M71 63h4M9 61h4M29 78h4M11 52h4M40 87h4M80 68h4M20 76h4M67 53h4M20 64h4M64 65h4M57 83h4M17 79h4M18 55h4M47 81h4M16 66h4M13 66h4M86 59h4M20 74h4M19 61h4M21 85h4M30 39h4M3 48h4M53 83h4M6 64h4M35 34h4M52 73h4M13 62h4M74 40h4M66 54h4M56 78h4M65 62h4M71 82h4M47 49h4M65 90h4M9 80h4M21 56h4M80 50h4M23 73h4M3 71h4M62 61h4M7 55h4M63 62h4M24 55h4M36 75h4M13 60h4M52 82h4M10 73h4M23 44h4M19 77h4M44 78h4M19 57h4M15 62h4M7 79h4M3 61h4M65 62h4M39 83h4M20 60h4M71 69h4M70 47h4M60 55h4M32 47h4M26 42h4M51 84h4M26 87h4M5 94h4M63 66h4M88 50h4M35 78h4M14 68h4M11 88h4M39 46h4M19 82h4M37 35h4M18 67h4M25 80h4M65 58h4M4 71h4M36 81h4M103 61h4M3 68h4M13 44h4M68 60h4M15 52h4M71 45h4M38 75h4M28 85h4M50 50h4M26 72h4M44 38h4M26 49h4M2 85h4M31 82h4M78 83h4M72 64h4M4 53h4M74 72h4M73 62h4M63 84h4M25 48h4M48 35h4M32 52h4M65 63h4M3 63h4M73 58h4M4 70h4M54 45h4M59 76h4M29 82h4M63 65h4M71 66h4M89 81h4M55 84h4M27 82h4M64 65h4M49 76h4M44 96h4M66 55h4M2 64h4M5 66h4M20 75h4M33 79h4M22 43h4M43 81h4M57 46h4M86 41h4M34 35h4M60 65h4M16 53h4M12 41h4M60 68h4M80 72h4M75 62h4M2 51h4M14 53h4M52 86h4M75 57h4M49 51h4M60 52h4M35 87h4M51 49h4M61 70h4M59 55h4M26 50h4M58 43h4M64 53h4M89 64h4M78 55h4M17 66h4M10 79h4M32 34h4M8 59h4M34 51h4M4 58h4M7 52h4M80 69h4M23 70h4M57 98h4M34 121h4M34 40h4M54 48h4M20 69h4M20 57h4M50 80h4M59 70h4M77 79h4M20 53h4M72 39h4M13 71h4M47 102h4M75 63h4M38 74h4M3 43h4M58 79h4M31 47h4M73 44h4M11 62h4M6 73h4M41 90h4M40 49h4M29 44h4M16 47h4M31 102h4M47 100h4M32 122h4M69 96h4M106 136h4M37 134h4M45 89h4M24 150h4M87 135h4M2 130h4M59 81h4M24 100h4M60 120h4M55 126h4M56 143h4M35 135h4M4 89h4M72 81h4M44 120h4M14 89h4M21 105h4M66 115h4M30 100h4M34 85h4M56 114h4M35 126h4M25 88h4M9 125h4M40 142h4M48 133h4M55 130h4M8 70h4M46 156h4M2 127h4M64 104h4M53 81h4M34 91h4M89 75h4M57 83h4M51 154h4M14 100h4M3 109h4M56 91h4M25 109h4M25 86h4M79 151h4M76 109h4M21 66h4M60 120h4M4 155h4M7 93h4M78 77h4M70 122h4M46 109h4M18 125h4M50 120h4M34 108h4M81 70h4M66 87h4M3 96h4M33 113h4M4 120h4M43 80h4M79 124h4M38 101h4M85 102h4M28 142h4M23 119h4M31 163h4M102 116h4M13 116h4M75 153h4M27 117h4M72 131h4M3 94h4M70 127h4M40 117h4M77 105h4M39 104h4M31 93h4M18 112h4M36 126h4M65 142h4M47 101h4M21 96h4M94 109h4M14 101h4M2 114h4M50 97h4M93 115h4M35 117h4M42 121h4M5 89h4M64 106h4M67 74h4M77 53h4M14 66h4M65 144h4M58 103h4M55 91h4M35 146h4M35 146h4M74 126h4M47 128h4M62 99h4M29 94h4M61 90h4M27 156h4M65 155h4M46 111h4M55 119h4M7 128h4M47 94h4M54 98h4M53 142h4M72 83h4M2 99h4M4 127h4M57 81h4M7 111h4M72 104h4M30 125h4M47 142h4M35 151h4M28 102h4M42 103h4M53 108h4M33 123h4M26 81h4M20 86h4M26 122h4M19 152h4M74 130h4M49 146h4M22 106h4M42 131h4M4 77h4M77 121h4M34 109h4M9 133h4M53 129h4M49 130h4M23 123h4M4 133h4M50 101h4M37 114h4M2 122h4M89 123h4M49 132h4M4 101h4M22 128h4M53 102h4M47 90h4M57 116h4M173 88h4M163 46h4M161 36h4M200 41h4M188 39h4M188 77h4M176 40h4M187 83h4M188 82h4M200 50h4M160 83h4M147 79h4M177 86h4M154 59h4M161 74h4M163 66h4M150 67h4M196 52h4M153 72h4M165 34h4M184 80h4M195 68h4M159 36h4M180 36h4M160 66h4M185 37h4M192 88h4M198 87h4M175 80h4M186 96h4M169 97h4M158 59h4M184 80h4M165 72h4M163 50h4M191 50h4M168 41h4M191 74h4M193 73h4M165 42h4M156 59h4M193 100h4M148 54h4M174 82h4M176 80h4M197 61h4M166 96h4M162 60h4M187 43h4M176 39h4M193 51h4M190 82h4M198 39h4M185 88h4M192 38h4M165 47h4M176 81h4M193 57h4M166 74h4M161 67h4M167 44h4M196 51h4M194 70h4M166 39h4M181 33h4M160 64h4M190 41h4M164 70h4M160 77h4M157 82h4M173 84h4M197 61h4M195 44h4M162 75h4M171 25h4M187 38h4M186 86h4M157 50h4M161 74h4M201 66h4M172 36h4M160 57h4M177 35h4M151 73h4M193 42h4M152 49h4M175 27h4M167 82h4M157 65h4M165 47h4M188 78h4M167 33h4M159 41h4M199 59h4M168 85h4M167 80h4M203 69h4M201 57h4M169 96h4M172 88h4M185 44h4M166 79h4M185 38h4M184 88h4M178 88h4M176 27h4M193 76h4M165 77h4M164 95h4M162 42h4M179 42h4M198 46h4M194 71h4M156 42h4M192 90h4M158 48h4M163 74h4M165 47h4M195 66h4M158 50h4M182 42h4M168 75h4M166 78h4M165 50h4M177 26h4M161 74h4M213 63h4M195 36h4M193 87h4M187 79h4M199 56h4M191 49h4M167 74h4M169 37h4M51 95h4M82 111h4M141 76h4M106 81h4M146 82h4M4 44h4M150 111h4M45 57h4M125 104h4M107 23h4M101 61h4M22 74h4M67 113h4M179 98h4M35 63h4M82 137h4M80 105h4M114 94h4M91 79h4M95 42h4M96 83h4M101 72h4M117 76h4M152 130h4M90 70h4M162 45h4M157 106h4M195 67h4M114 90h4M84 60h4M155 85h4M59 68h4M162 92h4M134 93h4M53 55h4M36 48h4M75 100h4M124 86h4M93 131h4M82 76h4M100 79h4M154 42h4M124 86h4M79 108h4M139 56h4M82 82h4M87 73h4M55 71h4M84 99h4M104 73h4M157 67h4M107 115h4M75 197h4M64 155h4M106 170h4M54 170h4M46 161h4M90 138h4M84 172h4M51 165h4M118 145h4M87 136h4M44 176h4M79 162h4M56 192h4M44 162h4M63 140h4M70 149h4M75 217h4M126 155h4M115 109h4M52 134h4M68 162h4M64 122h4M56 141h4M34 162h4M61 161h4M133 143h4M30 133h4M118 117h4M82 161h4M51 131h4M108 162h4M25 150h4M139 143h4M68 142h4M84 180h4M93 174h4M65 147h4M61 162h4M123 132h4M80 164h4M78 176h4M60 178h4M21 127h4M104 112h4M58 175h4M71 169h4M64 115h4M60 179h4M71 165h4M77 173h4M68 157h4M142 142h4M134 116h4M58 144h4M88 150h4M91 143h4M68 141h4M54 155h4M84 151h4M81 160h4M102 194h4M91 171h4M40 180h4M92 145h4M71 162h4M54 181h4M65 151h4M77 161h4M74 147h4M49 178h4M85 173h4M81 154h4M103 115h4M61 185h4M83 161h4M65 172h4M55 184h4M69 183h4M69 144h4M67 138h4M77 148h4M71 139h4M92 143h4M46 167h4M97 163h4M98 140h4M67 135h4M50 163h4M70 175h4M84 178h4M95 119h4M57 155h4M32 171h4M68 141h4M97 156h4M41 150h4M84 171h4M41 160h4M59 155h4M78 175h4M49 165h4M78 151h4M81 161h4M56 198h4" stroke="#cb2d10" stroke-width="4" fill="none"/>
</g></g>
<rect x="84.5" y="609.5" width="61" height="55" fill="none" stroke="#3a3a3a" stroke-width=".85"/>
<path d="M113.5 609.5L113.5 664.5" stroke="#222" stroke-width="1" fill="none"/>
<path d="M84.5 645.5L145.5 645.5" stroke="#222" stroke-width="1" fill="none"/>
<text x="86.5" y="615.1" font-size="5.3" text-anchor="start" fill="#262626">14.68</text>
<text x="143.9" y="615.1" font-size="5.3" text-anchor="end" fill="#262626">26.16</text>
<text x="86.7" y="662.7" font-size="5.3" text-anchor="start" fill="#7a1205">59.10</text>
<text x="143.9" y="662.7" font-size="5.3" text-anchor="end" fill="#262626">0.06</text>
<path d="M85.1 664.5v2.2M84.5 663.9h-2.2M89.58 664.5v1M84.5 659.87h-1M92.2 664.5v1M84.5 657.52h-1M94.06 664.5v1M84.5 655.85h-1M95.5 664.5v1M84.5 654.55h-1M96.67 664.5v1M84.5 653.49h-1M97.67 664.5v1M84.5 652.6h-1M98.53 664.5v1M84.5 651.82h-1M99.29 664.5v1M84.5 651.14h-1M99.97 664.5v2.2M84.5 650.52h-2.2M104.45 664.5v1M84.5 646.5h-1M107.07 664.5v1M84.5 644.14h-1M108.93 664.5v1M84.5 642.47h-1M110.37 664.5v1M84.5 641.18h-1M111.55 664.5v1M84.5 640.12h-1M112.55 664.5v1M84.5 639.22h-1M113.41 664.5v1M84.5 638.45h-1M114.17 664.5v1M84.5 637.76h-1M114.85 664.5v2.2M84.5 637.15h-2.2M119.33 664.5v1M84.5 633.12h-1M121.95 664.5v1M84.5 630.77h-1M123.81 664.5v1M84.5 629.1h-1M125.25 664.5v1M84.5 627.8h-1M126.42 664.5v1M84.5 626.74h-1M127.42 664.5v1M84.5 625.85h-1M128.28 664.5v1M84.5 625.07h-1M129.04 664.5v1M84.5 624.39h-1M129.72 664.5v2.2M84.5 623.77h-2.2M134.2 664.5v1M84.5 619.75h-1M136.82 664.5v1M84.5 617.39h-1M138.68 664.5v1M84.5 615.72h-1M140.12 664.5v1M84.5 614.43h-1M141.3 664.5v1M84.5 613.37h-1M142.3 664.5v1M84.5 612.47h-1M143.16 664.5v1M84.5 611.7h-1M143.92 664.5v1M84.5 611.01h-1M144.6 664.5v2.2M84.5 610.4h-2.2" stroke="#333" stroke-width=".45" fill="none"/>
<text x="86.1" y="672.5" font-size="5.7" text-anchor="middle" fill="#000">10<tspan font-size="3.8" dy="-2.3">0</tspan></text>
<text x="81.3" y="662.9" font-size="5.7" text-anchor="middle" fill="#000" transform="rotate(-90 81.3 662.9)">10<tspan font-size="3.8" dy="-2.3">0</tspan></text>
<text x="100.97" y="672.5" font-size="5.7" text-anchor="middle" fill="#000">10<tspan font-size="3.8" dy="-2.3">1</tspan></text>
<text x="81.3" y="649.52" font-size="5.7" text-anchor="middle" fill="#000" transform="rotate(-90 81.3 649.52)">10<tspan font-size="3.8" dy="-2.3">1</tspan></text>
<text x="115.85" y="672.5" font-size="5.7" text-anchor="middle" fill="#000">10<tspan font-size="3.8" dy="-2.3">2</tspan></text>
<text x="81.3" y="636.15" font-size="5.7" text-anchor="middle" fill="#000" transform="rotate(-90 81.3 636.15)">10<tspan font-size="3.8" dy="-2.3">2</tspan></text>
<text x="130.72" y="672.5" font-size="5.7" text-anchor="middle" fill="#000">10<tspan font-size="3.8" dy="-2.3">3</tspan></text>
<text x="81.3" y="622.77" font-size="5.7" text-anchor="middle" fill="#000" transform="rotate(-90 81.3 622.77)">10<tspan font-size="3.8" dy="-2.3">3</tspan></text>
<text x="145.6" y="672.5" font-size="5.7" text-anchor="middle" fill="#000">10<tspan font-size="3.8" dy="-2.3">4</tspan></text>
<text x="81.3" y="609.4" font-size="5.7" text-anchor="middle" fill="#000" transform="rotate(-90 81.3 609.4)">10<tspan font-size="3.8" dy="-2.3">4</tspan></text>
<text x="114.5" y="677.7" font-size="4.6" text-anchor="middle" fill="#333">Gr1</text>
<text x="73.7" y="637" font-size="5.6" text-anchor="middle" transform="rotate(-90 73.7 637)" fill="#111">CD11b</text>
<clipPath id="k14"><rect x="84.5" y="685.5" width="61" height="56"/></clipPath>
<g clip-path="url(#k14)"><g>
<ellipse cx="93.6" cy="732.6" rx="9.1" ry="6.44" fill="#cb2d10"/>
<ellipse cx="96.2" cy="703.8" rx="6.19" ry="4.25" fill="#cb2d10"/>
<ellipse cx="132" cy="708.8" rx="2.59" ry="8.53" fill="#cb2d10"/>
<path transform="translate(84.5 685.5) scale(.25)" d="M64 204h4M5 157h4M25 211h4M5 205h4M34 217h4M4 168h4M75 207h4M70 206h4M73 193h4M40 220h4M58 208h4M21 151h4M12 220h4M26 220h4M42 221h4M3 167h4M72 179h4M3 187h4M3 215h4M37 220h4M58 209h4M14 155h4M82 184h4M61 156h4M73 200h4M113 189h4M80 173h4M73 219h4M49 165h4M11 150h4M81 194h4M35 220h4M70 193h4M42 215h4M11 171h4M3 189h4M66 212h4M29 220h4M10 214h4M71 134h4M20 221h4M66 206h4M4 199h4M74 202h4M3 182h4M6 151h4M5 215h4M47 153h4M62 220h4M13 213h4M20 151h4M67 220h4M3 182h4M74 190h4M47 221h4M52 161h4M80 189h4M89 184h4M96 196h4M2 182h4M40 162h4M87 176h4M8 213h4M3 193h4M4 189h4M42 221h4M4 207h4M2 170h4M49 220h4M4 176h4M30 158h4M36 219h4M61 172h4M69 195h4M16 219h4M70 201h4M75 186h4M5 210h4M22 219h4M97 158h4M38 219h4M9 221h4M2 195h4M4 177h4M6 160h4M52 158h4M28 221h4M59 162h4M73 214h4M39 213h4M6 177h4M10 220h4M42 214h4M71 175h4M75 179h4M51 154h4M3 169h4M3 185h4M85 214h4M10 172h4M60 211h4M90 205h4M101 172h4M78 204h4M59 154h4M16 221h4M2 188h4M81 211h4M17 156h4M2 192h4M3 171h4M3 181h4M68 171h4M3 197h4M58 209h4M59 170h4M90 205h4M22 166h4M39 142h4M31 159h4M80 177h4M44 144h4M72 215h4M47 165h4M2 212h4M66 146h4M68 208h4M49 212h4M45 212h4M12 216h4M44 212h4M82 179h4M12 211h4M55 216h4M2 161h4M59 211h4M81 153h4M5 188h4M4 196h4M33 160h4M5 219h4M13 215h4M68 202h4M6 167h4M79 182h4M2 166h4M17 167h4M29 215h4M62 169h4M4 203h4M96 174h4M53 221h4M70 141h4M12 214h4M2 180h4M58 221h4M2 176h4M6 143h4M38 212h4M50 161h4M14 207h4M64 167h4M35 213h4M38 155h4M6 177h4M37 152h4M59 208h4M4 219h4M21 214h4M32 164h4M5 172h4M76 197h4M53 148h4M70 208h4M70 203h4M2 195h4M60 213h4M4 186h4M29 160h4M3 207h4M44 216h4M4 183h4M50 163h4M3 191h4M77 191h4M62 168h4M15 155h4M60 167h4M19 220h4M72 185h4M64 210h4M66 160h4M65 204h4M4 179h4M2 189h4M57 220h4M7 176h4M70 184h4M68 205h4M2 197h4M47 159h4M75 172h4M43 217h4M66 209h4M2 170h4M36 156h4M4 178h4M11 167h4M4 207h4M4 199h4M24 218h4M77 219h4M30 163h4M81 191h4M28 220h4M20 221h4M24 219h4M10 167h4M69 219h4M69 164h4M42 215h4M27 214h4M13 162h4M11 163h4M44 220h4M57 217h4M3 186h4M11 205h4M60 211h4M59 212h4M96 192h4M96 199h4M5 177h4M61 207h4M78 207h4M50 161h4M46 161h4M77 195h4M2 192h4M75 183h4M47 165h4M79 203h4M7 214h4M8 171h4M74 187h4M4 167h4M65 156h4M21 153h4M80 175h4M50 162h4M29 163h4M2 198h4M3 203h4M14 166h4M67 200h4M33 220h4M16 166h4M70 196h4M89 181h4M77 211h4M49 164h4M71 158h4M64 174h4M75 207h4M4 205h4M58 220h4M79 181h4M65 171h4M15 216h4M87 205h4M43 148h4M49 216h4M54 212h4M15 214h4M88 163h4M56 211h4M68 203h4M57 209h4M7 163h4M69 168h4M3 201h4M2 184h4M85 220h4M53 220h4M33 220h4M17 131h4M70 209h4M67 207h4M51 219h4M3 181h4M3 182h4M3 202h4M34 97h4M85 62h4M78 79h4M15 58h4M39 98h4M3 88h4M24 41h4M8 83h4M22 68h4M43 58h4M49 95h4M72 78h4M58 104h4M38 94h4M15 78h4M93 78h4M59 93h4M2 71h4M58 38h4M67 64h4M18 60h4M86 91h4M39 91h4M37 40h4M69 84h4M24 84h4M44 35h4M22 47h4M73 69h4M48 51h4M75 75h4M68 81h4M30 47h4M28 110h4M32 51h4M42 105h4M27 49h4M55 50h4M19 71h4M39 88h4M22 66h4M19 46h4M70 68h4M79 75h4M69 54h4M11 69h4M24 56h4M88 75h4M36 91h4M34 89h4M8 64h4M24 78h4M23 93h4M46 53h4M12 56h4M48 96h4M71 111h4M79 76h4M5 59h4M58 57h4M3 88h4M9 53h4M74 100h4M62 88h4M21 86h4M75 63h4M79 56h4M13 50h4M54 46h4M50 92h4M28 33h4M98 34h4M2 60h4M94 77h4M50 52h4M27 83h4M73 101h4M94 85h4M54 97h4M72 67h4M40 108h4M60 54h4M3 72h4M76 89h4M53 53h4M24 89h4M16 92h4M30 57h4M28 87h4M71 87h4M72 68h4M79 81h4M34 59h4M78 44h4M51 96h4M17 55h4M39 53h4M35 54h4M36 49h4M39 107h4M3 81h4M69 63h4M17 53h4M37 105h4M62 101h4M65 62h4M94 60h4M85 50h4M42 92h4M41 92h4M72 71h4M29 101h4M45 50h4M20 69h4M3 107h4M92 68h4M64 59h4M17 76h4M24 96h4M11 56h4M76 63h4M26 92h4M46 47h4M69 45h4M24 58h4M63 57h4M14 84h4M27 61h4M58 47h4M66 84h4M59 41h4M79 56h4M26 85h4M57 88h4M83 46h4M34 103h4M118 63h4M13 65h4M89 71h4M77 73h4M36 89h4M85 104h4M90 72h4M32 61h4M69 92h4M9 60h4M16 109h4M46 55h4M29 61h4M73 92h4M79 56h4M19 54h4M66 86h4M31 87h4M34 38h4M43 97h4M36 48h4M89 79h4M45 55h4M19 85h4M31 55h4M105 37h4M84 87h4M23 67h4M39 103h4M28 58h4M44 97h4M30 91h4M29 53h4M45 52h4M80 90h4M19 86h4M25 87h4M4 85h4M63 91h4M44 48h4M88 90h4M16 73h4M40 90h4M45 51h4M60 50h4M34 88h4M16 54h4M62 61h4M22 60h4M22 70h4M80 71h4M16 57h4M62 61h4M23 67h4M71 59h4M45 91h4M44 95h4M67 87h4M58 97h4M43 19h4M51 40h4M4 84h4M33 99h4M71 78h4M65 103h4M53 90h4M8 107h4M4 69h4M28 84h4M44 36h4M75 87h4M42 90h4M15 82h4M84 59h4M9 82h4M108 69h4M26 100h4M82 67h4M23 106h4M66 83h4M12 82h4M32 88h4M27 65h4M71 68h4M25 101h4M20 89h4M42 96h4M77 84h4M12 73h4M8 71h4M22 101h4M33 52h4M11 77h4M57 49h4M79 51h4M34 60h4M22 66h4M79 100h4M60 108h4M46 91h4M65 90h4M90 78h4M63 87h4M55 33h4M53 54h4M74 52h4M88 87h4M40 92h4M52 98h4M54 97h4M75 63h4M38 90h4M47 53h4M62 86h4M38 43h4M42 44h4M78 95h4M56 52h4M6 79h4M67 45h4M9 94h4M25 95h4M21 72h4M36 55h4M72 58h4M61 56h4M31 45h4M54 113h4M23 34h4M75 55h4M24 94h4M67 100h4M7 69h4M90 58h4M35 87h4M45 95h4M3 56h4M27 87h4M64 95h4M78 57h4M16 62h4M69 67h4M12 69h4M71 92h4M13 91h4M33 36h4M52 44h4M7 90h4M56 53h4M30 60h4M43 55h4M67 65h4M4 72h4M84 85h4M5 58h4M22 78h4M30 91h4M97 83h4M49 90h4M93 75h4M69 86h4M4 93h4M72 52h4M53 100h4M52 109h4M4 144h4M76 106h4M34 74h4M53 98h4M68 92h4M78 157h4M101 133h4M29 111h4M62 148h4M21 118h4M34 148h4M12 141h4M70 185h4M19 167h4M30 126h4M66 104h4M11 165h4M59 132h4M127 112h4M86 161h4M84 110h4M71 92h4M5 120h4M92 148h4M12 137h4M82 117h4M87 148h4M19 168h4M23 144h4M36 130h4M20 103h4M67 141h4M54 134h4M34 163h4M3 147h4M17 119h4M57 179h4M30 67h4M38 114h4M77 164h4M52 120h4M45 91h4M58 128h4M18 67h4M2 112h4M5 128h4M83 107h4M52 115h4M24 162h4M72 129h4M103 70h4M82 113h4M25 66h4M82 108h4M29 97h4M13 142h4M33 113h4M44 124h4M66 123h4M47 129h4M11 169h4M35 123h4M47 143h4M67 140h4M40 175h4M27 91h4M60 107h4M66 107h4M61 116h4M18 95h4M27 148h4M45 154h4M79 121h4M99 129h4M76 205h4M94 160h4M17 107h4M83 119h4M66 104h4M59 121h4M78 136h4M60 150h4M76 80h4M61 75h4M11 134h4M54 153h4M3 164h4M45 90h4M18 143h4M37 142h4M37 178h4M60 157h4M54 121h4M39 129h4M5 156h4M111 140h4M56 127h4M47 101h4M29 102h4M15 105h4M49 108h4M74 160h4M21 141h4M40 130h4M67 163h4M42 159h4M54 91h4M36 87h4M36 131h4M98 120h4M69 114h4M15 147h4M54 124h4M60 150h4M4 108h4M72 84h4M85 108h4M14 136h4M58 128h4M52 108h4M99 143h4M53 138h4M92 150h4M15 138h4M31 122h4M43 110h4M49 111h4M98 163h4M25 98h4M41 120h4M44 111h4M30 141h4M59 117h4M63 84h4M22 157h4M56 107h4M28 109h4M73 113h4M77 157h4M92 124h4M72 86h4M40 170h4M45 107h4M28 124h4M42 112h4M28 121h4M77 175h4M2 97h4M43 100h4M113 130h4M31 133h4M3 131h4M56 126h4M29 119h4M28 84h4M168 85h4M182 112h4M209 104h4M187 130h4M176 49h4M165 81h4M203 84h4M179 94h4M182 57h4M184 125h4M181 58h4M180 113h4M198 74h4M172 109h4M199 78h4M200 71h4M207 118h4M183 131h4M199 122h4M186 64h4M206 142h4M199 117h4M184 125h4M186 56h4M193 137h4M199 112h4M192 128h4M185 61h4M180 96h4M182 131h4M178 88h4M190 40h4M188 50h4M182 31h4M199 108h4M204 107h4M194 22h4M176 88h4M186 58h4M186 39h4M190 159h4M204 124h4M198 56h4M183 65h4M188 40h4M193 135h4M179 75h4M186 62h4M204 78h4M209 51h4M185 47h4M196 161h4M171 91h4M206 92h4M189 128h4M201 138h4M188 160h4M179 109h4M186 124h4M200 74h4M179 84h4M203 124h4M191 167h4M196 66h4M181 111h4M182 71h4M193 133h4M199 129h4M176 105h4M178 155h4M204 77h4M183 122h4M184 67h4M176 72h4M181 110h4M185 66h4M180 48h4M198 74h4M203 142h4M204 77h4M191 129h4M208 83h4M194 64h4M178 109h4M201 88h4M205 99h4M189 54h4M176 120h4M186 47h4M178 76h4M193 33h4M211 131h4M199 121h4M195 66h4M193 128h4M189 133h4M200 93h4M189 61h4M194 126h4M199 132h4M215 99h4M199 124h4M181 79h4M202 117h4M183 157h4M201 79h4M199 77h4M194 60h4M193 129h4M211 138h4M184 120h4M178 129h4M204 109h4M185 136h4M193 132h4M190 134h4M183 136h4M194 141h4M201 62h4M212 122h4M181 131h4M183 63h4M201 100h4M185 150h4M175 35h4M176 128h4M182 111h4M203 82h4M184 61h4M179 109h4M197 37h4M189 61h4M178 108h4M201 120h4M201 136h4M182 65h4M194 132h4M176 75h4M176 124h4M200 128h4M180 118h4M183 66h4M206 104h4M205 103h4M192 158h4M181 57h4M171 56h4M204 117h4M205 83h4M200 107h4M181 132h4M182 112h4M178 105h4M179 85h4M176 76h4M179 120h4M199 67h4M195 136h4M189 129h4M202 73h4M180 76h4M188 139h4M205 104h4M200 82h4M201 87h4M186 127h4M202 66h4M184 130h4M178 58h4M198 125h4M200 141h4M200 64h4M172 83h4M195 34h4M184 132h4M202 78h4M193 57h4M187 125h4M189 133h4M200 69h4M183 125h4M194 147h4M187 167h4M208 178h4M180 183h4M200 154h4M198 183h4M200 162h4M190 141h4M205 208h4M198 145h4M201 218h4M193 183h4M189 215h4M201 180h4M202 200h4M188 170h4M190 175h4M183 141h4M202 182h4M202 183h4M204 192h4M197 165h4M199 136h4M103 119h4M126 120h4M114 107h4M194 88h4M100 163h4M96 142h4M161 150h4M188 144h4M130 66h4M80 126h4M200 116h4M146 123h4M72 31h4M140 93h4M130 61h4M131 137h4M131 135h4M105 114h4M157 135h4M129 61h4M37 94h4M84 114h4M147 96h4M114 140h4M149 100h4M108 110h4M121 108h4M111 110h4M75 109h4M89 61h4M196 109h4M159 37h4M99 81h4M122 77h4M175 75h4M106 115h4M202 130h4M167 163h4M95 100h4M143 84h4M101 100h4M122 68h4M78 91h4M109 93h4" stroke="#cb2d10" stroke-width="4" fill="none"/>
</g></g>
<rect x="84.5" y="685.5" width="61" height="56" fill="none" stroke="#3a3a3a" stroke-width=".85"/>
<path d="M114.5 685.5L114.5 741.5" stroke="#222" stroke-width="1" fill="none"/>
<path d="M84.5 723.5L145.5 723.5" stroke="#222" stroke-width="1" fill="none"/>
<text x="86.5" y="691.1" font-size="5.3" text-anchor="start" fill="#262626">19.16</text>
<text x="143.9" y="691.1" font-size="5.3" text-anchor="end" fill="#262626">25.83</text>
<text x="86.7" y="739.7" font-size="5.3" text-anchor="start" fill="#7a1205">54.39</text>
<text x="143.9" y="739.7" font-size="5.3" text-anchor="end" fill="#262626">0.62</text>
<path d="M85.1 741.5v2.2M84.5 740.9h-2.2M89.58 741.5v1M84.5 736.8h-1M92.2 741.5v1M84.5 734.4h-1M94.06 741.5v1M84.5 732.7h-1M95.5 741.5v1M84.5 731.38h-1M96.67 741.5v1M84.5 730.3h-1M97.67 741.5v1M84.5 729.39h-1M98.53 741.5v1M84.5 728.6h-1M99.29 741.5v1M84.5 727.9h-1M99.97 741.5v2.2M84.5 727.27h-2.2M104.45 741.5v1M84.5 723.17h-1M107.07 741.5v1M84.5 720.77h-1M108.93 741.5v1M84.5 719.07h-1M110.37 741.5v1M84.5 717.75h-1M111.55 741.5v1M84.5 716.67h-1M112.55 741.5v1M84.5 715.76h-1M113.41 741.5v1M84.5 714.97h-1M114.17 741.5v1M84.5 714.27h-1M114.85 741.5v2.2M84.5 713.65h-2.2M119.33 741.5v1M84.5 709.55h-1M121.95 741.5v1M84.5 707.15h-1M123.81 741.5v1M84.5 705.45h-1M125.25 741.5v1M84.5 704.13h-1M126.42 741.5v1M84.5 703.05h-1M127.42 741.5v1M84.5 702.14h-1M128.28 741.5v1M84.5 701.35h-1M129.04 741.5v1M84.5 700.65h-1M129.72 741.5v2.2M84.5 700.02h-2.2M134.2 741.5v1M84.5 695.92h-1M136.82 741.5v1M84.5 693.52h-1M138.68 741.5v1M84.5 691.82h-1M140.12 741.5v1M84.5 690.5h-1M141.3 741.5v1M84.5 689.42h-1M142.3 741.5v1M84.5 688.51h-1M143.16 741.5v1M84.5 687.72h-1M143.92 741.5v1M84.5 687.02h-1M144.6 741.5v2.2M84.5 686.4h-2.2" stroke="#333" stroke-width=".45" fill="none"/>
<text x="86.1" y="749.5" font-size="5.7" text-anchor="middle" fill="#000">10<tspan font-size="3.8" dy="-2.3">0</tspan></text>
<text x="81.3" y="739.9" font-size="5.7" text-anchor="middle" fill="#000" transform="rotate(-90 81.3 739.9)">10<tspan font-size="3.8" dy="-2.3">0</tspan></text>
<text x="100.97" y="749.5" font-size="5.7" text-anchor="middle" fill="#000">10<tspan font-size="3.8" dy="-2.3">1</tspan></text>
<text x="81.3" y="726.27" font-size="5.7" text-anchor="middle" fill="#000" transform="rotate(-90 81.3 726.27)">10<tspan font-size="3.8" dy="-2.3">1</tspan></text>
<text x="115.85" y="749.5" font-size="5.7" text-anchor="middle" fill="#000">10<tspan font-size="3.8" dy="-2.3">2</tspan></text>
<text x="81.3" y="712.65" font-size="5.7" text-anchor="middle" fill="#000" transform="rotate(-90 81.3 712.65)">10<tspan font-size="3.8" dy="-2.3">2</tspan></text>
<text x="130.72" y="749.5" font-size="5.7" text-anchor="middle" fill="#000">10<tspan font-size="3.8" dy="-2.3">3</tspan></text>
<text x="81.3" y="699.02" font-size="5.7" text-anchor="middle" fill="#000" transform="rotate(-90 81.3 699.02)">10<tspan font-size="3.8" dy="-2.3">3</tspan></text>
<text x="145.6" y="749.5" font-size="5.7" text-anchor="middle" fill="#000">10<tspan font-size="3.8" dy="-2.3">4</tspan></text>
<text x="81.3" y="685.4" font-size="5.7" text-anchor="middle" fill="#000" transform="rotate(-90 81.3 685.4)">10<tspan font-size="3.8" dy="-2.3">4</tspan></text>
<text x="114.5" y="754.7" font-size="4.6" text-anchor="middle" fill="#333">Gr1</text>
<text x="73.7" y="713.5" font-size="5.6" text-anchor="middle" transform="rotate(-90 73.7 713.5)" fill="#111">CD11b</text>
<clipPath id="k15"><rect x="84.5" y="761.5" width="61" height="55"/></clipPath>
<g clip-path="url(#k15)"><g>
<ellipse cx="93.6" cy="807.6" rx="10.61" ry="7.2" fill="#cb2d10"/>
<ellipse cx="95" cy="776.4" rx="9.58" ry="6.28" fill="#cb2d10"/>
<ellipse cx="130" cy="780" rx="4.14" ry="11.03" fill="#cb2d10"/>
<path transform="translate(84.5 761.5) scale(.25)" d="M65 166h4M105 126h4M70 156h4M93 140h4M66 215h4M64 216h4M76 167h4M69 150h4M91 194h4M84 197h4M6 165h4M57 155h4M80 161h4M8 215h4M4 167h4M61 216h4M8 217h4M12 209h4M8 156h4M3 175h4M59 208h4M88 145h4M91 199h4M21 155h4M47 210h4M48 157h4M101 162h4M38 218h4M8 217h4M4 134h4M7 162h4M69 216h4M14 161h4M60 217h4M67 166h4M75 214h4M10 158h4M4 163h4M4 203h4M42 211h4M73 197h4M41 217h4M4 178h4M88 186h4M75 162h4M91 201h4M89 173h4M3 168h4M22 159h4M39 213h4M105 179h4M82 168h4M71 206h4M61 215h4M24 215h4M3 195h4M4 213h4M34 155h4M91 162h4M84 127h4M62 215h4M39 212h4M65 166h4M78 192h4M110 169h4M3 181h4M76 167h4M2 209h4M106 188h4M77 197h4M81 186h4M35 143h4M4 160h4M42 150h4M104 210h4M2 161h4M66 164h4M77 174h4M82 183h4M31 217h4M2 168h4M63 217h4M85 196h4M3 200h4M65 160h4M3 216h4M5 203h4M57 149h4M56 217h4M40 215h4M14 156h4M36 146h4M2 161h4M15 216h4M66 150h4M78 192h4M16 155h4M25 217h4M93 201h4M87 166h4M76 202h4M4 169h4M3 200h4M80 174h4M2 206h4M7 165h4M12 147h4M2 186h4M2 179h4M101 192h4M66 161h4M48 154h4M79 175h4M12 215h4M2 204h4M54 210h4M79 154h4M90 181h4M8 208h4M35 157h4M16 215h4M29 214h4M43 217h4M10 136h4M3 177h4M35 218h4M80 193h4M97 184h4M40 156h4M80 180h4M88 164h4M38 152h4M51 216h4M77 202h4M26 216h4M113 197h4M85 159h4M30 217h4M31 216h4M6 163h4M4 211h4M32 156h4M39 138h4M82 162h4M65 159h4M26 111h4M3 198h4M4 160h4M3 153h4M3 179h4M3 180h4M94 173h4M33 212h4M87 177h4M46 212h4M34 213h4M15 217h4M77 190h4M75 146h4M66 215h4M81 173h4M35 212h4M2 215h4M49 217h4M62 156h4M83 163h4M79 192h4M69 201h4M96 206h4M2 205h4M63 215h4M4 199h4M102 168h4M2 176h4M72 159h4M2 191h4M71 165h4M41 217h4M5 164h4M89 211h4M72 216h4M92 156h4M85 210h4M46 216h4M13 163h4M75 217h4M71 166h4M77 205h4M45 153h4M25 212h4M66 216h4M80 194h4M4 171h4M95 168h4M26 148h4M42 216h4M97 182h4M108 184h4M47 216h4M85 171h4M49 212h4M3 161h4M19 148h4M36 150h4M5 154h4M121 158h4M15 156h4M66 154h4M32 216h4M49 156h4M76 176h4M97 192h4M5 214h4M80 182h4M6 202h4M44 154h4M3 191h4M75 191h4M24 217h4M32 152h4M84 195h4M44 151h4M3 171h4M65 143h4M26 217h4M19 151h4M74 212h4M112 169h4M4 188h4M55 208h4M42 156h4M103 182h4M91 178h4M22 217h4M22 217h4M61 162h4M86 197h4M80 179h4M3 194h4M6 166h4M21 216h4M85 196h4M73 197h4M60 163h4M87 182h4M25 217h4M57 157h4M3 183h4M20 217h4M38 214h4M92 181h4M35 213h4M62 143h4M67 159h4M3 183h4M56 208h4M95 154h4M72 143h4M90 192h4M5 168h4M3 217h4M4 170h4M67 155h4M2 204h4M92 183h4M76 180h4M35 211h4M87 203h4M15 210h4M48 144h4M74 174h4M89 195h4M66 212h4M93 196h4M4 193h4M77 167h4M56 211h4M4 198h4M86 190h4M82 191h4M77 216h4M68 216h4M2 191h4M54 217h4M61 159h4M7 212h4M92 173h4M6 205h4M32 154h4M31 216h4M42 212h4M84 206h4M44 147h4M39 156h4M17 153h4M26 157h4M77 175h4M19 159h4M3 149h4M19 156h4M60 160h4M71 162h4M63 216h4M8 161h4M2 194h4M62 153h4M99 208h4M85 215h4M61 215h4M27 213h4M84 172h4M56 155h4M55 211h4M85 191h4M73 159h4M38 153h4M66 153h4M101 165h4M92 215h4M114 157h4M3 205h4M48 157h4M92 209h4M8 209h4M48 153h4M29 137h4M70 144h4M80 181h4M46 157h4M73 198h4M86 166h4M12 209h4M22 214h4M4 199h4M36 153h4M92 192h4M9 214h4M4 155h4M76 178h4M19 148h4M4 191h4M91 176h4M4 145h4M12 151h4M77 190h4M4 163h4M18 145h4M26 147h4M42 214h4M70 205h4M105 167h4M36 148h4M124 175h4M2 174h4M83 178h4M10 155h4M2 167h4M14 208h4M75 164h4M4 203h4M2 194h4M80 163h4M36 217h4M72 144h4M71 158h4M78 176h4M76 194h4M79 157h4M4 190h4M2 195h4M4 158h4M8 217h4M50 215h4M77 188h4M32 216h4M89 188h4M117 123h4M49 133h4M2 201h4M80 64h4M36 36h4M87 66h4M65 34h4M78 79h4M3 47h4M46 33h4M90 61h4M45 84h4M43 85h4M86 66h4M82 113h4M33 101h4M15 78h4M42 100h4M77 78h4M78 31h4M10 88h4M28 31h4M7 79h4M81 72h4M5 84h4M87 58h4M57 38h4M32 98h4M79 58h4M90 31h4M3 40h4M4 84h4M2 76h4M4 60h4M2 46h4M79 39h4M80 72h4M4 50h4M3 48h4M2 63h4M33 84h4M3 49h4M41 95h4M3 53h4M91 84h4M49 88h4M2 68h4M3 80h4M19 89h4M40 109h4M78 40h4M76 70h4M8 75h4M78 49h4M33 100h4M35 36h4M2 77h4M60 38h4M11 14h4M34 83h4M5 30h4M87 66h4M61 94h4M45 98h4M32 26h4M88 89h4M33 90h4M79 64h4M83 65h4M67 4h4M82 47h4M9 45h4M111 42h4M17 81h4M97 63h4M24 82h4M45 99h4M91 64h4M79 33h4M69 79h4M64 80h4M50 88h4M65 25h4M4 78h4M14 76h4M37 89h4M60 83h4M21 29h4M74 104h4M44 102h4M112 92h4M3 75h4M2 119h4M64 34h4M43 7h4M71 86h4M24 95h4M7 75h4M3 91h4M4 88h4M8 50h4M79 40h4M28 28h4M31 93h4M98 80h4M38 98h4M11 83h4M10 48h4M54 36h4M50 31h4M2 54h4M62 94h4M12 84h4M2 105h4M99 66h4M32 103h4M68 38h4M41 29h4M22 40h4M14 29h4M89 45h4M102 29h4M69 88h4M90 79h4M20 78h4M81 51h4M47 89h4M51 94h4M19 15h4M33 87h4M4 84h4M7 34h4M3 60h4M46 84h4M2 46h4M53 30h4M35 97h4M98 41h4M85 72h4M2 57h4M72 73h4M39 35h4M56 25h4M73 39h4M35 24h4M73 39h4M2 56h4M17 26h4M5 82h4M6 70h4M107 42h4M2 87h4M60 24h4M77 43h4M81 55h4M101 54h4M30 98h4M10 29h4M10 105h4M76 51h4M10 32h4M3 61h4M87 66h4M8 44h4M5 71h4M12 74h4M77 66h4M8 25h4M3 60h4M27 22h4M57 105h4M29 83h4M5 65h4M106 64h4M78 59h4M6 32h4M5 59h4M73 37h4M58 36h4M31 35h4M110 49h4M2 68h4M117 30h4M79 35h4M11 44h4M34 33h4M21 100h4M86 86h4M5 68h4M65 28h4M57 108h4M84 40h4M79 40h4M63 30h4M57 17h4M24 81h4M14 45h4M9 48h4M80 66h4M47 84h4M59 30h4M4 48h4M87 70h4M5 82h4M62 33h4M52 102h4M32 83h4M8 38h4M15 96h4M3 73h4M51 23h4M22 31h4M18 19h4M92 72h4M26 35h4M81 98h4M85 28h4M106 68h4M4 51h4M8 85h4M4 70h4M32 36h4M87 63h4M102 28h4M35 29h4M13 88h4M91 51h4M4 81h4M11 82h4M77 66h4M4 44h4M57 87h4M65 88h4M44 27h4M74 30h4M16 43h4M31 25h4M43 33h4M79 43h4M71 40h4M79 46h4M5 50h4M93 72h4M8 74h4M81 59h4M70 80h4M19 22h4M3 61h4M77 68h4M5 17h4M2 55h4M81 80h4M11 72h4M74 28h4M60 39h4M79 95h4M5 77h4M21 80h4M77 55h4M76 84h4M76 90h4M77 42h4M3 58h4M78 52h4M4 42h4M46 24h4M79 82h4M53 29h4M10 72h4M4 83h4M22 34h4M4 71h4M35 32h4M47 85h4M17 28h4M58 36h4M110 36h4M4 52h4M76 29h4M68 27h4M83 72h4M67 79h4M10 75h4M54 96h4M2 62h4M56 34h4M22 39h4M73 83h4M75 50h4M54 35h4M47 26h4M8 73h4M4 45h4M53 32h4M77 55h4M8 83h4M27 35h4M6 81h4M29 28h4M2 61h4M51 98h4M91 45h4M8 68h4M4 78h4M74 39h4M23 99h4M99 63h4M105 62h4M2 55h4M91 77h4M36 87h4M42 92h4M56 31h4M11 81h4M13 80h4M78 37h4M15 92h4M32 33h4M15 80h4M45 34h4M71 30h4M4 36h4M47 25h4M11 75h4M83 59h4M74 43h4M4 47h4M94 38h4M78 56h4M95 56h4M38 85h4M26 36h4M50 110h4M95 67h4M75 49h4M72 85h4M58 85h4M79 91h4M88 58h4M4 59h4M5 47h4M9 78h4M90 99h4M86 68h4M28 84h4M103 82h4M87 65h4M56 86h4M91 34h4M52 33h4M32 31h4M6 54h4M50 92h4M96 53h4M21 91h4M89 65h4M4 97h4M3 41h4M75 78h4M68 84h4M84 43h4M8 44h4M50 27h4M61 32h4M4 92h4M27 34h4M80 57h4M56 82h4M49 97h4M79 83h4M64 107h4M84 55h4M10 41h4M10 37h4M36 93h4M56 7h4M122 45h4M90 67h4M86 85h4M35 95h4M114 63h4M67 124h4M9 27h4M30 83h4M78 91h4M4 57h4M58 86h4M3 58h4M25 86h4M99 41h4M18 29h4M28 33h4M13 84h4M102 102h4M36 146h4M86 172h4M68 134h4M41 147h4M28 123h4M68 83h4M69 130h4M17 147h4M67 103h4M124 114h4M19 133h4M42 148h4M11 103h4M109 148h4M29 95h4M3 126h4M5 124h4M61 118h4M123 93h4M102 115h4M37 123h4M22 104h4M15 113h4M52 119h4M5 133h4M13 120h4M12 145h4M28 98h4M29 86h4M58 155h4M11 135h4M63 114h4M113 118h4M12 96h4M37 82h4M24 100h4M30 77h4M77 155h4M79 132h4M6 137h4M5 96h4M33 94h4M17 102h4M2 135h4M5 137h4M48 101h4M109 132h4M21 126h4M30 151h4M30 105h4M47 70h4M24 171h4M62 107h4M72 95h4M51 110h4M24 118h4M81 105h4M24 118h4M38 135h4M53 90h4M23 135h4M37 89h4M4 110h4M42 134h4M30 124h4M2 113h4M33 157h4M23 127h4M94 115h4M52 126h4M5 88h4M4 95h4M26 112h4M23 161h4M81 95h4M76 108h4M33 118h4M55 93h4M49 93h4M3 131h4M79 131h4M64 105h4M25 120h4M20 158h4M68 132h4M35 86h4M14 80h4M61 92h4M52 150h4M25 101h4M23 120h4M69 114h4M56 155h4M14 107h4M62 98h4M35 118h4M79 147h4M35 123h4M50 144h4M56 138h4M58 166h4M4 72h4M59 118h4M3 146h4M4 174h4M48 170h4M92 131h4M37 156h4M30 111h4M50 117h4M30 128h4M28 115h4M19 119h4M48 147h4M78 96h4M40 93h4M28 151h4M76 113h4M77 116h4M30 133h4M18 89h4M3 119h4M60 130h4M54 80h4M26 121h4M63 114h4M39 119h4M44 106h4M59 138h4M57 92h4M74 121h4M12 126h4M23 121h4M25 119h4M66 139h4M106 153h4M2 133h4M42 177h4M26 160h4M15 89h4M47 116h4M8 139h4M118 125h4M63 112h4M46 154h4M54 125h4M8 123h4M78 140h4M27 126h4M65 136h4M31 146h4M106 125h4M31 101h4M82 98h4M47 146h4M30 136h4M62 157h4M42 78h4M14 138h4M46 111h4M24 131h4M51 147h4M33 100h4M67 145h4M59 92h4M14 121h4M79 187h4M56 102h4M27 127h4M2 157h4M42 97h4M50 172h4M33 99h4M33 145h4M52 112h4M46 128h4M46 117h4M21 128h4M46 124h4M6 157h4M18 109h4M3 105h4M72 135h4M93 122h4M25 117h4M51 128h4M106 108h4M46 157h4M50 140h4M46 90h4M47 125h4M55 107h4M67 131h4M25 144h4M39 126h4M50 111h4M35 120h4M8 136h4M62 136h4M2 138h4M28 130h4M63 108h4M5 143h4M61 117h4M74 131h4M61 120h4M23 120h4M76 109h4M39 148h4M49 114h4M60 94h4M7 137h4M30 155h4M27 157h4M41 154h4M26 151h4M80 142h4M2 116h4M27 173h4M37 125h4M3 145h4M68 136h4M43 161h4M38 149h4M15 126h4M23 115h4M16 103h4M47 149h4M66 157h4M2 135h4M68 136h4M46 110h4M57 59h4M73 82h4M60 152h4M28 140h4M43 115h4M82 104h4M54 114h4M43 97h4M7 111h4M36 169h4M27 128h4M77 106h4M79 113h4M62 120h4M65 163h4M85 133h4M56 94h4M2 114h4M34 92h4M21 159h4M65 120h4M70 128h4M29 123h4M14 128h4M54 118h4M19 99h4M25 120h4M41 110h4M56 173h4M45 116h4M23 101h4M25 111h4M87 119h4M57 123h4M42 101h4M31 124h4M2 112h4M45 151h4M41 143h4M27 120h4M64 102h4M47 141h4M36 125h4M44 115h4M33 145h4M32 86h4M35 126h4M87 155h4M21 141h4M27 84h4M47 148h4M42 129h4M31 139h4M19 144h4M25 114h4M28 173h4M40 130h4M34 136h4M44 128h4M81 163h4M49 85h4M44 159h4M82 47h4M76 111h4M32 133h4M72 118h4M44 99h4M19 131h4M2 89h4M16 128h4M5 82h4M12 103h4M63 129h4M67 72h4M75 104h4M57 138h4M24 114h4M82 143h4M3 133h4M59 108h4M15 109h4M67 133h4M19 116h4M63 133h4M49 128h4M21 121h4M13 107h4M28 108h4M21 143h4M7 97h4M59 128h4M43 69h4M33 152h4M37 127h4M19 99h4M88 127h4M55 140h4M7 111h4M36 90h4M45 137h4M9 124h4M23 99h4M2 141h4M39 79h4M82 126h4M86 123h4M56 139h4M55 125h4M11 126h4M2 117h4M37 177h4M89 127h4M42 83h4M16 100h4M49 133h4M41 115h4M21 102h4M2 73h4M40 91h4M27 142h4M61 104h4M64 105h4M40 114h4M14 97h4M38 127h4M72 83h4M51 131h4M63 103h4M30 131h4M2 147h4M63 80h4M22 91h4M67 120h4M34 121h4M73 154h4M55 145h4M38 96h4M12 138h4M42 87h4M33 77h4M34 136h4M17 136h4M52 125h4M100 81h4M28 147h4M9 132h4M12 170h4M64 133h4M175 31h4M166 23h4M200 89h4M168 57h4M175 22h4M208 100h4M164 111h4M177 14h4M199 141h4M199 103h4M185 116h4M194 22h4M170 48h4M188 27h4M161 128h4M192 109h4M160 99h4M158 133h4M177 29h4M192 121h4M187 9h4M179 117h4M189 26h4M185 160h4M189 31h4M173 27h4M166 57h4M185 33h4M174 119h4M175 137h4M184 33h4M202 109h4M195 44h4M164 63h4M182 14h4M208 63h4M164 111h4M161 40h4M179 127h4M165 82h4M171 108h4M174 28h4M192 30h4M207 145h4M173 109h4M164 70h4M194 43h4M189 25h4M199 107h4M166 40h4M199 55h4M166 99h4M168 125h4M161 74h4M195 110h4M185 126h4M205 87h4M170 106h4M200 50h4M174 28h4M196 114h4M166 80h4M205 67h4M194 32h4M195 114h4M162 52h4M165 73h4M182 116h4M206 79h4M184 21h4M198 122h4M187 20h4M173 20h4M181 116h4M170 46h4M202 80h4M197 87h4M198 93h4M204 53h4M186 20h4M176 129h4M168 57h4M167 111h4M150 63h4M206 111h4M216 122h4M172 115h4M177 14h4M194 132h4M185 140h4M159 62h4M167 110h4M167 59h4M164 39h4M201 62h4M204 86h4M189 141h4M172 121h4M200 94h4M191 21h4M205 104h4M189 137h4M169 100h4M211 103h4M212 46h4M193 35h4M182 122h4M178 33h4M159 68h4M165 90h4M203 35h4M172 116h4M173 119h4M184 147h4M181 157h4M195 116h4M194 109h4M188 140h4M200 32h4M205 21h4M192 42h4M200 41h4M198 109h4M205 123h4M194 29h4M212 69h4M155 97h4M181 138h4M175 115h4M187 23h4M179 114h4M173 39h4M182 134h4M170 28h4M161 63h4M175 144h4M168 112h4M166 96h4M179 33h4M159 99h4M181 134h4M195 97h4M178 137h4M191 152h4M209 91h4M182 118h4M201 56h4M168 47h4M194 120h4M188 119h4M198 53h4M196 59h4M170 37h4M208 68h4M188 132h4M208 83h4M192 153h4M160 82h4M177 27h4M200 70h4M173 25h4M198 37h4M204 55h4M166 58h4M169 98h4M185 23h4M174 20h4M159 100h4M175 33h4M194 107h4M181 30h4M209 86h4M168 53h4M181 129h4M203 60h4M197 92h4M204 49h4M165 92h4M183 125h4M165 132h4M173 31h4M169 125h4M161 64h4M202 95h4M159 92h4M160 95h4M162 75h4M198 63h4M191 42h4M191 31h4M183 31h4M192 107h4M176 126h4M205 50h4M172 118h4M201 92h4M191 137h4M189 21h4M198 104h4M188 24h4M181 120h4M188 121h4M164 96h4M181 141h4M188 22h4M188 36h4M199 80h4M174 9h4M201 73h4M180 18h4M168 43h4M160 54h4M208 43h4M199 111h4M199 58h4M175 21h4M199 137h4M170 44h4M176 33h4M177 20h4M199 109h4M200 28h4M201 61h4M197 98h4M187 134h4M178 116h4M183 28h4M172 11h4M194 106h4M184 122h4M167 87h4M199 69h4M181 131h4M204 92h4M166 120h4M159 68h4M193 142h4M175 37h4M166 58h4M191 33h4M216 86h4M165 40h4M165 87h4M208 53h4M198 108h4M162 68h4M193 105h4M196 37h4M211 66h4M170 19h4M167 103h4M206 66h4M184 30h4M197 51h4M195 144h4M202 80h4M172 7h4M200 71h4M184 28h4M153 61h4M163 83h4M168 56h4M176 11h4M198 51h4M166 98h4M188 28h4M176 28h4M169 20h4M214 112h4M201 97h4M198 103h4M201 111h4M194 23h4M161 54h4M194 22h4M175 33h4M201 27h4M166 58h4M200 39h4M211 57h4M198 115h4M195 50h4M180 19h4M199 48h4M203 81h4M188 12h4M190 30h4M156 4h4M163 80h4M161 79h4M193 26h4M181 172h4M185 120h4M186 192h4M179 145h4M174 139h4M199 160h4M178 204h4M182 214h4M178 122h4M187 137h4M173 146h4M184 189h4M191 155h4M192 160h4M185 184h4M180 176h4M189 213h4M192 169h4M187 158h4M181 166h4M192 167h4M180 171h4M184 105h4M188 148h4M188 181h4M194 180h4M190 144h4M180 177h4M190 213h4M184 152h4M182 177h4M183 185h4M183 184h4M189 168h4M192 176h4M182 157h4M186 142h4M165 155h4M194 182h4M188 174h4M179 159h4M187 157h4M175 105h4M180 195h4M178 192h4M162 193h4M186 192h4M189 146h4M184 144h4M182 163h4M180 177h4M181 171h4M183 114h4M170 170h4M193 183h4M197 175h4M183 161h4M188 169h4M192 143h4M197 198h4M184 148h4M182 201h4M187 208h4M195 134h4M176 171h4M180 142h4M200 208h4M178 165h4M179 145h4M187 146h4M112 88h4M90 150h4M127 120h4M126 66h4M150 102h4M113 85h4M66 79h4M139 133h4M82 57h4M86 123h4M159 129h4M129 105h4M98 78h4M79 98h4M109 53h4M150 118h4M132 109h4M152 70h4M69 92h4M72 117h4M147 41h4M107 95h4M87 74h4M108 132h4M117 100h4M165 106h4M142 116h4M108 28h4M97 126h4M133 110h4M126 59h4M140 159h4M134 47h4M168 135h4M90 137h4M96 60h4M153 88h4M159 56h4M127 71h4M183 119h4M105 115h4M133 50h4M114 36h4M95 92h4M134 53h4M151 118h4M101 61h4M143 97h4M102 21h4M80 123h4M119 102h4M111 100h4M122 30h4M106 75h4M109 83h4M144 148h4M129 123h4M112 45h4M68 62h4M101 49h4M94 65h4M140 94h4M114 58h4M131 80h4M139 21h4M80 158h4M132 73h4M115 99h4M122 100h4M57 89h4M80 81h4M139 68h4M72 37h4M136 93h4M131 135h4" stroke="#cb2d10" stroke-width="4" fill="none"/>
</g></g>
<rect x="84.5" y="761.5" width="61" height="55" fill="none" stroke="#3a3a3a" stroke-width=".85"/>
<path d="M108.5 761.5L108.5 816.5" stroke="#8a8a8a" stroke-width=".8" fill="none"/>
<path d="M84.5 797.5L145.5 797.5" stroke="#8a8a8a" stroke-width=".8" fill="none"/>
<text x="86.5" y="767.1" font-size="5.3" text-anchor="start" fill="#262626">23.58</text>
<text x="143.9" y="767.1" font-size="5.3" text-anchor="end" fill="#262626">29.78</text>
<text x="86.7" y="814.7" font-size="5.3" text-anchor="start" fill="#7a1205">43.46</text>
<text x="143.9" y="814.7" font-size="5.3" text-anchor="end" fill="#262626">3.18</text>
<path d="M85.1 816.5v2.2M84.5 815.9h-2.2M89.58 816.5v1M84.5 811.87h-1M92.2 816.5v1M84.5 809.52h-1M94.06 816.5v1M84.5 807.85h-1M95.5 816.5v1M84.5 806.55h-1M96.67 816.5v1M84.5 805.49h-1M97.67 816.5v1M84.5 804.6h-1M98.53 816.5v1M84.5 803.82h-1M99.29 816.5v1M84.5 803.14h-1M99.97 816.5v2.2M84.5 802.52h-2.2M104.45 816.5v1M84.5 798.5h-1M107.07 816.5v1M84.5 796.14h-1M108.93 816.5v1M84.5 794.47h-1M110.37 816.5v1M84.5 793.18h-1M111.55 816.5v1M84.5 792.12h-1M112.55 816.5v1M84.5 791.22h-1M113.41 816.5v1M84.5 790.45h-1M114.17 816.5v1M84.5 789.76h-1M114.85 816.5v2.2M84.5 789.15h-2.2M119.33 816.5v1M84.5 785.12h-1M121.95 816.5v1M84.5 782.77h-1M123.81 816.5v1M84.5 781.1h-1M125.25 816.5v1M84.5 779.8h-1M126.42 816.5v1M84.5 778.74h-1M127.42 816.5v1M84.5 777.85h-1M128.28 816.5v1M84.5 777.07h-1M129.04 816.5v1M84.5 776.39h-1M129.72 816.5v2.2M84.5 775.77h-2.2M134.2 816.5v1M84.5 771.75h-1M136.82 816.5v1M84.5 769.39h-1M138.68 816.5v1M84.5 767.72h-1M140.12 816.5v1M84.5 766.43h-1M141.3 816.5v1M84.5 765.37h-1M142.3 816.5v1M84.5 764.47h-1M143.16 816.5v1M84.5 763.7h-1M143.92 816.5v1M84.5 763.01h-1M144.6 816.5v2.2M84.5 762.4h-2.2" stroke="#333" stroke-width=".45" fill="none"/>
<text x="86.1" y="824.5" font-size="5.7" text-anchor="middle" fill="#000">10<tspan font-size="3.8" dy="-2.3">0</tspan></text>
<text x="81.3" y="814.9" font-size="5.7" text-anchor="middle" fill="#000" transform="rotate(-90 81.3 814.9)">10<tspan font-size="3.8" dy="-2.3">0</tspan></text>
<text x="100.97" y="824.5" font-size="5.7" text-anchor="middle" fill="#000">10<tspan font-size="3.8" dy="-2.3">1</tspan></text>
<text x="81.3" y="801.52" font-size="5.7" text-anchor="middle" fill="#000" transform="rotate(-90 81.3 801.52)">10<tspan font-size="3.8" dy="-2.3">1</tspan></text>
<text x="115.85" y="824.5" font-size="5.7" text-anchor="middle" fill="#000">10<tspan font-size="3.8" dy="-2.3">2</tspan></text>
<text x="81.3" y="788.15" font-size="5.7" text-anchor="middle" fill="#000" transform="rotate(-90 81.3 788.15)">10<tspan font-size="3.8" dy="-2.3">2</tspan></text>
<text x="130.72" y="824.5" font-size="5.7" text-anchor="middle" fill="#000">10<tspan font-size="3.8" dy="-2.3">3</tspan></text>
<text x="81.3" y="774.77" font-size="5.7" text-anchor="middle" fill="#000" transform="rotate(-90 81.3 774.77)">10<tspan font-size="3.8" dy="-2.3">3</tspan></text>
<text x="145.6" y="824.5" font-size="5.7" text-anchor="middle" fill="#000">10<tspan font-size="3.8" dy="-2.3">4</tspan></text>
<text x="81.3" y="761.4" font-size="5.7" text-anchor="middle" fill="#000" transform="rotate(-90 81.3 761.4)">10<tspan font-size="3.8" dy="-2.3">4</tspan></text>
<text x="114.5" y="829.7" font-size="4.6" text-anchor="middle" fill="#333">Gr1</text>
<text x="73.7" y="789" font-size="5.6" text-anchor="middle" transform="rotate(-90 73.7 789)" fill="#111">CD11b</text>
<clipPath id="k16"><rect x="187.5" y="609.5" width="61" height="55"/></clipPath>
<g clip-path="url(#k16)"><g>
<ellipse cx="196.2" cy="626.3" rx="7.93" ry="7.01" fill="#cb2d10"/>
<ellipse cx="196.2" cy="654" rx="9.85" ry="7.96" fill="#cb2d10"/>
<path transform="translate(187.5 609.5) scale(.25)" d="M10 81h4M47 24h4M34 105h4M45 42h4M33 99h4M4 33h4M73 62h4M64 78h4M69 58h4M14 40h4M16 28h4M3 74h4M12 32h4M2 81h4M66 43h4M47 92h4M53 36h4M92 93h4M14 47h4M4 75h4M50 92h4M65 60h4M57 38h4M33 27h4M16 90h4M34 28h4M65 55h4M72 67h4M53 89h4M41 37h4M5 82h4M65 91h4M79 88h4M5 84h4M97 83h4M18 29h4M18 110h4M4 77h4M68 82h4M69 58h4M87 55h4M39 38h4M61 26h4M52 41h4M44 95h4M62 84h4M5 96h4M39 26h4M76 53h4M42 36h4M4 62h4M3 107h4M61 92h4M13 46h4M82 70h4M62 44h4M44 103h4M39 109h4M64 53h4M33 101h4M2 63h4M17 88h4M15 114h4M50 32h4M2 42h4M68 100h4M3 58h4M2 53h4M76 93h4M46 37h4M8 92h4M70 58h4M61 81h4M48 92h4M24 94h4M68 52h4M3 79h4M36 94h4M71 65h4M3 55h4M14 96h4M69 57h4M12 50h4M59 101h4M49 39h4M56 87h4M48 97h4M24 105h4M27 100h4M75 76h4M42 39h4M10 45h4M69 51h4M3 67h4M47 98h4M37 41h4M7 48h4M58 84h4M59 88h4M55 46h4M29 32h4M60 45h4M40 41h4M85 70h4M6 59h4M52 94h4M9 50h4M44 99h4M18 41h4M66 63h4M22 91h4M17 36h4M68 61h4M3 71h4M75 79h4M43 106h4M34 103h4M9 37h4M42 105h4M12 99h4M57 89h4M43 94h4M67 92h4M5 65h4M2 52h4M26 18h4M64 48h4M63 46h4M16 88h4M73 84h4M5 70h4M26 99h4M63 52h4M72 81h4M82 58h4M76 91h4M3 82h4M20 43h4M33 39h4M24 95h4M34 17h4M3 67h4M9 80h4M78 31h4M51 89h4M64 93h4M72 86h4M4 29h4M7 33h4M41 40h4M65 83h4M4 102h4M5 68h4M69 67h4M17 45h4M65 77h4M16 45h4M24 40h4M67 82h4M94 65h4M70 55h4M65 77h4M45 34h4M54 46h4M55 47h4M29 93h4M73 76h4M67 43h4M63 45h4M55 87h4M38 96h4M5 76h4M78 59h4M79 64h4M64 61h4M8 90h4M4 48h4M39 37h4M5 53h4M42 124h4M3 47h4M69 63h4M69 88h4M4 85h4M65 83h4M100 63h4M31 113h4M64 54h4M82 72h4M72 64h4M58 86h4M87 74h4M59 52h4M34 36h4M3 75h4M6 111h4M5 74h4M2 32h4M3 86h4M17 26h4M10 102h4M4 78h4M71 50h4M65 47h4M45 95h4M82 56h4M24 37h4M70 74h4M14 44h4M64 80h4M22 20h4M67 45h4M5 79h4M69 73h4M47 98h4M10 98h4M48 38h4M20 98h4M44 102h4M12 42h4M25 32h4M62 82h4M63 55h4M71 76h4M49 33h4M4 76h4M4 79h4M66 89h4M52 98h4M64 38h4M73 45h4M83 33h4M5 87h4M66 49h4M13 23h4M74 78h4M6 31h4M50 108h4M49 6h4M65 71h4M24 40h4M32 27h4M2 45h4M52 89h4M61 36h4M81 65h4M22 34h4M99 83h4M10 36h4M67 54h4M4 74h4M62 100h4M2 35h4M69 84h4M77 95h4M58 94h4M4 43h4M67 45h4M5 38h4M76 78h4M32 96h4M56 35h4M28 104h4M46 98h4M54 98h4M28 40h4M31 35h4M41 29h4M74 43h4M8 84h4M51 39h4M34 38h4M43 97h4M3 82h4M70 56h4M25 28h4M52 40h4M2 74h4M71 84h4M81 80h4M64 65h4M47 43h4M5 77h4M2 79h4M3 54h4M50 91h4M21 38h4M83 91h4M48 100h4M56 106h4M65 70h4M4 107h4M2 58h4M4 85h4M64 51h4M61 90h4M5 65h4M59 51h4M2 76h4M20 44h4M24 17h4M51 44h4M3 73h4M31 100h4M47 101h4M45 33h4M3 38h4M3 60h4M62 91h4M23 43h4M62 49h4M73 57h4M23 107h4M83 43h4M3 167h4M87 139h4M2 181h4M2 139h4M54 145h4M4 194h4M68 156h4M5 157h4M30 216h4M4 167h4M87 153h4M2 198h4M62 154h4M73 196h4M65 199h4M47 216h4M3 183h4M49 206h4M31 148h4M69 201h4M28 137h4M4 161h4M3 179h4M84 217h4M67 159h4M21 206h4M5 192h4M93 189h4M55 152h4M102 163h4M62 154h4M73 171h4M9 217h4M10 211h4M67 127h4M19 135h4M77 174h4M7 119h4M14 217h4M77 149h4M5 141h4M34 146h4M58 205h4M57 208h4M75 168h4M58 210h4M31 133h4M68 147h4M5 168h4M20 212h4M69 161h4M23 207h4M13 150h4M23 140h4M19 217h4M51 211h4M2 151h4M40 210h4M17 218h4M33 210h4M78 155h4M41 144h4M3 191h4M3 214h4M38 211h4M54 148h4M31 146h4M2 155h4M2 187h4M73 171h4M84 199h4M5 209h4M5 211h4M26 141h4M66 200h4M81 210h4M32 136h4M4 201h4M75 173h4M49 206h4M75 173h4M90 204h4M65 197h4M74 205h4M58 154h4M20 210h4M69 203h4M80 173h4M5 157h4M21 148h4M21 209h4M76 184h4M30 213h4M2 176h4M3 178h4M2 126h4M3 197h4M19 211h4M8 155h4M66 155h4M92 188h4M4 156h4M4 154h4M2 157h4M94 158h4M20 139h4M84 195h4M11 152h4M83 149h4M87 158h4M53 129h4M56 147h4M86 140h4M4 158h4M93 141h4M28 133h4M72 200h4M5 168h4M3 173h4M36 214h4M3 176h4M4 214h4M76 156h4M42 134h4M2 148h4M40 215h4M38 212h4M4 169h4M30 135h4M3 161h4M4 159h4M26 209h4M2 201h4M67 203h4M54 206h4M59 215h4M27 146h4M7 205h4M77 176h4M35 142h4M26 212h4M59 211h4M68 161h4M9 143h4M6 154h4M2 166h4M35 211h4M2 179h4M3 217h4M4 201h4M51 206h4M17 206h4M65 203h4M64 145h4M45 215h4M2 217h4M22 216h4M32 147h4M12 128h4M4 214h4M55 147h4M92 138h4M36 215h4M3 156h4M46 144h4M10 120h4M2 187h4M71 188h4M37 215h4M9 156h4M84 191h4M74 175h4M51 207h4M75 161h4M2 171h4M2 176h4M9 120h4M22 208h4M25 215h4M65 206h4M24 142h4M67 196h4M14 209h4M2 144h4M10 148h4M17 205h4M48 215h4M18 206h4M61 217h4M17 212h4M3 133h4M20 205h4M92 182h4M88 190h4M68 161h4M49 146h4M4 174h4M36 209h4M18 213h4M106 167h4M79 183h4M70 165h4M51 210h4M11 154h4M75 194h4M70 167h4M77 175h4M67 204h4M25 147h4M3 217h4M38 215h4M68 200h4M31 143h4M29 149h4M75 209h4M70 161h4M47 207h4M98 139h4M11 146h4M65 209h4M5 157h4M94 148h4M14 213h4M13 142h4M4 159h4M57 215h4M92 166h4M4 205h4M9 200h4M86 184h4M31 217h4M57 215h4M75 180h4M93 193h4M85 182h4M5 197h4M4 146h4M37 209h4M4 189h4M74 176h4M3 187h4M112 165h4M25 211h4M68 154h4M54 212h4M12 146h4M79 171h4M69 158h4M4 201h4M77 172h4M44 146h4M5 195h4M82 189h4M68 147h4M45 215h4M84 159h4M23 143h4M35 141h4M44 217h4M74 156h4M80 172h4M32 145h4M103 182h4M88 178h4M12 201h4M46 146h4M3 172h4M72 177h4M51 136h4M2 164h4M62 142h4M27 138h4M53 126h4M65 199h4M3 147h4M5 194h4M54 125h4M74 176h4M83 202h4M5 177h4M3 162h4M6 216h4M55 147h4M32 142h4M44 215h4M75 202h4M61 206h4M3 158h4M71 150h4M73 157h4M60 212h4M2 217h4M74 140h4M22 142h4M63 199h4M8 154h4M25 148h4M77 205h4M62 140h4M9 210h4M23 144h4M4 199h4M17 150h4M30 145h4M29 217h4M75 164h4M5 193h4M47 147h4M2 174h4M2 190h4M65 198h4M5 216h4M54 214h4M15 151h4M23 118h4M41 143h4M24 213h4M72 171h4M13 216h4M29 217h4M78 184h4M58 209h4M73 136h4M59 206h4M2 191h4M70 159h4M38 211h4M72 175h4M55 153h4M2 179h4M60 203h4M4 171h4M27 138h4M50 150h4M3 174h4M4 213h4M70 153h4M74 157h4M2 203h4M84 197h4M32 123h4M56 208h4M83 152h4M41 217h4M39 127h4M75 195h4M9 153h4M87 191h4M52 152h4M3 206h4M64 198h4M42 147h4M2 201h4M16 152h4M2 156h4M50 151h4M71 201h4M59 215h4M5 196h4M47 216h4M53 149h4M3 132h4M8 213h4M64 217h4M67 201h4M51 206h4M40 146h4M28 126h4M4 198h4M44 148h4M35 147h4M64 215h4M83 216h4M66 153h4M87 197h4M2 155h4M19 148h4M70 169h4M35 136h4M71 107h4M137 148h4M36 138h4M60 109h4M75 110h4M20 132h4M37 88h4M69 108h4M17 133h4M67 119h4M72 105h4M56 89h4M48 97h4M52 113h4M32 105h4M53 124h4M49 136h4M116 137h4M79 156h4M81 93h4M21 130h4M85 116h4M12 88h4M6 109h4M22 117h4M46 133h4M82 110h4M51 134h4M3 71h4M70 106h4M98 112h4M49 161h4M91 88h4M28 115h4M18 82h4M21 112h4M77 153h4M54 125h4M14 160h4M72 134h4M83 132h4M50 113h4M27 112h4M18 130h4M31 130h4M78 146h4M27 123h4M8 100h4M22 156h4M30 134h4M36 114h4M47 134h4M24 120h4M91 128h4M33 97h4M65 102h4M26 116h4M23 99h4M65 109h4M51 113h4M4 87h4M69 93h4M39 104h4M37 146h4M44 116h4M71 101h4M47 136h4M53 132h4M40 157h4M60 130h4M66 139h4M36 121h4M22 172h4M3 133h4M111 35h4M165 100h4M134 165h4M166 67h4M157 133h4M60 22h4M147 35h4M119 24h4M115 77h4M168 38h4M97 145h4M67 152h4M111 132h4M100 151h4M71 150h4M71 164h4M97 135h4M82 147h4M71 144h4M89 146h4M80 139h4M85 130h4M91 162h4M69 139h4M80 142h4M82 150h4M63 156h4M86 148h4M88 143h4M69 139h4M58 128h4M80 134h4M88 142h4M68 151h4M75 153h4M57 137h4M96 145h4M74 125h4M77 162h4M87 133h4M87 132h4M98 159h4M71 154h4M91 155h4M90 117h4M83 149h4M69 153h4M78 147h4M70 129h4M60 144h4M84 140h4M72 137h4M86 149h4M87 165h4M87 168h4M77 147h4M94 129h4" stroke="#cb2d10" stroke-width="4" fill="none"/>
</g></g>
<rect x="187.5" y="609.5" width="61" height="55" fill="none" stroke="#3a3a3a" stroke-width=".85"/>
<path d="M214.5 609.5L214.5 664.5" stroke="#222" stroke-width="1" fill="none"/>
<path d="M187.5 644.5L248.5 644.5" stroke="#222" stroke-width="1" fill="none"/>
<text x="189.5" y="615.1" font-size="5.3" text-anchor="start" fill="#262626">38.82</text>
<text x="246.9" y="615.1" font-size="5.3" text-anchor="end" fill="#262626">0.07</text>
<text x="189.7" y="662.7" font-size="5.3" text-anchor="start" fill="#7a1205">61.07</text>
<text x="246.9" y="662.7" font-size="5.3" text-anchor="end" fill="#262626">0.04</text>
<path d="M188.1 664.5v2.2M187.5 663.9h-2.2M192.58 664.5v1M187.5 659.87h-1M195.2 664.5v1M187.5 657.52h-1M197.06 664.5v1M187.5 655.85h-1M198.5 664.5v1M187.5 654.55h-1M199.67 664.5v1M187.5 653.49h-1M200.67 664.5v1M187.5 652.6h-1M201.53 664.5v1M187.5 651.82h-1M202.29 664.5v1M187.5 651.14h-1M202.97 664.5v2.2M187.5 650.52h-2.2M207.45 664.5v1M187.5 646.5h-1M210.07 664.5v1M187.5 644.14h-1M211.93 664.5v1M187.5 642.47h-1M213.37 664.5v1M187.5 641.18h-1M214.55 664.5v1M187.5 640.12h-1M215.55 664.5v1M187.5 639.22h-1M216.41 664.5v1M187.5 638.45h-1M217.17 664.5v1M187.5 637.76h-1M217.85 664.5v2.2M187.5 637.15h-2.2M222.33 664.5v1M187.5 633.12h-1M224.95 664.5v1M187.5 630.77h-1M226.81 664.5v1M187.5 629.1h-1M228.25 664.5v1M187.5 627.8h-1M229.42 664.5v1M187.5 626.74h-1M230.42 664.5v1M187.5 625.85h-1M231.28 664.5v1M187.5 625.07h-1M232.04 664.5v1M187.5 624.39h-1M232.72 664.5v2.2M187.5 623.77h-2.2M237.2 664.5v1M187.5 619.75h-1M239.82 664.5v1M187.5 617.39h-1M241.68 664.5v1M187.5 615.72h-1M243.12 664.5v1M187.5 614.43h-1M244.3 664.5v1M187.5 613.37h-1M245.3 664.5v1M187.5 612.47h-1M246.16 664.5v1M187.5 611.7h-1M246.92 664.5v1M187.5 611.01h-1M247.6 664.5v2.2M187.5 610.4h-2.2" stroke="#333" stroke-width=".45" fill="none"/>
<text x="189.1" y="672.5" font-size="5.7" text-anchor="middle" fill="#000">10<tspan font-size="3.8" dy="-2.3">0</tspan></text>
<text x="184.3" y="662.9" font-size="5.7" text-anchor="middle" fill="#000" transform="rotate(-90 184.3 662.9)">10<tspan font-size="3.8" dy="-2.3">0</tspan></text>
<text x="203.97" y="672.5" font-size="5.7" text-anchor="middle" fill="#000">10<tspan font-size="3.8" dy="-2.3">1</tspan></text>
<text x="184.3" y="649.52" font-size="5.7" text-anchor="middle" fill="#000" transform="rotate(-90 184.3 649.52)">10<tspan font-size="3.8" dy="-2.3">1</tspan></text>
<text x="218.85" y="672.5" font-size="5.7" text-anchor="middle" fill="#000">10<tspan font-size="3.8" dy="-2.3">2</tspan></text>
<text x="184.3" y="636.15" font-size="5.7" text-anchor="middle" fill="#000" transform="rotate(-90 184.3 636.15)">10<tspan font-size="3.8" dy="-2.3">2</tspan></text>
<text x="233.72" y="672.5" font-size="5.7" text-anchor="middle" fill="#000">10<tspan font-size="3.8" dy="-2.3">3</tspan></text>
<text x="184.3" y="622.77" font-size="5.7" text-anchor="middle" fill="#000" transform="rotate(-90 184.3 622.77)">10<tspan font-size="3.8" dy="-2.3">3</tspan></text>
<text x="248.6" y="672.5" font-size="5.7" text-anchor="middle" fill="#000">10<tspan font-size="3.8" dy="-2.3">4</tspan></text>
<text x="184.3" y="609.4" font-size="5.7" text-anchor="middle" fill="#000" transform="rotate(-90 184.3 609.4)">10<tspan font-size="3.8" dy="-2.3">4</tspan></text>
<text x="217.5" y="677.7" font-size="4.6" text-anchor="middle" fill="#333">c-kit</text>
<text x="176.7" y="637" font-size="5.6" text-anchor="middle" transform="rotate(-90 176.7 637)" fill="#111">CD11b</text>
<clipPath id="k17"><rect x="187.5" y="685.5" width="61" height="55"/></clipPath>
<g clip-path="url(#k17)"><g>
<ellipse cx="197.5" cy="705" rx="8.85" ry="7.93" fill="#cb2d10"/>
<ellipse cx="196.2" cy="731.4" rx="9.1" ry="6.25" fill="#cb2d10"/>
<path transform="translate(187.5 685.5) scale(.25)" d="M5 73h4M30 112h4M31 49h4M12 100h4M22 114h4M58 40h4M61 104h4M56 44h4M47 38h4M13 40h4M15 54h4M90 74h4M33 27h4M50 116h4M5 70h4M46 40h4M3 98h4M3 56h4M78 78h4M9 63h4M82 75h4M3 85h4M5 75h4M76 57h4M14 46h4M5 68h4M42 40h4M76 85h4M40 109h4M80 75h4M55 38h4M31 44h4M42 44h4M3 96h4M65 119h4M76 70h4M24 116h4M60 39h4M18 49h4M50 118h4M2 103h4M24 119h4M75 66h4M10 109h4M33 43h4M72 109h4M61 53h4M44 128h4M80 61h4M71 62h4M85 49h4M22 108h4M81 80h4M2 45h4M53 113h4M85 90h4M31 145h4M3 88h4M45 37h4M25 123h4M21 48h4M7 96h4M65 102h4M68 49h4M2 93h4M30 41h4M5 58h4M4 76h4M38 110h4M43 49h4M21 107h4M78 57h4M15 56h4M3 96h4M29 44h4M81 70h4M73 35h4M8 55h4M5 95h4M58 37h4M82 70h4M41 40h4M3 108h4M61 46h4M41 33h4M3 53h4M29 46h4M3 93h4M73 97h4M35 130h4M86 41h4M73 89h4M63 113h4M52 113h4M6 110h4M101 52h4M6 88h4M24 45h4M35 118h4M2 74h4M86 41h4M52 107h4M93 67h4M42 129h4M5 45h4M79 91h4M14 39h4M50 48h4M86 60h4M45 44h4M4 75h4M6 63h4M52 50h4M53 108h4M12 95h4M56 104h4M23 35h4M52 40h4M12 100h4M36 132h4M82 68h4M81 47h4M2 79h4M61 116h4M83 31h4M9 103h4M69 113h4M88 103h4M22 103h4M4 51h4M12 26h4M2 106h4M29 33h4M2 99h4M76 65h4M53 118h4M8 53h4M77 52h4M7 86h4M46 28h4M58 43h4M13 102h4M36 47h4M4 99h4M7 81h4M68 118h4M76 95h4M37 127h4M92 62h4M4 102h4M66 49h4M17 41h4M2 104h4M23 118h4M101 74h4M30 28h4M39 31h4M76 82h4M99 45h4M66 52h4M8 93h4M25 48h4M70 34h4M87 66h4M85 82h4M58 32h4M3 61h4M14 59h4M80 66h4M59 105h4M85 65h4M70 96h4M30 46h4M30 108h4M73 102h4M61 104h4M27 40h4M44 48h4M86 72h4M90 131h4M77 72h4M19 127h4M108 89h4M67 113h4M53 46h4M84 46h4M5 77h4M8 107h4M34 39h4M85 64h4M3 77h4M43 31h4M12 107h4M62 100h4M61 46h4M88 67h4M25 46h4M38 47h4M92 66h4M82 87h4M36 22h4M71 63h4M8 96h4M34 111h4M16 127h4M12 59h4M77 83h4M31 108h4M10 62h4M66 59h4M7 68h4M17 112h4M8 92h4M42 117h4M6 73h4M4 93h4M79 38h4M2 57h4M84 54h4M6 65h4M3 65h4M43 115h4M76 60h4M76 78h4M75 109h4M29 44h4M30 42h4M67 58h4M31 114h4M25 45h4M3 72h4M83 87h4M33 35h4M21 33h4M4 104h4M8 72h4M48 30h4M33 131h4M15 38h4M65 43h4M29 47h4M72 63h4M91 95h4M2 72h4M18 53h4M2 111h4M20 110h4M73 102h4M64 105h4M83 88h4M50 45h4M76 96h4M45 119h4M2 88h4M70 50h4M37 43h4M34 37h4M29 139h4M56 128h4M57 43h4M74 90h4M10 60h4M85 57h4M62 102h4M4 72h4M27 139h4M82 74h4M39 41h4M4 82h4M74 52h4M71 44h4M70 64h4M3 35h4M82 66h4M73 67h4M18 31h4M56 45h4M69 124h4M75 113h4M33 142h4M36 114h4M99 117h4M78 112h4M23 46h4M26 106h4M8 70h4M25 49h4M75 55h4M8 87h4M73 91h4M75 105h4M72 69h4M57 31h4M50 29h4M11 55h4M46 112h4M17 55h4M99 90h4M4 90h4M75 101h4M37 146h4M50 43h4M37 112h4M91 67h4M7 96h4M6 65h4M24 108h4M78 94h4M9 105h4M51 25h4M84 131h4M18 102h4M32 107h4M7 96h4M73 85h4M58 106h4M67 98h4M77 49h4M16 110h4M52 42h4M7 93h4M20 40h4M71 49h4M52 118h4M37 40h4M46 47h4M105 80h4M3 73h4M6 53h4M44 114h4M8 52h4M77 73h4M10 45h4M23 47h4M60 117h4M78 109h4M61 44h4M38 47h4M49 35h4M12 41h4M3 129h4M12 51h4M7 84h4M53 107h4M62 103h4M48 113h4M83 43h4M74 84h4M62 32h4M20 41h4M54 48h4M67 55h4M65 55h4M76 92h4M19 33h4M4 88h4M8 67h4M47 109h4M68 49h4M13 55h4M72 53h4M5 103h4M81 62h4M58 35h4M11 59h4M58 38h4M35 49h4M37 129h4M77 59h4M53 27h4M42 10h4M6 62h4M86 76h4M54 204h4M66 205h4M68 169h4M87 200h4M9 204h4M12 148h4M45 150h4M54 208h4M4 205h4M4 174h4M29 210h4M72 171h4M40 212h4M52 154h4M23 155h4M23 156h4M45 160h4M5 171h4M3 172h4M25 153h4M57 164h4M68 175h4M73 162h4M14 212h4M66 171h4M63 171h4M5 203h4M54 161h4M27 211h4M2 175h4M2 206h4M12 203h4M68 159h4M63 215h4M2 217h4M74 181h4M64 171h4M54 209h4M69 212h4M56 162h4M15 206h4M3 194h4M2 182h4M3 170h4M56 206h4M69 202h4M47 208h4M38 143h4M97 202h4M39 159h4M19 156h4M65 165h4M58 160h4M64 202h4M49 155h4M3 173h4M5 204h4M25 160h4M14 216h4M18 205h4M2 210h4M79 179h4M49 152h4M3 170h4M4 170h4M2 180h4M38 214h4M20 160h4M82 151h4M46 206h4M70 198h4M79 204h4M14 158h4M70 182h4M51 162h4M3 169h4M23 208h4M3 216h4M59 166h4M54 205h4M7 205h4M3 149h4M67 152h4M48 215h4M60 200h4M25 152h4M88 170h4M31 211h4M48 162h4M2 186h4M49 205h4M68 213h4M70 191h4M2 187h4M16 157h4M79 171h4M3 189h4M40 215h4M56 162h4M43 158h4M14 146h4M62 166h4M72 208h4M3 187h4M29 158h4M33 154h4M6 163h4M72 194h4M68 170h4M5 146h4M44 210h4M5 167h4M3 173h4M85 201h4M6 200h4M55 209h4M82 173h4M48 206h4M83 153h4M3 186h4M7 207h4M8 199h4M12 201h4M47 208h4M105 162h4M56 147h4M22 158h4M67 166h4M66 199h4M46 147h4M58 201h4M14 215h4M13 202h4M2 182h4M11 213h4M16 214h4M62 204h4M6 165h4M4 171h4M42 159h4M12 166h4M74 211h4M3 210h4M5 171h4M2 165h4M18 156h4M50 207h4M78 215h4M35 217h4M35 209h4M76 183h4M31 158h4M5 188h4M12 161h4M20 156h4M66 165h4M47 215h4M11 154h4M56 163h4M16 206h4M66 167h4M36 215h4M47 206h4M28 142h4M66 195h4M63 168h4M18 161h4M2 198h4M4 170h4M47 136h4M23 157h4M2 182h4M3 185h4M30 208h4M43 213h4M3 201h4M3 195h4M14 203h4M3 176h4M73 180h4M73 183h4M80 153h4M3 197h4M33 208h4M54 164h4M9 213h4M66 195h4M87 179h4M69 162h4M68 192h4M70 171h4M63 171h4M3 180h4M46 133h4M44 216h4M83 162h4M3 186h4M24 122h4M9 201h4M57 166h4M8 153h4M2 194h4M37 209h4M5 190h4M94 199h4M17 204h4M68 168h4M10 167h4M82 181h4M47 212h4M5 169h4M38 216h4M4 170h4M4 161h4M5 173h4M2 160h4M47 206h4M9 142h4M8 206h4M2 167h4M5 177h4M60 216h4M67 204h4M62 146h4M70 198h4M2 174h4M4 211h4M41 156h4M65 169h4M67 198h4M13 164h4M18 205h4M7 165h4M4 199h4M32 158h4M2 180h4M15 203h4M31 150h4M13 212h4M112 185h4M9 214h4M15 159h4M2 199h4M27 151h4M20 155h4M114 184h4M61 165h4M64 165h4M3 157h4M53 158h4M3 177h4M80 160h4M4 171h4M4 177h4M25 211h4M4 152h4M73 156h4M4 196h4M80 217h4M4 189h4M3 171h4M3 217h4M2 173h4M70 183h4M13 204h4M3 171h4M61 168h4M4 170h4M2 201h4M11 204h4M18 152h4M56 207h4M17 206h4M28 207h4M86 177h4M3 171h4M3 171h4M23 158h4M28 118h4M37 127h4M22 121h4M32 116h4M77 138h4M81 126h4M36 174h4M37 137h4M32 127h4M15 103h4M40 116h4M50 138h4M42 130h4M96 125h4M36 143h4M97 143h4M47 140h4M62 118h4M55 126h4M31 138h4M11 129h4M49 112h4M5 123h4M43 147h4M9 123h4M67 143h4M13 139h4M10 137h4M12 132h4M36 143h4M106 136h4M39 116h4M22 129h4M5 137h4M76 159h4M4 146h4M69 118h4M97 140h4M55 116h4M42 141h4M82 129h4M9 133h4M52 137h4M50 121h4M48 125h4M47 133h4M83 115h4M17 116h4M4 109h4M3 134h4M66 157h4M40 140h4M3 130h4M45 111h4M191 106h4M179 125h4M48 26h4M144 82h4M193 73h4M204 61h4M154 82h4M158 73h4M193 115h4M154 50h4" stroke="#cb2d10" stroke-width="4" fill="none"/>
</g></g>
<rect x="187.5" y="685.5" width="61" height="55" fill="none" stroke="#3a3a3a" stroke-width=".85"/>
<path d="M214.5 685.5L214.5 740.5" stroke="#222" stroke-width="1" fill="none"/>
<path d="M187.5 720.5L248.5 720.5" stroke="#222" stroke-width="1" fill="none"/>
<text x="189.5" y="691.1" font-size="5.3" text-anchor="start" fill="#262626">49.94</text>
<text x="246.9" y="691.1" font-size="5.3" text-anchor="end" fill="#262626">0.18</text>
<text x="189.7" y="738.7" font-size="5.3" text-anchor="start" fill="#7a1205">49.82</text>
<text x="246.9" y="738.7" font-size="5.3" text-anchor="end" fill="#262626">0.06</text>
<path d="M188.1 740.5v2.2M187.5 739.9h-2.2M192.58 740.5v1M187.5 735.87h-1M195.2 740.5v1M187.5 733.52h-1M197.06 740.5v1M187.5 731.85h-1M198.5 740.5v1M187.5 730.55h-1M199.67 740.5v1M187.5 729.49h-1M200.67 740.5v1M187.5 728.6h-1M201.53 740.5v1M187.5 727.82h-1M202.29 740.5v1M187.5 727.14h-1M202.97 740.5v2.2M187.5 726.52h-2.2M207.45 740.5v1M187.5 722.5h-1M210.07 740.5v1M187.5 720.14h-1M211.93 740.5v1M187.5 718.47h-1M213.37 740.5v1M187.5 717.18h-1M214.55 740.5v1M187.5 716.12h-1M215.55 740.5v1M187.5 715.22h-1M216.41 740.5v1M187.5 714.45h-1M217.17 740.5v1M187.5 713.76h-1M217.85 740.5v2.2M187.5 713.15h-2.2M222.33 740.5v1M187.5 709.12h-1M224.95 740.5v1M187.5 706.77h-1M226.81 740.5v1M187.5 705.1h-1M228.25 740.5v1M187.5 703.8h-1M229.42 740.5v1M187.5 702.74h-1M230.42 740.5v1M187.5 701.85h-1M231.28 740.5v1M187.5 701.07h-1M232.04 740.5v1M187.5 700.39h-1M232.72 740.5v2.2M187.5 699.77h-2.2M237.2 740.5v1M187.5 695.75h-1M239.82 740.5v1M187.5 693.39h-1M241.68 740.5v1M187.5 691.72h-1M243.12 740.5v1M187.5 690.43h-1M244.3 740.5v1M187.5 689.37h-1M245.3 740.5v1M187.5 688.47h-1M246.16 740.5v1M187.5 687.7h-1M246.92 740.5v1M187.5 687.01h-1M247.6 740.5v2.2M187.5 686.4h-2.2" stroke="#333" stroke-width=".45" fill="none"/>
<text x="189.1" y="748.5" font-size="5.7" text-anchor="middle" fill="#000">10<tspan font-size="3.8" dy="-2.3">0</tspan></text>
<text x="184.3" y="738.9" font-size="5.7" text-anchor="middle" fill="#000" transform="rotate(-90 184.3 738.9)">10<tspan font-size="3.8" dy="-2.3">0</tspan></text>
<text x="203.97" y="748.5" font-size="5.7" text-anchor="middle" fill="#000">10<tspan font-size="3.8" dy="-2.3">1</tspan></text>
<text x="184.3" y="725.52" font-size="5.7" text-anchor="middle" fill="#000" transform="rotate(-90 184.3 725.52)">10<tspan font-size="3.8" dy="-2.3">1</tspan></text>
<text x="218.85" y="748.5" font-size="5.7" text-anchor="middle" fill="#000">10<tspan font-size="3.8" dy="-2.3">2</tspan></text>
<text x="184.3" y="712.15" font-size="5.7" text-anchor="middle" fill="#000" transform="rotate(-90 184.3 712.15)">10<tspan font-size="3.8" dy="-2.3">2</tspan></text>
<text x="233.72" y="748.5" font-size="5.7" text-anchor="middle" fill="#000">10<tspan font-size="3.8" dy="-2.3">3</tspan></text>
<text x="184.3" y="698.77" font-size="5.7" text-anchor="middle" fill="#000" transform="rotate(-90 184.3 698.77)">10<tspan font-size="3.8" dy="-2.3">3</tspan></text>
<text x="248.6" y="748.5" font-size="5.7" text-anchor="middle" fill="#000">10<tspan font-size="3.8" dy="-2.3">4</tspan></text>
<text x="184.3" y="685.4" font-size="5.7" text-anchor="middle" fill="#000" transform="rotate(-90 184.3 685.4)">10<tspan font-size="3.8" dy="-2.3">4</tspan></text>
<text x="217.5" y="753.7" font-size="4.6" text-anchor="middle" fill="#333">c-kit</text>
<text x="176.7" y="713" font-size="5.6" text-anchor="middle" transform="rotate(-90 176.7 713)" fill="#111">CD11b</text>
<clipPath id="k18"><rect x="187.5" y="761.5" width="61" height="55"/></clipPath>
<g clip-path="url(#k18)"><g>
<ellipse cx="198.6" cy="776.3" rx="10.99" ry="7.96" fill="#cb2d10"/>
<ellipse cx="196.2" cy="805" rx="8.58" ry="8.58" fill="#cb2d10"/>
<path transform="translate(187.5 761.5) scale(.25)" d="M22 28h4M88 24h4M57 88h4M81 32h4M119 61h4M53 91h4M4 53h4M70 83h4M56 88h4M64 25h4M58 24h4M23 21h4M2 64h4M10 78h4M106 105h4M68 87h4M50 25h4M4 80h4M59 11h4M92 73h4M86 45h4M38 6h4M67 33h4M4 31h4M5 57h4M107 62h4M71 82h4M73 28h4M41 96h4M81 76h4M85 30h4M84 40h4M70 36h4M6 22h4M78 121h4M45 28h4M74 82h4M15 25h4M85 111h4M4 79h4M56 92h4M82 47h4M111 36h4M86 33h4M74 89h4M80 85h4M58 13h4M4 40h4M20 25h4M4 91h4M50 93h4M53 27h4M70 26h4M95 76h4M26 13h4M85 54h4M52 92h4M75 30h4M24 107h4M52 90h4M76 96h4M61 100h4M43 27h4M76 79h4M9 104h4M106 20h4M107 64h4M53 26h4M62 88h4M2 58h4M37 90h4M3 50h4M12 88h4M19 105h4M91 89h4M23 101h4M85 68h4M31 12h4M69 99h4M93 58h4M4 41h4M70 91h4M70 96h4M86 77h4M8 34h4M34 94h4M21 31h4M75 34h4M11 39h4M67 32h4M100 46h4M19 92h4M88 46h4M66 29h4M99 55h4M74 29h4M5 77h4M23 84h4M89 90h4M3 57h4M85 86h4M8 76h4M38 15h4M59 88h4M97 64h4M87 45h4M3 67h4M77 80h4M47 90h4M6 87h4M81 33h4M2 80h4M110 58h4M105 38h4M123 33h4M21 89h4M22 24h4M64 107h4M3 68h4M6 83h4M120 54h4M74 38h4M9 83h4M6 48h4M59 102h4M72 25h4M98 40h4M33 18h4M79 14h4M87 50h4M11 84h4M20 23h4M42 98h4M80 74h4M16 25h4M92 21h4M71 36h4M7 72h4M4 55h4M46 27h4M9 37h4M101 93h4M17 35h4M70 84h4M88 47h4M5 75h4M3 41h4M24 91h4M47 27h4M39 98h4M90 64h4M57 94h4M72 13h4M2 16h4M67 24h4M29 31h4M40 92h4M3 54h4M27 90h4M22 5h4M4 42h4M3 64h4M29 92h4M2 39h4M58 30h4M70 86h4M96 68h4M2 57h4M18 83h4M86 49h4M53 28h4M108 43h4M29 31h4M13 32h4M84 48h4M104 44h4M95 86h4M17 92h4M38 22h4M63 24h4M57 28h4M2 54h4M2 60h4M90 53h4M7 42h4M7 43h4M78 38h4M14 28h4M55 90h4M67 91h4M87 50h4M85 75h4M84 52h4M54 29h4M6 85h4M87 63h4M4 95h4M54 28h4M86 28h4M101 90h4M137 46h4M106 55h4M6 98h4M54 99h4M2 39h4M10 78h4M129 44h4M61 114h4M90 77h4M46 16h4M26 21h4M18 106h4M77 17h4M87 50h4M3 42h4M27 32h4M46 104h4M86 80h4M86 103h4M83 73h4M92 43h4M4 72h4M15 83h4M19 95h4M145 64h4M32 25h4M2 81h4M2 72h4M82 83h4M90 54h4M36 27h4M93 55h4M86 85h4M34 91h4M88 60h4M72 92h4M2 32h4M56 26h4M42 27h4M6 42h4M4 41h4M80 30h4M87 91h4M96 72h4M88 56h4M5 56h4M14 31h4M26 27h4M7 36h4M2 64h4M89 40h4M42 24h4M38 25h4M3 47h4M38 23h4M2 56h4M20 84h4M7 47h4M84 42h4M53 90h4M53 90h4M87 54h4M97 51h4M65 101h4M25 87h4M13 80h4M29 101h4M103 47h4M26 95h4M71 85h4M4 96h4M3 46h4M77 31h4M84 29h4M32 87h4M64 33h4M2 44h4M88 30h4M26 29h4M75 39h4M24 33h4M36 89h4M42 19h4M2 63h4M40 92h4M80 42h4M31 93h4M88 69h4M112 67h4M67 28h4M88 54h4M58 101h4M51 97h4M92 27h4M90 68h4M105 53h4M75 29h4M95 58h4M74 38h4M118 58h4M42 96h4M11 26h4M27 87h4M28 108h4M90 57h4M38 106h4M71 93h4M109 70h4M94 85h4M46 95h4M85 86h4M75 88h4M88 94h4M52 95h4M87 43h4M102 47h4M128 84h4M16 84h4M90 103h4M44 4h4M9 94h4M57 29h4M41 90h4M65 33h4M64 91h4M100 41h4M47 93h4M2 57h4M28 87h4M10 42h4M36 25h4M30 89h4M3 67h4M9 38h4M3 83h4M88 56h4M104 65h4M7 38h4M7 75h4M3 88h4M4 73h4M29 87h4M4 93h4M40 16h4M86 84h4M2 57h4M68 16h4M3 51h4M65 93h4M67 28h4M75 84h4M40 93h4M17 83h4M88 63h4M65 92h4M7 77h4M2 39h4M53 96h4M107 43h4M26 29h4M2 54h4M3 29h4M69 31h4M38 29h4M57 29h4M4 56h4M88 61h4M119 76h4M99 82h4M88 45h4M22 96h4M3 49h4M86 59h4M26 19h4M2 78h4M3 74h4M84 68h4M83 35h4M52 90h4M90 76h4M11 27h4M79 93h4M57 88h4M51 99h4M127 41h4M46 94h4M59 99h4M81 41h4M86 58h4M89 62h4M90 58h4M83 78h4M78 34h4M20 93h4M10 89h4M86 73h4M110 49h4M3 45h4M3 81h4M76 24h4M64 3h4M88 66h4M12 31h4M106 39h4M4 75h4M102 65h4M62 25h4M74 32h4M21 109h4M62 93h4M50 21h4M4 31h4M104 54h4M38 90h4M6 78h4M105 27h4M113 73h4M4 68h4M79 97h4M81 32h4M89 51h4M17 88h4M47 92h4M83 22h4M18 103h4M21 12h4M20 30h4M2 48h4M127 59h4M10 38h4M85 64h4M2 55h4M6 42h4M82 74h4M2 61h4M51 215h4M4 178h4M77 186h4M15 143h4M64 135h4M12 211h4M2 196h4M14 147h4M41 126h4M4 163h4M8 156h4M5 135h4M72 169h4M7 204h4M127 166h4M3 204h4M4 189h4M12 206h4M32 215h4M2 168h4M3 152h4M14 127h4M68 179h4M16 142h4M14 213h4M79 149h4M6 154h4M43 138h4M31 141h4M62 191h4M18 145h4M14 204h4M71 150h4M48 143h4M43 139h4M52 217h4M2 160h4M32 216h4M15 141h4M8 196h4M18 207h4M96 173h4M67 181h4M80 170h4M101 201h4M4 171h4M2 137h4M3 183h4M7 134h4M91 197h4M25 215h4M10 146h4M20 212h4M45 217h4M5 167h4M74 185h4M4 152h4M6 152h4M66 217h4M68 179h4M36 141h4M67 217h4M31 207h4M2 182h4M15 137h4M10 136h4M30 142h4M16 144h4M2 148h4M65 162h4M71 196h4M63 111h4M83 161h4M47 144h4M30 130h4M24 109h4M34 140h4M70 157h4M9 145h4M67 217h4M42 122h4M20 214h4M2 137h4M65 198h4M64 149h4M10 209h4M24 217h4M62 196h4M18 146h4M4 212h4M27 216h4M27 136h4M40 215h4M23 216h4M12 208h4M5 160h4M69 202h4M85 173h4M58 139h4M55 144h4M71 160h4M2 161h4M66 151h4M103 193h4M2 196h4M76 204h4M3 177h4M39 217h4M72 189h4M69 151h4M3 184h4M74 202h4M81 200h4M78 162h4M5 177h4M57 208h4M53 203h4M33 123h4M3 169h4M2 198h4M39 207h4M60 144h4M27 137h4M6 201h4M2 185h4M39 217h4M79 198h4M47 130h4M10 208h4M56 199h4M56 132h4M34 208h4M3 152h4M51 202h4M34 208h4M44 142h4M99 185h4M51 140h4M21 205h4M56 206h4M20 212h4M27 207h4M61 197h4M15 205h4M4 143h4M41 135h4M2 215h4M23 133h4M26 212h4M28 209h4M75 158h4M48 217h4M69 154h4M14 215h4M10 195h4M43 215h4M60 153h4M30 214h4M15 138h4M47 216h4M21 141h4M18 145h4M65 190h4M19 112h4M70 157h4M2 186h4M52 134h4M66 146h4M37 209h4M14 199h4M71 185h4M65 142h4M61 208h4M63 152h4M68 127h4M67 189h4M3 183h4M3 173h4M4 189h4M79 167h4M57 150h4M72 158h4M71 141h4M6 132h4M62 128h4M63 193h4M4 163h4M24 139h4M10 96h4M38 133h4M12 143h4M78 192h4M2 115h4M40 132h4M75 177h4M64 199h4M3 140h4M70 173h4M20 206h4M10 209h4M16 202h4M61 155h4M3 162h4M74 205h4M64 153h4M70 203h4M92 212h4M21 213h4M39 214h4M54 202h4M49 121h4M72 162h4M2 151h4M16 144h4M37 137h4M78 149h4M28 135h4M63 195h4M27 215h4M5 191h4M13 198h4M66 149h4M76 182h4M36 101h4M73 179h4M66 198h4M3 172h4M5 145h4M29 134h4M4 187h4M11 148h4M79 177h4M4 156h4M65 153h4M53 141h4M34 216h4M2 185h4M23 144h4M78 200h4M58 199h4M89 174h4M72 183h4M10 150h4M44 213h4M3 179h4M2 189h4M64 160h4M51 126h4M77 161h4M21 135h4M3 148h4M77 152h4M59 145h4M60 153h4M66 162h4M51 130h4M5 162h4M33 208h4M10 202h4M69 201h4M2 150h4M8 197h4M2 170h4M38 139h4M4 188h4M39 206h4M64 160h4M57 199h4M3 175h4M38 138h4M37 207h4M66 150h4M6 130h4M17 211h4M6 138h4M15 147h4M42 212h4M4 156h4M11 131h4M52 141h4M33 126h4M64 138h4M61 150h4M21 143h4M45 210h4M72 166h4M4 216h4M16 215h4M73 184h4M72 171h4M69 190h4M116 167h4M2 146h4M2 199h4M21 215h4M43 210h4M73 152h4M12 206h4M68 178h4M2 161h4M61 129h4M70 193h4M82 119h4M42 216h4M82 134h4M69 167h4M8 207h4M52 214h4M54 141h4M53 209h4M2 182h4M3 195h4M15 204h4M5 212h4M75 154h4M63 152h4M67 140h4M3 188h4M40 142h4M75 150h4M77 167h4M59 200h4M73 192h4M3 180h4M3 194h4M42 134h4M14 217h4M22 138h4M48 204h4M39 206h4M4 166h4M3 193h4M27 207h4M62 147h4M9 209h4M4 156h4M46 204h4M12 216h4M13 129h4M4 204h4M14 133h4M38 132h4M68 175h4M24 128h4M46 134h4M2 160h4M20 205h4M3 164h4M55 125h4M46 144h4M2 171h4M3 180h4M44 139h4M31 128h4M22 134h4M78 178h4M66 187h4M43 131h4M70 140h4M3 165h4M59 147h4M3 183h4M92 153h4M26 142h4M53 201h4M64 126h4M76 188h4M85 192h4M2 188h4M3 158h4M55 217h4M59 204h4M49 136h4M31 129h4M13 140h4M86 153h4M35 124h4M68 163h4M39 210h4M20 128h4M95 189h4M8 193h4M47 131h4M2 164h4M72 180h4M16 217h4M81 181h4M94 154h4M2 130h4M19 128h4M48 129h4M67 170h4M74 160h4M28 143h4M16 145h4M4 154h4M5 186h4M89 201h4M68 181h4M4 149h4M44 137h4M32 209h4M20 139h4M75 106h4M96 186h4M4 172h4M14 146h4M32 135h4M87 218h4M9 197h4M52 205h4M67 157h4M32 207h4M62 153h4M60 195h4M76 187h4M38 133h4M56 216h4M84 180h4M51 211h4M64 195h4M69 193h4M49 209h4M35 140h4M81 200h4M2 199h4M25 140h4M26 206h4M35 215h4M103 158h4M52 144h4M2 150h4M2 158h4M3 171h4M22 208h4M47 93h4M3 123h4M7 128h4M2 148h4M59 110h4M33 99h4M21 125h4M5 130h4M49 119h4M37 80h4M43 136h4M43 124h4M57 144h4M46 139h4M87 122h4M43 107h4M31 134h4M53 127h4M4 106h4M87 113h4M32 109h4M84 137h4M39 129h4M51 109h4M42 81h4M36 133h4M54 109h4M60 135h4M36 125h4M32 126h4M67 145h4M9 137h4M38 106h4M43 125h4M17 114h4M87 115h4M80 132h4M6 153h4M29 104h4M52 123h4M21 122h4M41 105h4M53 107h4M39 95h4M68 148h4M10 107h4M46 103h4M50 117h4M63 140h4M36 76h4M2 167h4M25 133h4M88 139h4M18 107h4M34 141h4M49 124h4M71 100h4M46 121h4M47 91h4M3 117h4M39 138h4M37 137h4M4 96h4M14 109h4M42 111h4M131 121h4M4 122h4M74 106h4M96 64h4M48 124h4M23 116h4M58 68h4M32 136h4M47 89h4M71 140h4M15 125h4M10 105h4M2 106h4M37 112h4M92 111h4M5 86h4M5 116h4M61 119h4M33 161h4M8 152h4M100 106h4M75 121h4M33 116h4M5 114h4M91 152h4M58 111h4M54 131h4M99 151h4M2 100h4M28 114h4M67 133h4M48 115h4M43 149h4M57 140h4M31 130h4M3 106h4M2 134h4M27 101h4M15 146h4M53 131h4M77 126h4M92 160h4M38 96h4M17 121h4M60 101h4M21 75h4M70 104h4M3 132h4M60 139h4M89 127h4M47 114h4M172 130h4M190 108h4M140 91h4M166 89h4M155 92h4M167 115h4M173 31h4M211 94h4M192 40h4M137 18h4M138 88h4M124 22h4M160 29h4M137 108h4M187 55h4M179 65h4" stroke="#cb2d10" stroke-width="4" fill="none"/>
</g></g>
<rect x="187.5" y="761.5" width="61" height="55" fill="none" stroke="#3a3a3a" stroke-width=".85"/>
<path d="M214.5 761.5L214.5 816.5" stroke="#8a8a8a" stroke-width=".8" fill="none"/>
<path d="M187.5 792.5L248.5 792.5" stroke="#8a8a8a" stroke-width=".8" fill="none"/>
<text x="189.5" y="767.1" font-size="5.3" text-anchor="start" fill="#262626">57.18</text>
<text x="246.9" y="767.1" font-size="5.3" text-anchor="end" fill="#262626">0.92</text>
<text x="189.7" y="814.7" font-size="5.3" text-anchor="start" fill="#7a1205">41.56</text>
<text x="246.9" y="814.7" font-size="5.3" text-anchor="end" fill="#262626">0.33</text>
<path d="M188.1 816.5v2.2M187.5 815.9h-2.2M192.58 816.5v1M187.5 811.87h-1M195.2 816.5v1M187.5 809.52h-1M197.06 816.5v1M187.5 807.85h-1M198.5 816.5v1M187.5 806.55h-1M199.67 816.5v1M187.5 805.49h-1M200.67 816.5v1M187.5 804.6h-1M201.53 816.5v1M187.5 803.82h-1M202.29 816.5v1M187.5 803.14h-1M202.97 816.5v2.2M187.5 802.52h-2.2M207.45 816.5v1M187.5 798.5h-1M210.07 816.5v1M187.5 796.14h-1M211.93 816.5v1M187.5 794.47h-1M213.37 816.5v1M187.5 793.18h-1M214.55 816.5v1M187.5 792.12h-1M215.55 816.5v1M187.5 791.22h-1M216.41 816.5v1M187.5 790.45h-1M217.17 816.5v1M187.5 789.76h-1M217.85 816.5v2.2M187.5 789.15h-2.2M222.33 816.5v1M187.5 785.12h-1M224.95 816.5v1M187.5 782.77h-1M226.81 816.5v1M187.5 781.1h-1M228.25 816.5v1M187.5 779.8h-1M229.42 816.5v1M187.5 778.74h-1M230.42 816.5v1M187.5 777.85h-1M231.28 816.5v1M187.5 777.07h-1M232.04 816.5v1M187.5 776.39h-1M232.72 816.5v2.2M187.5 775.77h-2.2M237.2 816.5v1M187.5 771.75h-1M239.82 816.5v1M187.5 769.39h-1M241.68 816.5v1M187.5 767.72h-1M243.12 816.5v1M187.5 766.43h-1M244.3 816.5v1M187.5 765.37h-1M245.3 816.5v1M187.5 764.47h-1M246.16 816.5v1M187.5 763.7h-1M246.92 816.5v1M187.5 763.01h-1M247.6 816.5v2.2M187.5 762.4h-2.2" stroke="#333" stroke-width=".45" fill="none"/>
<text x="189.1" y="824.5" font-size="5.7" text-anchor="middle" fill="#000">10<tspan font-size="3.8" dy="-2.3">0</tspan></text>
<text x="184.3" y="814.9" font-size="5.7" text-anchor="middle" fill="#000" transform="rotate(-90 184.3 814.9)">10<tspan font-size="3.8" dy="-2.3">0</tspan></text>
<text x="203.97" y="824.5" font-size="5.7" text-anchor="middle" fill="#000">10<tspan font-size="3.8" dy="-2.3">1</tspan></text>
<text x="184.3" y="801.52" font-size="5.7" text-anchor="middle" fill="#000" transform="rotate(-90 184.3 801.52)">10<tspan font-size="3.8" dy="-2.3">1</tspan></text>
<text x="218.85" y="824.5" font-size="5.7" text-anchor="middle" fill="#000">10<tspan font-size="3.8" dy="-2.3">2</tspan></text>
<text x="184.3" y="788.15" font-size="5.7" text-anchor="middle" fill="#000" transform="rotate(-90 184.3 788.15)">10<tspan font-size="3.8" dy="-2.3">2</tspan></text>
<text x="233.72" y="824.5" font-size="5.7" text-anchor="middle" fill="#000">10<tspan font-size="3.8" dy="-2.3">3</tspan></text>
<text x="184.3" y="774.77" font-size="5.7" text-anchor="middle" fill="#000" transform="rotate(-90 184.3 774.77)">10<tspan font-size="3.8" dy="-2.3">3</tspan></text>
<text x="248.6" y="824.5" font-size="5.7" text-anchor="middle" fill="#000">10<tspan font-size="3.8" dy="-2.3">4</tspan></text>
<text x="184.3" y="761.4" font-size="5.7" text-anchor="middle" fill="#000" transform="rotate(-90 184.3 761.4)">10<tspan font-size="3.8" dy="-2.3">4</tspan></text>
<text x="217.5" y="829.7" font-size="4.6" text-anchor="middle" fill="#333">c-kit</text>
<text x="176.7" y="789" font-size="5.6" text-anchor="middle" transform="rotate(-90 176.7 789)" fill="#111">CD11b</text>
<clipPath id="k19"><rect x="307.5" y="609.5" width="61" height="55"/></clipPath>
<g clip-path="url(#k19)"><g>
<ellipse cx="348.8" cy="631.2" rx="5.31" ry="9.85" fill="#cb2d10"/>
<ellipse cx="321.2" cy="656.3" rx="12.15" ry="5.9" fill="#cb2d10"/>
<path transform="translate(307.5 609.5) scale(.25)" d="M155 48h4M130 138h4M149 113h4M183 110h4M187 63h4M174 28h4M162 43h4M186 57h4M181 112h4M159 122h4M157 49h4M145 52h4M147 38h4M137 54h4M186 103h4M163 138h4M160 26h4M153 58h4M189 105h4M141 103h4M160 154h4M138 128h4M146 74h4M138 82h4M166 127h4M151 121h4M148 133h4M133 91h4M183 101h4M186 77h4M182 38h4M132 36h4M201 57h4M193 111h4M149 35h4M189 97h4M186 138h4M188 82h4M188 85h4M150 113h4M193 111h4M137 91h4M199 92h4M156 43h4M178 145h4M164 138h4M170 34h4M185 37h4M171 138h4M136 81h4M195 80h4M174 126h4M158 139h4M150 139h4M146 55h4M180 33h4M174 54h4M172 44h4M167 44h4M137 57h4M155 129h4M154 43h4M147 68h4M141 85h4M149 124h4M172 29h4M147 111h4M184 117h4M183 41h4M167 38h4M152 53h4M189 91h4M148 55h4M145 50h4M138 117h4M136 76h4M145 79h4M175 126h4M145 93h4M153 142h4M140 92h4M191 116h4M184 99h4M182 108h4M185 92h4M176 52h4M139 78h4M156 54h4M173 43h4M174 129h4M173 145h4M142 127h4M142 87h4M197 45h4M137 96h4M170 134h4M169 49h4M145 77h4M145 72h4M181 65h4M182 122h4M141 75h4M175 165h4M137 92h4M171 139h4M149 6h4M141 72h4M142 79h4M165 125h4M160 123h4M175 122h4M143 84h4M191 114h4M147 102h4M132 71h4M179 114h4M138 118h4M192 91h4M138 101h4M158 124h4M186 53h4M184 69h4M153 55h4M140 108h4M142 75h4M146 165h4M163 40h4M170 50h4M134 91h4M181 58h4M170 43h4M147 106h4M145 75h4M145 79h4M162 125h4M148 165h4M178 126h4M187 49h4M185 73h4M168 48h4M138 68h4M150 117h4M133 115h4M187 134h4M170 124h4M145 68h4M177 49h4M196 122h4M165 36h4M163 126h4M166 128h4M202 65h4M137 96h4M182 116h4M174 41h4M152 120h4M124 104h4M178 55h4M175 55h4M204 57h4M145 106h4M185 87h4M137 68h4M185 107h4M154 42h4M166 134h4M145 81h4M154 55h4M133 113h4M143 135h4M187 67h4M150 145h4M135 58h4M142 124h4M169 50h4M152 43h4M155 127h4M145 73h4M161 132h4M153 127h4M139 63h4M163 138h4M161 45h4M183 146h4M133 83h4M147 68h4M142 110h4M143 93h4M145 93h4M184 60h4M137 123h4M146 74h4M142 47h4M184 100h4M150 116h4M191 101h4M143 80h4M192 95h4M151 59h4M187 97h4M163 149h4M147 138h4M140 100h4M136 113h4M180 115h4M191 82h4M140 87h4M174 129h4M142 59h4M150 49h4M132 93h4M142 75h4M179 60h4M183 11h4M166 38h4M141 74h4M152 55h4M184 120h4M183 67h4M186 85h4M189 113h4M183 67h4M199 76h4M179 117h4M132 32h4M150 58h4M144 113h4M144 109h4M167 30h4M194 86h4M144 72h4M164 135h4M192 85h4M175 121h4M185 114h4M178 118h4M190 65h4M145 114h4M161 123h4M137 86h4M176 16h4M149 63h4M182 129h4M192 66h4M186 79h4M187 95h4M152 123h4M171 46h4M163 142h4M184 102h4M141 109h4M144 115h4M144 111h4M173 135h4M148 54h4M164 129h4M142 85h4M187 81h4M145 66h4M163 128h4M134 92h4M181 126h4M189 93h4M175 46h4M192 72h4M180 127h4M143 125h4M157 51h4M189 126h4M177 118h4M188 124h4M195 63h4M161 124h4M143 31h4M182 64h4M153 32h4M144 40h4M197 99h4M196 87h4M180 54h4M175 16h4M146 97h4M142 57h4M89 80h4M63 65h4M39 79h4M39 66h4M92 87h4M75 66h4M71 80h4M4 116h4M99 56h4M48 30h4M35 62h4M40 48h4M128 43h4M64 76h4M101 64h4M101 81h4M77 64h4M36 71h4M97 83h4M22 67h4M113 56h4M80 79h4M73 67h4M52 84h4M67 98h4M115 84h4M47 65h4M18 69h4M68 52h4M75 80h4M90 103h4M50 22h4M39 52h4M25 95h4M46 87h4M20 91h4M50 103h4M88 66h4M61 61h4M62 89h4M80 82h4M122 60h4M80 75h4M38 79h4M72 49h4M40 82h4M101 63h4M135 55h4M121 66h4M118 97h4M90 65h4M126 79h4M41 71h4M45 63h4M72 72h4M57 70h4M41 87h4M23 36h4M75 75h4M92 73h4M45 61h4M87 25h4M122 79h4M61 45h4M82 54h4M52 72h4M13 60h4M119 51h4M104 90h4M80 77h4M57 83h4M108 52h4M38 69h4M82 79h4M45 69h4M113 52h4M86 53h4M71 82h4M79 62h4M57 76h4M58 90h4M48 73h4M122 92h4M7 48h4M79 107h4M95 65h4M43 98h4M155 56h4M52 81h4M92 64h4M60 46h4M97 78h4M119 65h4M96 82h4M76 82h4M23 60h4M35 55h4M58 87h4M73 53h4M110 78h4M73 28h4M101 88h4M95 89h4M106 85h4M92 64h4M95 76h4M46 43h4M30 67h4M64 46h4M92 86h4M44 81h4M32 86h4M76 95h4M84 63h4M69 71h4M112 60h4M78 72h4M154 76h4M41 49h4M87 60h4M102 75h4M19 62h4M57 101h4M130 77h4M67 76h4M58 71h4M108 62h4M104 84h4M81 67h4M51 77h4M121 74h4M80 62h4M56 74h4M51 51h4M59 41h4M130 38h4M71 88h4M110 45h4M131 57h4M12 74h4M35 71h4M55 37h4M80 88h4M105 70h4M53 79h4M29 58h4M100 78h4M113 100h4M150 69h4M120 81h4M67 54h4M97 55h4M44 90h4M41 78h4M81 40h4M65 52h4M70 69h4M80 79h4M85 73h4M54 59h4M98 80h4M50 76h4M74 97h4M99 74h4M90 84h4M90 45h4M31 73h4M83 71h4M56 91h4M21 69h4M69 67h4M111 64h4M10 64h4M138 92h4M47 77h4M73 73h4M75 89h4M122 61h4M115 63h4M67 57h4M46 57h4M100 71h4M50 78h4M90 43h4M76 62h4M109 71h4M46 88h4M111 86h4M71 72h4M188 88h4M108 72h4M89 72h4M122 66h4M127 59h4M106 85h4M78 81h4M55 91h4M82 71h4M71 64h4M47 77h4M39 79h4M88 82h4M114 62h4M73 63h4M27 87h4M67 55h4M60 42h4M2 76h4M74 85h4M52 100h4M52 86h4M57 51h4M83 61h4M108 73h4M98 34h4M100 45h4M83 78h4M6 59h4M82 96h4M33 57h4M12 67h4M81 99h4M15 90h4M93 74h4M48 73h4M72 58h4M26 86h4M72 95h4M77 33h4M46 64h4M91 81h4M74 84h4M119 57h4M123 49h4M62 63h4M111 69h4M117 60h4M47 71h4M60 47h4M59 56h4M19 55h4M51 87h4M79 102h4M56 49h4M73 57h4M42 66h4M128 77h4M99 62h4M93 67h4M135 70h4M101 92h4M86 72h4M106 60h4M29 82h4M14 82h4M118 84h4M58 66h4M65 89h4M63 61h4M78 76h4M90 68h4M69 55h4M71 36h4M42 166h4M4 167h4M101 181h4M51 165h4M4 178h4M2 196h4M9 214h4M105 167h4M50 154h4M3 160h4M7 193h4M8 201h4M14 170h4M107 179h4M32 207h4M110 171h4M153 187h4M4 214h4M5 181h4M107 156h4M108 176h4M37 159h4M7 170h4M24 165h4M2 186h4M80 207h4M88 207h4M88 210h4M4 197h4M5 195h4M105 162h4M105 159h4M30 215h4M35 150h4M92 203h4M20 214h4M100 206h4M13 173h4M30 158h4M11 207h4M94 200h4M80 164h4M105 209h4M100 198h4M51 215h4M82 153h4M70 216h4M83 211h4M66 214h4M8 200h4M15 202h4M92 203h4M122 213h4M65 150h4M111 156h4M99 157h4M14 203h4M24 203h4M75 210h4M46 154h4M59 217h4M62 164h4M10 170h4M110 185h4M63 163h4M40 159h4M97 205h4M76 217h4M18 213h4M56 210h4M27 206h4M7 210h4M50 215h4M4 156h4M12 170h4M100 173h4M85 161h4M68 154h4M3 190h4M16 209h4M70 211h4M24 214h4M104 178h4M100 200h4M5 213h4M6 189h4M110 201h4M83 160h4M47 213h4M45 215h4M23 213h4M36 210h4M120 167h4M96 202h4M5 189h4M101 201h4M40 215h4M15 202h4M156 186h4M16 200h4M95 170h4M43 210h4M91 202h4M94 163h4M103 180h4M7 179h4M7 190h4M44 160h4M129 167h4M48 164h4M40 216h4M92 162h4M109 203h4M53 165h4M63 159h4M8 179h4M13 157h4M98 195h4M77 209h4M82 164h4M113 153h4M78 208h4M89 216h4M48 216h4M28 154h4M15 167h4M33 208h4M4 180h4M51 160h4M100 178h4M134 181h4M125 177h4M81 212h4M137 186h4M27 166h4M126 158h4M13 209h4M23 216h4M40 215h4M8 213h4M148 178h4M3 203h4M125 179h4M134 176h4M71 159h4M34 153h4M111 199h4M103 171h4M7 184h4M83 163h4M12 204h4M54 163h4M30 167h4M44 165h4M37 216h4M65 218h4M127 202h4M83 215h4M35 216h4M114 206h4M73 215h4M9 157h4M15 201h4M5 183h4M101 150h4M2 191h4M85 168h4M114 187h4M68 163h4M5 192h4M29 213h4M106 212h4M14 208h4M19 202h4M139 182h4M51 161h4M58 212h4M28 215h4M8 177h4M4 173h4M54 161h4M9 181h4M83 169h4M3 182h4M31 160h4M9 173h4M11 169h4M16 173h4M46 163h4M51 159h4M102 169h4M98 201h4M23 169h4M85 165h4M26 217h4M92 200h4M101 183h4M113 173h4M95 202h4M74 211h4M150 196h4M2 176h4M22 171h4M23 156h4M48 210h4M34 216h4M126 183h4M4 205h4M59 216h4M56 154h4M98 177h4M4 176h4M3 175h4M78 208h4M42 153h4M4 182h4M91 169h4M85 156h4M4 177h4M94 155h4M114 184h4M112 215h4M23 213h4M24 217h4M54 209h4M103 190h4M11 202h4M34 168h4M20 146h4M44 211h4M2 157h4M17 209h4M96 214h4M9 196h4M132 197h4M99 204h4M39 213h4M2 180h4M5 206h4M84 156h4M7 199h4M72 167h4M71 167h4M81 205h4M12 170h4M23 216h4M24 168h4M21 169h4M24 212h4M65 158h4M7 209h4M106 200h4M3 162h4M64 165h4M5 212h4M77 211h4M101 186h4M98 215h4M84 215h4M8 204h4M103 188h4M14 156h4M72 208h4M2 182h4M17 206h4M115 179h4M34 209h4M7 216h4M46 215h4M76 208h4M6 205h4M12 205h4M106 198h4M106 193h4M49 150h4M100 174h4M76 153h4M77 212h4M57 212h4M53 216h4M102 196h4M124 198h4M58 216h4M93 199h4M2 190h4M16 214h4M100 193h4M11 179h4M52 150h4M27 212h4M4 171h4M61 217h4M71 216h4M103 180h4M77 210h4M7 177h4M7 165h4M6 216h4M12 202h4M123 132h4M68 214h4M4 179h4M86 151h4M22 164h4M107 217h4M70 163h4M86 217h4M40 211h4M3 182h4M62 159h4M97 156h4M4 169h4M105 178h4M34 155h4M80 217h4M9 186h4M79 208h4M74 213h4M43 149h4M111 192h4M4 201h4M106 174h4M18 200h4M9 167h4M100 201h4M96 217h4M109 212h4M58 215h4M89 206h4M93 161h4M29 214h4M66 216h4M15 169h4M27 214h4M101 193h4M103 212h4M121 207h4M68 210h4M99 171h4M92 174h4M8 202h4M110 197h4M54 215h4M98 162h4M53 161h4M35 158h4M37 213h4M10 206h4M57 146h4M93 205h4M4 193h4M115 213h4M48 217h4M95 198h4M15 201h4M104 177h4M3 210h4M101 210h4M78 162h4M42 165h4M64 163h4M33 208h4M101 175h4M85 167h4M164 182h4M44 163h4M119 183h4M20 167h4M82 169h4M16 212h4M112 180h4M7 184h4M43 210h4M107 186h4M17 204h4M56 150h4M14 210h4M75 166h4M85 212h4M22 170h4M66 153h4M8 178h4M108 194h4M3 190h4M115 190h4M34 163h4M85 166h4M136 155h4M101 201h4M106 181h4M137 179h4M104 185h4M51 159h4M3 193h4M116 195h4M7 166h4M2 185h4M103 171h4M10 194h4M93 217h4M7 213h4M17 169h4M48 212h4M56 213h4M103 210h4M102 189h4M53 165h4M3 205h4M93 166h4M3 182h4M4 189h4M94 172h4M3 190h4M53 120h4M112 141h4M9 106h4M67 153h4M58 116h4M70 120h4M41 94h4M52 87h4M56 114h4M53 173h4M67 114h4M47 142h4M30 125h4M24 107h4M83 87h4M43 99h4M86 134h4M22 111h4M41 128h4M46 143h4M41 138h4M54 125h4M86 118h4M38 145h4M30 147h4M50 111h4M57 155h4M74 111h4M56 129h4M60 121h4M40 138h4M85 150h4M43 98h4M66 153h4M51 105h4M59 136h4M98 138h4M12 97h4M32 119h4M75 100h4M70 112h4M25 115h4M56 139h4M50 122h4M54 100h4M98 146h4M106 106h4M73 147h4M42 118h4M26 110h4M78 120h4M85 148h4M76 126h4M60 127h4M58 110h4M74 97h4M86 153h4M56 100h4M33 107h4M47 131h4M64 94h4M15 114h4M39 148h4M68 101h4M2 102h4M73 104h4M88 131h4M105 129h4M68 147h4M31 94h4M76 113h4M88 131h4M82 117h4M53 134h4M8 105h4M5 103h4M69 123h4M66 123h4M69 130h4M55 132h4M89 138h4M92 118h4M114 136h4M71 137h4M74 98h4M72 147h4M100 147h4M96 104h4M16 142h4M53 130h4M60 115h4M52 106h4M19 144h4M17 135h4M36 121h4M19 158h4M79 158h4M54 115h4M74 128h4M70 147h4M25 105h4M89 106h4M45 96h4M66 133h4M2 138h4M75 150h4M64 115h4M84 108h4M66 105h4M50 135h4M5 149h4M30 128h4M53 175h4M62 98h4M112 142h4M135 130h4M117 111h4M21 119h4M69 107h4M130 102h4M90 111h4M94 124h4M3 106h4M10 140h4M37 137h4M26 140h4M76 101h4M2 128h4M91 136h4M72 97h4M79 137h4M4 108h4M68 112h4M70 107h4M78 83h4M50 139h4M23 102h4M75 106h4M168 150h4M53 123h4M60 136h4M10 125h4M48 113h4M42 93h4M146 51h4M118 44h4M173 44h4M125 43h4M125 32h4M78 41h4M130 44h4M125 41h4M109 59h4M146 53h4M149 41h4M102 30h4M107 58h4M120 51h4M123 57h4M170 58h4M95 54h4M133 41h4M117 40h4M143 56h4M120 49h4M123 45h4M138 50h4M120 50h4M112 59h4M137 44h4M131 30h4M118 36h4M82 63h4M87 40h4M117 59h4M100 46h4M116 46h4M133 63h4M166 35h4M130 60h4M185 49h4M150 44h4M109 51h4M90 38h4M118 50h4M148 51h4M114 60h4M139 52h4M140 36h4M95 51h4M103 61h4M104 52h4M124 42h4M86 53h4M168 37h4M80 55h4M188 52h4M134 57h4M177 44h4M104 48h4M135 67h4M147 70h4M125 51h4M120 57h4M112 55h4M148 43h4M142 49h4M77 45h4M146 44h4M152 43h4M82 43h4M106 53h4M103 32h4M130 55h4M140 33h4M127 49h4M112 59h4M115 53h4M157 59h4M139 55h4M117 31h4M125 50h4M76 55h4M153 50h4M115 43h4M115 55h4M116 44h4M129 57h4M118 48h4M150 36h4M137 60h4M102 49h4M159 50h4M109 44h4M128 46h4M133 48h4M141 44h4M121 43h4M161 45h4M108 57h4M89 39h4M140 50h4M123 58h4M108 38h4M145 63h4M154 51h4M155 46h4M137 30h4M172 44h4M177 55h4M114 54h4M66 33h4M129 39h4M117 58h4M103 56h4M116 61h4M187 53h4M143 54h4M158 59h4M130 48h4M124 52h4M148 67h4M125 60h4M173 38h4M96 56h4M145 37h4M113 39h4M142 49h4M132 40h4M136 39h4M106 59h4M146 55h4M105 41h4M117 61h4M112 45h4" stroke="#cb2d10" stroke-width="4" fill="none"/>
</g></g>
<rect x="307.5" y="609.5" width="61" height="55" fill="none" stroke="#3a3a3a" stroke-width=".85"/>
<path d="M337.5 609.5L337.5 664.5" stroke="#222" stroke-width="1" fill="none"/>
<path d="M307.5 645.5L368.5 645.5" stroke="#222" stroke-width="1" fill="none"/>
<text x="309.5" y="615.1" font-size="5.3" text-anchor="start" fill="#262626">6.32</text>
<text x="366.9" y="615.1" font-size="5.3" text-anchor="end" fill="#262626">52.57</text>
<text x="309.7" y="662.7" font-size="5.3" text-anchor="start" fill="#7a1205">40.41</text>
<text x="366.9" y="662.7" font-size="5.3" text-anchor="end" fill="#262626">0.70</text>
<path d="M308.1 664.5v2.2M307.5 663.9h-2.2M312.58 664.5v1M307.5 659.87h-1M315.2 664.5v1M307.5 657.52h-1M317.06 664.5v1M307.5 655.85h-1M318.5 664.5v1M307.5 654.55h-1M319.67 664.5v1M307.5 653.49h-1M320.67 664.5v1M307.5 652.6h-1M321.53 664.5v1M307.5 651.82h-1M322.29 664.5v1M307.5 651.14h-1M322.98 664.5v2.2M307.5 650.52h-2.2M327.45 664.5v1M307.5 646.5h-1M330.07 664.5v1M307.5 644.14h-1M331.93 664.5v1M307.5 642.47h-1M333.37 664.5v1M307.5 641.18h-1M334.55 664.5v1M307.5 640.12h-1M335.55 664.5v1M307.5 639.22h-1M336.41 664.5v1M307.5 638.45h-1M337.17 664.5v1M307.5 637.76h-1M337.85 664.5v2.2M307.5 637.15h-2.2M342.33 664.5v1M307.5 633.12h-1M344.95 664.5v1M307.5 630.77h-1M346.81 664.5v1M307.5 629.1h-1M348.25 664.5v1M307.5 627.8h-1M349.42 664.5v1M307.5 626.74h-1M350.42 664.5v1M307.5 625.85h-1M351.28 664.5v1M307.5 625.07h-1M352.04 664.5v1M307.5 624.39h-1M352.73 664.5v2.2M307.5 623.77h-2.2M357.2 664.5v1M307.5 619.75h-1M359.82 664.5v1M307.5 617.39h-1M361.68 664.5v1M307.5 615.72h-1M363.12 664.5v1M307.5 614.43h-1M364.3 664.5v1M307.5 613.37h-1M365.3 664.5v1M307.5 612.47h-1M366.16 664.5v1M307.5 611.7h-1M366.92 664.5v1M307.5 611.01h-1M367.6 664.5v2.2M307.5 610.4h-2.2" stroke="#333" stroke-width=".45" fill="none"/>
<text x="309.1" y="672.5" font-size="5.7" text-anchor="middle" fill="#000">10<tspan font-size="3.8" dy="-2.3">0</tspan></text>
<text x="304.3" y="662.9" font-size="5.7" text-anchor="middle" fill="#000" transform="rotate(-90 304.3 662.9)">10<tspan font-size="3.8" dy="-2.3">0</tspan></text>
<text x="323.98" y="672.5" font-size="5.7" text-anchor="middle" fill="#000">10<tspan font-size="3.8" dy="-2.3">1</tspan></text>
<text x="304.3" y="649.52" font-size="5.7" text-anchor="middle" fill="#000" transform="rotate(-90 304.3 649.52)">10<tspan font-size="3.8" dy="-2.3">1</tspan></text>
<text x="338.85" y="672.5" font-size="5.7" text-anchor="middle" fill="#000">10<tspan font-size="3.8" dy="-2.3">2</tspan></text>
<text x="304.3" y="636.15" font-size="5.7" text-anchor="middle" fill="#000" transform="rotate(-90 304.3 636.15)">10<tspan font-size="3.8" dy="-2.3">2</tspan></text>
<text x="353.73" y="672.5" font-size="5.7" text-anchor="middle" fill="#000">10<tspan font-size="3.8" dy="-2.3">3</tspan></text>
<text x="304.3" y="622.77" font-size="5.7" text-anchor="middle" fill="#000" transform="rotate(-90 304.3 622.77)">10<tspan font-size="3.8" dy="-2.3">3</tspan></text>
<text x="368.6" y="672.5" font-size="5.7" text-anchor="middle" fill="#000">10<tspan font-size="3.8" dy="-2.3">4</tspan></text>
<text x="304.3" y="609.4" font-size="5.7" text-anchor="middle" fill="#000" transform="rotate(-90 304.3 609.4)">10<tspan font-size="3.8" dy="-2.3">4</tspan></text>
<text x="337.5" y="677.7" font-size="4.6" text-anchor="middle" fill="#333">Gr1</text>
<text x="296.7" y="637" font-size="5.6" text-anchor="middle" transform="rotate(-90 296.7 637)" fill="#111">CD11b</text>
<clipPath id="k20"><rect x="307.5" y="685.5" width="61" height="56"/></clipPath>
<g clip-path="url(#k20)"><g>
<ellipse cx="351.2" cy="712.5" rx="5.31" ry="10.61" fill="#cb2d10"/>
<ellipse cx="316.2" cy="732.6" rx="8.85" ry="6.08" fill="#cb2d10"/>
<path transform="translate(307.5 685.5) scale(.25)" d="M73 65h4M54 44h4M48 100h4M80 60h4M40 74h4M2 104h4M32 113h4M38 81h4M34 109h4M40 92h4M27 58h4M43 78h4M46 76h4M60 84h4M45 66h4M46 69h4M53 80h4M40 48h4M53 89h4M76 80h4M47 86h4M35 61h4M40 81h4M35 63h4M40 82h4M82 65h4M28 30h4M36 71h4M68 92h4M31 76h4M84 77h4M78 99h4M76 78h4M38 101h4M71 72h4M50 73h4M46 71h4M34 82h4M77 89h4M62 85h4M73 90h4M48 82h4M62 80h4M47 78h4M76 81h4M40 77h4M46 85h4M47 93h4M52 88h4M52 91h4M15 67h4M38 64h4M62 78h4M38 66h4M72 50h4M45 92h4M42 100h4M62 85h4M63 68h4M68 75h4M60 63h4M69 90h4M60 112h4M43 60h4M70 69h4M78 73h4M56 90h4M55 72h4M55 77h4M50 56h4M30 90h4M35 71h4M49 83h4M29 51h4M25 100h4M39 85h4M63 44h4M80 95h4M37 102h4M35 124h4M44 87h4M59 81h4M78 94h4M59 79h4M51 87h4M50 76h4M43 65h4M58 87h4M37 76h4M36 88h4M23 73h4M44 99h4M47 65h4M51 72h4M33 79h4M69 94h4M62 64h4M26 105h4M75 77h4M26 70h4M42 55h4M21 72h4M49 56h4M33 75h4M55 96h4M43 94h4M67 109h4M75 101h4M14 64h4M58 72h4M41 130h4M46 72h4M49 85h4M48 84h4M55 79h4M22 82h4M23 77h4M45 71h4M44 60h4M10 97h4M24 85h4M54 60h4M57 86h4M47 88h4M45 81h4M54 52h4M44 72h4M58 111h4M70 60h4M58 70h4M45 94h4M33 80h4M51 106h4M59 97h4M54 70h4M41 91h4M41 112h4M57 72h4M72 86h4M45 78h4M74 54h4M43 75h4M62 106h4M42 63h4M55 76h4M36 51h4M54 72h4M43 59h4M43 71h4M96 69h4M67 91h4M31 74h4M43 88h4M47 60h4M30 84h4M41 110h4M52 66h4M42 96h4M24 53h4M56 76h4M52 76h4M23 65h4M56 88h4M67 85h4M50 77h4M51 63h4M71 70h4M36 81h4M62 64h4M41 56h4M56 66h4M59 84h4M43 73h4M66 81h4M44 70h4M48 86h4M89 74h4M75 76h4M40 87h4M33 101h4M41 76h4M76 57h4M58 78h4M30 77h4M56 69h4M67 77h4M80 113h4M53 50h4M72 113h4M43 94h4M56 72h4M74 82h4M6 76h4M67 75h4M50 75h4M46 61h4M44 90h4M31 81h4M48 81h4M54 79h4M61 65h4M11 87h4M78 93h4M65 67h4M49 75h4M47 80h4M46 37h4M70 70h4M183 72h4M152 88h4M157 67h4M198 128h4M200 121h4M194 85h4M206 104h4M204 123h4M199 98h4M145 111h4M169 58h4M196 125h4M175 155h4M201 131h4M157 51h4M199 71h4M169 36h4M156 129h4M200 158h4M168 45h4M160 76h4M156 91h4M173 55h4M195 70h4M192 60h4M201 110h4M186 148h4M155 112h4M195 131h4M174 154h4M164 147h4M197 74h4M204 79h4M183 148h4M160 149h4M154 76h4M160 60h4M152 161h4M195 130h4M185 176h4M156 90h4M197 89h4M180 57h4M180 157h4M154 94h4M204 105h4M171 69h4M198 121h4M185 73h4M192 83h4M180 68h4M165 63h4M168 60h4M162 142h4M165 60h4M174 176h4M151 124h4M193 142h4M202 82h4M148 77h4M201 166h4M173 166h4M155 121h4M154 115h4M151 109h4M197 126h4M190 147h4M205 174h4M164 66h4M160 138h4M162 72h4M201 110h4M157 70h4M203 139h4M166 156h4M163 148h4M153 145h4M150 98h4M184 65h4M198 65h4M172 147h4M195 65h4M155 134h4M196 125h4M193 141h4M192 145h4M156 145h4M139 99h4M205 105h4M184 61h4M197 134h4M197 151h4M162 63h4M194 143h4M177 149h4M195 95h4M156 136h4M154 87h4M171 147h4M196 119h4M163 143h4M147 112h4M183 66h4M198 145h4M180 169h4M190 70h4M168 145h4M195 131h4M157 84h4M187 140h4M174 59h4M156 117h4M170 147h4M169 68h4M188 55h4M161 155h4M188 75h4M183 48h4M202 134h4M149 83h4M162 56h4M167 66h4M168 69h4M155 152h4M155 129h4M206 125h4M181 69h4M191 139h4M180 54h4M201 93h4M175 63h4M200 69h4M165 73h4M151 131h4M179 149h4M193 74h4M194 84h4M157 72h4M162 163h4M167 68h4M192 81h4M198 81h4M183 70h4M180 161h4M182 67h4M178 182h4M184 147h4M181 65h4M150 89h4M164 64h4M185 69h4M146 133h4M185 159h4M171 153h4M176 154h4M168 58h4M202 86h4M146 89h4M191 136h4M200 100h4M178 149h4M157 127h4M157 180h4M154 140h4M181 62h4M205 96h4M159 133h4M197 106h4M170 37h4M152 76h4M180 67h4M179 63h4M192 140h4M195 119h4M186 64h4M153 100h4M157 126h4M190 168h4M193 53h4M172 62h4M189 152h4M148 98h4M196 109h4M205 122h4M173 187h4M144 106h4M160 64h4M192 136h4M158 49h4M156 45h4M179 149h4M134 126h4M169 150h4M179 147h4M195 115h4M192 141h4M193 73h4M156 162h4M195 118h4M213 120h4M182 145h4M154 84h4M202 80h4M161 68h4M160 59h4M166 151h4M154 130h4M194 99h4M189 66h4M149 155h4M185 73h4M188 158h4M195 110h4M171 177h4M177 149h4M151 178h4M193 89h4M201 99h4M196 122h4M140 57h4M188 153h4M155 81h4M152 93h4M164 159h4M191 69h4M164 152h4M171 159h4M202 89h4M196 135h4M160 78h4M182 187h4M151 120h4M167 43h4M190 135h4M184 145h4M159 63h4M147 136h4M139 143h4M159 162h4M188 64h4M183 55h4M193 146h4M210 71h4M155 87h4M154 133h4M206 106h4M165 70h4M185 145h4M165 151h4M211 94h4M178 148h4M156 65h4M194 137h4M203 105h4M210 121h4M154 115h4M189 75h4M194 64h4M196 146h4M152 73h4M161 47h4M154 86h4M150 129h4M184 65h4M179 68h4M186 69h4M200 111h4M157 73h4M143 103h4M150 75h4M189 72h4M176 160h4M153 89h4M194 86h4M144 155h4M193 131h4M156 139h4M153 121h4M195 139h4M153 141h4M175 61h4M160 73h4M155 38h4M166 149h4M169 57h4M148 129h4M145 58h4M197 144h4M179 148h4M155 155h4M187 65h4M182 146h4M182 71h4M160 72h4M198 108h4M171 69h4M199 70h4M204 106h4M198 126h4M199 91h4M147 126h4M201 99h4M200 45h4M147 109h4M184 163h4M187 46h4M175 63h4M9 205h4M32 159h4M87 210h4M3 183h4M6 208h4M66 201h4M51 211h4M34 214h4M38 166h4M74 200h4M67 174h4M73 182h4M15 211h4M6 171h4M24 135h4M3 172h4M27 157h4M64 168h4M75 181h4M36 212h4M5 177h4M4 187h4M73 191h4M4 159h4M64 208h4M4 214h4M80 186h4M59 218h4M3 200h4M72 201h4M42 221h4M3 208h4M4 194h4M39 153h4M63 202h4M3 183h4M3 180h4M39 155h4M60 217h4M21 166h4M2 170h4M4 181h4M69 189h4M20 167h4M2 194h4M46 166h4M72 186h4M35 147h4M12 166h4M50 220h4M6 174h4M9 206h4M2 176h4M40 218h4M4 198h4M2 183h4M26 166h4M17 155h4M72 190h4M92 187h4M75 148h4M61 220h4M3 210h4M49 162h4M18 154h4M23 165h4M13 140h4M58 170h4M56 207h4M26 158h4M76 215h4M21 213h4M7 202h4M8 202h4M4 219h4M68 176h4M92 213h4M8 219h4M67 199h4M49 219h4M50 214h4M65 214h4M10 206h4M68 153h4M45 152h4M84 180h4M26 154h4M39 220h4M3 169h4M59 216h4M2 167h4M11 219h4M17 210h4M71 184h4M4 175h4M11 169h4M28 219h4M18 162h4M20 160h4M69 187h4M86 187h4M90 177h4M56 213h4M13 160h4M81 195h4M3 209h4M68 181h4M82 182h4M67 173h4M56 221h4M3 184h4M52 214h4M38 147h4M3 176h4M67 180h4M58 172h4M13 158h4M27 221h4M4 214h4M19 216h4M63 175h4M4 172h4M70 171h4M41 220h4M2 182h4M4 209h4M46 221h4M45 158h4M40 160h4M6 207h4M4 202h4M77 201h4M38 211h4M23 165h4M33 164h4M3 199h4M33 221h4M2 194h4M76 191h4M68 203h4M30 221h4M70 174h4M8 144h4M57 150h4M7 207h4M14 209h4M68 166h4M2 200h4M68 167h4M8 170h4M2 192h4M4 177h4M27 165h4M63 202h4M4 205h4M54 207h4M46 163h4M36 165h4M22 158h4M79 181h4M69 190h4M72 186h4M5 183h4M5 182h4M2 185h4M63 206h4M12 172h4M3 172h4M70 171h4M63 205h4M4 205h4M4 176h4M78 187h4M73 191h4M54 165h4M24 154h4M69 209h4M76 192h4M7 204h4M12 207h4M4 205h4M60 214h4M59 206h4M84 214h4M69 196h4M10 154h4M22 212h4M66 216h4M42 218h4M73 183h4M74 182h4M12 213h4M45 148h4M22 162h4M22 210h4M67 164h4M66 207h4M28 165h4M3 201h4M20 140h4M61 215h4M63 205h4M2 172h4M78 169h4M3 184h4M4 196h4M6 173h4M2 187h4M82 189h4M64 172h4M52 219h4M57 207h4M22 210h4M85 210h4M39 156h4M71 221h4M51 211h4M43 221h4M2 178h4M95 180h4M3 187h4M4 204h4M72 167h4M9 205h4M53 210h4M20 158h4M26 154h4M76 154h4M68 203h4M56 165h4M32 221h4M6 173h4M5 151h4M4 202h4M63 174h4M2 201h4M35 166h4M9 163h4M3 183h4M24 211h4M3 168h4M67 162h4M16 214h4M59 222h4M69 187h4M57 169h4M12 171h4M73 195h4M41 221h4M62 163h4M53 167h4M57 164h4M6 202h4M55 158h4M28 147h4M65 160h4M72 188h4M23 210h4M21 166h4M55 215h4M91 191h4M5 177h4M3 185h4M66 219h4M56 221h4M7 163h4M24 211h4M64 219h4M39 221h4M59 165h4M79 188h4M6 156h4M3 185h4M89 183h4M96 189h4M2 217h4M50 221h4M6 170h4M75 185h4M56 169h4M7 203h4M58 159h4M3 190h4M25 164h4M44 164h4M55 103h4M23 113h4M26 141h4M42 145h4M100 124h4M58 126h4M70 170h4M62 98h4M84 139h4M62 161h4M69 101h4M88 135h4M23 129h4M3 114h4M73 126h4M104 148h4M68 202h4M44 100h4M30 116h4M40 90h4M60 144h4M33 147h4M64 164h4M2 113h4M58 134h4M74 91h4M70 168h4M85 163h4M93 144h4M69 116h4M42 133h4M27 71h4M43 88h4M84 154h4M14 125h4M87 126h4M84 136h4M55 141h4M33 176h4M94 163h4M73 84h4M37 132h4M53 156h4M84 119h4M50 100h4M50 118h4M72 151h4M97 90h4M47 144h4M9 115h4M70 164h4M77 124h4M81 123h4M87 187h4M57 160h4M44 108h4M50 185h4M28 97h4M8 127h4M70 139h4M39 93h4M44 152h4M15 123h4M52 107h4M60 135h4M2 184h4M54 106h4M59 147h4M15 128h4M41 121h4M37 145h4M93 140h4M33 120h4M42 155h4M37 108h4M41 129h4M37 118h4M81 154h4M51 138h4M8 150h4M81 167h4M4 97h4M73 117h4M55 117h4M81 124h4M40 118h4M66 126h4M80 118h4M79 135h4M8 158h4M20 92h4M104 162h4M56 144h4M85 160h4M11 144h4M50 102h4M47 122h4M107 154h4M47 149h4M12 129h4M58 140h4M49 161h4M44 100h4M77 135h4M2 127h4M52 103h4M61 119h4M53 121h4M21 149h4M65 150h4M52 95h4M81 112h4M81 127h4M40 152h4M56 135h4M34 172h4M40 110h4M23 157h4M193 156h4M187 203h4M169 180h4M175 179h4M163 195h4M167 145h4M185 161h4M187 176h4M180 177h4M160 181h4M180 144h4M188 176h4M166 149h4M178 150h4M187 162h4M169 158h4M184 161h4M193 133h4M176 182h4M177 188h4M190 181h4M154 167h4M184 199h4M172 159h4M176 173h4M177 141h4M172 158h4M172 155h4M176 151h4M181 187h4M185 175h4M170 165h4M168 153h4M179 196h4M188 181h4M169 175h4M192 169h4M186 138h4M178 156h4M182 183h4M178 153h4" stroke="#cb2d10" stroke-width="4" fill="none"/>
</g></g>
<rect x="307.5" y="685.5" width="61" height="56" fill="none" stroke="#3a3a3a" stroke-width=".85"/>
<path d="M338.5 685.5L338.5 741.5" stroke="#222" stroke-width="1" fill="none"/>
<path d="M307.5 723.5L368.5 723.5" stroke="#222" stroke-width="1" fill="none"/>
<text x="309.5" y="691.1" font-size="5.3" text-anchor="start" fill="#262626">9.18</text>
<text x="366.9" y="691.1" font-size="5.3" text-anchor="end" fill="#262626">60.51</text>
<text x="309.7" y="739.7" font-size="5.3" text-anchor="start" fill="#7a1205">28.17</text>
<text x="366.9" y="739.7" font-size="5.3" text-anchor="end" fill="#262626">2.15</text>
<path d="M308.1 741.5v2.2M307.5 740.9h-2.2M312.58 741.5v1M307.5 736.8h-1M315.2 741.5v1M307.5 734.4h-1M317.06 741.5v1M307.5 732.7h-1M318.5 741.5v1M307.5 731.38h-1M319.67 741.5v1M307.5 730.3h-1M320.67 741.5v1M307.5 729.39h-1M321.53 741.5v1M307.5 728.6h-1M322.29 741.5v1M307.5 727.9h-1M322.98 741.5v2.2M307.5 727.27h-2.2M327.45 741.5v1M307.5 723.17h-1M330.07 741.5v1M307.5 720.77h-1M331.93 741.5v1M307.5 719.07h-1M333.37 741.5v1M307.5 717.75h-1M334.55 741.5v1M307.5 716.67h-1M335.55 741.5v1M307.5 715.76h-1M336.41 741.5v1M307.5 714.97h-1M337.17 741.5v1M307.5 714.27h-1M337.85 741.5v2.2M307.5 713.65h-2.2M342.33 741.5v1M307.5 709.55h-1M344.95 741.5v1M307.5 707.15h-1M346.81 741.5v1M307.5 705.45h-1M348.25 741.5v1M307.5 704.13h-1M349.42 741.5v1M307.5 703.05h-1M350.42 741.5v1M307.5 702.14h-1M351.28 741.5v1M307.5 701.35h-1M352.04 741.5v1M307.5 700.65h-1M352.73 741.5v2.2M307.5 700.02h-2.2M357.2 741.5v1M307.5 695.92h-1M359.82 741.5v1M307.5 693.52h-1M361.68 741.5v1M307.5 691.82h-1M363.12 741.5v1M307.5 690.5h-1M364.3 741.5v1M307.5 689.42h-1M365.3 741.5v1M307.5 688.51h-1M366.16 741.5v1M307.5 687.72h-1M366.92 741.5v1M307.5 687.02h-1M367.6 741.5v2.2M307.5 686.4h-2.2" stroke="#333" stroke-width=".45" fill="none"/>
<text x="309.1" y="749.5" font-size="5.7" text-anchor="middle" fill="#000">10<tspan font-size="3.8" dy="-2.3">0</tspan></text>
<text x="304.3" y="739.9" font-size="5.7" text-anchor="middle" fill="#000" transform="rotate(-90 304.3 739.9)">10<tspan font-size="3.8" dy="-2.3">0</tspan></text>
<text x="323.98" y="749.5" font-size="5.7" text-anchor="middle" fill="#000">10<tspan font-size="3.8" dy="-2.3">1</tspan></text>
<text x="304.3" y="726.27" font-size="5.7" text-anchor="middle" fill="#000" transform="rotate(-90 304.3 726.27)">10<tspan font-size="3.8" dy="-2.3">1</tspan></text>
<text x="338.85" y="749.5" font-size="5.7" text-anchor="middle" fill="#000">10<tspan font-size="3.8" dy="-2.3">2</tspan></text>
<text x="304.3" y="712.65" font-size="5.7" text-anchor="middle" fill="#000" transform="rotate(-90 304.3 712.65)">10<tspan font-size="3.8" dy="-2.3">2</tspan></text>
<text x="353.73" y="749.5" font-size="5.7" text-anchor="middle" fill="#000">10<tspan font-size="3.8" dy="-2.3">3</tspan></text>
<text x="304.3" y="699.02" font-size="5.7" text-anchor="middle" fill="#000" transform="rotate(-90 304.3 699.02)">10<tspan font-size="3.8" dy="-2.3">3</tspan></text>
<text x="368.6" y="749.5" font-size="5.7" text-anchor="middle" fill="#000">10<tspan font-size="3.8" dy="-2.3">4</tspan></text>
<text x="304.3" y="685.4" font-size="5.7" text-anchor="middle" fill="#000" transform="rotate(-90 304.3 685.4)">10<tspan font-size="3.8" dy="-2.3">4</tspan></text>
<text x="337.5" y="754.7" font-size="4.6" text-anchor="middle" fill="#333">Gr1</text>
<text x="296.7" y="713.5" font-size="5.6" text-anchor="middle" transform="rotate(-90 296.7 713.5)" fill="#111">CD11b</text>
<clipPath id="k21"><rect x="307.5" y="761.5" width="61" height="55"/></clipPath>
<g clip-path="url(#k21)"><g>
<ellipse cx="313.8" cy="773.8" rx="6.28" ry="6.28" fill="#cb2d10"/>
<ellipse cx="347.5" cy="776.4" rx="6.06" ry="9.48" fill="#cb2d10"/>
<ellipse cx="315" cy="805" rx="6.79" ry="8.58" fill="#cb2d10"/>
<path transform="translate(307.5 761.5) scale(.25)" d="M39 73h4M32 80h4M55 49h4M43 32h4M44 77h4M54 78h4M62 42h4M26 19h4M2 35h4M2 54h4M58 32h4M2 40h4M37 21h4M6 68h4M8 15h4M71 46h4M3 29h4M55 63h4M67 19h4M25 95h4M2 45h4M33 82h4M36 14h4M3 32h4M8 8h4M49 53h4M4 22h4M48 77h4M5 69h4M16 14h4M30 18h4M53 61h4M38 74h4M25 77h4M21 3h4M15 75h4M56 62h4M2 101h4M55 64h4M26 77h4M37 23h4M2 15h4M17 12h4M30 24h4M27 23h4M43 28h4M5 27h4M11 90h4M60 77h4M12 71h4M24 84h4M41 71h4M33 72h4M2 59h4M42 91h4M57 56h4M51 38h4M49 55h4M34 17h4M36 17h4M58 32h4M49 52h4M59 68h4M25 19h4M35 27h4M18 73h4M14 26h4M2 64h4M55 65h4M44 79h4M39 13h4M32 11h4M65 34h4M10 69h4M2 30h4M30 20h4M4 60h4M51 54h4M2 61h4M29 20h4M58 57h4M4 32h4M52 50h4M5 38h4M29 78h4M8 32h4M13 16h4M25 81h4M36 10h4M36 82h4M16 73h4M46 76h4M23 76h4M51 59h4M44 31h4M54 53h4M7 67h4M8 74h4M29 73h4M40 70h4M32 72h4M28 26h4M42 86h4M66 71h4M30 21h4M11 71h4M11 78h4M16 26h4M33 84h4M11 72h4M28 75h4M3 58h4M4 30h4M52 27h4M42 71h4M29 23h4M61 41h4M27 110h4M5 65h4M32 25h4M24 18h4M52 22h4M47 5h4M3 49h4M51 44h4M3 60h4M3 59h4M3 67h4M15 17h4M15 16h4M3 25h4M20 80h4M46 21h4M4 68h4M24 20h4M67 7h4M65 72h4M14 20h4M35 72h4M62 45h4M35 22h4M41 69h4M69 35h4M3 58h4M9 68h4M16 78h4M16 82h4M29 22h4M15 72h4M26 24h4M2 6h4M49 65h4M22 79h4M42 30h4M13 95h4M14 25h4M23 77h4M34 74h4M67 47h4M3 23h4M2 30h4M51 59h4M4 33h4M64 72h4M41 30h4M34 71h4M10 72h4M6 67h4M3 39h4M50 64h4M5 66h4M4 65h4M37 21h4M49 28h4M3 63h4M55 60h4M33 9h4M4 85h4M32 20h4M21 75h4M62 25h4M5 55h4M23 80h4M70 40h4M6 35h4M45 62h4M19 102h4M49 36h4M2 53h4M17 22h4M45 37h4M22 74h4M53 58h4M15 76h4M42 67h4M22 84h4M24 77h4M32 18h4M4 51h4M26 76h4M4 53h4M23 89h4M50 56h4M48 37h4M38 90h4M2 38h4M3 45h4M4 63h4M50 51h4M2 35h4M3 44h4M2 59h4M72 32h4M2 54h4M11 74h4M58 44h4M58 66h4M36 21h4M11 20h4M33 76h4M10 14h4M35 79h4M58 4h4M3 39h4M7 32h4M57 47h4M16 73h4M52 77h4M48 61h4M55 68h4M28 13h4M44 28h4M7 22h4M34 77h4M53 78h4M9 67h4M3 62h4M34 73h4M4 43h4M30 93h4M56 40h4M33 75h4M84 51h4M2 23h4M32 80h4M10 69h4M66 34h4M68 25h4M52 30h4M55 85h4M5 70h4M3 35h4M48 43h4M9 66h4M3 7h4M119 42h4M148 27h4M162 7h4M187 54h4M118 41h4M192 98h4M160 19h4M164 112h4M187 61h4M154 109h4M166 105h4M184 13h4M131 31h4M145 96h4M131 44h4M180 35h4M190 33h4M135 23h4M138 32h4M134 70h4M182 24h4M112 80h4M157 96h4M148 12h4M131 90h4M144 28h4M132 66h4M188 58h4M199 64h4M137 72h4M143 8h4M199 52h4M126 40h4M156 103h4M195 46h4M198 43h4M181 35h4M131 55h4M184 67h4M165 96h4M170 91h4M136 85h4M137 106h4M166 8h4M133 49h4M115 68h4M144 13h4M136 90h4M135 89h4M157 24h4M181 87h4M128 34h4M168 104h4M131 71h4M176 31h4M168 94h4M176 14h4M161 3h4M193 76h4M172 12h4M132 72h4M138 72h4M154 18h4M151 20h4M151 94h4M198 58h4M132 66h4M117 35h4M182 74h4M131 6h4M165 99h4M143 87h4M136 49h4M133 39h4M170 17h4M183 53h4M191 73h4M128 67h4M172 29h4M155 95h4M158 106h4M164 15h4M136 11h4M165 16h4M198 7h4M129 20h4M183 70h4M135 69h4M187 79h4M183 43h4M202 25h4M132 64h4M158 103h4M159 103h4M183 65h4M132 85h4M139 89h4M134 65h4M185 21h4M146 11h4M180 93h4M171 23h4M141 27h4M172 18h4M139 9h4M185 51h4M134 71h4M158 135h4M135 75h4M163 5h4M164 24h4M139 39h4M130 81h4M135 41h4M186 37h4M137 51h4M138 43h4M147 12h4M186 70h4M144 93h4M165 23h4M169 21h4M155 10h4M141 8h4M125 60h4M181 41h4M169 9h4M185 60h4M182 36h4M153 96h4M140 14h4M187 42h4M136 70h4M151 112h4M163 8h4M140 35h4M164 24h4M134 84h4M172 29h4M139 89h4M134 66h4M154 24h4M199 64h4M156 20h4M184 69h4M147 22h4M127 68h4M187 25h4M183 62h4M157 106h4M147 20h4M196 59h4M185 21h4M184 83h4M183 42h4M189 55h4M183 51h4M180 78h4M135 76h4M166 106h4M142 16h4M167 96h4M158 21h4M139 97h4M139 72h4M139 94h4M194 57h4M147 101h4M139 39h4M141 92h4M159 96h4M134 31h4M177 86h4M153 18h4M132 73h4M134 65h4M126 86h4M141 126h4M183 62h4M146 31h4M136 86h4M132 43h4M169 20h4M147 92h4M172 12h4M170 7h4M148 11h4M142 81h4M173 30h4M186 64h4M175 87h4M184 100h4M188 93h4M157 101h4M190 46h4M173 89h4M166 100h4M169 92h4M139 90h4M188 31h4M133 105h4M143 29h4M129 41h4M185 50h4M132 65h4M179 14h4M172 124h4M119 74h4M136 60h4M178 92h4M179 34h4M182 40h4M182 50h4M141 90h4M185 38h4M134 46h4M152 92h4M171 18h4M168 8h4M193 60h4M141 33h4M133 34h4M178 117h4M174 30h4M130 49h4M136 97h4M176 85h4M159 96h4M135 56h4M166 97h4M193 79h4M161 111h4M133 112h4M129 79h4M166 108h4M174 96h4M151 26h4M137 54h4M138 15h4M149 22h4M185 29h4M136 66h4M183 72h4M144 89h4M170 19h4M176 93h4M183 77h4M156 106h4M141 27h4M201 87h4M171 2h4M155 20h4M165 105h4M139 35h4M118 36h4M168 106h4M179 36h4M169 17h4M155 118h4M177 108h4M166 99h4M205 117h4M187 85h4M196 75h4M164 18h4M135 63h4M193 67h4M124 32h4M157 10h4M137 60h4M135 54h4M176 27h4M142 37h4M164 15h4M134 70h4M132 73h4M132 75h4M185 101h4M203 84h4M201 66h4M136 38h4M181 73h4M193 29h4M181 34h4M149 93h4M190 48h4M127 46h4M145 92h4M117 43h4M163 20h4M127 72h4M145 89h4M37 133h4M81 137h4M5 167h4M53 195h4M21 207h4M69 176h4M69 186h4M53 209h4M13 138h4M32 122h4M38 215h4M71 165h4M66 189h4M61 178h4M57 137h4M8 197h4M10 152h4M54 162h4M77 168h4M4 208h4M4 167h4M29 140h4M19 207h4M57 197h4M41 132h4M5 143h4M54 155h4M31 129h4M6 201h4M83 158h4M22 216h4M62 168h4M63 170h4M80 183h4M19 140h4M34 127h4M50 150h4M40 121h4M31 217h4M16 138h4M39 144h4M48 217h4M61 146h4M11 131h4M33 216h4M11 145h4M24 210h4M27 124h4M7 157h4M7 145h4M10 205h4M26 133h4M4 170h4M37 214h4M51 208h4M12 132h4M16 143h4M28 131h4M61 189h4M55 163h4M9 198h4M72 183h4M62 181h4M72 201h4M37 208h4M3 178h4M38 140h4M72 162h4M3 175h4M51 197h4M13 216h4M36 140h4M64 198h4M2 171h4M3 173h4M19 209h4M25 142h4M49 149h4M10 216h4M3 198h4M63 164h4M46 146h4M2 185h4M2 161h4M44 146h4M3 212h4M3 139h4M62 159h4M10 199h4M52 134h4M4 159h4M4 148h4M45 212h4M2 151h4M44 147h4M19 212h4M67 168h4M34 218h4M19 145h4M56 195h4M38 133h4M6 213h4M42 143h4M3 154h4M4 170h4M2 203h4M12 147h4M5 192h4M55 157h4M82 201h4M3 195h4M41 208h4M61 198h4M2 167h4M79 197h4M2 170h4M10 145h4M48 141h4M19 203h4M55 136h4M16 139h4M43 136h4M61 171h4M59 156h4M53 204h4M32 139h4M56 155h4M14 132h4M20 206h4M77 169h4M3 162h4M3 203h4M4 182h4M14 144h4M5 184h4M31 139h4M2 140h4M76 164h4M4 161h4M56 147h4M42 126h4M29 134h4M4 155h4M45 215h4M2 139h4M15 210h4M5 215h4M56 181h4M9 156h4M57 178h4M6 192h4M62 173h4M4 190h4M57 128h4M40 110h4M53 216h4M3 186h4M3 202h4M41 139h4M35 135h4M7 215h4M11 134h4M6 160h4M25 211h4M5 158h4M9 141h4M4 198h4M53 158h4M15 145h4M16 209h4M4 201h4M4 149h4M55 199h4M17 138h4M56 152h4M49 199h4M35 138h4M40 208h4M58 210h4M25 142h4M53 187h4M4 173h4M3 180h4M68 200h4M21 127h4M2 160h4M42 216h4M56 201h4M54 100h4M2 166h4M58 170h4M40 216h4M46 130h4M15 204h4M27 217h4M49 149h4M3 187h4M6 141h4M3 203h4M28 216h4M3 170h4M55 199h4M50 154h4M41 144h4M13 137h4M51 196h4M8 213h4M52 142h4M23 215h4M3 164h4M7 158h4M52 157h4M48 215h4M2 152h4M24 122h4M53 201h4M2 168h4M39 143h4M9 146h4M58 185h4M51 151h4M11 196h4M3 181h4M32 217h4M54 216h4M57 148h4M54 158h4M4 146h4M13 122h4M6 216h4M22 216h4M3 170h4M25 215h4M17 118h4M2 190h4M53 189h4M2 148h4M25 209h4M4 197h4M53 206h4M28 207h4M31 135h4M44 144h4M34 133h4M11 132h4M58 191h4M10 207h4M2 142h4M36 135h4M3 218h4M43 216h4M37 215h4M53 210h4M34 133h4M2 178h4M3 214h4M43 135h4M57 204h4M39 136h4M2 150h4M61 136h4M55 155h4M3 174h4M35 142h4M45 146h4M75 192h4M4 203h4M39 133h4M53 136h4M33 209h4M67 160h4M58 203h4M9 217h4M26 139h4M15 201h4M20 217h4M4 179h4M3 178h4M34 136h4M62 128h4M41 131h4M42 141h4M2 199h4M9 138h4M63 198h4M65 195h4M31 214h4M62 199h4M35 139h4M13 138h4M33 137h4M4 176h4M63 160h4M9 146h4M6 161h4M46 145h4M5 133h4M3 191h4M27 132h4M51 209h4M46 204h4M61 177h4M39 209h4M68 141h4M57 183h4M25 110h4M23 134h4M3 180h4M40 216h4M38 209h4M20 216h4M42 202h4M10 144h4M11 133h4M43 108h4M61 129h4M52 136h4M59 171h4M9 155h4M4 209h4M121 52h4M116 55h4M121 32h4M120 39h4M145 44h4M124 31h4M133 58h4M129 35h4M98 22h4M180 40h4M110 37h4M118 39h4M125 14h4M98 40h4M144 38h4M134 38h4M96 36h4M135 41h4M118 54h4M132 45h4M103 49h4M111 37h4M119 19h4M125 30h4M125 50h4M143 40h4M141 33h4M122 50h4M114 50h4M114 31h4M124 40h4M145 41h4M108 58h4M140 62h4M115 55h4M110 58h4M133 52h4M113 55h4M140 48h4M161 47h4M88 52h4M138 44h4M157 54h4M130 49h4M94 55h4M100 38h4M116 30h4M133 48h4M138 51h4M81 53h4M156 39h4M112 46h4M99 25h4M143 48h4M115 33h4M95 35h4M181 48h4M100 37h4M143 15h4M128 30h4M92 41h4M118 25h4M105 29h4M140 29h4M134 30h4M176 35h4M107 46h4M113 59h4M97 18h4M136 49h4M101 47h4M104 59h4M148 48h4M162 33h4M141 35h4M130 35h4M163 30h4M99 38h4M114 42h4M116 36h4M107 37h4M81 46h4M102 40h4M109 54h4M128 64h4M149 41h4M123 57h4M127 43h4M155 29h4M106 47h4M140 65h4M124 53h4M152 38h4M119 40h4M137 47h4M127 37h4M119 36h4M140 40h4M141 44h4M118 38h4M170 13h4M103 22h4M120 47h4M105 30h4M141 26h4M113 56h4M151 69h4M120 57h4M119 47h4M142 47h4M75 43h4M135 19h4M106 55h4M127 36h4M180 30h4M142 53h4M119 49h4M155 44h4M97 29h4M138 53h4M111 33h4M144 37h4M179 48h4M122 41h4M115 42h4M118 52h4M111 31h4M129 40h4M109 41h4M92 43h4M88 16h4M45 34h4M125 42h4M94 28h4M124 38h4M120 51h4M147 31h4M112 39h4M116 54h4M76 50h4M133 42h4M151 40h4M120 54h4M116 39h4M125 54h4M140 36h4M132 67h4M153 54h4M96 46h4M116 32h4M142 37h4M150 43h4M100 28h4M112 43h4M99 40h4M110 41h4M136 35h4M158 36h4M102 32h4M143 40h4M102 59h4M140 28h4M68 43h4M149 40h4M121 30h4M87 48h4M134 50h4M99 31h4M102 49h4M90 23h4M128 43h4M157 28h4M166 51h4M102 49h4M101 39h4M113 43h4M153 46h4M161 36h4M104 32h4M109 62h4M150 44h4M24 93h4M25 160h4M66 117h4M43 118h4M46 124h4M35 95h4M46 98h4M57 126h4M11 124h4M34 134h4M39 71h4M43 162h4M31 101h4M52 101h4M53 83h4M40 107h4M54 89h4M4 159h4M29 75h4M63 123h4M21 135h4M26 72h4M40 98h4M46 90h4M71 132h4M42 148h4M26 112h4M33 121h4M28 111h4M41 178h4M17 132h4M73 142h4M20 101h4M17 99h4M28 86h4M25 134h4M41 66h4M23 53h4M5 144h4M20 99h4M62 132h4M51 134h4M26 117h4M50 101h4M72 87h4M50 126h4M16 95h4M40 90h4M52 162h4M29 130h4M39 114h4M12 151h4M41 132h4M13 174h4M61 85h4M31 153h4M53 156h4M29 113h4M29 145h4M26 135h4M59 110h4M51 110h4M38 94h4M42 50h4M32 121h4M36 67h4M45 108h4M45 111h4M31 112h4M3 90h4M51 125h4M6 81h4M28 160h4M59 105h4M2 137h4M20 132h4M16 115h4M14 153h4M36 69h4M8 150h4M36 87h4M22 145h4M42 126h4M48 111h4M31 92h4M28 115h4M10 87h4M44 135h4M29 112h4M36 135h4M45 125h4M43 124h4M28 150h4M39 154h4M31 125h4M24 110h4M56 185h4M23 96h4M17 88h4M38 99h4M65 85h4M15 101h4M59 106h4M37 173h4M43 106h4M49 123h4M41 139h4M83 82h4M37 129h4M20 105h4M69 109h4M7 119h4M47 117h4M10 117h4M9 66h4M26 148h4M34 116h4M26 124h4M51 108h4M44 129h4M27 104h4M45 114h4M23 133h4M40 124h4M3 103h4M46 129h4M28 121h4M54 87h4M22 99h4M58 116h4M4 115h4M57 144h4M40 103h4M36 72h4M33 67h4M37 113h4M49 34h4M12 109h4M69 173h4M84 86h4M42 122h4M48 122h4M14 93h4M73 115h4M39 111h4M48 123h4M10 146h4M21 133h4M12 148h4M2 125h4M52 101h4M19 91h4M40 160h4M33 72h4M45 142h4M42 135h4M61 95h4M51 93h4M33 96h4M19 160h4M34 95h4M40 95h4M62 74h4M34 140h4M50 175h4M32 126h4M63 170h4M19 116h4M58 46h4M57 119h4M72 95h4M12 100h4M21 136h4M22 115h4M31 139h4M22 82h4M21 65h4M56 142h4M37 176h4M29 117h4M16 132h4M40 100h4M30 142h4M2 106h4M33 139h4M45 150h4M17 126h4M50 169h4M60 115h4M22 129h4M46 94h4M78 141h4M42 90h4M31 93h4M41 168h4M10 66h4M30 149h4M41 146h4M23 122h4M28 135h4M15 81h4M29 173h4M49 149h4M63 91h4M51 83h4M77 75h4M65 169h4M13 122h4M45 84h4M39 68h4M41 140h4M2 120h4M37 77h4M10 99h4M21 134h4M51 120h4M27 79h4M30 84h4M14 84h4M39 135h4M56 140h4M24 105h4M15 146h4M10 118h4M47 130h4M32 89h4M34 80h4M57 139h4M4 155h4M27 88h4M43 89h4M4 75h4M59 92h4M16 69h4M46 130h4M3 121h4M39 100h4M35 121h4M34 145h4M16 116h4M27 109h4M6 119h4M34 104h4M8 85h4M45 121h4M49 90h4M51 128h4M43 151h4M114 106h4M50 33h4M92 39h4M91 97h4M151 66h4M131 100h4M104 101h4M84 72h4M90 80h4M87 85h4M98 57h4M113 42h4M132 42h4M72 92h4M121 119h4M140 77h4M102 50h4M101 75h4M95 62h4M94 137h4M142 95h4M97 41h4M78 63h4M95 114h4M129 82h4M107 101h4M65 25h4M122 107h4M83 73h4M135 52h4M58 69h4M94 20h4M96 111h4M102 74h4M87 75h4M71 57h4M103 72h4M124 65h4M107 88h4M106 100h4M106 47h4M57 108h4M102 82h4M57 103h4M78 72h4M88 95h4M74 62h4M63 132h4M73 79h4M71 85h4M96 60h4M108 79h4M89 71h4M83 83h4M52 70h4M95 146h4M120 105h4M48 58h4M89 85h4M58 54h4M68 86h4M86 103h4M111 59h4M128 99h4M61 82h4M93 141h4M101 98h4M78 103h4M98 124h4M127 105h4M101 121h4M115 109h4M81 66h4M101 6h4M95 99h4M131 82h4M108 75h4M82 131h4M94 84h4M61 62h4M52 67h4M96 144h4M64 27h4M75 96h4M132 96h4M69 83h4M53 65h4M91 41h4M81 93h4M92 68h4M119 74h4M86 84h4M107 105h4M42 94h4" stroke="#cb2d10" stroke-width="4" fill="none"/>
</g></g>
<rect x="307.5" y="761.5" width="61" height="55" fill="none" stroke="#3a3a3a" stroke-width=".85"/>
<path d="M331.5 761.5L331.5 816.5" stroke="#222" stroke-width="1" fill="none"/>
<path d="M307.5 797.5L368.5 797.5" stroke="#222" stroke-width="1" fill="none"/>
<text x="309.5" y="767.1" font-size="5.3" text-anchor="start" fill="#262626">11.98</text>
<text x="366.9" y="767.1" font-size="5.3" text-anchor="end" fill="#262626">65.03</text>
<text x="309.7" y="814.7" font-size="5.3" text-anchor="start" fill="#7a1205">22.96</text>
<text x="366.9" y="814.7" font-size="5.3" text-anchor="end" fill="#262626">0.03</text>
<path d="M308.1 816.5v2.2M307.5 815.9h-2.2M312.58 816.5v1M307.5 811.87h-1M315.2 816.5v1M307.5 809.52h-1M317.06 816.5v1M307.5 807.85h-1M318.5 816.5v1M307.5 806.55h-1M319.67 816.5v1M307.5 805.49h-1M320.67 816.5v1M307.5 804.6h-1M321.53 816.5v1M307.5 803.82h-1M322.29 816.5v1M307.5 803.14h-1M322.98 816.5v2.2M307.5 802.52h-2.2M327.45 816.5v1M307.5 798.5h-1M330.07 816.5v1M307.5 796.14h-1M331.93 816.5v1M307.5 794.47h-1M333.37 816.5v1M307.5 793.18h-1M334.55 816.5v1M307.5 792.12h-1M335.55 816.5v1M307.5 791.22h-1M336.41 816.5v1M307.5 790.45h-1M337.17 816.5v1M307.5 789.76h-1M337.85 816.5v2.2M307.5 789.15h-2.2M342.33 816.5v1M307.5 785.12h-1M344.95 816.5v1M307.5 782.77h-1M346.81 816.5v1M307.5 781.1h-1M348.25 816.5v1M307.5 779.8h-1M349.42 816.5v1M307.5 778.74h-1M350.42 816.5v1M307.5 777.85h-1M351.28 816.5v1M307.5 777.07h-1M352.04 816.5v1M307.5 776.39h-1M352.73 816.5v2.2M307.5 775.77h-2.2M357.2 816.5v1M307.5 771.75h-1M359.82 816.5v1M307.5 769.39h-1M361.68 816.5v1M307.5 767.72h-1M363.12 816.5v1M307.5 766.43h-1M364.3 816.5v1M307.5 765.37h-1M365.3 816.5v1M307.5 764.47h-1M366.16 816.5v1M307.5 763.7h-1M366.92 816.5v1M307.5 763.01h-1M367.6 816.5v2.2M307.5 762.4h-2.2" stroke="#333" stroke-width=".45" fill="none"/>
<text x="309.1" y="824.5" font-size="5.7" text-anchor="middle" fill="#000">10<tspan font-size="3.8" dy="-2.3">0</tspan></text>
<text x="304.3" y="814.9" font-size="5.7" text-anchor="middle" fill="#000" transform="rotate(-90 304.3 814.9)">10<tspan font-size="3.8" dy="-2.3">0</tspan></text>
<text x="323.98" y="824.5" font-size="5.7" text-anchor="middle" fill="#000">10<tspan font-size="3.8" dy="-2.3">1</tspan></text>
<text x="304.3" y="801.52" font-size="5.7" text-anchor="middle" fill="#000" transform="rotate(-90 304.3 801.52)">10<tspan font-size="3.8" dy="-2.3">1</tspan></text>
<text x="338.85" y="824.5" font-size="5.7" text-anchor="middle" fill="#000">10<tspan font-size="3.8" dy="-2.3">2</tspan></text>
<text x="304.3" y="788.15" font-size="5.7" text-anchor="middle" fill="#000" transform="rotate(-90 304.3 788.15)">10<tspan font-size="3.8" dy="-2.3">2</tspan></text>
<text x="353.73" y="824.5" font-size="5.7" text-anchor="middle" fill="#000">10<tspan font-size="3.8" dy="-2.3">3</tspan></text>
<text x="304.3" y="774.77" font-size="5.7" text-anchor="middle" fill="#000" transform="rotate(-90 304.3 774.77)">10<tspan font-size="3.8" dy="-2.3">3</tspan></text>
<text x="368.6" y="824.5" font-size="5.7" text-anchor="middle" fill="#000">10<tspan font-size="3.8" dy="-2.3">4</tspan></text>
<text x="304.3" y="761.4" font-size="5.7" text-anchor="middle" fill="#000" transform="rotate(-90 304.3 761.4)">10<tspan font-size="3.8" dy="-2.3">4</tspan></text>
<text x="337.5" y="829.7" font-size="4.6" text-anchor="middle" fill="#333">Gr1</text>
<text x="296.7" y="789" font-size="5.6" text-anchor="middle" transform="rotate(-90 296.7 789)" fill="#111">CD11b</text>
<clipPath id="k22"><rect x="409.5" y="609.5" width="61" height="54"/></clipPath>
<g clip-path="url(#k22)"><g>
<ellipse cx="421.2" cy="631.4" rx="10.04" ry="8.15" fill="#cb2d10"/>
<ellipse cx="420" cy="655" rx="8.85" ry="7.01" fill="#cb2d10"/>
<path transform="translate(409.5 609.5) scale(.25)" d="M137 98h4M4 60h4M82 73h4M96 100h4M65 124h4M4 64h4M43 138h4M30 120h4M76 117h4M103 97h4M118 123h4M5 114h4M90 112h4M58 117h4M73 47h4M3 97h4M88 86h4M7 93h4M57 51h4M2 57h4M45 128h4M41 42h4M12 115h4M47 55h4M76 123h4M89 94h4M95 84h4M77 59h4M64 47h4M73 120h4M8 86h4M75 38h4M77 63h4M4 73h4M5 82h4M107 94h4M29 54h4M17 64h4M14 134h4M84 76h4M83 66h4M100 104h4M5 77h4M93 86h4M6 118h4M29 54h4M5 98h4M103 93h4M49 119h4M76 62h4M75 111h4M31 120h4M73 110h4M94 62h4M4 84h4M101 74h4M91 97h4M28 123h4M44 122h4M80 68h4M100 91h4M28 125h4M8 102h4M51 121h4M23 113h4M46 139h4M10 105h4M87 88h4M29 55h4M16 70h4M31 122h4M5 106h4M3 88h4M47 122h4M7 65h4M54 32h4M42 35h4M45 53h4M90 87h4M4 82h4M23 44h4M10 104h4M9 119h4M38 38h4M25 59h4M40 54h4M84 94h4M82 105h4M88 81h4M87 81h4M95 44h4M7 55h4M22 58h4M29 128h4M77 124h4M7 73h4M8 88h4M3 46h4M53 56h4M105 59h4M117 104h4M3 80h4M98 54h4M75 109h4M8 112h4M2 91h4M6 107h4M71 54h4M88 62h4M4 94h4M4 86h4M47 44h4M104 51h4M92 65h4M63 132h4M48 118h4M4 95h4M59 54h4M82 108h4M77 57h4M71 128h4M82 50h4M77 64h4M84 89h4M82 119h4M85 91h4M34 127h4M8 95h4M88 98h4M80 117h4M20 142h4M92 41h4M43 120h4M58 54h4M60 58h4M40 53h4M88 80h4M64 42h4M48 120h4M66 59h4M30 59h4M71 118h4M85 91h4M29 123h4M37 54h4M90 91h4M10 67h4M11 121h4M23 53h4M84 76h4M25 57h4M4 73h4M85 67h4M49 47h4M63 55h4M108 47h4M42 46h4M19 117h4M90 66h4M8 83h4M6 114h4M88 86h4M82 55h4M4 110h4M4 106h4M25 51h4M30 49h4M27 23h4M2 125h4M19 112h4M15 49h4M92 55h4M20 110h4M32 53h4M89 86h4M82 108h4M87 79h4M2 50h4M66 43h4M92 110h4M65 54h4M73 53h4M72 56h4M68 50h4M19 65h4M86 77h4M91 60h4M20 128h4M12 104h4M8 44h4M100 88h4M32 116h4M87 46h4M122 84h4M2 108h4M23 112h4M52 48h4M4 76h4M7 75h4M35 43h4M31 60h4M34 59h4M2 76h4M28 46h4M19 127h4M76 65h4M16 58h4M71 55h4M68 113h4M84 57h4M90 82h4M85 134h4M55 120h4M96 76h4M29 128h4M3 84h4M25 61h4M101 104h4M4 71h4M85 66h4M46 47h4M16 39h4M11 69h4M6 73h4M85 75h4M80 41h4M96 107h4M43 52h4M70 58h4M92 92h4M55 139h4M4 96h4M117 103h4M27 61h4M69 51h4M53 127h4M46 32h4M20 109h4M30 57h4M78 45h4M95 122h4M93 103h4M79 112h4M68 55h4M30 45h4M2 79h4M12 108h4M54 45h4M17 107h4M59 130h4M75 65h4M97 78h4M4 53h4M46 120h4M106 62h4M22 118h4M28 54h4M91 89h4M64 134h4M63 115h4M90 82h4M80 107h4M66 39h4M17 116h4M80 64h4M17 122h4M4 66h4M82 119h4M51 119h4M25 123h4M9 115h4M12 75h4M43 119h4M66 56h4M54 55h4M91 98h4M8 79h4M66 122h4M12 75h4M93 71h4M73 122h4M53 51h4M70 113h4M85 68h4M8 89h4M5 90h4M6 98h4M88 119h4M48 48h4M37 119h4M5 75h4M2 91h4M79 103h4M50 51h4M45 54h4M78 53h4M67 116h4M51 132h4M73 126h4M127 107h4M3 137h4M71 64h4M86 70h4M15 115h4M11 112h4M93 67h4M39 35h4M96 98h4M60 127h4M24 130h4M111 86h4M92 58h4M5 69h4M83 53h4M9 119h4M39 118h4M19 139h4M3 119h4M23 55h4M106 105h4M58 118h4M73 63h4M52 126h4M43 139h4M95 67h4M19 62h4M17 69h4M30 31h4M39 128h4M71 47h4M10 72h4M48 43h4M43 36h4M19 112h4M114 107h4M3 86h4M80 73h4M94 77h4M23 136h4M86 110h4M26 14h4M79 66h4M37 119h4M2 104h4M58 54h4M3 53h4M11 75h4M49 55h4M5 68h4M3 116h4M110 73h4M58 53h4M29 120h4M90 64h4M68 62h4M10 96h4M35 128h4M93 58h4M2 69h4M18 68h4M95 71h4M31 140h4M43 123h4M2 70h4M48 119h4M17 53h4M91 94h4M4 65h4M88 30h4M9 90h4M60 54h4M36 141h4M88 66h4M87 76h4M7 104h4M44 50h4M13 104h4M77 119h4M109 69h4M14 107h4M85 83h4M2 62h4M16 128h4M86 89h4M22 124h4M3 32h4M63 120h4M2 85h4M36 123h4M15 135h4M35 118h4M94 97h4M86 80h4M68 46h4M94 81h4M4 86h4M40 123h4M42 52h4M85 98h4M77 63h4M67 114h4M101 87h4M77 114h4M92 80h4M92 95h4M32 57h4M72 64h4M4 70h4M28 148h4M7 97h4M85 79h4M89 60h4M61 123h4M81 73h4M93 59h4M2 70h4M2 100h4M104 109h4M27 119h4M17 200h4M16 211h4M79 189h4M2 195h4M62 212h4M90 174h4M26 211h4M51 155h4M18 163h4M31 207h4M8 162h4M82 178h4M37 143h4M119 187h4M11 152h4M27 205h4M38 153h4M7 166h4M6 187h4M21 151h4M37 141h4M28 212h4M2 186h4M60 211h4M57 158h4M4 191h4M58 155h4M20 211h4M28 208h4M90 163h4M6 174h4M4 172h4M15 200h4M63 144h4M89 203h4M81 192h4M11 203h4M17 212h4M70 164h4M22 153h4M87 173h4M27 211h4M32 213h4M76 181h4M14 209h4M23 155h4M85 142h4M83 209h4M91 170h4M58 156h4M76 212h4M4 182h4M4 171h4M35 151h4M78 180h4M85 172h4M68 162h4M70 150h4M75 169h4M38 149h4M90 187h4M69 199h4M55 139h4M89 152h4M48 208h4M83 161h4M19 213h4M102 189h4M7 167h4M5 193h4M79 167h4M46 211h4M3 162h4M72 195h4M4 212h4M7 197h4M6 174h4M13 207h4M2 161h4M13 201h4M46 128h4M56 156h4M5 178h4M82 164h4M59 213h4M78 191h4M92 173h4M78 197h4M62 146h4M64 144h4M8 190h4M60 208h4M52 209h4M93 174h4M3 193h4M14 197h4M80 164h4M79 184h4M74 194h4M73 140h4M53 132h4M64 206h4M13 194h4M41 150h4M81 163h4M60 211h4M2 171h4M90 204h4M13 144h4M2 165h4M27 208h4M6 193h4M52 124h4M7 178h4M35 138h4M2 174h4M67 160h4M12 195h4M3 172h4M8 158h4M19 204h4M78 176h4M26 149h4M65 206h4M47 150h4M16 149h4M45 211h4M40 211h4M49 211h4M79 208h4M68 162h4M6 206h4M72 164h4M77 174h4M2 194h4M7 199h4M42 210h4M84 188h4M6 177h4M62 156h4M29 210h4M50 148h4M11 171h4M88 171h4M26 209h4M8 167h4M2 184h4M108 169h4M84 154h4M6 173h4M54 211h4M77 177h4M64 208h4M5 184h4M5 186h4M33 208h4M78 183h4M50 209h4M6 175h4M64 138h4M10 167h4M76 182h4M3 211h4M80 166h4M58 152h4M86 170h4M48 139h4M56 208h4M72 199h4M51 149h4M67 144h4M34 157h4M5 144h4M6 156h4M68 159h4M77 175h4M14 213h4M17 155h4M53 211h4M43 153h4M48 213h4M14 206h4M67 211h4M68 165h4M67 213h4M21 161h4M12 205h4M14 127h4M6 175h4M86 213h4M2 188h4M2 189h4M59 210h4M4 166h4M44 140h4M39 138h4M123 183h4M19 142h4M83 181h4M91 186h4M3 184h4M60 157h4M9 213h4M93 173h4M92 186h4M88 183h4M80 179h4M112 162h4M22 206h4M51 212h4M44 211h4M49 212h4M26 154h4M46 151h4M83 159h4M43 150h4M82 184h4M52 145h4M3 212h4M5 175h4M86 199h4M82 211h4M80 180h4M15 166h4M3 168h4M65 206h4M66 146h4M76 190h4M21 202h4M12 203h4M19 204h4M64 211h4M61 142h4M4 162h4M36 212h4M69 165h4M2 184h4M37 208h4M85 181h4M17 201h4M94 213h4M42 149h4M92 154h4M45 156h4M63 212h4M3 167h4M92 176h4M95 201h4M105 192h4M6 173h4M65 211h4M90 189h4M20 149h4M73 209h4M85 163h4M65 202h4M25 156h4M13 206h4M67 159h4M79 192h4M28 152h4M48 213h4M3 198h4M78 201h4M89 200h4M17 164h4M64 213h4M7 184h4M67 143h4M54 153h4M75 179h4M34 208h4M67 208h4M91 173h4M13 159h4M50 208h4M68 163h4M84 196h4M89 189h4M15 161h4M37 152h4M6 198h4M85 195h4M63 150h4M5 171h4M11 171h4M4 167h4M12 195h4M51 156h4M21 148h4M16 203h4M40 144h4M85 169h4M3 186h4M12 202h4M97 191h4M13 195h4M10 162h4M12 163h4M79 163h4M2 188h4M79 206h4M37 146h4M11 165h4M41 210h4M37 211h4M44 152h4M72 154h4M85 185h4M2 199h4M42 210h4M76 154h4M47 212h4M62 147h4M12 194h4M30 207h4M87 172h4M6 156h4M78 160h4M2 157h4M58 156h4M41 210h4M90 185h4M80 167h4M45 210h4M51 210h4M49 149h4M9 168h4M57 132h4M62 213h4M33 211h4M59 211h4M83 174h4M59 154h4M74 152h4M79 194h4M5 208h4M5 169h4M8 184h4M3 169h4M15 166h4M22 211h4M4 140h4M32 148h4M66 128h4M80 163h4M33 150h4M66 136h4M103 149h4M50 119h4M76 135h4M18 145h4M35 122h4M30 145h4M55 129h4M30 139h4M62 157h4M14 153h4M48 157h4M10 151h4M54 143h4M84 139h4M45 114h4M84 140h4M54 147h4M51 168h4M114 139h4M49 134h4M53 138h4M31 123h4M50 119h4M25 153h4M111 141h4M62 142h4M55 122h4M87 122h4M95 128h4M116 128h4M68 161h4M29 144h4M10 127h4M68 122h4M51 124h4M39 165h4M13 131h4M51 149h4M47 126h4M11 132h4M72 129h4M27 121h4M46 152h4M49 137h4M36 132h4M32 138h4M34 144h4M4 140h4M77 151h4M171 29h4M136 36h4M113 97h4M153 45h4M206 44h4M187 114h4M173 46h4M188 36h4M159 48h4M163 45h4M149 63h4M165 139h4M157 21h4" stroke="#cb2d10" stroke-width="4" fill="none"/>
</g></g>
<rect x="409.5" y="609.5" width="61" height="54" fill="none" stroke="#3a3a3a" stroke-width=".85"/>
<path d="M437.5 609.5L437.5 663.5" stroke="#222" stroke-width="1" fill="none"/>
<path d="M409.5 644.5L470.5 644.5" stroke="#222" stroke-width="1" fill="none"/>
<text x="411.5" y="615.1" font-size="5.3" text-anchor="start" fill="#262626">66.09</text>
<text x="468.9" y="615.1" font-size="5.3" text-anchor="end" fill="#262626">0.18</text>
<text x="411.7" y="661.7" font-size="5.3" text-anchor="start" fill="#7a1205">33.71</text>
<text x="468.9" y="661.7" font-size="5.3" text-anchor="end" fill="#262626">0.02</text>
<path d="M410.1 663.5v2.2M409.5 662.9h-2.2M414.58 663.5v1M409.5 658.95h-1M417.2 663.5v1M409.5 656.64h-1M419.06 663.5v1M409.5 655h-1M420.5 663.5v1M409.5 653.73h-1M421.67 663.5v1M409.5 652.69h-1M422.67 663.5v1M409.5 651.81h-1M423.53 663.5v1M409.5 651.05h-1M424.29 663.5v1M409.5 650.38h-1M424.98 663.5v2.2M409.5 649.77h-2.2M429.45 663.5v1M409.5 645.82h-1M432.07 663.5v1M409.5 643.51h-1M433.93 663.5v1M409.5 641.87h-1M435.37 663.5v1M409.5 640.6h-1M436.55 663.5v1M409.5 639.56h-1M437.55 663.5v1M409.5 638.68h-1M438.41 663.5v1M409.5 637.92h-1M439.17 663.5v1M409.5 637.25h-1M439.85 663.5v2.2M409.5 636.65h-2.2M444.33 663.5v1M409.5 632.7h-1M446.95 663.5v1M409.5 630.39h-1M448.81 663.5v1M409.5 628.75h-1M450.25 663.5v1M409.5 627.48h-1M451.42 663.5v1M409.5 626.44h-1M452.42 663.5v1M409.5 625.56h-1M453.28 663.5v1M409.5 624.8h-1M454.04 663.5v1M409.5 624.13h-1M454.73 663.5v2.2M409.5 623.52h-2.2M459.2 663.5v1M409.5 619.57h-1M461.82 663.5v1M409.5 617.26h-1M463.68 663.5v1M409.5 615.62h-1M465.12 663.5v1M409.5 614.35h-1M466.3 663.5v1M409.5 613.31h-1M467.3 663.5v1M409.5 612.43h-1M468.16 663.5v1M409.5 611.67h-1M468.92 663.5v1M409.5 611h-1M469.6 663.5v2.2M409.5 610.4h-2.2" stroke="#333" stroke-width=".45" fill="none"/>
<text x="411.1" y="671.5" font-size="5.7" text-anchor="middle" fill="#000">10<tspan font-size="3.8" dy="-2.3">0</tspan></text>
<text x="406.3" y="661.9" font-size="5.7" text-anchor="middle" fill="#000" transform="rotate(-90 406.3 661.9)">10<tspan font-size="3.8" dy="-2.3">0</tspan></text>
<text x="425.98" y="671.5" font-size="5.7" text-anchor="middle" fill="#000">10<tspan font-size="3.8" dy="-2.3">1</tspan></text>
<text x="406.3" y="648.77" font-size="5.7" text-anchor="middle" fill="#000" transform="rotate(-90 406.3 648.77)">10<tspan font-size="3.8" dy="-2.3">1</tspan></text>
<text x="440.85" y="671.5" font-size="5.7" text-anchor="middle" fill="#000">10<tspan font-size="3.8" dy="-2.3">2</tspan></text>
<text x="406.3" y="635.65" font-size="5.7" text-anchor="middle" fill="#000" transform="rotate(-90 406.3 635.65)">10<tspan font-size="3.8" dy="-2.3">2</tspan></text>
<text x="455.73" y="671.5" font-size="5.7" text-anchor="middle" fill="#000">10<tspan font-size="3.8" dy="-2.3">3</tspan></text>
<text x="406.3" y="622.52" font-size="5.7" text-anchor="middle" fill="#000" transform="rotate(-90 406.3 622.52)">10<tspan font-size="3.8" dy="-2.3">3</tspan></text>
<text x="470.6" y="671.5" font-size="5.7" text-anchor="middle" fill="#000">10<tspan font-size="3.8" dy="-2.3">4</tspan></text>
<text x="406.3" y="609.4" font-size="5.7" text-anchor="middle" fill="#000" transform="rotate(-90 406.3 609.4)">10<tspan font-size="3.8" dy="-2.3">4</tspan></text>
<text x="439.5" y="676.7" font-size="4.6" text-anchor="middle" fill="#333">c-kit</text>
<text x="398.7" y="636.5" font-size="5.6" text-anchor="middle" transform="rotate(-90 398.7 636.5)" fill="#111">CD11b</text>
<clipPath id="k23"><rect x="409.5" y="685.5" width="61" height="55"/></clipPath>
<g clip-path="url(#k23)"><g>
<ellipse cx="422.5" cy="707.6" rx="10.99" ry="8.15" fill="#cb2d10"/>
<ellipse cx="418.8" cy="731.3" rx="8.27" ry="5.69" fill="#cb2d10"/>
<path transform="translate(409.5 685.5) scale(.25)" d="M111 66h4M8 86h4M9 94h4M6 72h4M61 57h4M3 76h4M67 60h4M101 82h4M97 86h4M10 134h4M73 133h4M3 109h4M20 124h4M75 49h4M34 53h4M3 77h4M18 113h4M87 120h4M64 118h4M35 130h4M100 110h4M59 58h4M30 137h4M8 106h4M47 128h4M100 98h4M84 119h4M90 106h4M19 107h4M88 137h4M80 114h4M10 95h4M9 74h4M50 42h4M30 128h4M129 82h4M60 51h4M45 55h4M4 60h4M96 83h4M9 134h4M27 43h4M116 63h4M91 113h4M64 57h4M18 55h4M66 120h4M69 57h4M83 116h4M3 85h4M13 64h4M65 124h4M97 73h4M11 66h4M39 39h4M99 85h4M13 119h4M99 86h4M111 104h4M48 121h4M6 96h4M100 55h4M106 94h4M59 58h4M87 109h4M117 77h4M10 54h4M15 126h4M63 147h4M2 108h4M118 64h4M22 36h4M46 55h4M80 61h4M89 69h4M59 53h4M46 50h4M8 93h4M98 68h4M116 127h4M13 71h4M105 79h4M74 123h4M21 112h4M14 60h4M97 95h4M26 55h4M80 57h4M67 51h4M34 121h4M14 75h4M93 109h4M50 41h4M23 122h4M89 69h4M123 74h4M76 116h4M3 100h4M11 77h4M71 122h4M56 51h4M11 49h4M54 48h4M92 81h4M25 125h4M4 99h4M97 96h4M82 110h4M89 106h4M21 110h4M55 57h4M86 111h4M94 92h4M137 68h4M52 52h4M57 128h4M7 90h4M6 129h4M83 68h4M21 119h4M54 56h4M48 119h4M23 56h4M65 51h4M12 100h4M6 90h4M4 102h4M3 129h4M30 54h4M68 122h4M6 116h4M110 109h4M118 66h4M99 85h4M7 148h4M27 123h4M26 127h4M2 101h4M63 49h4M42 134h4M57 123h4M88 122h4M114 94h4M76 50h4M105 104h4M96 85h4M12 79h4M105 86h4M5 132h4M28 63h4M2 99h4M49 49h4M14 100h4M107 80h4M54 125h4M47 52h4M16 63h4M51 54h4M34 59h4M8 121h4M100 105h4M84 109h4M50 52h4M14 113h4M73 120h4M4 70h4M65 54h4M114 96h4M3 90h4M4 80h4M83 119h4M73 58h4M89 68h4M2 113h4M12 94h4M104 78h4M135 96h4M5 79h4M101 80h4M14 126h4M3 91h4M101 89h4M10 88h4M32 53h4M94 83h4M95 80h4M43 55h4M21 66h4M2 127h4M3 115h4M28 45h4M12 47h4M122 89h4M129 71h4M16 72h4M93 109h4M84 53h4M87 57h4M57 28h4M57 51h4M36 58h4M101 59h4M85 65h4M26 146h4M120 89h4M10 33h4M3 113h4M95 95h4M113 96h4M61 133h4M37 119h4M30 115h4M44 146h4M114 76h4M47 123h4M35 141h4M55 130h4M23 115h4M48 128h4M130 82h4M4 88h4M6 97h4M56 54h4M27 116h4M4 71h4M92 74h4M26 112h4M97 102h4M77 121h4M92 97h4M2 57h4M80 52h4M76 114h4M84 37h4M98 57h4M26 56h4M4 131h4M54 119h4M84 62h4M2 86h4M36 128h4M3 100h4M34 124h4M7 69h4M11 96h4M5 73h4M15 71h4M38 52h4M6 109h4M46 125h4M56 38h4M56 49h4M81 35h4M97 78h4M23 130h4M88 63h4M13 79h4M98 76h4M76 123h4M64 45h4M10 101h4M103 49h4M83 68h4M12 146h4M84 109h4M55 53h4M25 118h4M100 77h4M94 91h4M80 50h4M4 87h4M90 115h4M26 63h4M26 59h4M92 82h4M92 96h4M29 116h4M89 70h4M75 38h4M28 64h4M15 102h4M94 106h4M113 107h4M22 46h4M95 110h4M32 116h4M72 121h4M12 97h4M129 99h4M94 57h4M25 129h4M45 120h4M15 60h4M44 121h4M2 93h4M4 105h4M2 100h4M79 47h4M94 82h4M80 112h4M83 61h4M57 140h4M84 69h4M11 100h4M96 104h4M76 59h4M16 60h4M63 56h4M70 120h4M70 117h4M72 119h4M7 91h4M3 104h4M124 110h4M88 74h4M15 111h4M9 81h4M47 121h4M88 109h4M12 54h4M32 137h4M72 124h4M93 92h4M25 60h4M88 141h4M12 77h4M4 88h4M118 99h4M14 107h4M91 118h4M101 78h4M62 137h4M35 22h4M24 60h4M95 88h4M89 105h4M91 110h4M70 56h4M98 85h4M16 130h4M41 50h4M84 58h4M25 117h4M8 69h4M91 132h4M54 134h4M35 131h4M20 52h4M14 106h4M85 108h4M23 145h4M68 47h4M92 70h4M85 109h4M109 121h4M109 79h4M91 100h4M9 78h4M2 99h4M94 65h4M93 78h4M57 128h4M11 43h4M56 134h4M64 121h4M4 103h4M50 48h4M88 120h4M53 52h4M29 117h4M105 97h4M4 68h4M26 65h4M82 55h4M32 59h4M3 99h4M67 117h4M85 62h4M49 51h4M92 105h4M30 147h4M108 109h4M94 85h4M16 120h4M15 73h4M94 75h4M92 105h4M151 72h4M95 71h4M49 141h4M69 40h4M88 72h4M22 112h4M120 105h4M87 130h4M96 94h4M70 54h4M7 95h4M11 67h4M166 79h4M113 122h4M4 100h4M109 68h4M111 81h4M83 59h4M89 102h4M16 74h4M16 130h4M116 101h4M48 47h4M3 88h4M53 125h4M82 56h4M5 94h4M35 151h4M97 87h4M123 78h4M51 128h4M95 59h4M37 38h4M79 121h4M79 50h4M27 57h4M52 49h4M8 108h4M2 135h4M62 145h4M44 46h4M21 111h4M113 109h4M15 104h4M4 78h4M92 73h4M17 52h4M95 74h4M6 109h4M91 63h4M108 71h4M98 62h4M45 124h4M76 43h4M82 110h4M62 146h4M84 107h4M97 67h4M33 61h4M111 60h4M93 73h4M119 98h4M39 55h4M68 58h4M55 158h4M102 71h4M80 123h4M93 51h4M22 115h4M57 133h4M45 122h4M100 92h4M79 61h4M43 59h4M17 109h4M101 70h4M104 102h4M75 152h4M4 156h4M14 198h4M87 188h4M18 210h4M37 206h4M59 161h4M7 170h4M67 202h4M17 201h4M46 212h4M67 197h4M25 162h4M23 202h4M19 217h4M52 156h4M67 199h4M18 207h4M26 159h4M89 202h4M34 159h4M77 191h4M14 204h4M44 215h4M17 166h4M87 180h4M59 214h4M65 194h4M66 169h4M70 171h4M36 206h4M88 189h4M76 194h4M34 160h4M4 176h4M68 176h4M47 157h4M24 163h4M67 173h4M5 206h4M64 169h4M73 204h4M35 216h4M11 200h4M4 161h4M37 214h4M41 162h4M12 200h4M44 162h4M58 157h4M54 217h4M75 175h4M11 216h4M65 172h4M79 156h4M68 158h4M40 159h4M37 205h4M41 150h4M4 192h4M3 203h4M18 141h4M68 166h4M36 205h4M8 166h4M92 170h4M58 167h4M22 163h4M11 168h4M64 157h4M68 193h4M51 142h4M3 182h4M73 169h4M4 188h4M64 166h4M67 177h4M6 179h4M61 201h4M2 201h4M8 191h4M11 166h4M72 215h4M82 215h4M11 205h4M9 156h4M66 204h4M77 153h4M4 200h4M42 157h4M5 186h4M12 171h4M49 157h4M20 205h4M10 196h4M50 206h4M53 216h4M82 176h4M69 175h4M78 171h4M68 205h4M40 151h4M88 201h4M42 157h4M51 158h4M4 180h4M3 213h4M76 216h4M62 163h4M74 172h4M66 159h4M8 173h4M93 196h4M81 172h4M7 191h4M47 205h4M3 189h4M5 200h4M2 175h4M15 158h4M44 215h4M39 214h4M62 210h4M69 216h4M53 205h4M14 200h4M76 189h4M79 164h4M3 212h4M16 209h4M7 188h4M9 213h4M37 215h4M63 155h4M2 174h4M4 199h4M30 205h4M41 218h4M8 155h4M6 185h4M65 173h4M17 207h4M53 162h4M12 156h4M17 144h4M7 156h4M56 201h4M75 180h4M22 150h4M92 182h4M11 168h4M69 195h4M37 158h4M46 151h4M56 206h4M53 163h4M22 162h4M39 162h4M45 151h4M17 161h4M28 205h4M2 179h4M68 193h4M3 199h4M32 208h4M114 199h4M56 162h4M16 164h4M4 172h4M3 202h4M32 151h4M13 159h4M16 201h4M37 139h4M6 155h4M63 160h4M71 194h4M28 150h4M3 179h4M2 166h4M3 192h4M72 171h4M47 208h4M41 205h4M64 163h4M5 166h4M41 159h4M3 178h4M3 178h4M67 207h4M73 205h4M2 209h4M7 160h4M6 191h4M68 177h4M65 203h4M58 211h4M79 145h4M15 163h4M8 215h4M6 177h4M33 147h4M27 156h4M77 160h4M51 203h4M42 206h4M32 153h4M67 192h4M55 201h4M64 167h4M6 196h4M66 191h4M28 142h4M4 184h4M3 189h4M27 163h4M25 211h4M58 199h4M21 154h4M57 154h4M3 183h4M6 202h4M53 149h4M83 190h4M49 144h4M37 208h4M80 170h4M4 170h4M70 186h4M89 197h4M7 171h4M12 206h4M4 197h4M22 206h4M53 139h4M79 167h4M83 186h4M4 190h4M38 160h4M11 170h4M77 195h4M13 164h4M70 169h4M12 161h4M19 165h4M20 160h4M12 154h4M68 199h4M24 204h4M34 161h4M34 205h4M16 165h4M8 195h4M53 149h4M57 208h4M51 160h4M52 206h4M14 204h4M67 201h4M76 158h4M3 163h4M59 213h4M3 181h4M84 204h4M57 211h4M10 196h4M27 161h4M63 210h4M65 198h4M17 138h4M13 149h4M69 171h4M3 159h4M49 203h4M53 163h4M43 161h4M7 172h4M19 159h4M4 176h4M73 180h4M2 159h4M3 197h4M48 216h4M83 120h4M25 132h4M63 126h4M59 122h4M75 160h4M43 146h4M71 148h4M44 142h4M49 141h4M22 136h4M92 120h4M43 141h4M50 135h4M38 142h4M16 137h4M4 138h4M25 145h4M45 152h4M43 142h4M7 137h4M100 125h4M2 115h4M32 140h4M54 127h4M27 142h4M47 127h4M105 107h4M75 143h4M55 136h4M78 134h4M55 138h4M4 137h4M80 151h4M29 126h4M63 133h4M46 124h4M56 131h4M50 117h4M49 142h4M61 148h4M75 150h4M85 137h4M33 125h4M39 158h4M198 70h4M155 85h4M178 83h4M128 76h4M204 91h4M170 74h4M167 109h4M107 98h4M147 121h4M215 87h4M202 116h4M174 88h4" stroke="#cb2d10" stroke-width="4" fill="none"/>
</g></g>
<rect x="409.5" y="685.5" width="61" height="55" fill="none" stroke="#3a3a3a" stroke-width=".85"/>
<path d="M437.5 685.5L437.5 740.5" stroke="#222" stroke-width="1" fill="none"/>
<path d="M409.5 720.5L470.5 720.5" stroke="#222" stroke-width="1" fill="none"/>
<text x="411.5" y="691.1" font-size="5.3" text-anchor="start" fill="#262626">67.24</text>
<text x="468.9" y="691.1" font-size="5.3" text-anchor="end" fill="#262626">0.34</text>
<text x="411.7" y="738.7" font-size="5.3" text-anchor="start" fill="#7a1205">32.35</text>
<text x="468.9" y="738.7" font-size="5.3" text-anchor="end" fill="#262626">0.07</text>
<path d="M410.1 740.5v2.2M409.5 739.9h-2.2M414.58 740.5v1M409.5 735.87h-1M417.2 740.5v1M409.5 733.52h-1M419.06 740.5v1M409.5 731.85h-1M420.5 740.5v1M409.5 730.55h-1M421.67 740.5v1M409.5 729.49h-1M422.67 740.5v1M409.5 728.6h-1M423.53 740.5v1M409.5 727.82h-1M424.29 740.5v1M409.5 727.14h-1M424.98 740.5v2.2M409.5 726.52h-2.2M429.45 740.5v1M409.5 722.5h-1M432.07 740.5v1M409.5 720.14h-1M433.93 740.5v1M409.5 718.47h-1M435.37 740.5v1M409.5 717.18h-1M436.55 740.5v1M409.5 716.12h-1M437.55 740.5v1M409.5 715.22h-1M438.41 740.5v1M409.5 714.45h-1M439.17 740.5v1M409.5 713.76h-1M439.85 740.5v2.2M409.5 713.15h-2.2M444.33 740.5v1M409.5 709.12h-1M446.95 740.5v1M409.5 706.77h-1M448.81 740.5v1M409.5 705.1h-1M450.25 740.5v1M409.5 703.8h-1M451.42 740.5v1M409.5 702.74h-1M452.42 740.5v1M409.5 701.85h-1M453.28 740.5v1M409.5 701.07h-1M454.04 740.5v1M409.5 700.39h-1M454.73 740.5v2.2M409.5 699.77h-2.2M459.2 740.5v1M409.5 695.75h-1M461.82 740.5v1M409.5 693.39h-1M463.68 740.5v1M409.5 691.72h-1M465.12 740.5v1M409.5 690.43h-1M466.3 740.5v1M409.5 689.37h-1M467.3 740.5v1M409.5 688.47h-1M468.16 740.5v1M409.5 687.7h-1M468.92 740.5v1M409.5 687.01h-1M469.6 740.5v2.2M409.5 686.4h-2.2" stroke="#333" stroke-width=".45" fill="none"/>
<text x="411.1" y="748.5" font-size="5.7" text-anchor="middle" fill="#000">10<tspan font-size="3.8" dy="-2.3">0</tspan></text>
<text x="406.3" y="738.9" font-size="5.7" text-anchor="middle" fill="#000" transform="rotate(-90 406.3 738.9)">10<tspan font-size="3.8" dy="-2.3">0</tspan></text>
<text x="425.98" y="748.5" font-size="5.7" text-anchor="middle" fill="#000">10<tspan font-size="3.8" dy="-2.3">1</tspan></text>
<text x="406.3" y="725.52" font-size="5.7" text-anchor="middle" fill="#000" transform="rotate(-90 406.3 725.52)">10<tspan font-size="3.8" dy="-2.3">1</tspan></text>
<text x="440.85" y="748.5" font-size="5.7" text-anchor="middle" fill="#000">10<tspan font-size="3.8" dy="-2.3">2</tspan></text>
<text x="406.3" y="712.15" font-size="5.7" text-anchor="middle" fill="#000" transform="rotate(-90 406.3 712.15)">10<tspan font-size="3.8" dy="-2.3">2</tspan></text>
<text x="455.73" y="748.5" font-size="5.7" text-anchor="middle" fill="#000">10<tspan font-size="3.8" dy="-2.3">3</tspan></text>
<text x="406.3" y="698.77" font-size="5.7" text-anchor="middle" fill="#000" transform="rotate(-90 406.3 698.77)">10<tspan font-size="3.8" dy="-2.3">3</tspan></text>
<text x="470.6" y="748.5" font-size="5.7" text-anchor="middle" fill="#000">10<tspan font-size="3.8" dy="-2.3">4</tspan></text>
<text x="406.3" y="685.4" font-size="5.7" text-anchor="middle" fill="#000" transform="rotate(-90 406.3 685.4)">10<tspan font-size="3.8" dy="-2.3">4</tspan></text>
<text x="439.5" y="753.7" font-size="4.6" text-anchor="middle" fill="#333">c-kit</text>
<text x="398.7" y="713" font-size="5.6" text-anchor="middle" transform="rotate(-90 398.7 713)" fill="#111">CD11b</text>
<clipPath id="k24"><rect x="409.5" y="761.5" width="61" height="54"/></clipPath>
<g clip-path="url(#k24)"><g>
<ellipse cx="420" cy="773.8" rx="9.1" ry="7.2" fill="#cb2d10"/>
<ellipse cx="418.8" cy="803.8" rx="7.41" ry="7.41" fill="#cb2d10"/>
<path transform="translate(409.5 761.5) scale(.25)" d="M32 16h4M75 108h4M74 66h4M63 72h4M36 19h4M5 62h4M78 42h4M45 15h4M10 77h4M55 18h4M87 47h4M38 79h4M13 7h4M81 49h4M11 69h4M2 64h4M5 59h4M108 62h4M32 17h4M76 32h4M9 20h4M78 62h4M82 59h4M92 63h4M9 39h4M89 61h4M86 47h4M82 84h4M33 85h4M56 98h4M21 75h4M57 23h4M30 75h4M48 82h4M3 63h4M51 16h4M54 76h4M64 16h4M5 25h4M4 53h4M48 4h4M6 55h4M35 76h4M38 15h4M51 11h4M11 75h4M65 93h4M48 90h4M4 18h4M4 49h4M13 32h4M35 18h4M81 65h4M47 18h4M78 69h4M97 42h4M104 37h4M22 100h4M4 31h4M96 12h4M2 27h4M43 22h4M19 27h4M66 28h4M87 61h4M21 28h4M80 70h4M46 11h4M33 9h4M82 31h4M76 77h4M26 107h4M30 17h4M8 71h4M31 79h4M41 20h4M85 41h4M5 16h4M84 21h4M78 69h4M38 22h4M69 99h4M22 27h4M46 81h4M82 53h4M15 72h4M14 75h4M12 74h4M82 45h4M30 84h4M7 58h4M41 5h4M3 23h4M11 65h4M21 28h4M7 43h4M40 78h4M2 57h4M73 66h4M73 35h4M20 74h4M76 25h4M5 59h4M104 47h4M3 31h4M17 74h4M83 59h4M82 18h4M13 29h4M3 75h4M4 49h4M29 16h4M64 28h4M2 50h4M19 27h4M5 58h4M79 27h4M75 61h4M38 76h4M83 58h4M10 74h4M60 8h4M23 74h4M73 35h4M13 84h4M53 23h4M81 65h4M85 49h4M78 53h4M80 47h4M26 86h4M80 39h4M16 80h4M81 43h4M39 19h4M104 26h4M18 98h4M18 20h4M67 85h4M77 54h4M8 86h4M4 74h4M23 26h4M85 36h4M69 69h4M38 86h4M4 82h4M13 32h4M34 22h4M2 27h4M71 90h4M71 10h4M2 89h4M76 25h4M2 8h4M7 59h4M18 70h4M37 84h4M60 88h4M81 30h4M75 90h4M82 77h4M69 77h4M22 27h4M20 17h4M3 31h4M77 58h4M16 77h4M89 34h4M92 30h4M59 84h4M42 17h4M47 15h4M76 81h4M55 84h4M21 25h4M4 80h4M55 17h4M2 77h4M41 22h4M79 88h4M82 69h4M19 20h4M27 75h4M77 28h4M57 82h4M12 35h4M70 26h4M4 74h4M15 75h4M61 13h4M64 27h4M13 106h4M20 80h4M75 44h4M70 90h4M38 22h4M78 32h4M6 43h4M8 33h4M53 15h4M44 5h4M10 30h4M18 25h4M103 43h4M82 26h4M39 12h4M66 10h4M28 16h4M78 51h4M62 23h4M7 70h4M68 79h4M29 93h4M84 60h4M13 71h4M48 77h4M90 48h4M51 83h4M80 28h4M35 81h4M54 23h4M4 51h4M3 67h4M45 78h4M7 42h4M72 25h4M92 30h4M56 12h4M75 55h4M83 65h4M84 40h4M7 52h4M2 73h4M78 58h4M75 20h4M97 87h4M49 18h4M50 16h4M50 21h4M44 93h4M33 13h4M90 58h4M47 8h4M3 63h4M22 26h4M93 59h4M35 17h4M82 68h4M3 59h4M69 71h4M50 19h4M18 26h4M3 38h4M27 75h4M74 33h4M80 65h4M53 23h4M84 64h4M69 81h4M77 82h4M19 25h4M19 86h4M67 86h4M19 25h4M89 77h4M7 55h4M87 60h4M53 19h4M91 44h4M82 55h4M6 41h4M64 27h4M16 30h4M99 72h4M43 90h4M81 20h4M88 24h4M88 62h4M72 14h4M80 77h4M81 61h4M83 89h4M38 19h4M8 6h4M82 63h4M2 64h4M3 64h4M88 44h4M53 20h4M60 23h4M2 13h4M69 27h4M56 20h4M12 81h4M2 26h4M8 20h4M8 41h4M81 38h4M62 14h4M75 70h4M2 42h4M15 11h4M24 90h4M91 40h4M33 77h4M46 19h4M71 65h4M49 16h4M24 76h4M80 49h4M58 80h4M54 84h4M94 71h4M11 61h4M71 63h4M3 22h4M45 78h4M7 51h4M21 93h4M44 77h4M87 46h4M42 89h4M58 19h4M12 68h4M7 62h4M6 50h4M4 40h4M41 84h4M78 41h4M68 23h4M16 21h4M56 21h4M178 46h4M163 40h4M153 49h4M159 52h4M147 54h4M146 52h4M139 71h4M139 59h4M162 56h4M157 66h4M149 52h4M156 57h4M165 83h4M186 49h4M151 45h4M151 78h4M157 41h4M151 84h4M134 45h4M152 50h4M159 69h4M137 77h4M164 61h4M168 48h4M154 71h4M160 47h4M135 60h4M152 40h4M153 50h4M176 46h4M167 43h4M174 51h4M169 49h4M160 50h4M141 24h4M140 28h4M159 61h4M178 29h4M165 52h4M165 42h4M137 68h4M168 53h4M145 66h4M173 56h4M145 37h4M139 62h4M147 38h4M173 45h4M155 67h4M156 61h4M151 73h4M183 71h4M143 56h4M141 46h4M159 38h4M150 77h4M148 40h4M180 49h4M165 54h4M141 42h4M165 57h4M162 61h4M167 58h4M138 43h4M169 26h4M172 42h4M156 55h4M167 66h4M187 43h4M146 67h4M139 62h4M151 59h4M170 61h4M153 55h4M149 33h4M149 64h4M168 56h4M145 46h4M160 65h4M134 55h4M152 57h4M147 43h4M151 38h4M145 48h4M160 45h4M142 57h4M169 60h4M160 35h4M151 43h4M186 44h4M149 39h4M141 55h4M121 40h4M153 37h4M154 48h4M155 42h4M169 80h4M172 62h4M148 58h4M147 42h4M175 59h4M160 63h4M142 70h4M164 37h4M141 58h4M149 44h4M141 68h4M143 17h4M165 70h4M135 55h4M182 53h4M141 54h4M133 60h4M172 52h4M151 85h4M152 74h4M168 50h4M168 33h4M164 49h4M172 25h4M180 71h4M165 62h4M149 49h4M151 66h4M166 56h4M156 69h4M160 79h4M168 61h4M170 27h4M167 52h4M11 185h4M84 175h4M30 136h4M2 182h4M10 149h4M58 113h4M78 170h4M59 191h4M45 137h4M6 170h4M20 141h4M49 131h4M64 196h4M52 209h4M65 159h4M23 143h4M8 174h4M36 141h4M69 200h4M86 182h4M4 143h4M10 141h4M63 196h4M61 192h4M51 135h4M81 157h4M42 198h4M66 177h4M77 213h4M58 151h4M26 140h4M4 169h4M37 138h4M69 164h4M42 141h4M68 177h4M35 137h4M63 153h4M24 115h4M33 197h4M42 204h4M57 206h4M24 142h4M68 163h4M35 203h4M6 145h4M30 128h4M74 155h4M18 129h4M64 161h4M59 127h4M54 209h4M9 154h4M9 178h4M11 190h4M11 123h4M59 133h4M3 154h4M6 167h4M107 139h4M71 136h4M9 169h4M8 150h4M10 179h4M23 210h4M2 173h4M68 150h4M26 140h4M2 177h4M21 124h4M30 114h4M25 144h4M49 200h4M66 202h4M19 129h4M49 211h4M53 138h4M4 179h4M57 194h4M14 153h4M56 142h4M36 138h4M9 138h4M2 158h4M65 172h4M92 143h4M93 161h4M39 126h4M48 130h4M23 134h4M51 131h4M77 160h4M16 190h4M14 148h4M73 131h4M17 137h4M19 191h4M19 141h4M54 142h4M59 192h4M85 167h4M87 148h4M34 116h4M35 199h4M35 128h4M2 180h4M50 133h4M5 141h4M8 151h4M19 145h4M22 144h4M60 136h4M55 200h4M7 143h4M4 140h4M10 190h4M12 191h4M62 187h4M4 181h4M2 185h4M4 159h4M11 156h4M43 140h4M5 175h4M5 175h4M38 211h4M25 141h4M10 156h4M48 200h4M56 137h4M39 198h4M79 179h4M20 197h4M30 135h4M61 153h4M10 157h4M66 194h4M79 199h4M63 187h4M45 123h4M64 155h4M10 177h4M22 197h4M10 193h4M56 142h4M84 204h4M57 141h4M50 117h4M26 199h4M8 128h4M38 127h4M27 117h4M70 185h4M31 211h4M65 151h4M4 199h4M35 126h4M37 207h4M31 140h4M43 196h4M26 137h4M68 183h4M76 164h4M57 148h4M8 187h4M55 140h4M84 143h4M36 123h4M60 185h4M3 168h4M75 181h4M69 156h4M47 207h4M21 194h4M79 154h4M66 175h4M35 119h4M47 128h4M16 200h4M58 126h4M6 207h4M52 211h4M79 184h4M59 137h4M35 198h4M8 158h4M57 198h4M9 186h4M65 157h4M72 147h4M51 194h4M65 160h4M4 183h4M67 153h4M30 126h4M29 199h4M65 192h4M81 146h4M40 123h4M9 171h4M21 143h4M50 200h4M57 148h4M33 209h4M67 175h4M2 180h4M17 149h4M62 151h4M3 207h4M3 190h4M76 157h4M11 189h4M11 187h4M57 188h4M14 211h4M66 138h4M26 143h4M9 157h4M68 166h4M36 133h4M48 143h4M3 158h4M85 182h4M10 202h4M11 184h4M54 198h4M2 195h4M58 130h4M51 212h4M58 192h4M58 197h4M77 176h4M64 144h4M4 182h4M80 162h4M51 137h4M29 128h4M41 201h4M28 137h4M57 198h4M35 210h4M28 137h4M65 197h4M25 144h4M42 199h4M14 199h4M48 196h4M14 151h4M60 152h4M9 124h4M4 171h4M37 139h4M62 193h4M79 179h4M21 211h4M4 142h4M35 103h4M58 191h4M48 127h4M77 155h4M33 211h4M8 170h4M69 185h4M72 170h4M13 200h4M76 162h4M54 191h4M89 174h4M49 197h4M4 167h4M43 141h4M5 166h4M7 176h4M38 130h4M37 199h4M3 171h4M68 178h4M60 213h4M18 206h4M20 213h4M2 184h4M59 137h4M57 196h4M10 148h4M81 158h4M15 134h4M86 168h4M14 209h4M57 201h4M24 194h4M70 170h4M62 129h4M62 199h4M84 154h4M27 206h4M66 141h4M37 207h4M53 141h4M68 166h4M55 148h4M11 203h4M60 197h4M70 153h4M7 208h4M21 144h4M52 200h4M66 191h4M68 163h4M70 179h4M19 125h4M52 129h4M50 135h4M10 187h4M14 135h4M31 141h4M66 210h4M41 199h4M60 194h4M59 127h4M39 199h4M78 150h4M22 201h4M61 194h4M50 195h4M19 191h4M26 209h4M86 161h4M70 151h4M10 141h4M65 120h4M25 197h4M59 141h4M55 128h4M26 138h4M13 130h4M21 195h4M11 155h4M44 207h4M82 143h4M10 200h4M68 193h4M20 210h4M2 193h4M10 125h4M86 212h4M49 199h4M5 195h4M10 150h4M9 190h4M9 186h4M73 160h4M61 187h4M62 147h4M78 151h4M14 188h4M6 176h4M4 211h4M22 117h4M5 173h4M45 123h4M66 158h4M24 213h4M10 163h4M72 160h4M29 200h4M47 209h4M27 205h4M4 199h4M52 141h4M70 134h4M40 129h4M70 115h4M29 113h4M41 125h4M55 103h4M74 131h4M66 116h4M104 130h4M75 148h4M71 78h4M83 106h4M50 117h4M78 72h4M52 118h4M50 135h4M37 118h4M55 81h4M85 106h4M60 91h4M59 105h4M59 84h4M43 148h4M63 89h4M48 148h4M57 99h4M59 102h4M89 88h4M101 120h4M86 128h4M16 121h4M66 136h4M65 107h4M66 106h4M39 131h4M45 141h4M83 92h4M51 114h4M50 110h4M24 149h4M66 112h4M71 72h4M24 129h4M85 132h4M49 160h4M31 103h4M61 119h4M60 100h4M116 152h4M95 126h4M22 136h4M75 80h4M50 76h4M38 105h4M15 106h4M98 132h4M60 136h4M69 79h4M42 128h4M44 115h4M50 116h4M26 132h4M42 151h4M77 124h4M100 145h4M30 61h4M2 96h4M31 132h4M55 157h4M57 123h4M38 128h4M66 135h4M39 123h4M67 140h4M68 114h4M45 64h4M72 96h4M56 105h4M45 123h4M63 148h4M42 120h4M26 131h4M8 133h4M40 100h4M39 107h4M55 115h4M62 110h4M7 96h4M42 137h4M38 106h4M60 70h4M31 125h4M30 52h4M49 126h4M59 103h4M60 98h4M23 142h4M47 86h4M85 126h4M77 138h4M76 69h4M57 97h4M35 93h4M47 95h4M42 133h4M110 95h4M52 104h4M4 103h4M87 114h4M87 131h4M41 126h4M107 78h4M41 209h4M60 118h4M33 103h4M61 108h4M46 103h4M32 127h4M43 132h4M69 125h4M86 136h4M83 113h4M20 162h4M3 142h4M19 84h4M70 129h4M66 119h4M94 107h4M69 141h4M75 109h4M60 148h4M47 117h4M45 124h4M82 114h4M87 167h4M62 116h4M20 130h4M63 129h4M25 124h4M84 98h4M85 127h4M35 121h4M56 131h4M70 146h4M51 67h4M82 112h4M77 120h4M28 138h4M39 125h4M24 80h4M29 136h4M49 88h4M70 130h4M25 98h4M20 144h4M73 123h4M54 104h4M53 129h4M35 87h4M65 92h4M89 104h4M77 167h4M22 151h4M52 140h4M82 101h4M40 95h4M85 104h4M49 113h4M51 117h4M73 75h4M40 139h4M52 109h4M83 98h4M40 129h4M82 105h4M30 119h4M59 164h4M79 153h4M56 101h4M50 103h4M46 126h4M34 112h4M59 105h4M59 114h4M78 99h4M54 47h4M77 110h4M69 87h4M112 103h4M42 92h4M33 112h4M29 124h4M61 123h4M88 114h4M42 148h4M34 139h4M90 56h4M99 61h4M89 66h4M137 102h4M101 18h4M94 66h4M80 60h4M76 76h4M131 79h4M121 78h4M95 92h4M131 82h4M139 62h4M108 60h4M137 48h4M119 53h4M131 71h4M141 65h4M97 70h4M95 75h4M131 53h4M101 65h4M107 56h4M105 54h4M92 104h4M107 83h4M173 65h4M78 53h4M152 61h4M174 56h4M69 68h4M116 70h4M115 55h4M107 48h4M124 77h4M121 94h4M99 79h4M77 66h4M80 77h4M91 32h4M119 53h4M79 66h4M77 79h4M101 50h4M119 27h4M57 65h4M85 44h4M73 83h4M129 59h4M113 51h4M79 28h4M112 48h4M125 66h4M110 77h4M107 57h4M64 85h4M61 18h4M106 94h4M112 43h4M54 68h4M115 73h4M107 28h4" stroke="#cb2d10" stroke-width="4" fill="none"/>
</g></g>
<rect x="409.5" y="761.5" width="61" height="54" fill="none" stroke="#3a3a3a" stroke-width=".85"/>
<path d="M437.5 761.5L437.5 815.5" stroke="#222" stroke-width="1" fill="none"/>
<path d="M409.5 792.5L470.5 792.5" stroke="#222" stroke-width="1" fill="none"/>
<text x="411.5" y="767.1" font-size="5.3" text-anchor="start" fill="#262626">66.79</text>
<text x="468.9" y="767.1" font-size="5.3" text-anchor="end" fill="#262626">5.32</text>
<text x="411.7" y="813.7" font-size="5.3" text-anchor="start" fill="#7a1205">25.81</text>
<text x="468.9" y="813.7" font-size="5.3" text-anchor="end" fill="#262626">0.07</text>
<path d="M410.1 815.5v2.2M409.5 814.9h-2.2M414.58 815.5v1M409.5 810.95h-1M417.2 815.5v1M409.5 808.64h-1M419.06 815.5v1M409.5 807h-1M420.5 815.5v1M409.5 805.73h-1M421.67 815.5v1M409.5 804.69h-1M422.67 815.5v1M409.5 803.81h-1M423.53 815.5v1M409.5 803.05h-1M424.29 815.5v1M409.5 802.38h-1M424.98 815.5v2.2M409.5 801.77h-2.2M429.45 815.5v1M409.5 797.82h-1M432.07 815.5v1M409.5 795.51h-1M433.93 815.5v1M409.5 793.87h-1M435.37 815.5v1M409.5 792.6h-1M436.55 815.5v1M409.5 791.56h-1M437.55 815.5v1M409.5 790.68h-1M438.41 815.5v1M409.5 789.92h-1M439.17 815.5v1M409.5 789.25h-1M439.85 815.5v2.2M409.5 788.65h-2.2M444.33 815.5v1M409.5 784.7h-1M446.95 815.5v1M409.5 782.39h-1M448.81 815.5v1M409.5 780.75h-1M450.25 815.5v1M409.5 779.48h-1M451.42 815.5v1M409.5 778.44h-1M452.42 815.5v1M409.5 777.56h-1M453.28 815.5v1M409.5 776.8h-1M454.04 815.5v1M409.5 776.13h-1M454.73 815.5v2.2M409.5 775.52h-2.2M459.2 815.5v1M409.5 771.57h-1M461.82 815.5v1M409.5 769.26h-1M463.68 815.5v1M409.5 767.62h-1M465.12 815.5v1M409.5 766.35h-1M466.3 815.5v1M409.5 765.31h-1M467.3 815.5v1M409.5 764.43h-1M468.16 815.5v1M409.5 763.67h-1M468.92 815.5v1M409.5 763h-1M469.6 815.5v2.2M409.5 762.4h-2.2" stroke="#333" stroke-width=".45" fill="none"/>
<text x="411.1" y="823.5" font-size="5.7" text-anchor="middle" fill="#000">10<tspan font-size="3.8" dy="-2.3">0</tspan></text>
<text x="406.3" y="813.9" font-size="5.7" text-anchor="middle" fill="#000" transform="rotate(-90 406.3 813.9)">10<tspan font-size="3.8" dy="-2.3">0</tspan></text>
<text x="425.98" y="823.5" font-size="5.7" text-anchor="middle" fill="#000">10<tspan font-size="3.8" dy="-2.3">1</tspan></text>
<text x="406.3" y="800.77" font-size="5.7" text-anchor="middle" fill="#000" transform="rotate(-90 406.3 800.77)">10<tspan font-size="3.8" dy="-2.3">1</tspan></text>
<text x="440.85" y="823.5" font-size="5.7" text-anchor="middle" fill="#000">10<tspan font-size="3.8" dy="-2.3">2</tspan></text>
<text x="406.3" y="787.65" font-size="5.7" text-anchor="middle" fill="#000" transform="rotate(-90 406.3 787.65)">10<tspan font-size="3.8" dy="-2.3">2</tspan></text>
<text x="455.73" y="823.5" font-size="5.7" text-anchor="middle" fill="#000">10<tspan font-size="3.8" dy="-2.3">3</tspan></text>
<text x="406.3" y="774.52" font-size="5.7" text-anchor="middle" fill="#000" transform="rotate(-90 406.3 774.52)">10<tspan font-size="3.8" dy="-2.3">3</tspan></text>
<text x="470.6" y="823.5" font-size="5.7" text-anchor="middle" fill="#000">10<tspan font-size="3.8" dy="-2.3">4</tspan></text>
<text x="406.3" y="761.4" font-size="5.7" text-anchor="middle" fill="#000" transform="rotate(-90 406.3 761.4)">10<tspan font-size="3.8" dy="-2.3">4</tspan></text>
<text x="439.5" y="828.7" font-size="4.6" text-anchor="middle" fill="#333">c-kit</text>
<text x="398.7" y="788.5" font-size="5.6" text-anchor="middle" transform="rotate(-90 398.7 788.5)" fill="#111">CD11b</text>
</g></svg>
</body></html>
